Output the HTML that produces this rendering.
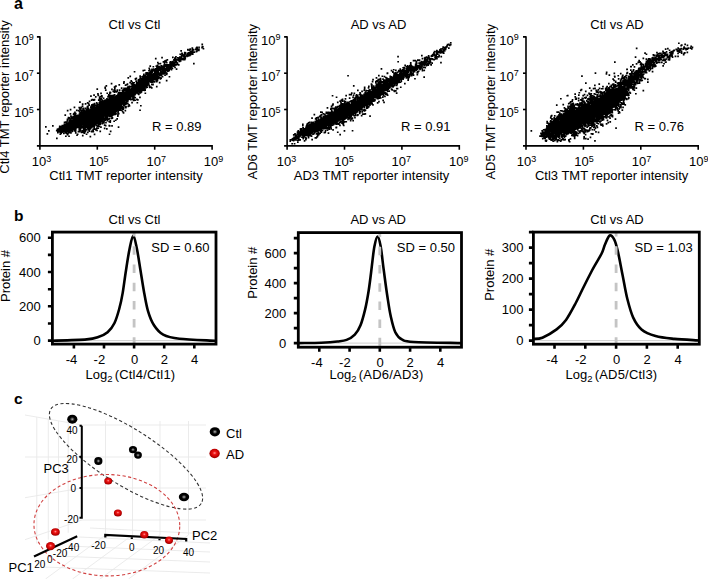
<!DOCTYPE html>
<html><head><meta charset="utf-8"><style>
html,body{margin:0;padding:0;background:#fff;}
svg{display:block;}
text{font-family:"Liberation Sans", sans-serif;fill:#000;}
</style></head><body>
<svg width="708" height="579" viewBox="0 0 708 579">
<defs>
<radialGradient id="gk" cx="0.5" cy="0.5" r="0.5"><stop offset="0" stop-color="#c8c8c8"/><stop offset="0.22" stop-color="#555"/><stop offset="0.5" stop-color="#000"/><stop offset="1" stop-color="#000"/></radialGradient>
<radialGradient id="gr" cx="0.5" cy="0.45" r="0.55"><stop offset="0" stop-color="#ff9a9a"/><stop offset="0.3" stop-color="#f01818"/><stop offset="0.75" stop-color="#c00000"/><stop offset="1" stop-color="#900000"/></radialGradient>
</defs>
<rect width="708" height="579" fill="#fff"/>
<text x="14" y="9" font-size="16" font-weight="bold">a</text>
<text x="14" y="220.5" font-size="15.5" font-weight="bold">b</text>
<text x="14" y="404.3" font-size="15.5" font-weight="bold">c</text>
<path d="M118.0 100.9h1.7v1.7h-1.7zM151.9 73.3h1.7v1.7h-1.7zM133.7 70.9h1.7v1.7h-1.7zM85.3 121.4h1.7v1.7h-1.7zM89.5 116.3h1.7v1.7h-1.7zM145.4 86.9h1.7v1.7h-1.7zM60.0 125.7h1.7v1.7h-1.7zM139.3 87.4h1.7v1.7h-1.7zM134.3 85.3h1.7v1.7h-1.7zM103.1 110.4h1.7v1.7h-1.7zM91.4 111.7h1.7v1.7h-1.7zM87.5 121.2h1.7v1.7h-1.7zM87.1 117.5h1.7v1.7h-1.7zM103.3 114.8h1.7v1.7h-1.7zM108.2 108.0h1.7v1.7h-1.7zM109.8 108.5h1.7v1.7h-1.7zM195.6 50.7h1.7v1.7h-1.7zM134.0 90.2h1.7v1.7h-1.7zM115.0 102.3h1.7v1.7h-1.7zM184.4 57.7h1.7v1.7h-1.7zM85.3 117.7h1.7v1.7h-1.7zM79.5 124.3h1.7v1.7h-1.7zM117.2 100.0h1.7v1.7h-1.7zM68.0 124.0h1.7v1.7h-1.7zM66.6 118.4h1.7v1.7h-1.7zM105.0 112.9h1.7v1.7h-1.7zM104.7 103.7h1.7v1.7h-1.7zM155.2 75.7h1.7v1.7h-1.7zM116.3 118.0h1.7v1.7h-1.7zM104.6 102.9h1.7v1.7h-1.7zM106.4 112.8h1.7v1.7h-1.7zM87.9 116.9h1.7v1.7h-1.7zM61.1 129.5h1.7v1.7h-1.7zM82.6 113.7h1.7v1.7h-1.7zM123.0 97.1h1.7v1.7h-1.7zM84.2 120.3h1.7v1.7h-1.7zM96.2 129.6h1.7v1.7h-1.7zM60.3 132.5h1.7v1.7h-1.7zM139.4 86.8h1.7v1.7h-1.7zM78.8 119.0h1.7v1.7h-1.7zM88.0 128.2h1.7v1.7h-1.7zM145.2 80.0h1.7v1.7h-1.7zM105.6 108.7h1.7v1.7h-1.7zM143.2 82.1h1.7v1.7h-1.7zM117.7 102.9h1.7v1.7h-1.7zM127.3 96.0h1.7v1.7h-1.7zM73.8 120.9h1.7v1.7h-1.7zM106.9 107.7h1.7v1.7h-1.7zM106.0 118.1h1.7v1.7h-1.7zM146.7 84.6h1.7v1.7h-1.7zM96.1 116.2h1.7v1.7h-1.7zM112.9 105.4h1.7v1.7h-1.7zM70.6 123.9h1.7v1.7h-1.7zM99.3 117.6h1.7v1.7h-1.7zM92.2 113.2h1.7v1.7h-1.7zM79.7 120.8h1.7v1.7h-1.7zM136.1 85.5h1.7v1.7h-1.7zM94.8 111.4h1.7v1.7h-1.7zM179.6 58.2h1.7v1.7h-1.7zM113.0 104.2h1.7v1.7h-1.7zM114.4 100.7h1.7v1.7h-1.7zM116.7 101.5h1.7v1.7h-1.7zM120.7 99.0h1.7v1.7h-1.7zM79.9 118.1h1.7v1.7h-1.7zM103.0 107.1h1.7v1.7h-1.7zM86.1 117.4h1.7v1.7h-1.7zM96.8 117.1h1.7v1.7h-1.7zM75.3 126.7h1.7v1.7h-1.7zM173.5 62.6h1.7v1.7h-1.7zM85.0 117.2h1.7v1.7h-1.7zM120.7 98.6h1.7v1.7h-1.7zM93.3 125.1h1.7v1.7h-1.7zM146.7 82.4h1.7v1.7h-1.7zM120.1 95.6h1.7v1.7h-1.7zM75.5 122.0h1.7v1.7h-1.7zM141.3 81.4h1.7v1.7h-1.7zM162.8 66.7h1.7v1.7h-1.7zM152.4 70.0h1.7v1.7h-1.7zM111.6 105.5h1.7v1.7h-1.7zM77.9 115.3h1.7v1.7h-1.7zM84.3 115.9h1.7v1.7h-1.7zM157.2 76.7h1.7v1.7h-1.7zM109.3 111.3h1.7v1.7h-1.7zM81.8 115.6h1.7v1.7h-1.7zM147.2 75.6h1.7v1.7h-1.7zM118.1 97.1h1.7v1.7h-1.7zM111.8 96.5h1.7v1.7h-1.7zM96.3 103.2h1.7v1.7h-1.7zM101.0 110.1h1.7v1.7h-1.7zM86.4 107.2h1.7v1.7h-1.7zM67.1 128.6h1.7v1.7h-1.7zM146.1 79.6h1.7v1.7h-1.7zM101.6 108.5h1.7v1.7h-1.7zM108.8 125.0h1.7v1.7h-1.7zM92.2 119.5h1.7v1.7h-1.7zM128.8 92.7h1.7v1.7h-1.7zM65.5 132.0h1.7v1.7h-1.7zM93.9 121.8h1.7v1.7h-1.7zM64.5 123.9h1.7v1.7h-1.7zM74.8 123.9h1.7v1.7h-1.7zM173.9 59.5h1.7v1.7h-1.7zM118.6 94.8h1.7v1.7h-1.7zM99.9 121.7h1.7v1.7h-1.7zM106.4 116.0h1.7v1.7h-1.7zM147.3 74.7h1.7v1.7h-1.7zM93.8 117.6h1.7v1.7h-1.7zM113.2 96.9h1.7v1.7h-1.7zM119.7 103.7h1.7v1.7h-1.7zM96.2 113.6h1.7v1.7h-1.7zM107.6 104.8h1.7v1.7h-1.7zM131.5 94.3h1.7v1.7h-1.7zM154.9 73.7h1.7v1.7h-1.7zM78.9 118.2h1.7v1.7h-1.7zM159.7 73.4h1.7v1.7h-1.7zM60.0 128.5h1.7v1.7h-1.7zM129.9 94.3h1.7v1.7h-1.7zM136.7 86.7h1.7v1.7h-1.7zM77.9 124.6h1.7v1.7h-1.7zM99.2 115.6h1.7v1.7h-1.7zM138.3 88.0h1.7v1.7h-1.7zM63.3 125.7h1.7v1.7h-1.7zM116.4 109.7h1.7v1.7h-1.7zM136.4 86.3h1.7v1.7h-1.7zM105.2 118.3h1.7v1.7h-1.7zM126.0 90.4h1.7v1.7h-1.7zM87.0 116.4h1.7v1.7h-1.7zM82.6 118.1h1.7v1.7h-1.7zM94.0 120.9h1.7v1.7h-1.7zM82.9 117.2h1.7v1.7h-1.7zM94.9 119.3h1.7v1.7h-1.7zM163.4 64.0h1.7v1.7h-1.7zM112.3 102.5h1.7v1.7h-1.7zM92.9 116.7h1.7v1.7h-1.7zM87.4 117.1h1.7v1.7h-1.7zM165.9 61.8h1.7v1.7h-1.7zM101.1 114.0h1.7v1.7h-1.7zM179.0 56.2h1.7v1.7h-1.7zM106.5 118.1h1.7v1.7h-1.7zM106.3 107.6h1.7v1.7h-1.7zM151.0 83.6h1.7v1.7h-1.7zM128.2 95.1h1.7v1.7h-1.7zM112.9 106.3h1.7v1.7h-1.7zM99.8 109.6h1.7v1.7h-1.7zM146.1 79.0h1.7v1.7h-1.7zM97.9 115.4h1.7v1.7h-1.7zM156.7 66.5h1.7v1.7h-1.7zM72.4 127.4h1.7v1.7h-1.7zM101.4 105.3h1.7v1.7h-1.7zM106.6 105.8h1.7v1.7h-1.7zM166.5 59.0h1.7v1.7h-1.7zM86.0 123.0h1.7v1.7h-1.7zM137.3 88.6h1.7v1.7h-1.7zM120.6 101.2h1.7v1.7h-1.7zM126.1 95.7h1.7v1.7h-1.7zM117.1 100.0h1.7v1.7h-1.7zM174.6 61.8h1.7v1.7h-1.7zM93.7 121.4h1.7v1.7h-1.7zM97.1 111.2h1.7v1.7h-1.7zM83.3 121.4h1.7v1.7h-1.7zM69.7 127.5h1.7v1.7h-1.7zM88.3 116.1h1.7v1.7h-1.7zM155.8 73.7h1.7v1.7h-1.7zM141.3 84.0h1.7v1.7h-1.7zM74.6 120.8h1.7v1.7h-1.7zM115.2 113.1h1.7v1.7h-1.7zM102.5 106.0h1.7v1.7h-1.7zM112.5 112.2h1.7v1.7h-1.7zM119.6 103.7h1.7v1.7h-1.7zM90.2 106.3h1.7v1.7h-1.7zM171.4 64.2h1.7v1.7h-1.7zM104.3 115.2h1.7v1.7h-1.7zM115.8 105.8h1.7v1.7h-1.7zM116.4 98.2h1.7v1.7h-1.7zM80.5 122.7h1.7v1.7h-1.7zM68.7 117.8h1.7v1.7h-1.7zM99.6 106.8h1.7v1.7h-1.7zM131.4 88.9h1.7v1.7h-1.7zM137.9 86.3h1.7v1.7h-1.7zM127.0 99.2h1.7v1.7h-1.7zM75.1 123.9h1.7v1.7h-1.7zM155.0 76.9h1.7v1.7h-1.7zM134.3 84.5h1.7v1.7h-1.7zM147.3 75.1h1.7v1.7h-1.7zM109.0 104.5h1.7v1.7h-1.7zM156.5 78.0h1.7v1.7h-1.7zM67.6 122.3h1.7v1.7h-1.7zM65.3 123.2h1.7v1.7h-1.7zM65.2 127.1h1.7v1.7h-1.7zM89.1 123.0h1.7v1.7h-1.7zM85.5 110.4h1.7v1.7h-1.7zM81.7 118.4h1.7v1.7h-1.7zM111.2 99.1h1.7v1.7h-1.7zM68.2 135.4h1.7v1.7h-1.7zM112.1 107.9h1.7v1.7h-1.7zM81.0 121.1h1.7v1.7h-1.7zM120.8 98.5h1.7v1.7h-1.7zM66.3 126.2h1.7v1.7h-1.7zM92.1 116.6h1.7v1.7h-1.7zM161.2 67.9h1.7v1.7h-1.7zM108.3 102.9h1.7v1.7h-1.7zM138.1 81.9h1.7v1.7h-1.7zM119.8 99.4h1.7v1.7h-1.7zM113.7 96.2h1.7v1.7h-1.7zM82.7 123.4h1.7v1.7h-1.7zM110.3 96.0h1.7v1.7h-1.7zM66.3 128.4h1.7v1.7h-1.7zM134.4 90.0h1.7v1.7h-1.7zM168.0 69.1h1.7v1.7h-1.7zM142.6 81.4h1.7v1.7h-1.7zM67.6 116.7h1.7v1.7h-1.7zM94.3 110.0h1.7v1.7h-1.7zM93.1 128.2h1.7v1.7h-1.7zM75.4 121.1h1.7v1.7h-1.7zM115.1 101.0h1.7v1.7h-1.7zM135.9 85.2h1.7v1.7h-1.7zM89.9 116.4h1.7v1.7h-1.7zM142.8 81.3h1.7v1.7h-1.7zM135.8 82.1h1.7v1.7h-1.7zM77.8 118.5h1.7v1.7h-1.7zM132.1 93.2h1.7v1.7h-1.7zM148.0 83.3h1.7v1.7h-1.7zM81.7 119.0h1.7v1.7h-1.7zM111.0 103.0h1.7v1.7h-1.7zM117.9 112.8h1.7v1.7h-1.7zM113.9 102.0h1.7v1.7h-1.7zM73.3 119.0h1.7v1.7h-1.7zM118.1 99.7h1.7v1.7h-1.7zM115.5 105.5h1.7v1.7h-1.7zM139.6 89.7h1.7v1.7h-1.7zM136.4 85.2h1.7v1.7h-1.7zM91.8 118.9h1.7v1.7h-1.7zM124.8 94.4h1.7v1.7h-1.7zM144.9 84.5h1.7v1.7h-1.7zM150.7 77.3h1.7v1.7h-1.7zM78.8 123.2h1.7v1.7h-1.7zM64.9 124.9h1.7v1.7h-1.7zM116.3 100.6h1.7v1.7h-1.7zM83.1 117.6h1.7v1.7h-1.7zM111.1 88.6h1.7v1.7h-1.7zM164.3 70.4h1.7v1.7h-1.7zM95.6 114.1h1.7v1.7h-1.7zM86.6 116.9h1.7v1.7h-1.7zM103.3 108.4h1.7v1.7h-1.7zM118.7 100.4h1.7v1.7h-1.7zM73.9 125.1h1.7v1.7h-1.7zM97.4 106.4h1.7v1.7h-1.7zM77.8 121.6h1.7v1.7h-1.7zM120.7 99.1h1.7v1.7h-1.7zM140.5 83.8h1.7v1.7h-1.7zM96.0 106.2h1.7v1.7h-1.7zM96.1 112.4h1.7v1.7h-1.7zM108.7 100.7h1.7v1.7h-1.7zM83.0 120.8h1.7v1.7h-1.7zM85.9 124.5h1.7v1.7h-1.7zM94.1 119.4h1.7v1.7h-1.7zM101.0 109.7h1.7v1.7h-1.7zM73.4 121.3h1.7v1.7h-1.7zM129.7 90.0h1.7v1.7h-1.7zM111.9 108.4h1.7v1.7h-1.7zM91.4 112.7h1.7v1.7h-1.7zM72.4 121.8h1.7v1.7h-1.7zM131.9 82.1h1.7v1.7h-1.7zM76.9 117.9h1.7v1.7h-1.7zM77.3 118.0h1.7v1.7h-1.7zM77.1 119.2h1.7v1.7h-1.7zM74.2 127.6h1.7v1.7h-1.7zM154.0 69.9h1.7v1.7h-1.7zM87.7 110.8h1.7v1.7h-1.7zM91.1 123.0h1.7v1.7h-1.7zM139.4 77.5h1.7v1.7h-1.7zM115.6 101.7h1.7v1.7h-1.7zM82.3 120.2h1.7v1.7h-1.7zM103.2 110.4h1.7v1.7h-1.7zM146.6 76.7h1.7v1.7h-1.7zM97.5 118.0h1.7v1.7h-1.7zM125.0 106.7h1.7v1.7h-1.7zM73.3 119.6h1.7v1.7h-1.7zM126.3 93.5h1.7v1.7h-1.7zM131.9 93.1h1.7v1.7h-1.7zM139.1 84.1h1.7v1.7h-1.7zM121.8 94.1h1.7v1.7h-1.7zM94.6 112.4h1.7v1.7h-1.7zM71.7 130.4h1.7v1.7h-1.7zM106.8 103.2h1.7v1.7h-1.7zM131.5 92.2h1.7v1.7h-1.7zM82.8 121.0h1.7v1.7h-1.7zM89.6 113.5h1.7v1.7h-1.7zM109.1 109.4h1.7v1.7h-1.7zM130.0 93.6h1.7v1.7h-1.7zM151.0 79.6h1.7v1.7h-1.7zM76.0 125.8h1.7v1.7h-1.7zM82.6 112.2h1.7v1.7h-1.7zM136.1 89.9h1.7v1.7h-1.7zM120.0 101.5h1.7v1.7h-1.7zM123.7 99.9h1.7v1.7h-1.7zM195.5 47.2h1.7v1.7h-1.7zM162.7 71.5h1.7v1.7h-1.7zM140.4 86.6h1.7v1.7h-1.7zM132.3 86.2h1.7v1.7h-1.7zM100.1 126.2h1.7v1.7h-1.7zM119.0 96.9h1.7v1.7h-1.7zM81.0 109.7h1.7v1.7h-1.7zM131.7 91.5h1.7v1.7h-1.7zM131.2 86.5h1.7v1.7h-1.7zM126.5 95.4h1.7v1.7h-1.7zM102.0 109.7h1.7v1.7h-1.7zM97.0 116.7h1.7v1.7h-1.7zM98.9 116.7h1.7v1.7h-1.7zM65.6 127.0h1.7v1.7h-1.7zM142.5 85.3h1.7v1.7h-1.7zM109.1 110.8h1.7v1.7h-1.7zM99.3 103.0h1.7v1.7h-1.7zM109.1 115.6h1.7v1.7h-1.7zM123.4 98.9h1.7v1.7h-1.7zM96.6 114.3h1.7v1.7h-1.7zM140.0 87.9h1.7v1.7h-1.7zM156.5 77.7h1.7v1.7h-1.7zM97.5 121.8h1.7v1.7h-1.7zM77.1 115.2h1.7v1.7h-1.7zM131.9 91.6h1.7v1.7h-1.7zM189.9 51.0h1.7v1.7h-1.7zM79.6 119.1h1.7v1.7h-1.7zM124.5 97.0h1.7v1.7h-1.7zM137.8 84.7h1.7v1.7h-1.7zM157.8 76.8h1.7v1.7h-1.7zM74.1 124.0h1.7v1.7h-1.7zM72.7 123.9h1.7v1.7h-1.7zM186.1 55.5h1.7v1.7h-1.7zM75.7 125.4h1.7v1.7h-1.7zM82.0 131.4h1.7v1.7h-1.7zM111.6 108.0h1.7v1.7h-1.7zM101.3 111.0h1.7v1.7h-1.7zM131.3 91.0h1.7v1.7h-1.7zM82.2 109.3h1.7v1.7h-1.7zM154.7 69.1h1.7v1.7h-1.7zM83.5 129.7h1.7v1.7h-1.7zM130.7 90.0h1.7v1.7h-1.7zM71.4 130.6h1.7v1.7h-1.7zM104.3 119.2h1.7v1.7h-1.7zM66.0 123.6h1.7v1.7h-1.7zM91.3 117.9h1.7v1.7h-1.7zM92.5 130.7h1.7v1.7h-1.7zM123.9 93.4h1.7v1.7h-1.7zM102.1 113.0h1.7v1.7h-1.7zM69.2 124.7h1.7v1.7h-1.7zM192.7 49.0h1.7v1.7h-1.7zM149.5 76.4h1.7v1.7h-1.7zM154.7 73.7h1.7v1.7h-1.7zM86.1 126.2h1.7v1.7h-1.7zM99.7 108.0h1.7v1.7h-1.7zM86.1 120.5h1.7v1.7h-1.7zM78.0 117.9h1.7v1.7h-1.7zM66.1 128.4h1.7v1.7h-1.7zM107.0 109.7h1.7v1.7h-1.7zM77.4 118.0h1.7v1.7h-1.7zM82.5 120.0h1.7v1.7h-1.7zM146.7 76.8h1.7v1.7h-1.7zM104.3 105.4h1.7v1.7h-1.7zM82.1 124.9h1.7v1.7h-1.7zM120.3 92.0h1.7v1.7h-1.7zM84.9 121.2h1.7v1.7h-1.7zM106.4 112.1h1.7v1.7h-1.7zM89.7 113.8h1.7v1.7h-1.7zM107.6 113.1h1.7v1.7h-1.7zM115.8 106.1h1.7v1.7h-1.7zM109.7 100.2h1.7v1.7h-1.7zM99.3 115.1h1.7v1.7h-1.7zM133.9 90.2h1.7v1.7h-1.7zM148.0 76.0h1.7v1.7h-1.7zM83.3 121.8h1.7v1.7h-1.7zM78.3 128.1h1.7v1.7h-1.7zM74.7 119.8h1.7v1.7h-1.7zM181.1 52.4h1.7v1.7h-1.7zM162.2 70.4h1.7v1.7h-1.7zM85.3 114.8h1.7v1.7h-1.7zM174.2 57.2h1.7v1.7h-1.7zM83.3 115.2h1.7v1.7h-1.7zM107.3 96.1h1.7v1.7h-1.7zM106.3 106.9h1.7v1.7h-1.7zM156.3 77.4h1.7v1.7h-1.7zM67.8 117.6h1.7v1.7h-1.7zM91.3 118.6h1.7v1.7h-1.7zM113.7 99.6h1.7v1.7h-1.7zM71.5 122.8h1.7v1.7h-1.7zM85.7 108.7h1.7v1.7h-1.7zM106.1 112.0h1.7v1.7h-1.7zM147.7 78.6h1.7v1.7h-1.7zM129.9 89.2h1.7v1.7h-1.7zM140.7 79.2h1.7v1.7h-1.7zM131.2 89.3h1.7v1.7h-1.7zM124.3 100.1h1.7v1.7h-1.7zM142.4 78.2h1.7v1.7h-1.7zM122.0 101.2h1.7v1.7h-1.7zM128.3 94.0h1.7v1.7h-1.7zM91.9 105.7h1.7v1.7h-1.7zM80.2 125.2h1.7v1.7h-1.7zM130.4 91.2h1.7v1.7h-1.7zM81.2 130.1h1.7v1.7h-1.7zM156.9 77.7h1.7v1.7h-1.7zM110.5 104.7h1.7v1.7h-1.7zM92.3 115.1h1.7v1.7h-1.7zM160.1 67.4h1.7v1.7h-1.7zM79.3 114.2h1.7v1.7h-1.7zM107.0 112.1h1.7v1.7h-1.7zM74.4 121.8h1.7v1.7h-1.7zM172.4 61.8h1.7v1.7h-1.7zM111.6 104.3h1.7v1.7h-1.7zM136.0 89.3h1.7v1.7h-1.7zM91.4 121.1h1.7v1.7h-1.7zM135.1 87.8h1.7v1.7h-1.7zM124.1 95.4h1.7v1.7h-1.7zM119.4 100.2h1.7v1.7h-1.7zM165.8 79.8h1.7v1.7h-1.7zM98.8 101.7h1.7v1.7h-1.7zM99.8 106.0h1.7v1.7h-1.7zM122.3 99.3h1.7v1.7h-1.7zM140.3 84.4h1.7v1.7h-1.7zM94.6 121.1h1.7v1.7h-1.7zM120.8 109.6h1.7v1.7h-1.7zM83.7 128.4h1.7v1.7h-1.7zM110.7 97.7h1.7v1.7h-1.7zM131.9 92.1h1.7v1.7h-1.7zM70.6 123.9h1.7v1.7h-1.7zM126.8 97.3h1.7v1.7h-1.7zM63.0 129.0h1.7v1.7h-1.7zM168.3 68.0h1.7v1.7h-1.7zM103.0 102.3h1.7v1.7h-1.7zM99.1 114.5h1.7v1.7h-1.7zM124.8 93.8h1.7v1.7h-1.7zM106.3 107.3h1.7v1.7h-1.7zM128.2 91.5h1.7v1.7h-1.7zM72.6 120.0h1.7v1.7h-1.7zM110.7 111.0h1.7v1.7h-1.7zM110.2 107.5h1.7v1.7h-1.7zM159.6 78.0h1.7v1.7h-1.7zM67.1 123.6h1.7v1.7h-1.7zM102.3 100.6h1.7v1.7h-1.7zM115.8 96.5h1.7v1.7h-1.7zM110.6 105.0h1.7v1.7h-1.7zM70.9 127.3h1.7v1.7h-1.7zM114.3 113.5h1.7v1.7h-1.7zM83.1 131.8h1.7v1.7h-1.7zM81.8 126.8h1.7v1.7h-1.7zM148.5 80.5h1.7v1.7h-1.7zM82.9 120.5h1.7v1.7h-1.7zM101.7 107.2h1.7v1.7h-1.7zM129.5 94.1h1.7v1.7h-1.7zM123.2 95.0h1.7v1.7h-1.7zM110.0 102.3h1.7v1.7h-1.7zM134.3 90.4h1.7v1.7h-1.7zM102.8 111.8h1.7v1.7h-1.7zM115.0 106.6h1.7v1.7h-1.7zM138.7 82.8h1.7v1.7h-1.7zM122.1 102.1h1.7v1.7h-1.7zM116.8 103.2h1.7v1.7h-1.7zM100.4 110.9h1.7v1.7h-1.7zM109.7 102.7h1.7v1.7h-1.7zM96.0 108.4h1.7v1.7h-1.7zM126.1 89.9h1.7v1.7h-1.7zM98.5 120.2h1.7v1.7h-1.7zM103.2 103.0h1.7v1.7h-1.7zM129.2 96.7h1.7v1.7h-1.7zM105.3 108.0h1.7v1.7h-1.7zM92.7 112.7h1.7v1.7h-1.7zM140.6 82.1h1.7v1.7h-1.7zM96.9 113.1h1.7v1.7h-1.7zM143.7 84.6h1.7v1.7h-1.7zM133.4 90.9h1.7v1.7h-1.7zM99.5 112.3h1.7v1.7h-1.7zM125.7 90.1h1.7v1.7h-1.7zM65.9 122.2h1.7v1.7h-1.7zM97.4 123.2h1.7v1.7h-1.7zM145.9 76.5h1.7v1.7h-1.7zM111.8 97.7h1.7v1.7h-1.7zM111.4 110.5h1.7v1.7h-1.7zM119.9 93.5h1.7v1.7h-1.7zM120.4 101.9h1.7v1.7h-1.7zM112.9 108.5h1.7v1.7h-1.7zM99.3 113.7h1.7v1.7h-1.7zM83.1 123.8h1.7v1.7h-1.7zM91.4 109.0h1.7v1.7h-1.7zM90.5 110.2h1.7v1.7h-1.7zM101.2 109.4h1.7v1.7h-1.7zM201.2 46.9h1.7v1.7h-1.7zM94.6 114.3h1.7v1.7h-1.7zM102.8 113.1h1.7v1.7h-1.7zM96.0 110.1h1.7v1.7h-1.7zM112.9 94.6h1.7v1.7h-1.7zM163.6 69.6h1.7v1.7h-1.7zM149.6 76.6h1.7v1.7h-1.7zM97.1 117.8h1.7v1.7h-1.7zM87.7 128.0h1.7v1.7h-1.7zM148.2 78.6h1.7v1.7h-1.7zM104.8 116.4h1.7v1.7h-1.7zM122.7 93.9h1.7v1.7h-1.7zM70.8 127.7h1.7v1.7h-1.7zM145.8 81.1h1.7v1.7h-1.7zM93.5 116.6h1.7v1.7h-1.7zM105.7 113.8h1.7v1.7h-1.7zM81.4 114.4h1.7v1.7h-1.7zM100.0 115.0h1.7v1.7h-1.7zM140.5 85.4h1.7v1.7h-1.7zM139.1 96.6h1.7v1.7h-1.7zM104.9 89.3h1.7v1.7h-1.7zM132.0 89.8h1.7v1.7h-1.7zM103.1 122.0h1.7v1.7h-1.7zM96.1 111.8h1.7v1.7h-1.7zM108.8 104.8h1.7v1.7h-1.7zM83.1 127.7h1.7v1.7h-1.7zM92.3 129.1h1.7v1.7h-1.7zM124.7 96.1h1.7v1.7h-1.7zM132.1 87.7h1.7v1.7h-1.7zM69.2 123.5h1.7v1.7h-1.7zM127.2 92.4h1.7v1.7h-1.7zM138.3 82.6h1.7v1.7h-1.7zM100.1 107.7h1.7v1.7h-1.7zM69.4 125.9h1.7v1.7h-1.7zM120.9 98.8h1.7v1.7h-1.7zM86.7 120.3h1.7v1.7h-1.7zM117.5 101.3h1.7v1.7h-1.7zM96.4 107.5h1.7v1.7h-1.7zM116.4 108.8h1.7v1.7h-1.7zM88.5 118.5h1.7v1.7h-1.7zM104.3 106.8h1.7v1.7h-1.7zM106.0 107.4h1.7v1.7h-1.7zM116.7 103.1h1.7v1.7h-1.7zM82.3 120.3h1.7v1.7h-1.7zM172.0 62.8h1.7v1.7h-1.7zM89.7 120.8h1.7v1.7h-1.7zM91.0 121.9h1.7v1.7h-1.7zM87.8 115.9h1.7v1.7h-1.7zM70.6 124.6h1.7v1.7h-1.7zM100.0 106.2h1.7v1.7h-1.7zM133.4 87.9h1.7v1.7h-1.7zM124.8 97.3h1.7v1.7h-1.7zM83.7 123.1h1.7v1.7h-1.7zM79.1 121.3h1.7v1.7h-1.7zM91.6 115.7h1.7v1.7h-1.7zM133.1 87.0h1.7v1.7h-1.7zM105.6 110.2h1.7v1.7h-1.7zM158.1 68.3h1.7v1.7h-1.7zM118.2 101.2h1.7v1.7h-1.7zM116.5 101.9h1.7v1.7h-1.7zM131.7 87.4h1.7v1.7h-1.7zM128.6 93.7h1.7v1.7h-1.7zM96.5 111.4h1.7v1.7h-1.7zM88.3 120.4h1.7v1.7h-1.7zM100.9 106.2h1.7v1.7h-1.7zM105.2 111.9h1.7v1.7h-1.7zM79.3 127.6h1.7v1.7h-1.7zM102.6 112.9h1.7v1.7h-1.7zM118.1 104.0h1.7v1.7h-1.7zM79.0 117.6h1.7v1.7h-1.7zM79.5 118.8h1.7v1.7h-1.7zM79.8 111.6h1.7v1.7h-1.7zM89.2 115.4h1.7v1.7h-1.7zM169.2 61.8h1.7v1.7h-1.7zM65.0 127.6h1.7v1.7h-1.7zM83.3 109.2h1.7v1.7h-1.7zM81.0 115.8h1.7v1.7h-1.7zM102.8 111.0h1.7v1.7h-1.7zM62.4 129.0h1.7v1.7h-1.7zM103.7 101.4h1.7v1.7h-1.7zM79.6 118.4h1.7v1.7h-1.7zM88.6 130.2h1.7v1.7h-1.7zM134.8 90.6h1.7v1.7h-1.7zM80.1 121.8h1.7v1.7h-1.7zM116.2 90.4h1.7v1.7h-1.7zM99.2 107.6h1.7v1.7h-1.7zM100.2 114.6h1.7v1.7h-1.7zM136.9 87.3h1.7v1.7h-1.7zM79.2 122.5h1.7v1.7h-1.7zM156.7 79.0h1.7v1.7h-1.7zM150.6 76.9h1.7v1.7h-1.7zM120.3 106.3h1.7v1.7h-1.7zM68.6 120.1h1.7v1.7h-1.7zM121.5 107.6h1.7v1.7h-1.7zM115.2 101.4h1.7v1.7h-1.7zM131.2 86.3h1.7v1.7h-1.7zM83.7 126.1h1.7v1.7h-1.7zM168.3 69.2h1.7v1.7h-1.7zM148.6 85.1h1.7v1.7h-1.7zM77.2 118.7h1.7v1.7h-1.7zM93.7 116.6h1.7v1.7h-1.7zM65.5 129.1h1.7v1.7h-1.7zM139.6 76.2h1.7v1.7h-1.7zM155.2 72.7h1.7v1.7h-1.7zM186.6 53.0h1.7v1.7h-1.7zM113.9 102.2h1.7v1.7h-1.7zM119.6 96.8h1.7v1.7h-1.7zM122.1 92.9h1.7v1.7h-1.7zM110.9 107.6h1.7v1.7h-1.7zM166.0 67.6h1.7v1.7h-1.7zM114.1 108.5h1.7v1.7h-1.7zM92.3 115.5h1.7v1.7h-1.7zM108.2 104.0h1.7v1.7h-1.7zM61.2 125.9h1.7v1.7h-1.7zM125.5 95.3h1.7v1.7h-1.7zM123.4 95.5h1.7v1.7h-1.7zM98.5 123.2h1.7v1.7h-1.7zM143.6 89.5h1.7v1.7h-1.7zM131.1 95.7h1.7v1.7h-1.7zM92.8 110.8h1.7v1.7h-1.7zM72.2 118.9h1.7v1.7h-1.7zM76.4 120.8h1.7v1.7h-1.7zM82.4 115.1h1.7v1.7h-1.7zM91.4 123.6h1.7v1.7h-1.7zM102.1 111.5h1.7v1.7h-1.7zM159.8 68.0h1.7v1.7h-1.7zM89.8 116.7h1.7v1.7h-1.7zM152.8 79.1h1.7v1.7h-1.7zM122.1 94.1h1.7v1.7h-1.7zM142.1 84.3h1.7v1.7h-1.7zM98.9 97.6h1.7v1.7h-1.7zM58.8 129.1h1.7v1.7h-1.7zM132.4 87.7h1.7v1.7h-1.7zM88.2 118.9h1.7v1.7h-1.7zM78.5 122.3h1.7v1.7h-1.7zM135.8 91.2h1.7v1.7h-1.7zM121.2 101.0h1.7v1.7h-1.7zM84.3 115.7h1.7v1.7h-1.7zM88.8 110.4h1.7v1.7h-1.7zM161.3 67.2h1.7v1.7h-1.7zM88.7 115.0h1.7v1.7h-1.7zM121.6 96.2h1.7v1.7h-1.7zM78.6 117.3h1.7v1.7h-1.7zM136.5 90.3h1.7v1.7h-1.7zM74.0 126.6h1.7v1.7h-1.7zM106.0 107.3h1.7v1.7h-1.7zM65.6 125.8h1.7v1.7h-1.7zM110.2 104.8h1.7v1.7h-1.7zM141.3 83.0h1.7v1.7h-1.7zM73.1 123.4h1.7v1.7h-1.7zM88.1 109.2h1.7v1.7h-1.7zM133.2 87.8h1.7v1.7h-1.7zM115.1 85.3h1.7v1.7h-1.7zM93.9 115.4h1.7v1.7h-1.7zM115.4 108.8h1.7v1.7h-1.7zM103.1 104.8h1.7v1.7h-1.7zM143.8 81.9h1.7v1.7h-1.7zM91.0 113.1h1.7v1.7h-1.7zM130.8 88.7h1.7v1.7h-1.7zM115.5 110.9h1.7v1.7h-1.7zM126.9 100.5h1.7v1.7h-1.7zM95.6 116.7h1.7v1.7h-1.7zM124.7 94.1h1.7v1.7h-1.7zM122.6 98.8h1.7v1.7h-1.7zM96.5 112.7h1.7v1.7h-1.7zM63.6 128.8h1.7v1.7h-1.7zM170.8 61.5h1.7v1.7h-1.7zM125.5 94.7h1.7v1.7h-1.7zM82.3 117.5h1.7v1.7h-1.7zM126.3 83.9h1.7v1.7h-1.7zM89.4 125.5h1.7v1.7h-1.7zM103.3 114.6h1.7v1.7h-1.7zM143.6 78.7h1.7v1.7h-1.7zM102.7 102.9h1.7v1.7h-1.7zM90.9 112.6h1.7v1.7h-1.7zM92.1 106.5h1.7v1.7h-1.7zM71.7 121.9h1.7v1.7h-1.7zM86.8 110.3h1.7v1.7h-1.7zM90.5 112.2h1.7v1.7h-1.7zM80.6 120.2h1.7v1.7h-1.7zM70.1 127.9h1.7v1.7h-1.7zM104.4 87.4h1.7v1.7h-1.7zM83.6 118.9h1.7v1.7h-1.7zM128.2 85.9h1.7v1.7h-1.7zM157.0 69.0h1.7v1.7h-1.7zM88.2 113.8h1.7v1.7h-1.7zM111.3 102.1h1.7v1.7h-1.7zM104.7 113.2h1.7v1.7h-1.7zM71.2 126.8h1.7v1.7h-1.7zM74.8 121.3h1.7v1.7h-1.7zM150.9 74.2h1.7v1.7h-1.7zM105.4 118.5h1.7v1.7h-1.7zM137.4 92.3h1.7v1.7h-1.7zM71.0 125.8h1.7v1.7h-1.7zM114.4 102.5h1.7v1.7h-1.7zM146.5 82.9h1.7v1.7h-1.7zM146.5 84.4h1.7v1.7h-1.7zM60.5 126.8h1.7v1.7h-1.7zM106.5 117.6h1.7v1.7h-1.7zM96.5 112.8h1.7v1.7h-1.7zM129.8 95.1h1.7v1.7h-1.7zM70.3 123.1h1.7v1.7h-1.7zM87.2 118.0h1.7v1.7h-1.7zM137.7 84.3h1.7v1.7h-1.7zM104.6 109.8h1.7v1.7h-1.7zM100.9 116.8h1.7v1.7h-1.7zM175.1 56.0h1.7v1.7h-1.7zM93.9 113.4h1.7v1.7h-1.7zM67.0 128.0h1.7v1.7h-1.7zM97.3 110.8h1.7v1.7h-1.7zM79.3 129.7h1.7v1.7h-1.7zM73.5 117.7h1.7v1.7h-1.7zM110.7 117.6h1.7v1.7h-1.7zM165.6 65.3h1.7v1.7h-1.7zM112.4 109.0h1.7v1.7h-1.7zM116.1 109.0h1.7v1.7h-1.7zM92.9 118.3h1.7v1.7h-1.7zM112.5 90.5h1.7v1.7h-1.7zM129.7 89.4h1.7v1.7h-1.7zM113.7 104.3h1.7v1.7h-1.7zM136.4 88.7h1.7v1.7h-1.7zM110.4 110.5h1.7v1.7h-1.7zM83.2 124.4h1.7v1.7h-1.7zM111.5 112.0h1.7v1.7h-1.7zM104.9 104.4h1.7v1.7h-1.7zM80.3 124.6h1.7v1.7h-1.7zM116.8 94.3h1.7v1.7h-1.7zM139.5 85.0h1.7v1.7h-1.7zM78.2 116.1h1.7v1.7h-1.7zM108.5 98.2h1.7v1.7h-1.7zM126.5 97.4h1.7v1.7h-1.7zM98.4 112.6h1.7v1.7h-1.7zM90.1 121.8h1.7v1.7h-1.7zM96.6 105.2h1.7v1.7h-1.7zM108.9 100.8h1.7v1.7h-1.7zM121.3 97.8h1.7v1.7h-1.7zM111.3 102.1h1.7v1.7h-1.7zM75.4 122.5h1.7v1.7h-1.7zM137.9 83.5h1.7v1.7h-1.7zM157.4 70.9h1.7v1.7h-1.7zM76.2 117.0h1.7v1.7h-1.7zM87.0 131.6h1.7v1.7h-1.7zM82.7 117.6h1.7v1.7h-1.7zM143.8 77.1h1.7v1.7h-1.7zM154.0 78.9h1.7v1.7h-1.7zM68.7 127.2h1.7v1.7h-1.7zM93.2 116.4h1.7v1.7h-1.7zM81.8 120.6h1.7v1.7h-1.7zM103.2 108.2h1.7v1.7h-1.7zM155.8 72.5h1.7v1.7h-1.7zM71.6 116.2h1.7v1.7h-1.7zM80.9 112.5h1.7v1.7h-1.7zM105.4 102.7h1.7v1.7h-1.7zM108.4 108.5h1.7v1.7h-1.7zM125.5 99.3h1.7v1.7h-1.7zM101.5 110.3h1.7v1.7h-1.7zM76.5 120.6h1.7v1.7h-1.7zM95.1 120.4h1.7v1.7h-1.7zM180.4 56.6h1.7v1.7h-1.7zM129.3 94.2h1.7v1.7h-1.7zM77.4 123.2h1.7v1.7h-1.7zM134.9 78.4h1.7v1.7h-1.7zM92.0 117.6h1.7v1.7h-1.7zM133.0 90.0h1.7v1.7h-1.7zM60.1 127.0h1.7v1.7h-1.7zM146.9 75.6h1.7v1.7h-1.7zM80.1 107.3h1.7v1.7h-1.7zM102.0 118.2h1.7v1.7h-1.7zM118.9 108.7h1.7v1.7h-1.7zM109.6 109.8h1.7v1.7h-1.7zM80.0 127.5h1.7v1.7h-1.7zM76.3 116.1h1.7v1.7h-1.7zM88.9 124.3h1.7v1.7h-1.7zM68.5 131.9h1.7v1.7h-1.7zM84.1 126.6h1.7v1.7h-1.7zM77.2 117.2h1.7v1.7h-1.7zM102.1 116.6h1.7v1.7h-1.7zM95.7 113.5h1.7v1.7h-1.7zM112.2 109.6h1.7v1.7h-1.7zM88.2 114.0h1.7v1.7h-1.7zM65.4 127.2h1.7v1.7h-1.7zM92.9 112.4h1.7v1.7h-1.7zM130.6 92.6h1.7v1.7h-1.7zM88.1 116.8h1.7v1.7h-1.7zM98.4 118.7h1.7v1.7h-1.7zM129.8 94.3h1.7v1.7h-1.7zM99.1 117.2h1.7v1.7h-1.7zM151.1 76.1h1.7v1.7h-1.7zM155.2 72.4h1.7v1.7h-1.7zM92.2 115.8h1.7v1.7h-1.7zM128.2 98.3h1.7v1.7h-1.7zM86.5 119.3h1.7v1.7h-1.7zM78.3 123.7h1.7v1.7h-1.7zM101.3 111.1h1.7v1.7h-1.7zM113.6 103.4h1.7v1.7h-1.7zM161.1 67.8h1.7v1.7h-1.7zM79.7 111.5h1.7v1.7h-1.7zM125.9 99.0h1.7v1.7h-1.7zM103.7 113.0h1.7v1.7h-1.7zM77.6 116.8h1.7v1.7h-1.7zM177.9 64.1h1.7v1.7h-1.7zM121.9 93.3h1.7v1.7h-1.7zM77.4 125.7h1.7v1.7h-1.7zM153.8 75.2h1.7v1.7h-1.7zM74.9 123.8h1.7v1.7h-1.7zM74.3 127.3h1.7v1.7h-1.7zM93.5 120.1h1.7v1.7h-1.7zM162.0 69.3h1.7v1.7h-1.7zM67.4 123.1h1.7v1.7h-1.7zM155.6 69.2h1.7v1.7h-1.7zM115.1 103.6h1.7v1.7h-1.7zM70.7 130.1h1.7v1.7h-1.7zM110.8 109.8h1.7v1.7h-1.7zM102.7 110.2h1.7v1.7h-1.7zM109.7 107.9h1.7v1.7h-1.7zM128.4 95.1h1.7v1.7h-1.7zM123.0 103.4h1.7v1.7h-1.7zM198.2 46.6h1.7v1.7h-1.7zM80.9 123.3h1.7v1.7h-1.7zM136.3 88.9h1.7v1.7h-1.7zM100.7 107.5h1.7v1.7h-1.7zM132.6 86.3h1.7v1.7h-1.7zM150.0 86.3h1.7v1.7h-1.7zM191.4 50.9h1.7v1.7h-1.7zM87.3 116.5h1.7v1.7h-1.7zM103.1 111.5h1.7v1.7h-1.7zM163.1 71.6h1.7v1.7h-1.7zM163.6 68.6h1.7v1.7h-1.7zM95.5 122.8h1.7v1.7h-1.7zM162.4 68.3h1.7v1.7h-1.7zM98.3 108.6h1.7v1.7h-1.7zM97.5 111.9h1.7v1.7h-1.7zM131.2 87.6h1.7v1.7h-1.7zM102.2 108.9h1.7v1.7h-1.7zM101.4 117.8h1.7v1.7h-1.7zM97.0 122.5h1.7v1.7h-1.7zM99.6 115.5h1.7v1.7h-1.7zM77.1 122.3h1.7v1.7h-1.7zM70.1 118.3h1.7v1.7h-1.7zM129.4 88.7h1.7v1.7h-1.7zM109.2 108.5h1.7v1.7h-1.7zM120.0 100.7h1.7v1.7h-1.7zM136.3 84.9h1.7v1.7h-1.7zM84.4 116.4h1.7v1.7h-1.7zM85.0 126.2h1.7v1.7h-1.7zM90.9 121.6h1.7v1.7h-1.7zM92.6 115.9h1.7v1.7h-1.7zM128.8 93.2h1.7v1.7h-1.7zM95.1 129.1h1.7v1.7h-1.7zM93.1 117.3h1.7v1.7h-1.7zM115.9 104.4h1.7v1.7h-1.7zM81.8 103.3h1.7v1.7h-1.7zM74.6 115.9h1.7v1.7h-1.7zM123.7 89.3h1.7v1.7h-1.7zM127.4 77.0h1.7v1.7h-1.7zM88.5 117.1h1.7v1.7h-1.7zM115.9 103.7h1.7v1.7h-1.7zM67.3 123.7h1.7v1.7h-1.7zM98.5 115.0h1.7v1.7h-1.7zM110.2 108.1h1.7v1.7h-1.7zM87.9 117.0h1.7v1.7h-1.7zM95.2 106.4h1.7v1.7h-1.7zM114.4 109.6h1.7v1.7h-1.7zM112.6 110.7h1.7v1.7h-1.7zM79.8 117.5h1.7v1.7h-1.7zM125.4 102.0h1.7v1.7h-1.7zM72.4 123.9h1.7v1.7h-1.7zM174.5 57.0h1.7v1.7h-1.7zM83.3 114.7h1.7v1.7h-1.7zM87.1 108.2h1.7v1.7h-1.7zM82.3 117.6h1.7v1.7h-1.7zM189.3 48.3h1.7v1.7h-1.7zM89.7 122.7h1.7v1.7h-1.7zM114.1 104.9h1.7v1.7h-1.7zM189.1 48.9h1.7v1.7h-1.7zM165.8 68.7h1.7v1.7h-1.7zM68.4 120.4h1.7v1.7h-1.7zM105.8 109.7h1.7v1.7h-1.7zM114.5 105.3h1.7v1.7h-1.7zM123.1 97.4h1.7v1.7h-1.7zM92.8 109.5h1.7v1.7h-1.7zM92.2 115.2h1.7v1.7h-1.7zM60.1 128.6h1.7v1.7h-1.7zM67.3 126.5h1.7v1.7h-1.7zM108.9 114.2h1.7v1.7h-1.7zM83.4 126.7h1.7v1.7h-1.7zM93.0 112.0h1.7v1.7h-1.7zM72.8 120.7h1.7v1.7h-1.7zM64.3 127.6h1.7v1.7h-1.7zM156.3 74.1h1.7v1.7h-1.7zM100.7 100.5h1.7v1.7h-1.7zM83.6 115.9h1.7v1.7h-1.7zM124.5 109.8h1.7v1.7h-1.7zM61.8 125.9h1.7v1.7h-1.7zM88.8 113.2h1.7v1.7h-1.7zM169.3 62.8h1.7v1.7h-1.7zM150.7 78.2h1.7v1.7h-1.7zM115.3 102.3h1.7v1.7h-1.7zM73.9 121.7h1.7v1.7h-1.7zM93.2 107.2h1.7v1.7h-1.7zM65.0 128.9h1.7v1.7h-1.7zM85.9 118.1h1.7v1.7h-1.7zM64.9 123.6h1.7v1.7h-1.7zM78.5 120.8h1.7v1.7h-1.7zM117.2 104.7h1.7v1.7h-1.7zM73.4 117.6h1.7v1.7h-1.7zM78.9 113.3h1.7v1.7h-1.7zM150.7 73.0h1.7v1.7h-1.7zM91.9 111.3h1.7v1.7h-1.7zM93.7 98.7h1.7v1.7h-1.7zM73.9 117.9h1.7v1.7h-1.7zM136.9 90.2h1.7v1.7h-1.7zM121.0 95.7h1.7v1.7h-1.7zM109.2 111.7h1.7v1.7h-1.7zM114.3 90.3h1.7v1.7h-1.7zM75.4 121.8h1.7v1.7h-1.7zM88.3 124.4h1.7v1.7h-1.7zM111.8 112.3h1.7v1.7h-1.7zM166.8 65.0h1.7v1.7h-1.7zM138.4 82.4h1.7v1.7h-1.7zM115.7 104.0h1.7v1.7h-1.7zM107.9 94.1h1.7v1.7h-1.7zM62.8 127.2h1.7v1.7h-1.7zM149.4 65.2h1.7v1.7h-1.7zM70.3 125.1h1.7v1.7h-1.7zM79.0 120.5h1.7v1.7h-1.7zM124.3 101.9h1.7v1.7h-1.7zM139.0 86.1h1.7v1.7h-1.7zM132.6 84.9h1.7v1.7h-1.7zM101.6 110.6h1.7v1.7h-1.7zM82.2 113.1h1.7v1.7h-1.7zM65.2 127.3h1.7v1.7h-1.7zM142.2 80.8h1.7v1.7h-1.7zM176.6 62.4h1.7v1.7h-1.7zM88.6 122.0h1.7v1.7h-1.7zM146.4 72.5h1.7v1.7h-1.7zM99.0 116.2h1.7v1.7h-1.7zM92.0 119.8h1.7v1.7h-1.7zM105.7 102.6h1.7v1.7h-1.7zM102.1 107.0h1.7v1.7h-1.7zM82.5 131.2h1.7v1.7h-1.7zM126.1 97.3h1.7v1.7h-1.7zM105.5 114.2h1.7v1.7h-1.7zM144.9 81.5h1.7v1.7h-1.7zM152.3 78.7h1.7v1.7h-1.7zM92.1 110.3h1.7v1.7h-1.7zM90.0 112.4h1.7v1.7h-1.7zM161.2 56.8h1.7v1.7h-1.7zM103.8 112.9h1.7v1.7h-1.7zM74.6 119.8h1.7v1.7h-1.7zM66.7 128.8h1.7v1.7h-1.7zM189.1 54.5h1.7v1.7h-1.7zM110.5 99.2h1.7v1.7h-1.7zM67.3 128.4h1.7v1.7h-1.7zM106.9 111.0h1.7v1.7h-1.7zM106.5 109.4h1.7v1.7h-1.7zM101.1 113.8h1.7v1.7h-1.7zM164.6 67.7h1.7v1.7h-1.7zM165.7 67.1h1.7v1.7h-1.7zM75.4 126.6h1.7v1.7h-1.7zM78.7 110.7h1.7v1.7h-1.7zM98.1 106.4h1.7v1.7h-1.7zM139.9 81.5h1.7v1.7h-1.7zM116.8 106.0h1.7v1.7h-1.7zM126.1 93.4h1.7v1.7h-1.7zM112.4 113.5h1.7v1.7h-1.7zM84.7 103.1h1.7v1.7h-1.7zM136.2 84.5h1.7v1.7h-1.7zM61.2 127.7h1.7v1.7h-1.7zM122.9 98.0h1.7v1.7h-1.7zM82.1 125.8h1.7v1.7h-1.7zM103.9 108.9h1.7v1.7h-1.7zM175.0 58.4h1.7v1.7h-1.7zM109.5 110.5h1.7v1.7h-1.7zM70.2 130.1h1.7v1.7h-1.7zM100.3 98.0h1.7v1.7h-1.7zM118.0 103.1h1.7v1.7h-1.7zM69.5 126.2h1.7v1.7h-1.7zM86.8 113.5h1.7v1.7h-1.7zM64.0 126.5h1.7v1.7h-1.7zM108.8 108.3h1.7v1.7h-1.7zM97.7 113.2h1.7v1.7h-1.7zM105.6 107.7h1.7v1.7h-1.7zM92.1 109.6h1.7v1.7h-1.7zM116.8 102.8h1.7v1.7h-1.7zM80.0 117.0h1.7v1.7h-1.7zM153.6 74.7h1.7v1.7h-1.7zM167.9 64.1h1.7v1.7h-1.7zM106.0 109.8h1.7v1.7h-1.7zM102.0 114.9h1.7v1.7h-1.7zM144.3 81.8h1.7v1.7h-1.7zM89.3 120.3h1.7v1.7h-1.7zM135.5 77.4h1.7v1.7h-1.7zM90.2 121.8h1.7v1.7h-1.7zM125.5 96.0h1.7v1.7h-1.7zM93.1 112.0h1.7v1.7h-1.7zM116.2 100.4h1.7v1.7h-1.7zM157.8 62.9h1.7v1.7h-1.7zM68.2 126.1h1.7v1.7h-1.7zM137.4 84.6h1.7v1.7h-1.7zM109.8 95.1h1.7v1.7h-1.7zM98.0 118.7h1.7v1.7h-1.7zM96.5 110.2h1.7v1.7h-1.7zM70.1 125.8h1.7v1.7h-1.7zM88.9 115.8h1.7v1.7h-1.7zM117.1 103.5h1.7v1.7h-1.7zM74.2 123.6h1.7v1.7h-1.7zM120.6 97.6h1.7v1.7h-1.7zM167.3 67.5h1.7v1.7h-1.7zM179.8 60.0h1.7v1.7h-1.7zM151.3 68.5h1.7v1.7h-1.7zM134.6 88.2h1.7v1.7h-1.7zM80.9 117.0h1.7v1.7h-1.7zM174.5 58.5h1.7v1.7h-1.7zM84.0 125.1h1.7v1.7h-1.7zM147.5 82.1h1.7v1.7h-1.7zM145.6 76.4h1.7v1.7h-1.7zM115.8 97.3h1.7v1.7h-1.7zM108.2 111.3h1.7v1.7h-1.7zM81.9 116.4h1.7v1.7h-1.7zM107.2 106.2h1.7v1.7h-1.7zM92.1 105.2h1.7v1.7h-1.7zM78.2 120.2h1.7v1.7h-1.7zM77.7 126.2h1.7v1.7h-1.7zM133.1 87.7h1.7v1.7h-1.7zM156.8 72.0h1.7v1.7h-1.7zM78.7 128.6h1.7v1.7h-1.7zM61.9 130.1h1.7v1.7h-1.7zM88.1 124.6h1.7v1.7h-1.7zM80.8 126.2h1.7v1.7h-1.7zM82.1 125.2h1.7v1.7h-1.7zM111.4 97.2h1.7v1.7h-1.7zM100.3 102.2h1.7v1.7h-1.7zM100.2 92.6h1.7v1.7h-1.7zM83.3 129.8h1.7v1.7h-1.7zM119.8 100.1h1.7v1.7h-1.7zM91.0 115.6h1.7v1.7h-1.7zM98.5 108.5h1.7v1.7h-1.7zM101.8 105.5h1.7v1.7h-1.7zM152.5 65.9h1.7v1.7h-1.7zM87.4 129.0h1.7v1.7h-1.7zM125.0 95.0h1.7v1.7h-1.7zM92.8 115.8h1.7v1.7h-1.7zM151.3 71.3h1.7v1.7h-1.7zM96.9 113.1h1.7v1.7h-1.7zM106.5 110.3h1.7v1.7h-1.7zM149.2 77.2h1.7v1.7h-1.7zM122.2 99.8h1.7v1.7h-1.7zM73.8 119.8h1.7v1.7h-1.7zM78.8 122.0h1.7v1.7h-1.7zM187.6 54.7h1.7v1.7h-1.7zM64.0 129.0h1.7v1.7h-1.7zM91.6 118.1h1.7v1.7h-1.7zM169.1 64.7h1.7v1.7h-1.7zM63.2 125.6h1.7v1.7h-1.7zM80.0 122.7h1.7v1.7h-1.7zM84.6 116.5h1.7v1.7h-1.7zM72.5 120.2h1.7v1.7h-1.7zM104.2 113.9h1.7v1.7h-1.7zM114.0 87.7h1.7v1.7h-1.7zM92.3 109.2h1.7v1.7h-1.7zM76.1 125.2h1.7v1.7h-1.7zM135.2 90.8h1.7v1.7h-1.7zM135.3 86.3h1.7v1.7h-1.7zM112.1 105.3h1.7v1.7h-1.7zM79.7 125.6h1.7v1.7h-1.7zM109.3 106.2h1.7v1.7h-1.7zM116.4 98.5h1.7v1.7h-1.7zM99.2 114.6h1.7v1.7h-1.7zM145.3 80.8h1.7v1.7h-1.7zM98.4 113.2h1.7v1.7h-1.7zM105.1 115.2h1.7v1.7h-1.7zM76.4 123.0h1.7v1.7h-1.7zM111.2 103.0h1.7v1.7h-1.7zM131.6 90.8h1.7v1.7h-1.7zM125.8 101.6h1.7v1.7h-1.7zM88.2 109.2h1.7v1.7h-1.7zM188.0 52.0h1.7v1.7h-1.7zM127.1 90.9h1.7v1.7h-1.7zM100.3 113.6h1.7v1.7h-1.7zM98.3 105.9h1.7v1.7h-1.7zM134.1 89.9h1.7v1.7h-1.7zM82.4 122.9h1.7v1.7h-1.7zM116.8 98.3h1.7v1.7h-1.7zM127.7 90.3h1.7v1.7h-1.7zM106.0 100.9h1.7v1.7h-1.7zM146.9 79.3h1.7v1.7h-1.7zM104.6 103.6h1.7v1.7h-1.7zM100.9 108.1h1.7v1.7h-1.7zM90.8 114.1h1.7v1.7h-1.7zM156.1 70.6h1.7v1.7h-1.7zM92.2 120.3h1.7v1.7h-1.7zM121.9 110.9h1.7v1.7h-1.7zM99.4 100.8h1.7v1.7h-1.7zM159.4 68.3h1.7v1.7h-1.7zM163.6 69.0h1.7v1.7h-1.7zM65.2 124.4h1.7v1.7h-1.7zM191.3 49.3h1.7v1.7h-1.7zM115.9 103.1h1.7v1.7h-1.7zM70.2 129.5h1.7v1.7h-1.7zM104.8 115.8h1.7v1.7h-1.7zM68.2 124.9h1.7v1.7h-1.7zM109.6 107.0h1.7v1.7h-1.7zM82.8 117.3h1.7v1.7h-1.7zM96.8 112.5h1.7v1.7h-1.7zM91.0 110.0h1.7v1.7h-1.7zM113.7 86.3h1.7v1.7h-1.7zM138.6 83.8h1.7v1.7h-1.7zM161.7 75.8h1.7v1.7h-1.7zM93.8 119.1h1.7v1.7h-1.7zM110.7 96.6h1.7v1.7h-1.7zM57.6 129.5h1.7v1.7h-1.7zM98.4 109.3h1.7v1.7h-1.7zM170.6 65.7h1.7v1.7h-1.7zM76.5 116.9h1.7v1.7h-1.7zM146.3 86.4h1.7v1.7h-1.7zM118.1 98.8h1.7v1.7h-1.7zM89.5 119.8h1.7v1.7h-1.7zM132.3 92.6h1.7v1.7h-1.7zM89.9 106.4h1.7v1.7h-1.7zM150.0 76.2h1.7v1.7h-1.7zM71.1 129.7h1.7v1.7h-1.7zM76.0 122.1h1.7v1.7h-1.7zM129.7 95.1h1.7v1.7h-1.7zM101.5 113.4h1.7v1.7h-1.7zM78.9 118.2h1.7v1.7h-1.7zM104.7 111.0h1.7v1.7h-1.7zM90.5 122.0h1.7v1.7h-1.7zM109.5 120.1h1.7v1.7h-1.7zM127.2 98.7h1.7v1.7h-1.7zM142.1 78.7h1.7v1.7h-1.7zM70.2 127.7h1.7v1.7h-1.7zM112.4 90.6h1.7v1.7h-1.7zM182.9 55.6h1.7v1.7h-1.7zM102.4 109.6h1.7v1.7h-1.7zM132.2 91.9h1.7v1.7h-1.7zM73.8 124.3h1.7v1.7h-1.7zM145.1 84.8h1.7v1.7h-1.7zM112.2 98.4h1.7v1.7h-1.7zM149.0 80.5h1.7v1.7h-1.7zM134.5 91.0h1.7v1.7h-1.7zM145.4 80.2h1.7v1.7h-1.7zM69.1 117.0h1.7v1.7h-1.7zM126.0 96.6h1.7v1.7h-1.7zM84.1 120.2h1.7v1.7h-1.7zM89.1 121.0h1.7v1.7h-1.7zM93.8 114.8h1.7v1.7h-1.7zM113.5 102.6h1.7v1.7h-1.7zM117.1 103.0h1.7v1.7h-1.7zM160.2 71.7h1.7v1.7h-1.7zM62.4 129.6h1.7v1.7h-1.7zM82.7 128.3h1.7v1.7h-1.7zM95.7 110.7h1.7v1.7h-1.7zM140.4 90.8h1.7v1.7h-1.7zM109.7 91.8h1.7v1.7h-1.7zM106.4 113.4h1.7v1.7h-1.7zM130.0 88.8h1.7v1.7h-1.7zM118.9 108.3h1.7v1.7h-1.7zM90.5 111.8h1.7v1.7h-1.7zM71.9 127.8h1.7v1.7h-1.7zM101.0 106.1h1.7v1.7h-1.7zM148.1 69.9h1.7v1.7h-1.7zM112.1 108.5h1.7v1.7h-1.7zM69.3 128.1h1.7v1.7h-1.7zM101.5 107.4h1.7v1.7h-1.7zM98.4 125.5h1.7v1.7h-1.7zM114.0 102.0h1.7v1.7h-1.7zM113.1 111.2h1.7v1.7h-1.7zM165.2 60.9h1.7v1.7h-1.7zM92.6 104.5h1.7v1.7h-1.7zM98.2 113.3h1.7v1.7h-1.7zM115.1 98.2h1.7v1.7h-1.7zM146.9 80.7h1.7v1.7h-1.7zM124.2 88.1h1.7v1.7h-1.7zM103.6 111.0h1.7v1.7h-1.7zM138.2 83.5h1.7v1.7h-1.7zM104.3 104.6h1.7v1.7h-1.7zM171.0 64.3h1.7v1.7h-1.7zM88.9 115.8h1.7v1.7h-1.7zM76.6 119.7h1.7v1.7h-1.7zM138.0 88.4h1.7v1.7h-1.7zM90.9 117.9h1.7v1.7h-1.7zM143.9 82.6h1.7v1.7h-1.7zM114.8 108.8h1.7v1.7h-1.7zM106.8 107.3h1.7v1.7h-1.7zM72.1 127.0h1.7v1.7h-1.7zM135.1 86.3h1.7v1.7h-1.7zM69.8 127.0h1.7v1.7h-1.7zM172.5 64.2h1.7v1.7h-1.7zM147.3 77.0h1.7v1.7h-1.7zM90.2 108.6h1.7v1.7h-1.7zM78.1 115.1h1.7v1.7h-1.7zM148.8 74.6h1.7v1.7h-1.7zM104.4 112.6h1.7v1.7h-1.7zM77.3 120.7h1.7v1.7h-1.7zM105.6 105.6h1.7v1.7h-1.7zM86.5 123.0h1.7v1.7h-1.7zM99.4 120.6h1.7v1.7h-1.7zM117.1 114.0h1.7v1.7h-1.7zM155.2 69.2h1.7v1.7h-1.7zM135.0 89.7h1.7v1.7h-1.7zM78.5 127.6h1.7v1.7h-1.7zM103.4 105.1h1.7v1.7h-1.7zM104.7 110.2h1.7v1.7h-1.7zM187.1 48.8h1.7v1.7h-1.7zM74.2 121.9h1.7v1.7h-1.7zM104.9 111.7h1.7v1.7h-1.7zM155.0 68.0h1.7v1.7h-1.7zM96.1 109.2h1.7v1.7h-1.7zM87.0 113.6h1.7v1.7h-1.7zM109.6 106.8h1.7v1.7h-1.7zM90.2 112.7h1.7v1.7h-1.7zM156.3 73.8h1.7v1.7h-1.7zM72.9 120.2h1.7v1.7h-1.7zM83.8 116.2h1.7v1.7h-1.7zM72.6 128.5h1.7v1.7h-1.7zM124.0 97.3h1.7v1.7h-1.7zM92.6 116.4h1.7v1.7h-1.7zM151.6 75.6h1.7v1.7h-1.7zM149.5 80.7h1.7v1.7h-1.7zM162.5 73.1h1.7v1.7h-1.7zM88.3 113.1h1.7v1.7h-1.7zM55.9 129.7h1.7v1.7h-1.7zM98.6 107.0h1.7v1.7h-1.7zM170.6 68.7h1.7v1.7h-1.7zM131.5 84.2h1.7v1.7h-1.7zM70.1 115.3h1.7v1.7h-1.7zM122.7 98.1h1.7v1.7h-1.7zM156.5 79.7h1.7v1.7h-1.7zM173.1 59.0h1.7v1.7h-1.7zM124.2 95.5h1.7v1.7h-1.7zM144.0 76.1h1.7v1.7h-1.7zM142.4 79.9h1.7v1.7h-1.7zM94.9 123.1h1.7v1.7h-1.7zM74.4 123.4h1.7v1.7h-1.7zM127.2 92.8h1.7v1.7h-1.7zM78.0 121.2h1.7v1.7h-1.7zM95.7 115.6h1.7v1.7h-1.7zM194.8 48.6h1.7v1.7h-1.7zM111.4 99.5h1.7v1.7h-1.7zM108.3 101.3h1.7v1.7h-1.7zM166.1 72.6h1.7v1.7h-1.7zM90.1 112.6h1.7v1.7h-1.7zM202.6 47.9h1.7v1.7h-1.7zM155.9 70.6h1.7v1.7h-1.7zM95.4 121.1h1.7v1.7h-1.7zM94.7 118.2h1.7v1.7h-1.7zM78.7 119.6h1.7v1.7h-1.7zM156.0 79.2h1.7v1.7h-1.7zM83.9 114.2h1.7v1.7h-1.7zM61.7 127.9h1.7v1.7h-1.7zM148.8 74.9h1.7v1.7h-1.7zM114.8 95.5h1.7v1.7h-1.7zM120.9 97.1h1.7v1.7h-1.7zM127.6 90.1h1.7v1.7h-1.7zM67.7 125.1h1.7v1.7h-1.7zM74.9 128.9h1.7v1.7h-1.7zM106.3 99.5h1.7v1.7h-1.7zM67.9 122.2h1.7v1.7h-1.7zM106.6 103.4h1.7v1.7h-1.7zM128.2 91.3h1.7v1.7h-1.7zM118.4 104.6h1.7v1.7h-1.7zM114.9 106.0h1.7v1.7h-1.7zM67.7 127.5h1.7v1.7h-1.7zM85.5 119.2h1.7v1.7h-1.7zM151.5 83.9h1.7v1.7h-1.7zM77.7 116.1h1.7v1.7h-1.7zM110.2 100.4h1.7v1.7h-1.7zM69.8 125.0h1.7v1.7h-1.7zM162.7 69.5h1.7v1.7h-1.7zM82.0 118.3h1.7v1.7h-1.7zM100.4 107.2h1.7v1.7h-1.7zM109.0 92.8h1.7v1.7h-1.7zM126.2 93.5h1.7v1.7h-1.7zM161.4 67.5h1.7v1.7h-1.7zM127.4 91.9h1.7v1.7h-1.7zM94.0 109.1h1.7v1.7h-1.7zM71.2 129.1h1.7v1.7h-1.7zM124.0 99.7h1.7v1.7h-1.7zM174.2 66.5h1.7v1.7h-1.7zM63.6 125.1h1.7v1.7h-1.7zM132.2 90.3h1.7v1.7h-1.7zM81.3 118.5h1.7v1.7h-1.7zM103.1 110.4h1.7v1.7h-1.7zM108.2 106.0h1.7v1.7h-1.7zM114.5 102.4h1.7v1.7h-1.7zM187.1 48.8h1.7v1.7h-1.7zM120.5 97.7h1.7v1.7h-1.7zM95.6 122.0h1.7v1.7h-1.7zM123.2 81.1h1.7v1.7h-1.7zM104.8 107.6h1.7v1.7h-1.7zM97.5 116.2h1.7v1.7h-1.7zM96.3 120.5h1.7v1.7h-1.7zM106.7 107.8h1.7v1.7h-1.7zM89.1 119.3h1.7v1.7h-1.7zM88.2 126.2h1.7v1.7h-1.7zM80.8 126.0h1.7v1.7h-1.7zM102.3 108.4h1.7v1.7h-1.7zM92.8 108.5h1.7v1.7h-1.7zM141.4 86.7h1.7v1.7h-1.7zM141.7 83.7h1.7v1.7h-1.7zM94.7 111.6h1.7v1.7h-1.7zM115.1 101.7h1.7v1.7h-1.7zM150.9 77.4h1.7v1.7h-1.7zM94.1 112.6h1.7v1.7h-1.7zM112.3 103.3h1.7v1.7h-1.7zM101.0 110.1h1.7v1.7h-1.7zM118.4 94.3h1.7v1.7h-1.7zM168.6 75.9h1.7v1.7h-1.7zM78.2 126.3h1.7v1.7h-1.7zM171.6 67.5h1.7v1.7h-1.7zM119.6 99.0h1.7v1.7h-1.7zM133.8 89.1h1.7v1.7h-1.7zM115.6 104.9h1.7v1.7h-1.7zM145.3 83.1h1.7v1.7h-1.7zM93.2 94.3h1.7v1.7h-1.7zM126.4 95.5h1.7v1.7h-1.7zM89.3 111.7h1.7v1.7h-1.7zM108.3 106.9h1.7v1.7h-1.7zM122.0 95.1h1.7v1.7h-1.7zM68.7 129.3h1.7v1.7h-1.7zM134.3 88.2h1.7v1.7h-1.7zM134.6 92.7h1.7v1.7h-1.7zM119.7 99.2h1.7v1.7h-1.7zM94.2 110.9h1.7v1.7h-1.7zM119.6 98.8h1.7v1.7h-1.7zM73.8 120.0h1.7v1.7h-1.7zM119.3 100.0h1.7v1.7h-1.7zM110.4 109.8h1.7v1.7h-1.7zM114.9 102.3h1.7v1.7h-1.7zM101.5 110.8h1.7v1.7h-1.7zM86.4 123.0h1.7v1.7h-1.7zM128.3 93.8h1.7v1.7h-1.7zM102.4 115.8h1.7v1.7h-1.7zM128.2 93.3h1.7v1.7h-1.7zM95.6 107.2h1.7v1.7h-1.7zM72.8 119.4h1.7v1.7h-1.7zM107.8 99.1h1.7v1.7h-1.7zM116.0 107.0h1.7v1.7h-1.7zM157.1 73.5h1.7v1.7h-1.7zM149.6 75.6h1.7v1.7h-1.7zM68.3 122.7h1.7v1.7h-1.7zM131.8 91.4h1.7v1.7h-1.7zM86.3 117.2h1.7v1.7h-1.7zM124.1 97.2h1.7v1.7h-1.7zM95.8 109.5h1.7v1.7h-1.7zM92.4 109.8h1.7v1.7h-1.7zM104.5 118.0h1.7v1.7h-1.7zM107.5 102.9h1.7v1.7h-1.7zM121.9 97.7h1.7v1.7h-1.7zM115.5 108.2h1.7v1.7h-1.7zM123.0 82.2h1.7v1.7h-1.7zM97.5 116.9h1.7v1.7h-1.7zM121.4 98.7h1.7v1.7h-1.7zM96.5 112.9h1.7v1.7h-1.7zM114.4 104.3h1.7v1.7h-1.7zM103.3 103.9h1.7v1.7h-1.7zM110.7 82.7h1.7v1.7h-1.7zM106.2 107.1h1.7v1.7h-1.7zM85.1 122.7h1.7v1.7h-1.7zM97.1 119.2h1.7v1.7h-1.7zM71.9 125.1h1.7v1.7h-1.7zM120.3 102.9h1.7v1.7h-1.7zM148.3 80.6h1.7v1.7h-1.7zM94.9 122.8h1.7v1.7h-1.7zM74.5 124.6h1.7v1.7h-1.7zM115.4 108.0h1.7v1.7h-1.7zM75.1 121.2h1.7v1.7h-1.7zM150.7 75.1h1.7v1.7h-1.7zM75.8 122.4h1.7v1.7h-1.7zM95.3 116.4h1.7v1.7h-1.7zM104.9 112.3h1.7v1.7h-1.7zM74.5 130.4h1.7v1.7h-1.7zM91.9 120.4h1.7v1.7h-1.7zM87.3 117.9h1.7v1.7h-1.7zM124.0 103.4h1.7v1.7h-1.7zM184.1 56.7h1.7v1.7h-1.7zM95.6 116.0h1.7v1.7h-1.7zM134.4 89.9h1.7v1.7h-1.7zM78.1 119.4h1.7v1.7h-1.7zM114.3 98.4h1.7v1.7h-1.7zM101.2 112.0h1.7v1.7h-1.7zM88.9 115.4h1.7v1.7h-1.7zM137.9 82.7h1.7v1.7h-1.7zM128.1 93.4h1.7v1.7h-1.7zM77.5 120.3h1.7v1.7h-1.7zM89.8 113.6h1.7v1.7h-1.7zM137.4 80.1h1.7v1.7h-1.7zM191.7 49.7h1.7v1.7h-1.7zM114.9 119.4h1.7v1.7h-1.7zM146.0 82.9h1.7v1.7h-1.7zM182.6 58.7h1.7v1.7h-1.7zM127.8 93.1h1.7v1.7h-1.7zM119.4 108.9h1.7v1.7h-1.7zM85.4 114.9h1.7v1.7h-1.7zM97.3 110.8h1.7v1.7h-1.7zM112.9 106.6h1.7v1.7h-1.7zM158.3 67.0h1.7v1.7h-1.7zM92.2 116.1h1.7v1.7h-1.7zM100.0 113.5h1.7v1.7h-1.7zM64.3 131.7h1.7v1.7h-1.7zM121.5 95.4h1.7v1.7h-1.7zM102.2 115.6h1.7v1.7h-1.7zM134.6 85.9h1.7v1.7h-1.7zM84.1 116.0h1.7v1.7h-1.7zM118.8 89.3h1.7v1.7h-1.7zM121.8 90.1h1.7v1.7h-1.7zM104.4 115.8h1.7v1.7h-1.7zM83.0 121.6h1.7v1.7h-1.7zM97.6 115.0h1.7v1.7h-1.7zM131.1 98.6h1.7v1.7h-1.7zM81.2 122.3h1.7v1.7h-1.7zM73.3 113.2h1.7v1.7h-1.7zM101.6 108.8h1.7v1.7h-1.7zM87.3 117.0h1.7v1.7h-1.7zM136.1 98.6h1.7v1.7h-1.7zM138.8 81.9h1.7v1.7h-1.7zM163.8 69.5h1.7v1.7h-1.7zM141.1 86.7h1.7v1.7h-1.7zM118.4 97.2h1.7v1.7h-1.7zM80.3 120.4h1.7v1.7h-1.7zM139.7 77.4h1.7v1.7h-1.7zM127.5 94.2h1.7v1.7h-1.7zM128.4 85.5h1.7v1.7h-1.7zM123.2 95.3h1.7v1.7h-1.7zM140.1 90.0h1.7v1.7h-1.7zM92.4 117.9h1.7v1.7h-1.7zM121.1 98.6h1.7v1.7h-1.7zM107.2 108.7h1.7v1.7h-1.7zM93.3 126.7h1.7v1.7h-1.7zM91.5 122.5h1.7v1.7h-1.7zM79.0 125.3h1.7v1.7h-1.7zM105.2 106.9h1.7v1.7h-1.7zM95.8 111.7h1.7v1.7h-1.7zM100.1 106.4h1.7v1.7h-1.7zM143.8 80.7h1.7v1.7h-1.7zM122.0 95.0h1.7v1.7h-1.7zM121.7 101.7h1.7v1.7h-1.7zM183.4 57.1h1.7v1.7h-1.7zM84.9 117.9h1.7v1.7h-1.7zM106.4 105.7h1.7v1.7h-1.7zM74.1 111.6h1.7v1.7h-1.7zM96.1 107.1h1.7v1.7h-1.7zM166.7 67.3h1.7v1.7h-1.7zM71.7 126.5h1.7v1.7h-1.7zM131.0 80.9h1.7v1.7h-1.7zM145.3 72.0h1.7v1.7h-1.7zM107.6 108.5h1.7v1.7h-1.7zM135.3 80.3h1.7v1.7h-1.7zM100.5 110.5h1.7v1.7h-1.7zM96.0 111.4h1.7v1.7h-1.7zM106.4 111.5h1.7v1.7h-1.7zM82.9 110.2h1.7v1.7h-1.7zM91.7 113.1h1.7v1.7h-1.7zM92.4 120.7h1.7v1.7h-1.7zM187.0 53.6h1.7v1.7h-1.7zM93.8 105.6h1.7v1.7h-1.7zM84.0 123.5h1.7v1.7h-1.7zM161.5 70.4h1.7v1.7h-1.7zM78.2 116.9h1.7v1.7h-1.7zM173.8 63.7h1.7v1.7h-1.7zM143.7 83.8h1.7v1.7h-1.7zM118.1 100.2h1.7v1.7h-1.7zM101.7 116.1h1.7v1.7h-1.7zM82.9 113.5h1.7v1.7h-1.7zM75.1 125.5h1.7v1.7h-1.7zM75.0 120.8h1.7v1.7h-1.7zM93.2 110.4h1.7v1.7h-1.7zM99.9 108.8h1.7v1.7h-1.7zM157.7 75.5h1.7v1.7h-1.7zM108.3 104.4h1.7v1.7h-1.7zM187.1 52.4h1.7v1.7h-1.7zM126.0 92.3h1.7v1.7h-1.7zM80.2 116.4h1.7v1.7h-1.7zM109.4 111.2h1.7v1.7h-1.7zM78.8 130.7h1.7v1.7h-1.7zM67.5 130.2h1.7v1.7h-1.7zM161.6 71.1h1.7v1.7h-1.7zM91.6 124.7h1.7v1.7h-1.7zM82.0 117.8h1.7v1.7h-1.7zM74.0 121.1h1.7v1.7h-1.7zM118.4 95.7h1.7v1.7h-1.7zM102.4 118.4h1.7v1.7h-1.7zM62.1 127.6h1.7v1.7h-1.7zM125.0 92.9h1.7v1.7h-1.7zM87.1 114.4h1.7v1.7h-1.7zM132.6 91.0h1.7v1.7h-1.7zM105.6 106.1h1.7v1.7h-1.7zM109.5 106.5h1.7v1.7h-1.7zM103.5 112.1h1.7v1.7h-1.7zM121.7 108.9h1.7v1.7h-1.7zM184.4 52.1h1.7v1.7h-1.7zM134.3 89.3h1.7v1.7h-1.7zM70.7 122.2h1.7v1.7h-1.7zM105.6 106.7h1.7v1.7h-1.7zM84.4 126.5h1.7v1.7h-1.7zM76.1 124.5h1.7v1.7h-1.7zM83.2 117.2h1.7v1.7h-1.7zM86.5 120.4h1.7v1.7h-1.7zM169.4 64.7h1.7v1.7h-1.7zM128.2 96.6h1.7v1.7h-1.7zM142.5 80.6h1.7v1.7h-1.7zM123.9 98.0h1.7v1.7h-1.7zM91.7 115.0h1.7v1.7h-1.7zM96.4 113.8h1.7v1.7h-1.7zM100.8 110.7h1.7v1.7h-1.7zM90.4 109.6h1.7v1.7h-1.7zM98.9 113.0h1.7v1.7h-1.7zM133.1 92.4h1.7v1.7h-1.7zM70.7 120.2h1.7v1.7h-1.7zM91.0 114.3h1.7v1.7h-1.7zM105.2 111.2h1.7v1.7h-1.7zM120.1 96.2h1.7v1.7h-1.7zM118.2 104.2h1.7v1.7h-1.7zM127.5 95.9h1.7v1.7h-1.7zM74.8 113.4h1.7v1.7h-1.7zM80.5 116.9h1.7v1.7h-1.7zM91.8 110.3h1.7v1.7h-1.7zM91.6 120.5h1.7v1.7h-1.7zM128.4 95.9h1.7v1.7h-1.7zM191.7 47.8h1.7v1.7h-1.7zM121.8 95.3h1.7v1.7h-1.7zM66.1 126.7h1.7v1.7h-1.7zM90.5 114.6h1.7v1.7h-1.7zM135.7 89.7h1.7v1.7h-1.7zM158.5 74.4h1.7v1.7h-1.7zM114.1 106.1h1.7v1.7h-1.7zM93.6 120.9h1.7v1.7h-1.7zM96.7 118.6h1.7v1.7h-1.7zM115.6 102.1h1.7v1.7h-1.7zM145.7 76.8h1.7v1.7h-1.7zM94.2 110.9h1.7v1.7h-1.7zM83.7 122.8h1.7v1.7h-1.7zM58.5 130.8h1.7v1.7h-1.7zM79.1 125.1h1.7v1.7h-1.7zM143.0 80.8h1.7v1.7h-1.7zM117.1 99.8h1.7v1.7h-1.7zM188.6 52.7h1.7v1.7h-1.7zM73.3 128.1h1.7v1.7h-1.7zM95.2 116.2h1.7v1.7h-1.7zM136.2 87.7h1.7v1.7h-1.7zM120.1 96.0h1.7v1.7h-1.7zM70.9 127.9h1.7v1.7h-1.7zM98.0 115.8h1.7v1.7h-1.7zM117.8 92.6h1.7v1.7h-1.7zM120.8 105.5h1.7v1.7h-1.7zM100.9 106.7h1.7v1.7h-1.7zM83.0 123.6h1.7v1.7h-1.7zM170.6 63.5h1.7v1.7h-1.7zM104.8 111.5h1.7v1.7h-1.7zM125.2 92.5h1.7v1.7h-1.7zM108.8 104.2h1.7v1.7h-1.7zM72.5 126.3h1.7v1.7h-1.7zM86.6 116.9h1.7v1.7h-1.7zM70.0 123.8h1.7v1.7h-1.7zM82.2 123.6h1.7v1.7h-1.7zM83.2 122.5h1.7v1.7h-1.7zM100.6 113.6h1.7v1.7h-1.7zM93.8 116.3h1.7v1.7h-1.7zM96.9 122.6h1.7v1.7h-1.7zM138.3 84.9h1.7v1.7h-1.7zM63.9 129.7h1.7v1.7h-1.7zM73.1 125.0h1.7v1.7h-1.7zM137.3 81.5h1.7v1.7h-1.7zM109.3 97.2h1.7v1.7h-1.7zM100.9 112.2h1.7v1.7h-1.7zM89.4 126.6h1.7v1.7h-1.7zM110.4 106.8h1.7v1.7h-1.7zM85.1 115.8h1.7v1.7h-1.7zM145.2 78.1h1.7v1.7h-1.7zM139.2 87.5h1.7v1.7h-1.7zM90.9 114.8h1.7v1.7h-1.7zM64.3 123.6h1.7v1.7h-1.7zM148.9 80.1h1.7v1.7h-1.7zM91.5 117.4h1.7v1.7h-1.7zM118.3 102.1h1.7v1.7h-1.7zM143.7 85.1h1.7v1.7h-1.7zM134.4 92.6h1.7v1.7h-1.7zM144.8 82.6h1.7v1.7h-1.7zM105.1 107.5h1.7v1.7h-1.7zM142.6 74.9h1.7v1.7h-1.7zM103.8 111.7h1.7v1.7h-1.7zM88.5 116.5h1.7v1.7h-1.7zM104.7 116.6h1.7v1.7h-1.7zM93.8 121.8h1.7v1.7h-1.7zM131.4 92.0h1.7v1.7h-1.7zM141.6 87.7h1.7v1.7h-1.7zM75.9 121.8h1.7v1.7h-1.7zM80.2 119.9h1.7v1.7h-1.7zM97.5 103.7h1.7v1.7h-1.7zM104.2 108.2h1.7v1.7h-1.7zM166.7 67.1h1.7v1.7h-1.7zM162.9 71.9h1.7v1.7h-1.7zM173.5 60.1h1.7v1.7h-1.7zM126.4 97.1h1.7v1.7h-1.7zM119.3 109.2h1.7v1.7h-1.7zM88.4 110.4h1.7v1.7h-1.7zM95.2 113.0h1.7v1.7h-1.7zM58.7 129.5h1.7v1.7h-1.7zM139.4 92.1h1.7v1.7h-1.7zM91.0 126.7h1.7v1.7h-1.7zM72.4 128.3h1.7v1.7h-1.7zM91.4 116.0h1.7v1.7h-1.7zM92.3 111.4h1.7v1.7h-1.7zM125.1 95.1h1.7v1.7h-1.7zM60.1 128.9h1.7v1.7h-1.7zM87.2 120.4h1.7v1.7h-1.7zM150.8 73.5h1.7v1.7h-1.7zM144.5 92.4h1.7v1.7h-1.7zM115.6 99.3h1.7v1.7h-1.7zM110.8 108.9h1.7v1.7h-1.7zM87.4 120.0h1.7v1.7h-1.7zM145.6 76.4h1.7v1.7h-1.7zM131.8 90.5h1.7v1.7h-1.7zM108.0 107.6h1.7v1.7h-1.7zM78.2 120.1h1.7v1.7h-1.7zM83.1 123.0h1.7v1.7h-1.7zM95.9 108.7h1.7v1.7h-1.7zM94.3 128.2h1.7v1.7h-1.7zM69.7 128.9h1.7v1.7h-1.7zM98.7 107.8h1.7v1.7h-1.7zM102.7 97.4h1.7v1.7h-1.7zM90.2 123.1h1.7v1.7h-1.7zM97.5 114.5h1.7v1.7h-1.7zM93.1 115.8h1.7v1.7h-1.7zM97.8 107.9h1.7v1.7h-1.7zM114.8 96.6h1.7v1.7h-1.7zM107.3 98.5h1.7v1.7h-1.7zM82.7 131.5h1.7v1.7h-1.7zM134.2 93.7h1.7v1.7h-1.7zM107.5 101.8h1.7v1.7h-1.7zM103.2 120.3h1.7v1.7h-1.7zM123.0 90.0h1.7v1.7h-1.7zM129.7 94.0h1.7v1.7h-1.7zM141.3 85.6h1.7v1.7h-1.7zM136.3 84.0h1.7v1.7h-1.7zM121.2 96.6h1.7v1.7h-1.7zM125.0 87.4h1.7v1.7h-1.7zM80.1 120.3h1.7v1.7h-1.7zM123.1 101.7h1.7v1.7h-1.7zM89.5 122.0h1.7v1.7h-1.7zM87.7 119.6h1.7v1.7h-1.7zM75.3 126.9h1.7v1.7h-1.7zM97.1 93.1h1.7v1.7h-1.7zM62.9 132.5h1.7v1.7h-1.7zM119.3 99.6h1.7v1.7h-1.7zM129.0 88.0h1.7v1.7h-1.7zM133.4 87.8h1.7v1.7h-1.7zM77.4 115.2h1.7v1.7h-1.7zM117.8 101.8h1.7v1.7h-1.7zM141.3 84.2h1.7v1.7h-1.7zM66.5 120.1h1.7v1.7h-1.7zM83.0 125.2h1.7v1.7h-1.7zM89.4 125.8h1.7v1.7h-1.7zM103.8 104.5h1.7v1.7h-1.7zM80.4 126.9h1.7v1.7h-1.7zM107.1 114.5h1.7v1.7h-1.7zM93.5 120.6h1.7v1.7h-1.7zM119.3 106.4h1.7v1.7h-1.7zM105.7 101.6h1.7v1.7h-1.7zM121.6 100.8h1.7v1.7h-1.7zM87.4 112.4h1.7v1.7h-1.7zM123.7 105.1h1.7v1.7h-1.7zM126.3 91.0h1.7v1.7h-1.7zM127.7 89.2h1.7v1.7h-1.7zM72.4 127.9h1.7v1.7h-1.7zM163.7 70.1h1.7v1.7h-1.7zM113.2 104.1h1.7v1.7h-1.7zM90.2 117.3h1.7v1.7h-1.7zM99.8 115.3h1.7v1.7h-1.7zM109.8 114.6h1.7v1.7h-1.7zM106.2 104.9h1.7v1.7h-1.7zM86.8 114.9h1.7v1.7h-1.7zM87.3 114.7h1.7v1.7h-1.7zM95.8 113.6h1.7v1.7h-1.7zM131.7 90.3h1.7v1.7h-1.7zM101.2 104.5h1.7v1.7h-1.7zM68.1 126.8h1.7v1.7h-1.7zM102.5 103.9h1.7v1.7h-1.7zM83.1 117.5h1.7v1.7h-1.7zM63.5 127.2h1.7v1.7h-1.7zM177.2 59.0h1.7v1.7h-1.7zM91.5 124.0h1.7v1.7h-1.7zM108.4 124.8h1.7v1.7h-1.7zM95.5 119.9h1.7v1.7h-1.7zM69.1 130.5h1.7v1.7h-1.7zM152.1 74.6h1.7v1.7h-1.7zM160.6 74.4h1.7v1.7h-1.7zM81.4 119.4h1.7v1.7h-1.7zM99.2 113.5h1.7v1.7h-1.7zM96.9 114.9h1.7v1.7h-1.7zM80.4 106.4h1.7v1.7h-1.7zM118.4 97.9h1.7v1.7h-1.7zM132.5 89.1h1.7v1.7h-1.7zM129.7 92.9h1.7v1.7h-1.7zM120.9 98.0h1.7v1.7h-1.7zM63.5 123.5h1.7v1.7h-1.7zM85.7 112.3h1.7v1.7h-1.7zM106.3 108.6h1.7v1.7h-1.7zM123.8 91.9h1.7v1.7h-1.7zM96.0 107.6h1.7v1.7h-1.7zM99.2 111.8h1.7v1.7h-1.7zM141.3 84.5h1.7v1.7h-1.7zM62.9 126.2h1.7v1.7h-1.7zM87.7 108.3h1.7v1.7h-1.7zM89.0 118.5h1.7v1.7h-1.7zM191.1 52.1h1.7v1.7h-1.7zM84.2 116.6h1.7v1.7h-1.7zM68.5 124.5h1.7v1.7h-1.7zM99.1 99.9h1.7v1.7h-1.7zM117.2 105.2h1.7v1.7h-1.7zM77.8 116.1h1.7v1.7h-1.7zM141.6 85.4h1.7v1.7h-1.7zM83.3 116.1h1.7v1.7h-1.7zM124.7 94.5h1.7v1.7h-1.7zM81.9 118.6h1.7v1.7h-1.7zM148.4 72.0h1.7v1.7h-1.7zM83.6 132.3h1.7v1.7h-1.7zM126.8 88.5h1.7v1.7h-1.7zM141.1 83.7h1.7v1.7h-1.7zM87.2 113.5h1.7v1.7h-1.7zM72.8 122.7h1.7v1.7h-1.7zM114.7 109.1h1.7v1.7h-1.7zM103.8 100.0h1.7v1.7h-1.7zM104.5 108.9h1.7v1.7h-1.7zM133.5 92.4h1.7v1.7h-1.7zM103.2 111.0h1.7v1.7h-1.7zM104.6 111.7h1.7v1.7h-1.7zM104.6 105.6h1.7v1.7h-1.7zM101.9 102.1h1.7v1.7h-1.7zM97.7 106.0h1.7v1.7h-1.7zM79.9 118.2h1.7v1.7h-1.7zM90.2 125.0h1.7v1.7h-1.7zM87.8 117.8h1.7v1.7h-1.7zM87.7 125.7h1.7v1.7h-1.7zM132.2 90.2h1.7v1.7h-1.7zM76.2 122.7h1.7v1.7h-1.7zM83.0 120.0h1.7v1.7h-1.7zM108.2 98.5h1.7v1.7h-1.7zM92.0 122.6h1.7v1.7h-1.7zM86.6 105.7h1.7v1.7h-1.7zM95.4 109.8h1.7v1.7h-1.7zM105.1 121.8h1.7v1.7h-1.7zM120.0 94.3h1.7v1.7h-1.7zM175.4 61.1h1.7v1.7h-1.7zM143.9 82.3h1.7v1.7h-1.7zM101.7 112.6h1.7v1.7h-1.7zM101.7 111.1h1.7v1.7h-1.7zM99.6 109.1h1.7v1.7h-1.7zM163.7 62.3h1.7v1.7h-1.7zM70.1 121.4h1.7v1.7h-1.7zM82.9 126.3h1.7v1.7h-1.7zM118.0 103.0h1.7v1.7h-1.7zM111.2 101.7h1.7v1.7h-1.7zM89.9 106.5h1.7v1.7h-1.7zM160.1 68.7h1.7v1.7h-1.7zM97.4 127.4h1.7v1.7h-1.7zM115.8 106.9h1.7v1.7h-1.7zM73.6 119.1h1.7v1.7h-1.7zM149.5 78.1h1.7v1.7h-1.7zM75.4 116.7h1.7v1.7h-1.7zM97.1 121.4h1.7v1.7h-1.7zM150.4 77.7h1.7v1.7h-1.7zM162.0 73.1h1.7v1.7h-1.7zM151.2 76.7h1.7v1.7h-1.7zM139.2 91.8h1.7v1.7h-1.7zM85.1 120.4h1.7v1.7h-1.7zM67.3 127.1h1.7v1.7h-1.7zM100.6 106.2h1.7v1.7h-1.7zM69.5 123.8h1.7v1.7h-1.7zM169.8 65.6h1.7v1.7h-1.7zM61.1 127.7h1.7v1.7h-1.7zM93.8 128.3h1.7v1.7h-1.7zM83.8 118.7h1.7v1.7h-1.7zM64.5 125.6h1.7v1.7h-1.7zM105.2 114.5h1.7v1.7h-1.7zM72.0 122.0h1.7v1.7h-1.7zM152.5 76.6h1.7v1.7h-1.7zM121.8 97.4h1.7v1.7h-1.7zM95.8 110.1h1.7v1.7h-1.7zM140.9 88.3h1.7v1.7h-1.7zM134.4 88.9h1.7v1.7h-1.7zM91.8 121.8h1.7v1.7h-1.7zM141.7 81.7h1.7v1.7h-1.7zM157.2 67.6h1.7v1.7h-1.7zM116.0 96.8h1.7v1.7h-1.7zM93.2 112.5h1.7v1.7h-1.7zM153.8 73.7h1.7v1.7h-1.7zM164.5 68.0h1.7v1.7h-1.7zM95.5 120.1h1.7v1.7h-1.7zM72.7 118.9h1.7v1.7h-1.7zM145.0 81.3h1.7v1.7h-1.7zM121.0 93.6h1.7v1.7h-1.7zM85.9 114.6h1.7v1.7h-1.7zM111.5 117.2h1.7v1.7h-1.7zM90.8 130.9h1.7v1.7h-1.7zM157.1 69.7h1.7v1.7h-1.7zM93.2 124.9h1.7v1.7h-1.7zM83.0 126.0h1.7v1.7h-1.7zM65.8 129.5h1.7v1.7h-1.7zM93.4 123.1h1.7v1.7h-1.7zM187.5 52.3h1.7v1.7h-1.7zM84.2 118.0h1.7v1.7h-1.7zM102.2 106.2h1.7v1.7h-1.7zM175.9 62.0h1.7v1.7h-1.7zM59.9 126.9h1.7v1.7h-1.7zM91.8 110.2h1.7v1.7h-1.7zM136.0 88.6h1.7v1.7h-1.7zM74.5 120.7h1.7v1.7h-1.7zM158.9 72.2h1.7v1.7h-1.7zM138.8 91.3h1.7v1.7h-1.7zM77.1 117.1h1.7v1.7h-1.7zM114.0 109.8h1.7v1.7h-1.7zM109.0 103.3h1.7v1.7h-1.7zM122.1 94.0h1.7v1.7h-1.7zM92.0 117.1h1.7v1.7h-1.7zM96.8 125.4h1.7v1.7h-1.7zM86.9 114.1h1.7v1.7h-1.7zM89.4 113.0h1.7v1.7h-1.7zM81.5 117.5h1.7v1.7h-1.7zM153.7 72.1h1.7v1.7h-1.7zM149.4 78.0h1.7v1.7h-1.7zM93.2 111.5h1.7v1.7h-1.7zM123.4 95.7h1.7v1.7h-1.7zM105.0 111.2h1.7v1.7h-1.7zM88.6 115.0h1.7v1.7h-1.7zM96.0 127.2h1.7v1.7h-1.7zM169.9 62.6h1.7v1.7h-1.7zM95.8 109.8h1.7v1.7h-1.7zM111.3 114.9h1.7v1.7h-1.7zM165.1 71.9h1.7v1.7h-1.7zM90.7 116.8h1.7v1.7h-1.7zM135.4 90.3h1.7v1.7h-1.7zM75.8 123.5h1.7v1.7h-1.7zM127.4 91.7h1.7v1.7h-1.7zM136.9 88.7h1.7v1.7h-1.7zM141.8 83.9h1.7v1.7h-1.7zM175.9 63.9h1.7v1.7h-1.7zM125.1 88.7h1.7v1.7h-1.7zM178.8 60.6h1.7v1.7h-1.7zM89.0 117.8h1.7v1.7h-1.7zM106.4 104.9h1.7v1.7h-1.7zM83.3 116.9h1.7v1.7h-1.7zM73.3 121.7h1.7v1.7h-1.7zM102.0 103.8h1.7v1.7h-1.7zM124.7 93.5h1.7v1.7h-1.7zM131.3 93.1h1.7v1.7h-1.7zM64.3 123.8h1.7v1.7h-1.7zM161.0 68.7h1.7v1.7h-1.7zM87.1 105.6h1.7v1.7h-1.7zM89.5 113.8h1.7v1.7h-1.7zM138.3 88.3h1.7v1.7h-1.7zM150.6 76.4h1.7v1.7h-1.7zM127.3 93.7h1.7v1.7h-1.7zM94.8 108.5h1.7v1.7h-1.7zM105.2 115.8h1.7v1.7h-1.7zM140.1 80.9h1.7v1.7h-1.7zM96.2 118.7h1.7v1.7h-1.7zM137.2 86.9h1.7v1.7h-1.7zM132.6 88.3h1.7v1.7h-1.7zM102.5 118.6h1.7v1.7h-1.7zM152.5 73.9h1.7v1.7h-1.7zM96.8 125.3h1.7v1.7h-1.7zM129.0 92.6h1.7v1.7h-1.7zM117.1 101.4h1.7v1.7h-1.7zM93.1 120.7h1.7v1.7h-1.7zM107.5 109.9h1.7v1.7h-1.7zM115.1 102.7h1.7v1.7h-1.7zM109.8 105.6h1.7v1.7h-1.7zM75.1 123.3h1.7v1.7h-1.7zM187.6 53.0h1.7v1.7h-1.7zM172.4 61.9h1.7v1.7h-1.7zM65.2 124.5h1.7v1.7h-1.7zM162.6 61.1h1.7v1.7h-1.7zM109.3 106.0h1.7v1.7h-1.7zM79.2 119.3h1.7v1.7h-1.7zM138.7 89.3h1.7v1.7h-1.7zM99.7 114.5h1.7v1.7h-1.7zM125.6 98.9h1.7v1.7h-1.7zM137.0 99.0h1.7v1.7h-1.7zM107.9 106.9h1.7v1.7h-1.7zM70.0 122.1h1.7v1.7h-1.7zM139.3 90.7h1.7v1.7h-1.7zM121.4 93.1h1.7v1.7h-1.7zM152.2 74.6h1.7v1.7h-1.7zM89.5 124.3h1.7v1.7h-1.7zM133.4 90.8h1.7v1.7h-1.7zM145.9 83.7h1.7v1.7h-1.7zM95.4 107.0h1.7v1.7h-1.7zM98.5 112.9h1.7v1.7h-1.7zM91.5 122.1h1.7v1.7h-1.7zM60.3 126.6h1.7v1.7h-1.7zM85.0 119.4h1.7v1.7h-1.7zM92.2 118.0h1.7v1.7h-1.7zM73.9 114.0h1.7v1.7h-1.7zM131.2 101.8h1.7v1.7h-1.7zM99.5 108.3h1.7v1.7h-1.7zM111.7 104.3h1.7v1.7h-1.7zM89.5 135.7h1.7v1.7h-1.7zM96.4 104.1h1.7v1.7h-1.7zM129.1 93.7h1.7v1.7h-1.7zM102.8 105.4h1.7v1.7h-1.7zM111.5 105.3h1.7v1.7h-1.7zM98.9 108.1h1.7v1.7h-1.7zM110.9 112.1h1.7v1.7h-1.7zM154.1 70.5h1.7v1.7h-1.7zM87.2 119.5h1.7v1.7h-1.7zM106.1 111.5h1.7v1.7h-1.7zM122.4 97.0h1.7v1.7h-1.7zM73.4 121.0h1.7v1.7h-1.7zM169.5 64.0h1.7v1.7h-1.7zM105.7 114.3h1.7v1.7h-1.7zM85.1 120.6h1.7v1.7h-1.7zM130.1 91.2h1.7v1.7h-1.7zM138.5 81.5h1.7v1.7h-1.7zM118.2 101.3h1.7v1.7h-1.7zM155.1 75.1h1.7v1.7h-1.7zM72.9 123.3h1.7v1.7h-1.7zM108.3 114.5h1.7v1.7h-1.7zM129.3 85.8h1.7v1.7h-1.7zM155.9 80.9h1.7v1.7h-1.7zM116.8 99.9h1.7v1.7h-1.7zM114.3 98.1h1.7v1.7h-1.7zM98.4 103.4h1.7v1.7h-1.7zM110.7 109.8h1.7v1.7h-1.7zM108.7 109.8h1.7v1.7h-1.7zM153.2 74.0h1.7v1.7h-1.7zM139.6 84.3h1.7v1.7h-1.7zM128.5 93.2h1.7v1.7h-1.7zM157.3 70.7h1.7v1.7h-1.7zM69.9 128.9h1.7v1.7h-1.7zM131.1 92.8h1.7v1.7h-1.7zM102.0 110.3h1.7v1.7h-1.7zM128.4 87.3h1.7v1.7h-1.7zM90.1 123.8h1.7v1.7h-1.7zM102.8 108.0h1.7v1.7h-1.7zM140.0 80.5h1.7v1.7h-1.7zM65.2 130.7h1.7v1.7h-1.7zM90.2 119.2h1.7v1.7h-1.7zM104.3 86.6h1.7v1.7h-1.7zM144.4 75.0h1.7v1.7h-1.7zM88.9 115.0h1.7v1.7h-1.7zM138.3 81.1h1.7v1.7h-1.7zM87.5 116.7h1.7v1.7h-1.7zM91.2 130.2h1.7v1.7h-1.7zM109.4 121.2h1.7v1.7h-1.7zM120.3 98.9h1.7v1.7h-1.7zM148.4 80.8h1.7v1.7h-1.7zM149.3 80.5h1.7v1.7h-1.7zM88.3 116.6h1.7v1.7h-1.7zM129.3 81.7h1.7v1.7h-1.7zM117.1 106.0h1.7v1.7h-1.7zM96.2 112.9h1.7v1.7h-1.7zM133.0 90.8h1.7v1.7h-1.7zM151.2 81.3h1.7v1.7h-1.7zM104.8 105.2h1.7v1.7h-1.7zM155.3 78.8h1.7v1.7h-1.7zM76.3 122.1h1.7v1.7h-1.7zM79.4 121.4h1.7v1.7h-1.7zM131.5 89.0h1.7v1.7h-1.7zM92.6 119.4h1.7v1.7h-1.7zM112.3 109.4h1.7v1.7h-1.7zM105.9 105.9h1.7v1.7h-1.7zM80.0 122.9h1.7v1.7h-1.7zM128.8 91.0h1.7v1.7h-1.7zM127.7 89.1h1.7v1.7h-1.7zM77.5 118.1h1.7v1.7h-1.7zM89.0 123.9h1.7v1.7h-1.7zM135.8 89.1h1.7v1.7h-1.7zM153.9 77.8h1.7v1.7h-1.7zM144.3 78.6h1.7v1.7h-1.7zM105.7 107.4h1.7v1.7h-1.7zM96.9 113.9h1.7v1.7h-1.7zM101.4 114.6h1.7v1.7h-1.7zM80.8 119.3h1.7v1.7h-1.7zM106.1 98.0h1.7v1.7h-1.7zM84.4 111.0h1.7v1.7h-1.7zM80.1 125.7h1.7v1.7h-1.7zM97.5 119.0h1.7v1.7h-1.7zM69.6 123.0h1.7v1.7h-1.7zM102.7 118.6h1.7v1.7h-1.7zM123.3 96.5h1.7v1.7h-1.7zM118.4 102.4h1.7v1.7h-1.7zM176.7 63.3h1.7v1.7h-1.7zM149.0 76.1h1.7v1.7h-1.7zM117.1 98.2h1.7v1.7h-1.7zM150.2 71.0h1.7v1.7h-1.7zM100.9 113.1h1.7v1.7h-1.7zM135.8 88.8h1.7v1.7h-1.7zM90.9 126.4h1.7v1.7h-1.7zM109.1 109.7h1.7v1.7h-1.7zM178.9 58.8h1.7v1.7h-1.7zM114.8 108.1h1.7v1.7h-1.7zM107.0 102.8h1.7v1.7h-1.7zM133.8 90.1h1.7v1.7h-1.7zM92.3 118.6h1.7v1.7h-1.7zM140.6 83.3h1.7v1.7h-1.7zM65.2 131.9h1.7v1.7h-1.7zM85.2 120.6h1.7v1.7h-1.7zM81.9 126.0h1.7v1.7h-1.7zM87.6 122.2h1.7v1.7h-1.7zM163.5 67.3h1.7v1.7h-1.7zM65.7 132.4h1.7v1.7h-1.7zM91.6 122.1h1.7v1.7h-1.7zM110.6 106.0h1.7v1.7h-1.7zM123.5 96.1h1.7v1.7h-1.7zM132.3 86.5h1.7v1.7h-1.7zM95.7 112.5h1.7v1.7h-1.7zM85.6 117.0h1.7v1.7h-1.7zM143.0 82.7h1.7v1.7h-1.7zM76.7 119.8h1.7v1.7h-1.7zM70.8 126.6h1.7v1.7h-1.7zM87.5 117.2h1.7v1.7h-1.7zM105.2 100.9h1.7v1.7h-1.7zM162.2 67.7h1.7v1.7h-1.7zM128.3 89.8h1.7v1.7h-1.7zM110.3 99.8h1.7v1.7h-1.7zM106.8 106.9h1.7v1.7h-1.7zM121.4 101.8h1.7v1.7h-1.7zM117.3 96.6h1.7v1.7h-1.7zM93.9 104.3h1.7v1.7h-1.7zM74.1 122.3h1.7v1.7h-1.7zM133.1 87.3h1.7v1.7h-1.7zM116.1 103.3h1.7v1.7h-1.7zM134.3 87.0h1.7v1.7h-1.7zM68.2 131.8h1.7v1.7h-1.7zM152.0 80.5h1.7v1.7h-1.7zM98.6 111.8h1.7v1.7h-1.7zM157.1 76.0h1.7v1.7h-1.7zM112.9 99.2h1.7v1.7h-1.7zM108.4 108.3h1.7v1.7h-1.7zM139.3 75.2h1.7v1.7h-1.7zM114.9 103.8h1.7v1.7h-1.7zM121.6 95.7h1.7v1.7h-1.7zM81.1 121.0h1.7v1.7h-1.7zM114.1 98.4h1.7v1.7h-1.7zM95.8 116.9h1.7v1.7h-1.7zM69.6 125.6h1.7v1.7h-1.7zM77.2 118.9h1.7v1.7h-1.7zM102.6 106.4h1.7v1.7h-1.7zM88.3 104.2h1.7v1.7h-1.7zM131.0 88.1h1.7v1.7h-1.7zM75.8 123.8h1.7v1.7h-1.7zM63.2 127.6h1.7v1.7h-1.7zM196.4 48.6h1.7v1.7h-1.7zM91.4 123.1h1.7v1.7h-1.7zM106.0 107.1h1.7v1.7h-1.7zM82.5 120.8h1.7v1.7h-1.7zM83.7 123.0h1.7v1.7h-1.7zM100.6 114.5h1.7v1.7h-1.7zM133.4 90.3h1.7v1.7h-1.7zM67.4 126.9h1.7v1.7h-1.7zM140.2 90.8h1.7v1.7h-1.7zM188.6 52.0h1.7v1.7h-1.7zM110.8 103.8h1.7v1.7h-1.7zM95.1 117.6h1.7v1.7h-1.7zM81.3 126.6h1.7v1.7h-1.7zM93.9 115.3h1.7v1.7h-1.7zM142.7 85.2h1.7v1.7h-1.7zM58.9 130.1h1.7v1.7h-1.7zM133.2 89.9h1.7v1.7h-1.7zM118.3 103.4h1.7v1.7h-1.7zM64.0 129.2h1.7v1.7h-1.7zM71.3 124.9h1.7v1.7h-1.7zM126.8 100.1h1.7v1.7h-1.7zM120.3 97.6h1.7v1.7h-1.7zM92.2 123.4h1.7v1.7h-1.7zM143.9 88.8h1.7v1.7h-1.7zM84.3 129.2h1.7v1.7h-1.7zM100.1 113.4h1.7v1.7h-1.7zM73.5 121.9h1.7v1.7h-1.7zM117.9 94.3h1.7v1.7h-1.7zM72.4 123.6h1.7v1.7h-1.7zM80.7 131.6h1.7v1.7h-1.7zM131.5 85.3h1.7v1.7h-1.7zM105.3 101.1h1.7v1.7h-1.7zM120.1 102.6h1.7v1.7h-1.7zM128.3 95.0h1.7v1.7h-1.7zM114.5 85.7h1.7v1.7h-1.7zM81.5 119.5h1.7v1.7h-1.7zM122.6 98.6h1.7v1.7h-1.7zM76.9 115.0h1.7v1.7h-1.7zM88.4 122.3h1.7v1.7h-1.7zM101.1 104.4h1.7v1.7h-1.7zM75.7 127.0h1.7v1.7h-1.7zM75.5 123.2h1.7v1.7h-1.7zM118.9 97.3h1.7v1.7h-1.7zM128.8 87.2h1.7v1.7h-1.7zM95.4 112.5h1.7v1.7h-1.7zM97.3 112.9h1.7v1.7h-1.7zM83.5 118.4h1.7v1.7h-1.7zM107.4 101.5h1.7v1.7h-1.7zM110.1 105.1h1.7v1.7h-1.7zM159.7 73.4h1.7v1.7h-1.7zM65.9 121.7h1.7v1.7h-1.7zM154.9 72.9h1.7v1.7h-1.7zM189.7 52.4h1.7v1.7h-1.7zM96.0 113.9h1.7v1.7h-1.7zM127.1 96.8h1.7v1.7h-1.7zM138.5 90.7h1.7v1.7h-1.7zM119.5 98.3h1.7v1.7h-1.7zM89.9 117.9h1.7v1.7h-1.7zM116.5 89.3h1.7v1.7h-1.7zM146.3 78.4h1.7v1.7h-1.7zM74.5 125.5h1.7v1.7h-1.7zM104.7 103.6h1.7v1.7h-1.7zM66.0 130.7h1.7v1.7h-1.7zM141.9 76.1h1.7v1.7h-1.7zM134.9 92.5h1.7v1.7h-1.7zM70.7 122.9h1.7v1.7h-1.7zM127.3 86.2h1.7v1.7h-1.7zM122.5 93.4h1.7v1.7h-1.7zM76.0 120.9h1.7v1.7h-1.7zM107.5 102.6h1.7v1.7h-1.7zM121.8 92.6h1.7v1.7h-1.7zM93.5 112.4h1.7v1.7h-1.7zM107.0 113.1h1.7v1.7h-1.7zM178.3 60.0h1.7v1.7h-1.7zM117.3 107.0h1.7v1.7h-1.7zM105.9 105.7h1.7v1.7h-1.7zM70.7 123.4h1.7v1.7h-1.7zM76.6 118.7h1.7v1.7h-1.7zM143.4 82.2h1.7v1.7h-1.7zM128.2 94.5h1.7v1.7h-1.7zM140.9 89.7h1.7v1.7h-1.7zM110.7 109.1h1.7v1.7h-1.7zM112.6 105.2h1.7v1.7h-1.7zM109.8 112.9h1.7v1.7h-1.7zM127.5 90.8h1.7v1.7h-1.7zM91.8 109.0h1.7v1.7h-1.7zM106.8 115.8h1.7v1.7h-1.7zM103.2 111.3h1.7v1.7h-1.7zM116.6 102.3h1.7v1.7h-1.7zM84.3 123.3h1.7v1.7h-1.7zM65.4 126.3h1.7v1.7h-1.7zM73.6 122.8h1.7v1.7h-1.7zM82.7 121.1h1.7v1.7h-1.7zM144.5 85.9h1.7v1.7h-1.7zM125.4 98.6h1.7v1.7h-1.7zM127.2 94.1h1.7v1.7h-1.7zM100.5 113.1h1.7v1.7h-1.7zM74.9 112.7h1.7v1.7h-1.7zM103.8 124.3h1.7v1.7h-1.7zM143.8 69.4h1.7v1.7h-1.7zM105.8 108.7h1.7v1.7h-1.7zM117.2 112.2h1.7v1.7h-1.7zM94.5 112.9h1.7v1.7h-1.7zM77.1 114.5h1.7v1.7h-1.7zM116.0 109.2h1.7v1.7h-1.7zM104.9 106.5h1.7v1.7h-1.7zM93.9 113.2h1.7v1.7h-1.7zM85.5 116.5h1.7v1.7h-1.7zM123.1 99.7h1.7v1.7h-1.7zM91.0 125.3h1.7v1.7h-1.7zM112.4 104.0h1.7v1.7h-1.7zM87.8 123.2h1.7v1.7h-1.7zM129.8 88.8h1.7v1.7h-1.7zM97.1 117.0h1.7v1.7h-1.7zM103.6 103.0h1.7v1.7h-1.7zM159.1 73.2h1.7v1.7h-1.7zM126.7 91.8h1.7v1.7h-1.7zM127.9 90.0h1.7v1.7h-1.7zM95.2 122.3h1.7v1.7h-1.7zM140.6 79.8h1.7v1.7h-1.7zM98.2 106.5h1.7v1.7h-1.7zM186.3 54.9h1.7v1.7h-1.7zM149.8 75.2h1.7v1.7h-1.7zM119.2 98.1h1.7v1.7h-1.7zM139.4 84.1h1.7v1.7h-1.7zM108.6 117.7h1.7v1.7h-1.7zM127.2 90.1h1.7v1.7h-1.7zM77.9 119.8h1.7v1.7h-1.7zM186.0 54.2h1.7v1.7h-1.7zM135.7 84.2h1.7v1.7h-1.7zM76.9 121.4h1.7v1.7h-1.7zM86.7 120.3h1.7v1.7h-1.7zM112.8 95.2h1.7v1.7h-1.7zM131.5 94.1h1.7v1.7h-1.7zM79.4 108.9h1.7v1.7h-1.7zM169.1 64.1h1.7v1.7h-1.7zM93.4 117.0h1.7v1.7h-1.7zM193.0 62.7h1.7v1.7h-1.7zM128.1 87.1h1.7v1.7h-1.7zM103.4 111.7h1.7v1.7h-1.7zM96.5 127.2h1.7v1.7h-1.7zM73.1 121.1h1.7v1.7h-1.7zM74.9 132.1h1.7v1.7h-1.7zM115.1 104.8h1.7v1.7h-1.7zM132.5 85.0h1.7v1.7h-1.7zM152.2 78.3h1.7v1.7h-1.7zM95.9 109.2h1.7v1.7h-1.7zM160.1 70.7h1.7v1.7h-1.7zM90.8 99.3h1.7v1.7h-1.7zM161.7 71.7h1.7v1.7h-1.7zM155.5 65.3h1.7v1.7h-1.7zM80.0 119.3h1.7v1.7h-1.7zM145.9 84.4h1.7v1.7h-1.7zM123.3 98.6h1.7v1.7h-1.7zM124.6 94.4h1.7v1.7h-1.7zM141.3 82.3h1.7v1.7h-1.7zM108.5 104.9h1.7v1.7h-1.7zM108.4 120.8h1.7v1.7h-1.7zM93.8 114.4h1.7v1.7h-1.7zM144.5 80.8h1.7v1.7h-1.7zM150.1 74.4h1.7v1.7h-1.7zM79.6 118.0h1.7v1.7h-1.7zM131.6 92.3h1.7v1.7h-1.7zM92.9 108.4h1.7v1.7h-1.7zM82.2 115.5h1.7v1.7h-1.7zM84.7 115.7h1.7v1.7h-1.7zM112.8 102.6h1.7v1.7h-1.7zM89.0 117.9h1.7v1.7h-1.7zM87.0 115.2h1.7v1.7h-1.7zM75.9 121.2h1.7v1.7h-1.7zM93.0 111.4h1.7v1.7h-1.7zM132.3 93.8h1.7v1.7h-1.7zM64.6 127.7h1.7v1.7h-1.7zM103.0 108.7h1.7v1.7h-1.7zM113.3 106.8h1.7v1.7h-1.7zM68.8 125.4h1.7v1.7h-1.7zM91.0 107.9h1.7v1.7h-1.7zM152.2 74.9h1.7v1.7h-1.7zM191.9 53.2h1.7v1.7h-1.7zM142.6 84.0h1.7v1.7h-1.7zM80.5 125.5h1.7v1.7h-1.7zM131.6 88.2h1.7v1.7h-1.7zM102.2 102.8h1.7v1.7h-1.7zM80.9 116.5h1.7v1.7h-1.7zM102.9 117.7h1.7v1.7h-1.7zM156.0 69.6h1.7v1.7h-1.7zM147.6 72.8h1.7v1.7h-1.7zM96.1 119.8h1.7v1.7h-1.7zM70.5 123.8h1.7v1.7h-1.7zM151.1 75.5h1.7v1.7h-1.7zM183.6 56.3h1.7v1.7h-1.7zM107.3 108.3h1.7v1.7h-1.7zM84.5 117.0h1.7v1.7h-1.7zM108.3 108.5h1.7v1.7h-1.7zM122.4 94.6h1.7v1.7h-1.7zM104.5 109.4h1.7v1.7h-1.7zM97.6 116.6h1.7v1.7h-1.7zM84.9 113.1h1.7v1.7h-1.7zM90.7 115.3h1.7v1.7h-1.7zM68.3 118.1h1.7v1.7h-1.7zM88.5 121.0h1.7v1.7h-1.7zM166.1 68.6h1.7v1.7h-1.7zM58.1 130.9h1.7v1.7h-1.7zM127.8 96.7h1.7v1.7h-1.7zM132.9 96.6h1.7v1.7h-1.7zM98.6 116.4h1.7v1.7h-1.7zM112.1 101.1h1.7v1.7h-1.7zM83.8 123.4h1.7v1.7h-1.7zM119.7 95.8h1.7v1.7h-1.7zM125.1 103.6h1.7v1.7h-1.7zM128.1 93.9h1.7v1.7h-1.7zM104.5 112.8h1.7v1.7h-1.7zM174.8 57.9h1.7v1.7h-1.7zM145.0 84.3h1.7v1.7h-1.7zM111.6 117.0h1.7v1.7h-1.7zM121.8 91.8h1.7v1.7h-1.7zM89.7 113.8h1.7v1.7h-1.7zM162.4 67.6h1.7v1.7h-1.7zM117.8 98.2h1.7v1.7h-1.7zM150.8 81.0h1.7v1.7h-1.7zM180.7 54.7h1.7v1.7h-1.7zM76.6 126.2h1.7v1.7h-1.7zM107.6 106.3h1.7v1.7h-1.7zM76.2 134.4h1.7v1.7h-1.7zM82.5 107.4h1.7v1.7h-1.7zM132.1 88.6h1.7v1.7h-1.7zM68.4 129.6h1.7v1.7h-1.7zM99.1 108.3h1.7v1.7h-1.7zM82.3 125.1h1.7v1.7h-1.7zM141.5 81.2h1.7v1.7h-1.7zM72.6 127.9h1.7v1.7h-1.7zM95.9 117.1h1.7v1.7h-1.7zM144.2 79.6h1.7v1.7h-1.7zM120.9 95.6h1.7v1.7h-1.7zM123.3 96.0h1.7v1.7h-1.7zM190.1 53.6h1.7v1.7h-1.7zM63.0 127.9h1.7v1.7h-1.7zM119.7 96.8h1.7v1.7h-1.7zM128.2 104.0h1.7v1.7h-1.7zM131.0 85.6h1.7v1.7h-1.7zM124.7 94.8h1.7v1.7h-1.7zM72.6 125.7h1.7v1.7h-1.7zM72.0 120.1h1.7v1.7h-1.7zM131.1 90.6h1.7v1.7h-1.7zM115.9 100.4h1.7v1.7h-1.7zM88.7 100.5h1.7v1.7h-1.7zM59.2 130.8h1.7v1.7h-1.7zM108.9 101.1h1.7v1.7h-1.7zM74.0 116.5h1.7v1.7h-1.7zM128.3 96.9h1.7v1.7h-1.7zM94.2 108.8h1.7v1.7h-1.7zM136.8 88.5h1.7v1.7h-1.7zM73.4 127.8h1.7v1.7h-1.7zM104.7 114.9h1.7v1.7h-1.7zM73.7 124.9h1.7v1.7h-1.7zM132.6 88.8h1.7v1.7h-1.7zM109.1 91.6h1.7v1.7h-1.7zM85.9 118.8h1.7v1.7h-1.7zM169.1 66.2h1.7v1.7h-1.7zM121.6 96.0h1.7v1.7h-1.7zM93.5 109.8h1.7v1.7h-1.7zM142.5 85.3h1.7v1.7h-1.7zM97.7 107.4h1.7v1.7h-1.7zM164.6 70.5h1.7v1.7h-1.7zM92.0 113.3h1.7v1.7h-1.7zM181.5 52.7h1.7v1.7h-1.7zM71.4 130.0h1.7v1.7h-1.7zM127.5 95.5h1.7v1.7h-1.7zM90.2 122.6h1.7v1.7h-1.7zM99.5 95.7h1.7v1.7h-1.7zM117.1 100.8h1.7v1.7h-1.7zM69.3 126.2h1.7v1.7h-1.7zM85.6 114.4h1.7v1.7h-1.7zM74.4 129.3h1.7v1.7h-1.7zM127.2 86.7h1.7v1.7h-1.7zM84.5 122.0h1.7v1.7h-1.7zM106.2 98.6h1.7v1.7h-1.7zM94.9 96.1h1.7v1.7h-1.7zM85.0 111.9h1.7v1.7h-1.7zM160.4 71.9h1.7v1.7h-1.7zM105.9 104.9h1.7v1.7h-1.7zM117.7 98.1h1.7v1.7h-1.7zM124.3 92.5h1.7v1.7h-1.7zM138.9 79.7h1.7v1.7h-1.7zM86.7 113.0h1.7v1.7h-1.7zM71.0 116.7h1.7v1.7h-1.7zM104.5 107.8h1.7v1.7h-1.7zM81.0 117.8h1.7v1.7h-1.7zM64.4 114.3h1.7v1.7h-1.7zM155.7 70.8h1.7v1.7h-1.7zM115.8 107.3h1.7v1.7h-1.7zM99.8 109.2h1.7v1.7h-1.7zM77.3 120.7h1.7v1.7h-1.7zM129.4 89.4h1.7v1.7h-1.7zM108.3 103.5h1.7v1.7h-1.7zM82.0 118.0h1.7v1.7h-1.7zM180.3 50.0h1.7v1.7h-1.7zM166.6 65.8h1.7v1.7h-1.7zM158.8 65.7h1.7v1.7h-1.7zM138.3 86.3h1.7v1.7h-1.7zM108.2 99.0h1.7v1.7h-1.7zM90.9 119.4h1.7v1.7h-1.7zM119.2 103.7h1.7v1.7h-1.7zM79.8 112.2h1.7v1.7h-1.7zM114.0 106.1h1.7v1.7h-1.7zM69.3 123.7h1.7v1.7h-1.7zM63.2 130.4h1.7v1.7h-1.7zM125.2 93.0h1.7v1.7h-1.7zM94.5 110.4h1.7v1.7h-1.7zM123.5 95.1h1.7v1.7h-1.7zM134.4 96.7h1.7v1.7h-1.7zM139.3 77.6h1.7v1.7h-1.7zM116.3 104.8h1.7v1.7h-1.7zM141.4 83.1h1.7v1.7h-1.7zM120.0 94.2h1.7v1.7h-1.7zM159.5 69.7h1.7v1.7h-1.7zM149.6 80.1h1.7v1.7h-1.7zM68.0 128.2h1.7v1.7h-1.7zM88.2 125.5h1.7v1.7h-1.7zM97.2 109.3h1.7v1.7h-1.7zM87.3 107.4h1.7v1.7h-1.7zM80.2 113.4h1.7v1.7h-1.7zM145.6 79.0h1.7v1.7h-1.7zM65.4 125.7h1.7v1.7h-1.7zM82.5 130.9h1.7v1.7h-1.7zM129.8 98.7h1.7v1.7h-1.7zM83.6 120.2h1.7v1.7h-1.7zM90.1 95.2h1.7v1.7h-1.7zM173.9 64.4h1.7v1.7h-1.7zM131.0 88.3h1.7v1.7h-1.7zM100.9 111.1h1.7v1.7h-1.7zM77.2 124.6h1.7v1.7h-1.7zM88.8 118.4h1.7v1.7h-1.7zM179.7 57.6h1.7v1.7h-1.7zM135.9 87.8h1.7v1.7h-1.7zM71.2 126.7h1.7v1.7h-1.7zM124.6 97.6h1.7v1.7h-1.7zM95.5 124.7h1.7v1.7h-1.7zM124.7 84.3h1.7v1.7h-1.7zM89.8 112.0h1.7v1.7h-1.7zM77.5 118.1h1.7v1.7h-1.7zM63.4 129.5h1.7v1.7h-1.7zM90.3 117.8h1.7v1.7h-1.7zM144.6 83.4h1.7v1.7h-1.7zM150.1 71.7h1.7v1.7h-1.7zM123.2 95.6h1.7v1.7h-1.7zM128.7 94.3h1.7v1.7h-1.7zM81.7 117.9h1.7v1.7h-1.7zM94.9 111.7h1.7v1.7h-1.7zM152.9 76.1h1.7v1.7h-1.7zM183.8 58.9h1.7v1.7h-1.7zM101.6 99.3h1.7v1.7h-1.7zM132.0 94.9h1.7v1.7h-1.7zM160.3 70.8h1.7v1.7h-1.7zM196.3 46.7h1.7v1.7h-1.7zM89.8 119.6h1.7v1.7h-1.7zM118.6 99.7h1.7v1.7h-1.7zM98.5 118.5h1.7v1.7h-1.7zM104.2 104.9h1.7v1.7h-1.7zM103.8 114.6h1.7v1.7h-1.7zM90.2 111.2h1.7v1.7h-1.7zM63.2 128.4h1.7v1.7h-1.7zM130.8 92.8h1.7v1.7h-1.7zM123.9 95.5h1.7v1.7h-1.7zM140.1 85.9h1.7v1.7h-1.7zM79.2 117.1h1.7v1.7h-1.7zM84.3 123.3h1.7v1.7h-1.7zM113.1 101.2h1.7v1.7h-1.7zM160.1 67.9h1.7v1.7h-1.7zM102.4 109.5h1.7v1.7h-1.7zM83.8 118.0h1.7v1.7h-1.7zM112.6 100.0h1.7v1.7h-1.7zM167.9 70.0h1.7v1.7h-1.7zM145.4 79.4h1.7v1.7h-1.7zM150.7 78.2h1.7v1.7h-1.7zM100.5 103.1h1.7v1.7h-1.7zM87.6 110.2h1.7v1.7h-1.7zM146.3 78.3h1.7v1.7h-1.7zM132.6 86.0h1.7v1.7h-1.7zM142.4 81.5h1.7v1.7h-1.7zM97.4 115.7h1.7v1.7h-1.7zM89.6 128.1h1.7v1.7h-1.7zM85.8 124.9h1.7v1.7h-1.7zM146.2 82.0h1.7v1.7h-1.7zM157.6 66.3h1.7v1.7h-1.7zM95.8 116.4h1.7v1.7h-1.7zM146.6 74.6h1.7v1.7h-1.7zM96.6 115.9h1.7v1.7h-1.7zM104.4 103.5h1.7v1.7h-1.7zM112.5 110.2h1.7v1.7h-1.7zM85.4 119.8h1.7v1.7h-1.7zM89.2 112.5h1.7v1.7h-1.7zM87.7 109.9h1.7v1.7h-1.7zM87.8 118.3h1.7v1.7h-1.7zM107.1 104.7h1.7v1.7h-1.7zM74.5 123.3h1.7v1.7h-1.7zM132.1 87.3h1.7v1.7h-1.7zM80.3 116.9h1.7v1.7h-1.7zM102.1 113.6h1.7v1.7h-1.7zM117.9 106.5h1.7v1.7h-1.7zM75.9 109.6h1.7v1.7h-1.7zM99.1 110.8h1.7v1.7h-1.7zM111.9 106.1h1.7v1.7h-1.7zM109.0 105.4h1.7v1.7h-1.7zM150.4 74.9h1.7v1.7h-1.7zM132.1 96.7h1.7v1.7h-1.7zM77.2 117.2h1.7v1.7h-1.7zM139.1 85.7h1.7v1.7h-1.7zM108.4 104.2h1.7v1.7h-1.7zM120.9 97.8h1.7v1.7h-1.7zM82.2 107.8h1.7v1.7h-1.7zM103.0 114.6h1.7v1.7h-1.7zM122.2 94.9h1.7v1.7h-1.7zM135.6 83.8h1.7v1.7h-1.7zM136.5 92.0h1.7v1.7h-1.7zM86.2 116.1h1.7v1.7h-1.7zM138.8 82.5h1.7v1.7h-1.7zM109.6 101.7h1.7v1.7h-1.7zM119.9 107.6h1.7v1.7h-1.7zM143.3 81.4h1.7v1.7h-1.7zM99.1 110.2h1.7v1.7h-1.7zM157.2 67.6h1.7v1.7h-1.7zM146.5 71.9h1.7v1.7h-1.7zM135.7 88.1h1.7v1.7h-1.7zM96.7 112.9h1.7v1.7h-1.7zM108.7 96.4h1.7v1.7h-1.7zM81.4 115.0h1.7v1.7h-1.7zM129.8 92.0h1.7v1.7h-1.7zM148.8 86.6h1.7v1.7h-1.7zM80.8 111.1h1.7v1.7h-1.7zM129.4 75.6h1.7v1.7h-1.7zM125.5 100.1h1.7v1.7h-1.7zM66.4 125.1h1.7v1.7h-1.7zM157.1 67.7h1.7v1.7h-1.7zM103.0 112.9h1.7v1.7h-1.7zM88.1 115.6h1.7v1.7h-1.7zM65.0 121.3h1.7v1.7h-1.7zM132.6 84.9h1.7v1.7h-1.7zM92.9 112.9h1.7v1.7h-1.7zM106.2 108.5h1.7v1.7h-1.7zM82.7 110.1h1.7v1.7h-1.7zM114.0 107.4h1.7v1.7h-1.7zM98.8 105.2h1.7v1.7h-1.7zM136.3 91.2h1.7v1.7h-1.7zM120.0 100.2h1.7v1.7h-1.7zM127.3 92.6h1.7v1.7h-1.7zM87.5 118.7h1.7v1.7h-1.7zM70.5 122.3h1.7v1.7h-1.7zM147.7 78.0h1.7v1.7h-1.7zM160.6 74.8h1.7v1.7h-1.7zM118.3 97.7h1.7v1.7h-1.7zM155.9 75.2h1.7v1.7h-1.7zM125.2 87.5h1.7v1.7h-1.7zM115.9 101.1h1.7v1.7h-1.7zM100.9 116.1h1.7v1.7h-1.7zM94.6 107.6h1.7v1.7h-1.7zM103.4 111.5h1.7v1.7h-1.7zM84.5 107.4h1.7v1.7h-1.7zM100.5 105.0h1.7v1.7h-1.7zM107.1 105.3h1.7v1.7h-1.7zM65.6 131.7h1.7v1.7h-1.7zM97.6 116.4h1.7v1.7h-1.7zM91.3 110.8h1.7v1.7h-1.7zM116.2 101.0h1.7v1.7h-1.7zM138.1 86.1h1.7v1.7h-1.7zM116.0 94.9h1.7v1.7h-1.7zM118.5 101.7h1.7v1.7h-1.7zM115.3 108.1h1.7v1.7h-1.7zM87.1 123.5h1.7v1.7h-1.7zM95.6 110.4h1.7v1.7h-1.7zM140.0 82.4h1.7v1.7h-1.7zM162.3 65.9h1.7v1.7h-1.7zM82.0 116.5h1.7v1.7h-1.7zM61.0 127.2h1.7v1.7h-1.7zM170.2 65.9h1.7v1.7h-1.7zM143.2 81.6h1.7v1.7h-1.7zM114.2 98.7h1.7v1.7h-1.7zM137.5 88.4h1.7v1.7h-1.7zM111.8 108.6h1.7v1.7h-1.7zM151.1 71.1h1.7v1.7h-1.7zM87.0 115.9h1.7v1.7h-1.7zM101.7 109.9h1.7v1.7h-1.7zM119.5 92.6h1.7v1.7h-1.7zM84.3 118.8h1.7v1.7h-1.7zM125.7 96.9h1.7v1.7h-1.7zM89.9 126.4h1.7v1.7h-1.7zM123.7 96.7h1.7v1.7h-1.7zM136.7 85.3h1.7v1.7h-1.7zM102.2 109.5h1.7v1.7h-1.7zM187.7 55.1h1.7v1.7h-1.7zM118.1 103.6h1.7v1.7h-1.7zM127.4 90.3h1.7v1.7h-1.7zM65.3 127.5h1.7v1.7h-1.7zM75.6 124.4h1.7v1.7h-1.7zM122.8 89.1h1.7v1.7h-1.7zM163.6 72.1h1.7v1.7h-1.7zM117.4 99.9h1.7v1.7h-1.7zM155.7 75.5h1.7v1.7h-1.7zM70.9 124.0h1.7v1.7h-1.7zM149.9 75.9h1.7v1.7h-1.7zM146.5 78.8h1.7v1.7h-1.7zM116.0 103.9h1.7v1.7h-1.7zM100.5 115.8h1.7v1.7h-1.7zM124.4 94.5h1.7v1.7h-1.7zM86.2 111.8h1.7v1.7h-1.7zM120.2 95.9h1.7v1.7h-1.7zM123.7 92.4h1.7v1.7h-1.7zM109.1 109.9h1.7v1.7h-1.7zM90.2 111.0h1.7v1.7h-1.7zM59.6 131.5h1.7v1.7h-1.7zM81.7 119.9h1.7v1.7h-1.7zM139.7 83.7h1.7v1.7h-1.7zM82.9 125.0h1.7v1.7h-1.7zM70.4 123.2h1.7v1.7h-1.7zM87.4 115.6h1.7v1.7h-1.7zM106.2 112.2h1.7v1.7h-1.7zM111.6 108.1h1.7v1.7h-1.7zM147.0 75.3h1.7v1.7h-1.7zM144.2 89.4h1.7v1.7h-1.7zM173.1 65.2h1.7v1.7h-1.7zM148.2 73.6h1.7v1.7h-1.7zM102.9 109.0h1.7v1.7h-1.7zM78.8 128.9h1.7v1.7h-1.7zM168.0 66.1h1.7v1.7h-1.7zM86.4 121.8h1.7v1.7h-1.7zM114.8 113.0h1.7v1.7h-1.7zM88.5 121.5h1.7v1.7h-1.7zM137.2 92.7h1.7v1.7h-1.7zM84.2 121.6h1.7v1.7h-1.7zM100.7 102.9h1.7v1.7h-1.7zM83.7 125.8h1.7v1.7h-1.7zM145.7 77.3h1.7v1.7h-1.7zM114.4 107.1h1.7v1.7h-1.7zM117.7 103.4h1.7v1.7h-1.7zM92.2 110.8h1.7v1.7h-1.7zM80.4 116.3h1.7v1.7h-1.7zM142.8 81.2h1.7v1.7h-1.7zM130.6 92.1h1.7v1.7h-1.7zM127.2 98.0h1.7v1.7h-1.7zM195.6 48.6h1.7v1.7h-1.7zM110.9 114.2h1.7v1.7h-1.7zM80.0 123.9h1.7v1.7h-1.7zM114.7 99.9h1.7v1.7h-1.7zM90.0 109.0h1.7v1.7h-1.7zM104.9 109.6h1.7v1.7h-1.7zM103.0 103.7h1.7v1.7h-1.7zM109.5 105.7h1.7v1.7h-1.7zM154.1 76.4h1.7v1.7h-1.7zM136.3 87.6h1.7v1.7h-1.7zM99.2 123.0h1.7v1.7h-1.7zM138.8 82.5h1.7v1.7h-1.7zM143.9 78.0h1.7v1.7h-1.7zM133.5 84.1h1.7v1.7h-1.7zM111.1 96.6h1.7v1.7h-1.7zM152.6 73.5h1.7v1.7h-1.7zM106.4 108.6h1.7v1.7h-1.7zM75.3 121.3h1.7v1.7h-1.7zM88.3 116.8h1.7v1.7h-1.7zM119.8 107.5h1.7v1.7h-1.7zM97.7 107.0h1.7v1.7h-1.7zM100.3 110.1h1.7v1.7h-1.7zM98.3 110.0h1.7v1.7h-1.7zM81.0 115.3h1.7v1.7h-1.7zM74.4 128.0h1.7v1.7h-1.7zM68.8 125.4h1.7v1.7h-1.7zM119.3 104.7h1.7v1.7h-1.7zM92.8 109.3h1.7v1.7h-1.7zM103.2 120.2h1.7v1.7h-1.7zM160.3 77.2h1.7v1.7h-1.7zM117.0 97.6h1.7v1.7h-1.7zM137.7 85.7h1.7v1.7h-1.7zM129.2 91.6h1.7v1.7h-1.7zM166.4 68.2h1.7v1.7h-1.7zM71.2 119.7h1.7v1.7h-1.7zM98.1 115.2h1.7v1.7h-1.7zM166.5 68.6h1.7v1.7h-1.7zM101.2 107.9h1.7v1.7h-1.7zM164.4 61.1h1.7v1.7h-1.7zM82.6 115.8h1.7v1.7h-1.7zM71.1 122.9h1.7v1.7h-1.7zM152.4 77.8h1.7v1.7h-1.7zM98.2 109.3h1.7v1.7h-1.7zM106.0 102.6h1.7v1.7h-1.7zM159.7 74.6h1.7v1.7h-1.7zM85.5 119.9h1.7v1.7h-1.7zM171.8 65.1h1.7v1.7h-1.7zM99.2 112.4h1.7v1.7h-1.7zM87.9 122.7h1.7v1.7h-1.7zM86.3 120.4h1.7v1.7h-1.7zM105.0 99.7h1.7v1.7h-1.7zM102.6 111.5h1.7v1.7h-1.7zM149.6 79.8h1.7v1.7h-1.7zM67.2 126.4h1.7v1.7h-1.7zM67.5 130.6h1.7v1.7h-1.7zM79.1 115.6h1.7v1.7h-1.7zM115.2 105.6h1.7v1.7h-1.7zM133.3 84.9h1.7v1.7h-1.7zM104.5 109.5h1.7v1.7h-1.7zM114.6 100.5h1.7v1.7h-1.7zM117.7 91.8h1.7v1.7h-1.7zM63.5 124.7h1.7v1.7h-1.7zM87.6 118.5h1.7v1.7h-1.7zM197.3 48.7h1.7v1.7h-1.7zM94.2 111.3h1.7v1.7h-1.7zM162.4 65.2h1.7v1.7h-1.7zM106.3 98.4h1.7v1.7h-1.7zM84.8 122.1h1.7v1.7h-1.7zM58.9 125.4h1.7v1.7h-1.7zM84.7 124.1h1.7v1.7h-1.7zM93.4 106.2h1.7v1.7h-1.7zM102.7 111.9h1.7v1.7h-1.7zM101.3 118.8h1.7v1.7h-1.7zM109.6 112.3h1.7v1.7h-1.7zM103.6 107.7h1.7v1.7h-1.7zM66.3 124.6h1.7v1.7h-1.7zM86.8 102.0h1.7v1.7h-1.7zM170.0 66.9h1.7v1.7h-1.7zM64.9 126.5h1.7v1.7h-1.7zM126.4 92.6h1.7v1.7h-1.7zM103.8 107.7h1.7v1.7h-1.7zM122.7 98.1h1.7v1.7h-1.7zM94.7 114.6h1.7v1.7h-1.7zM96.6 119.9h1.7v1.7h-1.7zM108.9 96.0h1.7v1.7h-1.7zM152.9 77.7h1.7v1.7h-1.7zM91.9 109.7h1.7v1.7h-1.7zM73.2 123.0h1.7v1.7h-1.7zM65.2 126.4h1.7v1.7h-1.7zM148.2 77.9h1.7v1.7h-1.7zM91.3 120.1h1.7v1.7h-1.7zM76.0 122.9h1.7v1.7h-1.7zM113.8 89.4h1.7v1.7h-1.7zM141.9 82.4h1.7v1.7h-1.7zM115.6 101.9h1.7v1.7h-1.7zM79.8 121.9h1.7v1.7h-1.7zM97.5 113.3h1.7v1.7h-1.7zM89.4 116.4h1.7v1.7h-1.7zM61.7 130.5h1.7v1.7h-1.7zM172.0 56.6h1.7v1.7h-1.7zM101.5 122.8h1.7v1.7h-1.7zM76.9 116.2h1.7v1.7h-1.7zM149.9 73.5h1.7v1.7h-1.7zM182.9 57.7h1.7v1.7h-1.7zM137.0 89.9h1.7v1.7h-1.7zM86.9 124.0h1.7v1.7h-1.7zM82.1 126.4h1.7v1.7h-1.7zM109.1 109.0h1.7v1.7h-1.7zM111.2 105.5h1.7v1.7h-1.7zM146.2 80.9h1.7v1.7h-1.7zM173.2 62.2h1.7v1.7h-1.7zM152.4 73.5h1.7v1.7h-1.7zM93.7 133.5h1.7v1.7h-1.7zM113.7 111.9h1.7v1.7h-1.7zM76.7 121.6h1.7v1.7h-1.7zM106.7 107.0h1.7v1.7h-1.7zM70.5 123.0h1.7v1.7h-1.7zM74.6 115.9h1.7v1.7h-1.7zM75.9 119.1h1.7v1.7h-1.7zM91.2 113.5h1.7v1.7h-1.7zM92.9 115.3h1.7v1.7h-1.7zM124.9 91.8h1.7v1.7h-1.7zM71.2 117.6h1.7v1.7h-1.7zM74.8 125.2h1.7v1.7h-1.7zM119.7 106.4h1.7v1.7h-1.7zM118.8 91.4h1.7v1.7h-1.7zM124.1 95.5h1.7v1.7h-1.7zM125.3 98.2h1.7v1.7h-1.7zM118.5 95.6h1.7v1.7h-1.7zM108.8 99.7h1.7v1.7h-1.7zM128.4 92.9h1.7v1.7h-1.7zM70.7 123.8h1.7v1.7h-1.7zM83.2 115.9h1.7v1.7h-1.7zM127.4 105.6h1.7v1.7h-1.7zM82.6 126.5h1.7v1.7h-1.7zM106.7 111.7h1.7v1.7h-1.7zM89.0 116.7h1.7v1.7h-1.7zM100.3 110.0h1.7v1.7h-1.7zM140.0 87.2h1.7v1.7h-1.7zM119.0 98.0h1.7v1.7h-1.7zM101.0 119.4h1.7v1.7h-1.7zM87.9 123.8h1.7v1.7h-1.7zM137.3 84.1h1.7v1.7h-1.7zM119.3 102.9h1.7v1.7h-1.7zM101.1 119.8h1.7v1.7h-1.7zM146.8 81.6h1.7v1.7h-1.7zM121.9 94.2h1.7v1.7h-1.7zM180.8 56.7h1.7v1.7h-1.7zM119.8 98.1h1.7v1.7h-1.7zM150.7 77.0h1.7v1.7h-1.7zM110.4 106.1h1.7v1.7h-1.7zM123.0 95.7h1.7v1.7h-1.7zM142.1 89.3h1.7v1.7h-1.7zM72.5 128.9h1.7v1.7h-1.7zM104.2 103.7h1.7v1.7h-1.7zM115.6 96.1h1.7v1.7h-1.7zM70.1 126.3h1.7v1.7h-1.7zM133.4 89.1h1.7v1.7h-1.7zM125.1 97.0h1.7v1.7h-1.7zM160.3 68.3h1.7v1.7h-1.7zM95.1 116.2h1.7v1.7h-1.7zM102.3 100.8h1.7v1.7h-1.7zM154.3 77.7h1.7v1.7h-1.7zM99.7 121.3h1.7v1.7h-1.7zM138.5 78.7h1.7v1.7h-1.7zM99.8 98.4h1.7v1.7h-1.7zM94.2 112.5h1.7v1.7h-1.7zM89.3 114.4h1.7v1.7h-1.7zM83.2 120.2h1.7v1.7h-1.7zM101.6 111.5h1.7v1.7h-1.7zM78.7 123.1h1.7v1.7h-1.7zM140.0 104.9h1.7v1.7h-1.7zM178.0 57.8h1.7v1.7h-1.7zM72.1 122.8h1.7v1.7h-1.7zM69.4 126.9h1.7v1.7h-1.7zM58.8 126.7h1.7v1.7h-1.7zM159.7 73.3h1.7v1.7h-1.7zM70.7 122.7h1.7v1.7h-1.7zM121.0 93.1h1.7v1.7h-1.7zM89.8 112.6h1.7v1.7h-1.7zM83.1 121.8h1.7v1.7h-1.7zM87.3 122.2h1.7v1.7h-1.7zM121.6 103.1h1.7v1.7h-1.7zM62.3 130.6h1.7v1.7h-1.7zM144.6 78.5h1.7v1.7h-1.7zM111.0 108.4h1.7v1.7h-1.7zM86.0 118.0h1.7v1.7h-1.7zM83.7 130.7h1.7v1.7h-1.7zM118.9 92.0h1.7v1.7h-1.7zM115.1 110.2h1.7v1.7h-1.7zM89.5 121.2h1.7v1.7h-1.7zM94.0 117.5h1.7v1.7h-1.7zM104.4 109.7h1.7v1.7h-1.7zM152.5 73.7h1.7v1.7h-1.7zM108.0 103.0h1.7v1.7h-1.7zM141.4 77.9h1.7v1.7h-1.7zM118.4 109.2h1.7v1.7h-1.7zM111.2 110.2h1.7v1.7h-1.7zM106.1 112.6h1.7v1.7h-1.7zM121.3 100.0h1.7v1.7h-1.7zM105.4 99.4h1.7v1.7h-1.7zM126.6 92.7h1.7v1.7h-1.7zM81.2 120.7h1.7v1.7h-1.7zM93.7 121.8h1.7v1.7h-1.7zM147.1 75.9h1.7v1.7h-1.7zM98.9 114.4h1.7v1.7h-1.7zM141.2 82.8h1.7v1.7h-1.7zM162.2 69.5h1.7v1.7h-1.7zM110.9 102.2h1.7v1.7h-1.7zM74.9 126.6h1.7v1.7h-1.7zM127.3 94.2h1.7v1.7h-1.7zM118.9 92.9h1.7v1.7h-1.7zM90.9 123.3h1.7v1.7h-1.7zM144.3 89.2h1.7v1.7h-1.7zM104.5 105.5h1.7v1.7h-1.7zM67.8 129.9h1.7v1.7h-1.7zM72.3 120.6h1.7v1.7h-1.7zM86.0 115.9h1.7v1.7h-1.7zM114.6 111.4h1.7v1.7h-1.7zM137.9 86.7h1.7v1.7h-1.7zM74.5 129.2h1.7v1.7h-1.7zM65.5 128.2h1.7v1.7h-1.7zM116.0 107.0h1.7v1.7h-1.7zM97.5 112.9h1.7v1.7h-1.7zM101.1 119.7h1.7v1.7h-1.7zM139.5 91.1h1.7v1.7h-1.7zM156.5 75.1h1.7v1.7h-1.7zM172.2 61.7h1.7v1.7h-1.7zM133.3 88.3h1.7v1.7h-1.7zM58.3 128.4h1.7v1.7h-1.7zM79.6 123.7h1.7v1.7h-1.7zM111.1 108.4h1.7v1.7h-1.7zM166.4 65.0h1.7v1.7h-1.7zM73.0 127.4h1.7v1.7h-1.7zM106.6 106.0h1.7v1.7h-1.7zM98.3 123.1h1.7v1.7h-1.7zM100.7 116.7h1.7v1.7h-1.7zM88.2 126.1h1.7v1.7h-1.7zM88.9 110.5h1.7v1.7h-1.7zM85.6 113.8h1.7v1.7h-1.7zM74.0 116.2h1.7v1.7h-1.7zM109.8 110.0h1.7v1.7h-1.7zM100.2 106.5h1.7v1.7h-1.7zM122.7 102.7h1.7v1.7h-1.7zM118.7 101.4h1.7v1.7h-1.7zM166.1 69.4h1.7v1.7h-1.7zM94.9 108.3h1.7v1.7h-1.7zM148.2 76.6h1.7v1.7h-1.7zM97.3 115.0h1.7v1.7h-1.7zM120.0 102.7h1.7v1.7h-1.7zM136.8 82.6h1.7v1.7h-1.7zM96.8 119.0h1.7v1.7h-1.7zM102.9 106.8h1.7v1.7h-1.7zM115.6 106.5h1.7v1.7h-1.7zM75.6 121.8h1.7v1.7h-1.7zM110.6 104.9h1.7v1.7h-1.7zM73.9 125.3h1.7v1.7h-1.7zM86.7 124.3h1.7v1.7h-1.7zM115.5 101.5h1.7v1.7h-1.7zM175.7 68.3h1.7v1.7h-1.7zM201.5 45.7h1.7v1.7h-1.7zM88.3 119.4h1.7v1.7h-1.7zM77.8 116.7h1.7v1.7h-1.7zM106.2 112.6h1.7v1.7h-1.7zM101.6 106.9h1.7v1.7h-1.7zM95.2 115.2h1.7v1.7h-1.7zM130.5 93.6h1.7v1.7h-1.7zM125.0 88.9h1.7v1.7h-1.7zM109.9 98.3h1.7v1.7h-1.7zM114.8 102.8h1.7v1.7h-1.7zM111.1 108.5h1.7v1.7h-1.7zM121.1 99.8h1.7v1.7h-1.7zM157.9 69.3h1.7v1.7h-1.7zM164.2 74.2h1.7v1.7h-1.7zM179.3 57.9h1.7v1.7h-1.7zM146.0 82.9h1.7v1.7h-1.7zM74.4 119.8h1.7v1.7h-1.7zM100.2 114.9h1.7v1.7h-1.7zM133.1 98.5h1.7v1.7h-1.7zM90.4 113.7h1.7v1.7h-1.7zM114.5 102.4h1.7v1.7h-1.7zM67.6 128.4h1.7v1.7h-1.7zM84.5 121.8h1.7v1.7h-1.7zM98.2 118.4h1.7v1.7h-1.7zM71.0 124.5h1.7v1.7h-1.7zM98.5 105.0h1.7v1.7h-1.7zM86.0 119.4h1.7v1.7h-1.7zM144.4 76.8h1.7v1.7h-1.7zM93.6 116.2h1.7v1.7h-1.7zM96.4 88.3h1.7v1.7h-1.7zM134.5 99.4h1.7v1.7h-1.7zM110.5 115.5h1.7v1.7h-1.7zM67.6 127.9h1.7v1.7h-1.7zM84.9 114.8h1.7v1.7h-1.7zM113.7 102.9h1.7v1.7h-1.7zM82.9 124.0h1.7v1.7h-1.7zM86.7 121.7h1.7v1.7h-1.7zM115.8 99.8h1.7v1.7h-1.7zM104.8 124.7h1.7v1.7h-1.7zM87.7 121.7h1.7v1.7h-1.7zM110.2 112.8h1.7v1.7h-1.7zM116.2 101.0h1.7v1.7h-1.7zM67.1 126.8h1.7v1.7h-1.7zM88.6 114.1h1.7v1.7h-1.7zM89.3 118.5h1.7v1.7h-1.7zM147.4 77.0h1.7v1.7h-1.7zM70.0 129.3h1.7v1.7h-1.7zM94.6 115.4h1.7v1.7h-1.7zM83.2 120.6h1.7v1.7h-1.7zM123.3 100.3h1.7v1.7h-1.7zM136.5 88.2h1.7v1.7h-1.7zM68.2 121.9h1.7v1.7h-1.7zM145.5 85.0h1.7v1.7h-1.7zM124.0 97.0h1.7v1.7h-1.7zM85.0 116.3h1.7v1.7h-1.7zM155.6 70.4h1.7v1.7h-1.7zM90.7 110.0h1.7v1.7h-1.7zM133.9 87.0h1.7v1.7h-1.7zM71.9 124.5h1.7v1.7h-1.7zM102.4 106.8h1.7v1.7h-1.7zM106.4 111.0h1.7v1.7h-1.7zM150.0 77.9h1.7v1.7h-1.7zM140.0 82.2h1.7v1.7h-1.7zM109.8 130.5h1.7v1.7h-1.7zM68.3 125.8h1.7v1.7h-1.7zM98.1 118.0h1.7v1.7h-1.7zM96.6 114.8h1.7v1.7h-1.7zM191.5 50.2h1.7v1.7h-1.7zM123.2 103.0h1.7v1.7h-1.7zM99.3 120.2h1.7v1.7h-1.7zM96.3 114.2h1.7v1.7h-1.7zM130.6 88.7h1.7v1.7h-1.7zM72.8 126.0h1.7v1.7h-1.7zM137.6 79.0h1.7v1.7h-1.7zM120.4 100.0h1.7v1.7h-1.7zM100.1 111.4h1.7v1.7h-1.7zM124.6 97.2h1.7v1.7h-1.7zM98.8 96.5h1.7v1.7h-1.7zM78.9 119.0h1.7v1.7h-1.7zM98.5 102.1h1.7v1.7h-1.7zM66.6 124.0h1.7v1.7h-1.7zM73.0 126.1h1.7v1.7h-1.7zM100.5 111.1h1.7v1.7h-1.7zM139.3 80.9h1.7v1.7h-1.7zM85.0 124.7h1.7v1.7h-1.7zM107.3 108.4h1.7v1.7h-1.7zM179.4 53.4h1.7v1.7h-1.7zM140.3 80.6h1.7v1.7h-1.7zM153.6 76.1h1.7v1.7h-1.7zM120.8 100.6h1.7v1.7h-1.7zM113.1 107.0h1.7v1.7h-1.7zM113.0 105.6h1.7v1.7h-1.7zM113.8 99.9h1.7v1.7h-1.7zM102.6 110.5h1.7v1.7h-1.7zM94.6 108.7h1.7v1.7h-1.7zM86.2 114.1h1.7v1.7h-1.7zM69.9 122.2h1.7v1.7h-1.7zM96.8 109.4h1.7v1.7h-1.7zM131.2 89.7h1.7v1.7h-1.7zM111.2 104.5h1.7v1.7h-1.7zM81.3 112.1h1.7v1.7h-1.7zM136.2 90.7h1.7v1.7h-1.7zM68.3 124.5h1.7v1.7h-1.7zM158.8 81.7h1.7v1.7h-1.7zM119.8 103.5h1.7v1.7h-1.7zM110.6 100.1h1.7v1.7h-1.7zM99.2 117.2h1.7v1.7h-1.7zM139.6 79.8h1.7v1.7h-1.7zM59.4 131.5h1.7v1.7h-1.7zM63.1 128.8h1.7v1.7h-1.7zM107.6 102.8h1.7v1.7h-1.7zM90.5 105.2h1.7v1.7h-1.7zM98.8 110.6h1.7v1.7h-1.7zM107.6 101.0h1.7v1.7h-1.7zM68.2 129.3h1.7v1.7h-1.7zM180.7 54.3h1.7v1.7h-1.7zM121.7 97.1h1.7v1.7h-1.7zM74.7 124.6h1.7v1.7h-1.7zM128.4 92.8h1.7v1.7h-1.7zM107.7 109.0h1.7v1.7h-1.7zM124.9 94.6h1.7v1.7h-1.7zM127.4 96.0h1.7v1.7h-1.7zM189.0 49.9h1.7v1.7h-1.7zM75.4 124.6h1.7v1.7h-1.7zM196.1 46.4h1.7v1.7h-1.7zM103.5 111.1h1.7v1.7h-1.7zM84.2 113.1h1.7v1.7h-1.7zM95.4 111.9h1.7v1.7h-1.7zM96.0 117.0h1.7v1.7h-1.7zM150.3 80.9h1.7v1.7h-1.7zM108.4 98.2h1.7v1.7h-1.7zM70.4 122.2h1.7v1.7h-1.7zM124.2 88.4h1.7v1.7h-1.7zM106.0 115.0h1.7v1.7h-1.7zM136.3 83.9h1.7v1.7h-1.7zM67.1 128.4h1.7v1.7h-1.7zM145.8 76.1h1.7v1.7h-1.7zM148.4 67.6h1.7v1.7h-1.7zM61.3 128.8h1.7v1.7h-1.7zM103.6 104.0h1.7v1.7h-1.7zM75.6 125.1h1.7v1.7h-1.7zM108.2 111.3h1.7v1.7h-1.7zM73.8 128.2h1.7v1.7h-1.7zM148.5 74.6h1.7v1.7h-1.7zM81.6 126.9h1.7v1.7h-1.7zM120.9 102.2h1.7v1.7h-1.7zM119.4 92.5h1.7v1.7h-1.7zM83.6 127.0h1.7v1.7h-1.7zM154.2 70.7h1.7v1.7h-1.7zM66.5 128.6h1.7v1.7h-1.7zM88.1 110.4h1.7v1.7h-1.7zM93.4 114.4h1.7v1.7h-1.7zM112.7 105.1h1.7v1.7h-1.7zM97.4 116.4h1.7v1.7h-1.7zM75.2 115.0h1.7v1.7h-1.7zM110.9 105.3h1.7v1.7h-1.7zM125.7 87.7h1.7v1.7h-1.7zM125.8 97.6h1.7v1.7h-1.7zM103.0 117.8h1.7v1.7h-1.7zM91.7 116.4h1.7v1.7h-1.7zM61.7 130.7h1.7v1.7h-1.7zM108.3 110.9h1.7v1.7h-1.7zM118.6 101.8h1.7v1.7h-1.7zM102.5 116.7h1.7v1.7h-1.7zM169.7 61.1h1.7v1.7h-1.7zM82.5 119.0h1.7v1.7h-1.7zM137.9 79.6h1.7v1.7h-1.7zM125.1 95.1h1.7v1.7h-1.7zM151.6 74.3h1.7v1.7h-1.7zM157.6 77.3h1.7v1.7h-1.7zM85.6 115.9h1.7v1.7h-1.7zM157.3 70.0h1.7v1.7h-1.7zM100.1 111.3h1.7v1.7h-1.7zM122.3 96.9h1.7v1.7h-1.7zM166.6 68.0h1.7v1.7h-1.7zM111.6 100.9h1.7v1.7h-1.7zM113.4 89.1h1.7v1.7h-1.7zM72.2 118.0h1.7v1.7h-1.7zM113.4 109.0h1.7v1.7h-1.7zM86.0 111.7h1.7v1.7h-1.7zM98.1 110.3h1.7v1.7h-1.7zM95.9 108.0h1.7v1.7h-1.7zM176.6 62.3h1.7v1.7h-1.7zM116.2 99.5h1.7v1.7h-1.7zM125.3 99.4h1.7v1.7h-1.7zM81.0 116.4h1.7v1.7h-1.7zM89.9 118.1h1.7v1.7h-1.7zM147.3 81.4h1.7v1.7h-1.7zM76.9 125.6h1.7v1.7h-1.7zM165.2 59.8h1.7v1.7h-1.7zM101.2 107.0h1.7v1.7h-1.7zM97.1 112.9h1.7v1.7h-1.7zM107.4 98.5h1.7v1.7h-1.7zM101.7 114.7h1.7v1.7h-1.7zM103.1 112.4h1.7v1.7h-1.7zM99.6 117.8h1.7v1.7h-1.7zM122.1 92.3h1.7v1.7h-1.7zM88.5 118.0h1.7v1.7h-1.7zM79.7 122.2h1.7v1.7h-1.7zM102.4 116.1h1.7v1.7h-1.7zM74.1 120.8h1.7v1.7h-1.7zM100.6 115.2h1.7v1.7h-1.7zM106.1 118.8h1.7v1.7h-1.7zM133.6 85.7h1.7v1.7h-1.7zM74.9 120.8h1.7v1.7h-1.7zM98.6 108.8h1.7v1.7h-1.7zM133.7 83.9h1.7v1.7h-1.7zM93.3 111.1h1.7v1.7h-1.7zM140.4 89.4h1.7v1.7h-1.7zM125.6 91.6h1.7v1.7h-1.7zM66.5 126.1h1.7v1.7h-1.7zM97.4 119.5h1.7v1.7h-1.7zM131.1 92.5h1.7v1.7h-1.7zM107.1 109.1h1.7v1.7h-1.7zM119.9 98.0h1.7v1.7h-1.7zM187.9 52.3h1.7v1.7h-1.7zM121.7 97.9h1.7v1.7h-1.7zM109.6 109.6h1.7v1.7h-1.7zM141.3 83.4h1.7v1.7h-1.7zM101.3 116.2h1.7v1.7h-1.7zM61.5 124.8h1.7v1.7h-1.7zM89.4 121.0h1.7v1.7h-1.7zM114.5 100.8h1.7v1.7h-1.7zM163.8 68.2h1.7v1.7h-1.7zM114.3 101.3h1.7v1.7h-1.7zM89.2 120.2h1.7v1.7h-1.7zM190.1 50.9h1.7v1.7h-1.7zM100.2 115.1h1.7v1.7h-1.7zM86.3 109.3h1.7v1.7h-1.7zM108.2 109.3h1.7v1.7h-1.7zM94.6 121.1h1.7v1.7h-1.7zM75.0 126.9h1.7v1.7h-1.7zM125.9 93.4h1.7v1.7h-1.7zM122.7 97.7h1.7v1.7h-1.7zM175.1 60.1h1.7v1.7h-1.7zM78.0 119.8h1.7v1.7h-1.7zM154.4 74.0h1.7v1.7h-1.7zM135.2 91.7h1.7v1.7h-1.7zM87.2 120.5h1.7v1.7h-1.7zM104.1 117.6h1.7v1.7h-1.7zM117.0 115.3h1.7v1.7h-1.7zM91.0 109.6h1.7v1.7h-1.7zM75.2 125.1h1.7v1.7h-1.7zM140.6 82.1h1.7v1.7h-1.7zM79.8 112.7h1.7v1.7h-1.7zM105.8 103.3h1.7v1.7h-1.7zM99.9 109.3h1.7v1.7h-1.7zM152.0 81.1h1.7v1.7h-1.7zM109.6 106.8h1.7v1.7h-1.7zM100.7 110.6h1.7v1.7h-1.7zM177.4 59.4h1.7v1.7h-1.7zM94.9 110.5h1.7v1.7h-1.7zM126.7 94.6h1.7v1.7h-1.7zM84.4 118.1h1.7v1.7h-1.7zM130.4 80.0h1.7v1.7h-1.7zM128.6 90.9h1.7v1.7h-1.7zM139.2 109.4h1.7v1.7h-1.7zM104.5 113.0h1.7v1.7h-1.7zM85.7 117.7h1.7v1.7h-1.7zM117.4 107.2h1.7v1.7h-1.7zM155.6 70.0h1.7v1.7h-1.7zM91.9 116.5h1.7v1.7h-1.7zM63.4 129.9h1.7v1.7h-1.7zM81.5 112.1h1.7v1.7h-1.7zM160.4 68.0h1.7v1.7h-1.7zM61.2 127.8h1.7v1.7h-1.7zM69.4 124.4h1.7v1.7h-1.7zM73.7 121.2h1.7v1.7h-1.7zM150.3 77.7h1.7v1.7h-1.7zM97.4 124.8h1.7v1.7h-1.7zM122.6 98.5h1.7v1.7h-1.7zM123.4 100.4h1.7v1.7h-1.7zM98.5 118.2h1.7v1.7h-1.7zM126.6 89.8h1.7v1.7h-1.7zM103.9 111.4h1.7v1.7h-1.7zM109.2 104.8h1.7v1.7h-1.7zM89.4 120.2h1.7v1.7h-1.7zM57.4 129.4h1.7v1.7h-1.7zM111.5 104.2h1.7v1.7h-1.7zM90.2 125.4h1.7v1.7h-1.7zM89.3 116.0h1.7v1.7h-1.7zM146.4 74.2h1.7v1.7h-1.7zM96.3 114.4h1.7v1.7h-1.7zM73.9 124.2h1.7v1.7h-1.7zM117.1 99.3h1.7v1.7h-1.7zM108.7 107.3h1.7v1.7h-1.7zM68.5 128.9h1.7v1.7h-1.7zM95.2 111.6h1.7v1.7h-1.7zM113.6 102.9h1.7v1.7h-1.7zM90.7 112.8h1.7v1.7h-1.7zM184.3 55.7h1.7v1.7h-1.7zM134.4 87.4h1.7v1.7h-1.7zM104.4 104.9h1.7v1.7h-1.7zM156.7 72.0h1.7v1.7h-1.7zM67.7 131.6h1.7v1.7h-1.7zM84.0 110.6h1.7v1.7h-1.7zM156.5 68.2h1.7v1.7h-1.7zM106.6 110.1h1.7v1.7h-1.7zM80.5 113.6h1.7v1.7h-1.7zM111.2 125.0h1.7v1.7h-1.7zM126.6 83.3h1.7v1.7h-1.7zM115.5 96.9h1.7v1.7h-1.7zM68.1 124.4h1.7v1.7h-1.7zM64.9 130.1h1.7v1.7h-1.7zM100.8 115.7h1.7v1.7h-1.7zM63.8 129.1h1.7v1.7h-1.7zM71.7 125.2h1.7v1.7h-1.7zM117.4 106.6h1.7v1.7h-1.7zM100.4 102.3h1.7v1.7h-1.7zM72.9 124.6h1.7v1.7h-1.7zM147.5 83.6h1.7v1.7h-1.7zM96.3 108.3h1.7v1.7h-1.7zM147.8 79.7h1.7v1.7h-1.7zM113.9 109.0h1.7v1.7h-1.7zM116.5 107.1h1.7v1.7h-1.7zM100.0 111.2h1.7v1.7h-1.7zM122.7 112.1h1.7v1.7h-1.7zM85.9 120.6h1.7v1.7h-1.7zM88.5 129.0h1.7v1.7h-1.7zM146.9 75.6h1.7v1.7h-1.7zM82.8 115.6h1.7v1.7h-1.7zM98.6 108.7h1.7v1.7h-1.7zM128.6 105.0h1.7v1.7h-1.7zM92.4 103.6h1.7v1.7h-1.7zM95.5 104.6h1.7v1.7h-1.7zM154.6 76.3h1.7v1.7h-1.7zM82.6 120.9h1.7v1.7h-1.7zM87.8 102.7h1.7v1.7h-1.7zM149.7 74.5h1.7v1.7h-1.7zM88.8 115.6h1.7v1.7h-1.7zM94.5 121.0h1.7v1.7h-1.7zM149.8 70.9h1.7v1.7h-1.7zM93.1 112.7h1.7v1.7h-1.7zM196.2 50.1h1.7v1.7h-1.7zM140.2 86.6h1.7v1.7h-1.7zM143.6 78.3h1.7v1.7h-1.7zM84.4 117.3h1.7v1.7h-1.7zM84.4 111.6h1.7v1.7h-1.7zM129.2 96.5h1.7v1.7h-1.7zM138.8 83.6h1.7v1.7h-1.7zM83.8 125.0h1.7v1.7h-1.7zM84.5 127.0h1.7v1.7h-1.7zM86.7 113.5h1.7v1.7h-1.7zM78.1 120.4h1.7v1.7h-1.7zM101.2 114.8h1.7v1.7h-1.7zM105.4 111.4h1.7v1.7h-1.7zM116.3 108.4h1.7v1.7h-1.7zM69.5 128.8h1.7v1.7h-1.7zM82.2 121.0h1.7v1.7h-1.7zM76.0 124.9h1.7v1.7h-1.7zM89.4 109.3h1.7v1.7h-1.7zM82.0 116.7h1.7v1.7h-1.7zM162.0 71.1h1.7v1.7h-1.7zM95.7 115.9h1.7v1.7h-1.7zM78.3 116.0h1.7v1.7h-1.7zM118.7 100.0h1.7v1.7h-1.7zM175.5 58.8h1.7v1.7h-1.7zM134.1 86.8h1.7v1.7h-1.7zM119.5 104.7h1.7v1.7h-1.7zM97.4 108.4h1.7v1.7h-1.7zM99.1 105.3h1.7v1.7h-1.7zM92.9 118.5h1.7v1.7h-1.7zM137.7 86.1h1.7v1.7h-1.7zM136.6 87.2h1.7v1.7h-1.7zM104.3 102.4h1.7v1.7h-1.7zM143.3 81.7h1.7v1.7h-1.7zM118.6 98.9h1.7v1.7h-1.7zM121.6 95.0h1.7v1.7h-1.7zM88.0 114.7h1.7v1.7h-1.7zM86.2 116.6h1.7v1.7h-1.7zM83.9 122.9h1.7v1.7h-1.7zM155.9 85.7h1.7v1.7h-1.7zM134.5 88.7h1.7v1.7h-1.7zM150.9 87.0h1.7v1.7h-1.7zM139.2 85.2h1.7v1.7h-1.7zM134.6 78.0h1.7v1.7h-1.7zM101.9 111.4h1.7v1.7h-1.7zM131.9 94.2h1.7v1.7h-1.7zM80.2 126.6h1.7v1.7h-1.7zM118.0 97.4h1.7v1.7h-1.7zM67.1 132.9h1.7v1.7h-1.7zM170.2 62.3h1.7v1.7h-1.7zM149.0 75.4h1.7v1.7h-1.7zM80.4 117.8h1.7v1.7h-1.7zM130.8 95.6h1.7v1.7h-1.7zM137.9 87.1h1.7v1.7h-1.7zM68.0 128.8h1.7v1.7h-1.7zM112.4 94.6h1.7v1.7h-1.7zM98.6 112.5h1.7v1.7h-1.7zM115.0 102.5h1.7v1.7h-1.7zM147.3 81.3h1.7v1.7h-1.7zM126.6 92.7h1.7v1.7h-1.7zM84.2 124.5h1.7v1.7h-1.7zM112.2 101.7h1.7v1.7h-1.7zM110.5 99.4h1.7v1.7h-1.7zM61.2 125.6h1.7v1.7h-1.7zM76.8 133.4h1.7v1.7h-1.7zM96.2 118.0h1.7v1.7h-1.7zM79.9 116.8h1.7v1.7h-1.7zM86.9 123.4h1.7v1.7h-1.7zM121.2 97.8h1.7v1.7h-1.7zM169.4 64.5h1.7v1.7h-1.7zM101.8 103.6h1.7v1.7h-1.7zM119.1 98.0h1.7v1.7h-1.7zM132.3 90.3h1.7v1.7h-1.7zM120.3 100.0h1.7v1.7h-1.7zM119.6 97.5h1.7v1.7h-1.7zM58.4 130.9h1.7v1.7h-1.7zM145.4 85.3h1.7v1.7h-1.7zM79.8 116.7h1.7v1.7h-1.7zM80.4 122.0h1.7v1.7h-1.7zM106.4 92.4h1.7v1.7h-1.7zM112.6 108.8h1.7v1.7h-1.7zM129.4 85.7h1.7v1.7h-1.7zM89.7 116.2h1.7v1.7h-1.7zM162.1 69.9h1.7v1.7h-1.7zM115.1 101.9h1.7v1.7h-1.7zM140.9 87.2h1.7v1.7h-1.7zM104.7 105.8h1.7v1.7h-1.7zM70.8 123.2h1.7v1.7h-1.7zM61.0 129.3h1.7v1.7h-1.7zM118.1 100.7h1.7v1.7h-1.7zM100.8 113.1h1.7v1.7h-1.7zM100.6 110.8h1.7v1.7h-1.7zM92.3 111.8h1.7v1.7h-1.7zM82.0 122.7h1.7v1.7h-1.7zM104.2 110.5h1.7v1.7h-1.7zM86.7 127.8h1.7v1.7h-1.7zM150.4 81.2h1.7v1.7h-1.7zM81.4 118.2h1.7v1.7h-1.7zM174.0 57.9h1.7v1.7h-1.7zM143.5 80.1h1.7v1.7h-1.7zM98.0 106.3h1.7v1.7h-1.7zM132.4 83.6h1.7v1.7h-1.7zM111.2 113.1h1.7v1.7h-1.7zM104.2 112.2h1.7v1.7h-1.7zM138.0 93.5h1.7v1.7h-1.7zM138.6 83.5h1.7v1.7h-1.7zM85.2 121.4h1.7v1.7h-1.7zM151.9 76.7h1.7v1.7h-1.7zM65.1 127.2h1.7v1.7h-1.7zM59.2 130.8h1.7v1.7h-1.7zM105.3 109.5h1.7v1.7h-1.7zM91.6 116.0h1.7v1.7h-1.7zM99.9 114.4h1.7v1.7h-1.7zM105.5 85.1h1.7v1.7h-1.7zM103.8 106.6h1.7v1.7h-1.7zM154.7 71.6h1.7v1.7h-1.7zM158.5 76.5h1.7v1.7h-1.7zM94.6 117.9h1.7v1.7h-1.7zM87.6 121.6h1.7v1.7h-1.7zM118.4 103.2h1.7v1.7h-1.7zM82.0 118.1h1.7v1.7h-1.7zM98.5 121.5h1.7v1.7h-1.7zM125.5 94.4h1.7v1.7h-1.7zM58.4 127.7h1.7v1.7h-1.7zM130.7 93.1h1.7v1.7h-1.7zM127.0 102.7h1.7v1.7h-1.7zM97.2 114.1h1.7v1.7h-1.7zM84.5 120.6h1.7v1.7h-1.7zM109.8 111.0h1.7v1.7h-1.7zM90.7 124.5h1.7v1.7h-1.7zM138.4 89.9h1.7v1.7h-1.7zM113.3 120.4h1.7v1.7h-1.7zM90.5 118.2h1.7v1.7h-1.7zM136.5 101.9h1.7v1.7h-1.7zM115.5 96.9h1.7v1.7h-1.7zM78.5 125.1h1.7v1.7h-1.7zM99.8 115.9h1.7v1.7h-1.7zM104.7 110.5h1.7v1.7h-1.7zM162.7 65.3h1.7v1.7h-1.7zM93.8 120.9h1.7v1.7h-1.7zM102.5 110.0h1.7v1.7h-1.7zM177.5 57.2h1.7v1.7h-1.7zM98.2 109.9h1.7v1.7h-1.7zM138.4 84.7h1.7v1.7h-1.7zM72.2 124.4h1.7v1.7h-1.7zM99.1 108.0h1.7v1.7h-1.7zM82.1 115.4h1.7v1.7h-1.7zM147.8 80.1h1.7v1.7h-1.7zM109.6 106.3h1.7v1.7h-1.7zM87.2 127.6h1.7v1.7h-1.7zM74.8 121.2h1.7v1.7h-1.7zM98.6 116.8h1.7v1.7h-1.7zM73.9 129.8h1.7v1.7h-1.7zM103.5 108.7h1.7v1.7h-1.7zM125.0 99.0h1.7v1.7h-1.7zM91.9 117.8h1.7v1.7h-1.7zM82.9 119.7h1.7v1.7h-1.7zM97.0 122.0h1.7v1.7h-1.7zM80.5 115.7h1.7v1.7h-1.7zM141.4 79.1h1.7v1.7h-1.7zM74.2 116.3h1.7v1.7h-1.7zM129.1 92.0h1.7v1.7h-1.7zM92.0 121.3h1.7v1.7h-1.7zM124.8 94.9h1.7v1.7h-1.7zM133.6 91.7h1.7v1.7h-1.7zM78.0 117.9h1.7v1.7h-1.7zM131.5 94.2h1.7v1.7h-1.7zM164.0 67.9h1.7v1.7h-1.7zM112.5 102.6h1.7v1.7h-1.7zM117.3 108.1h1.7v1.7h-1.7zM93.1 115.6h1.7v1.7h-1.7zM82.6 125.6h1.7v1.7h-1.7zM129.5 92.5h1.7v1.7h-1.7zM137.9 88.2h1.7v1.7h-1.7zM84.6 119.4h1.7v1.7h-1.7zM75.1 117.9h1.7v1.7h-1.7zM93.4 119.0h1.7v1.7h-1.7zM116.7 106.4h1.7v1.7h-1.7zM97.2 115.6h1.7v1.7h-1.7zM172.0 62.6h1.7v1.7h-1.7zM133.1 95.1h1.7v1.7h-1.7zM156.2 70.7h1.7v1.7h-1.7zM114.5 103.9h1.7v1.7h-1.7zM129.4 92.8h1.7v1.7h-1.7zM163.2 65.6h1.7v1.7h-1.7zM67.5 122.9h1.7v1.7h-1.7zM112.6 107.6h1.7v1.7h-1.7zM82.6 126.6h1.7v1.7h-1.7zM133.1 89.8h1.7v1.7h-1.7zM84.3 111.3h1.7v1.7h-1.7zM129.1 90.6h1.7v1.7h-1.7zM94.2 116.4h1.7v1.7h-1.7zM119.1 102.6h1.7v1.7h-1.7zM121.0 103.1h1.7v1.7h-1.7zM154.0 75.8h1.7v1.7h-1.7zM145.9 83.3h1.7v1.7h-1.7zM100.8 120.3h1.7v1.7h-1.7zM121.5 89.6h1.7v1.7h-1.7zM82.0 129.9h1.7v1.7h-1.7zM73.8 121.6h1.7v1.7h-1.7zM125.9 96.5h1.7v1.7h-1.7zM153.9 75.1h1.7v1.7h-1.7zM127.9 90.0h1.7v1.7h-1.7zM108.9 102.8h1.7v1.7h-1.7zM115.4 107.0h1.7v1.7h-1.7zM127.2 93.2h1.7v1.7h-1.7zM112.3 108.1h1.7v1.7h-1.7zM96.9 111.8h1.7v1.7h-1.7zM140.6 91.0h1.7v1.7h-1.7zM97.1 112.4h1.7v1.7h-1.7zM153.7 81.1h1.7v1.7h-1.7zM136.9 84.1h1.7v1.7h-1.7zM132.4 91.7h1.7v1.7h-1.7zM139.6 88.4h1.7v1.7h-1.7zM184.7 51.9h1.7v1.7h-1.7zM187.0 49.0h1.7v1.7h-1.7zM107.2 110.2h1.7v1.7h-1.7zM96.0 127.2h1.7v1.7h-1.7zM128.4 97.3h1.7v1.7h-1.7zM173.6 63.6h1.7v1.7h-1.7zM115.1 107.4h1.7v1.7h-1.7zM63.9 125.1h1.7v1.7h-1.7zM66.5 125.7h1.7v1.7h-1.7zM103.2 118.0h1.7v1.7h-1.7zM134.9 86.3h1.7v1.7h-1.7zM149.0 76.4h1.7v1.7h-1.7zM97.4 94.6h1.7v1.7h-1.7zM105.5 108.4h1.7v1.7h-1.7zM103.7 102.2h1.7v1.7h-1.7zM73.5 124.7h1.7v1.7h-1.7zM57.0 131.7h1.7v1.7h-1.7zM107.2 109.7h1.7v1.7h-1.7zM105.1 110.5h1.7v1.7h-1.7zM145.3 79.1h1.7v1.7h-1.7zM83.6 125.0h1.7v1.7h-1.7zM143.0 74.1h1.7v1.7h-1.7zM88.1 113.0h1.7v1.7h-1.7zM107.9 118.2h1.7v1.7h-1.7zM126.2 90.2h1.7v1.7h-1.7zM78.6 115.8h1.7v1.7h-1.7zM164.6 63.9h1.7v1.7h-1.7zM169.6 68.1h1.7v1.7h-1.7zM175.2 60.5h1.7v1.7h-1.7zM56.7 128.8h1.7v1.7h-1.7zM118.8 95.5h1.7v1.7h-1.7zM121.3 102.5h1.7v1.7h-1.7zM148.2 80.6h1.7v1.7h-1.7zM84.3 122.6h1.7v1.7h-1.7zM76.2 121.8h1.7v1.7h-1.7zM136.7 89.6h1.7v1.7h-1.7zM87.5 124.2h1.7v1.7h-1.7zM71.4 126.7h1.7v1.7h-1.7zM72.9 117.8h1.7v1.7h-1.7zM118.4 84.1h1.7v1.7h-1.7zM107.4 100.8h1.7v1.7h-1.7zM128.8 93.4h1.7v1.7h-1.7zM136.1 82.3h1.7v1.7h-1.7zM57.9 128.4h1.7v1.7h-1.7zM159.9 70.7h1.7v1.7h-1.7zM147.5 75.9h1.7v1.7h-1.7zM159.6 62.7h1.7v1.7h-1.7zM129.4 95.1h1.7v1.7h-1.7zM98.3 115.5h1.7v1.7h-1.7zM86.4 121.9h1.7v1.7h-1.7zM154.2 77.0h1.7v1.7h-1.7zM99.0 119.9h1.7v1.7h-1.7zM105.9 108.7h1.7v1.7h-1.7zM122.4 96.8h1.7v1.7h-1.7zM122.8 90.8h1.7v1.7h-1.7zM124.0 95.4h1.7v1.7h-1.7zM117.6 98.7h1.7v1.7h-1.7zM107.6 112.9h1.7v1.7h-1.7zM131.9 92.3h1.7v1.7h-1.7zM96.9 121.1h1.7v1.7h-1.7zM89.4 122.4h1.7v1.7h-1.7zM154.9 77.3h1.7v1.7h-1.7zM142.9 83.8h1.7v1.7h-1.7zM126.2 94.9h1.7v1.7h-1.7zM80.7 118.2h1.7v1.7h-1.7zM67.5 126.2h1.7v1.7h-1.7zM158.0 68.8h1.7v1.7h-1.7zM164.1 69.1h1.7v1.7h-1.7zM87.9 116.6h1.7v1.7h-1.7zM117.4 93.0h1.7v1.7h-1.7zM63.7 121.6h1.7v1.7h-1.7zM98.8 108.8h1.7v1.7h-1.7zM124.2 94.4h1.7v1.7h-1.7zM96.6 112.1h1.7v1.7h-1.7zM137.5 90.2h1.7v1.7h-1.7zM155.4 71.3h1.7v1.7h-1.7zM76.6 116.4h1.7v1.7h-1.7zM123.1 98.2h1.7v1.7h-1.7zM96.6 118.7h1.7v1.7h-1.7zM80.0 127.5h1.7v1.7h-1.7zM95.3 109.0h1.7v1.7h-1.7zM103.1 109.1h1.7v1.7h-1.7zM151.7 74.4h1.7v1.7h-1.7zM132.7 94.2h1.7v1.7h-1.7zM58.9 130.4h1.7v1.7h-1.7zM70.3 124.8h1.7v1.7h-1.7zM192.1 51.2h1.7v1.7h-1.7zM110.9 103.9h1.7v1.7h-1.7zM113.4 102.9h1.7v1.7h-1.7zM95.5 114.0h1.7v1.7h-1.7zM140.1 82.4h1.7v1.7h-1.7zM111.0 104.2h1.7v1.7h-1.7zM113.2 107.2h1.7v1.7h-1.7zM88.2 118.4h1.7v1.7h-1.7zM132.8 99.5h1.7v1.7h-1.7zM85.0 122.4h1.7v1.7h-1.7zM79.3 120.0h1.7v1.7h-1.7zM113.8 94.0h1.7v1.7h-1.7zM141.1 78.3h1.7v1.7h-1.7zM90.7 113.8h1.7v1.7h-1.7zM91.7 114.0h1.7v1.7h-1.7zM78.5 114.9h1.7v1.7h-1.7zM114.9 101.2h1.7v1.7h-1.7zM132.9 89.6h1.7v1.7h-1.7zM76.8 118.8h1.7v1.7h-1.7zM109.3 105.8h1.7v1.7h-1.7zM109.3 106.0h1.7v1.7h-1.7zM74.0 120.2h1.7v1.7h-1.7zM108.5 98.0h1.7v1.7h-1.7zM90.2 115.8h1.7v1.7h-1.7zM82.7 120.3h1.7v1.7h-1.7zM182.1 54.0h1.7v1.7h-1.7zM73.6 106.6h1.7v1.7h-1.7zM93.6 110.1h1.7v1.7h-1.7zM117.4 103.1h1.7v1.7h-1.7zM98.7 104.2h1.7v1.7h-1.7zM63.3 129.9h1.7v1.7h-1.7zM144.8 76.2h1.7v1.7h-1.7zM86.6 118.3h1.7v1.7h-1.7zM98.7 108.4h1.7v1.7h-1.7zM152.7 76.8h1.7v1.7h-1.7zM173.8 61.9h1.7v1.7h-1.7zM154.2 75.1h1.7v1.7h-1.7zM100.5 101.6h1.7v1.7h-1.7zM127.3 95.8h1.7v1.7h-1.7zM142.4 69.8h1.7v1.7h-1.7zM82.3 117.6h1.7v1.7h-1.7zM172.5 64.0h1.7v1.7h-1.7zM76.2 120.9h1.7v1.7h-1.7zM117.1 103.2h1.7v1.7h-1.7zM87.8 118.1h1.7v1.7h-1.7zM83.1 119.3h1.7v1.7h-1.7zM78.1 117.3h1.7v1.7h-1.7zM164.8 70.3h1.7v1.7h-1.7zM75.1 126.7h1.7v1.7h-1.7zM153.1 73.0h1.7v1.7h-1.7zM81.7 115.3h1.7v1.7h-1.7zM93.3 116.1h1.7v1.7h-1.7zM83.6 115.2h1.7v1.7h-1.7zM185.8 54.2h1.7v1.7h-1.7zM72.8 126.4h1.7v1.7h-1.7zM144.7 82.8h1.7v1.7h-1.7zM92.5 123.0h1.7v1.7h-1.7zM165.8 68.2h1.7v1.7h-1.7zM129.3 88.7h1.7v1.7h-1.7zM89.4 112.4h1.7v1.7h-1.7zM108.5 109.4h1.7v1.7h-1.7zM79.4 128.6h1.7v1.7h-1.7zM99.2 110.3h1.7v1.7h-1.7zM64.5 125.2h1.7v1.7h-1.7zM121.0 103.5h1.7v1.7h-1.7zM112.9 103.5h1.7v1.7h-1.7zM88.3 120.5h1.7v1.7h-1.7zM60.5 130.6h1.7v1.7h-1.7zM159.7 67.6h1.7v1.7h-1.7zM76.1 120.3h1.7v1.7h-1.7zM93.2 112.3h1.7v1.7h-1.7zM66.1 128.2h1.7v1.7h-1.7zM96.6 116.7h1.7v1.7h-1.7zM98.4 110.0h1.7v1.7h-1.7zM109.0 112.0h1.7v1.7h-1.7zM93.5 105.9h1.7v1.7h-1.7zM87.1 119.2h1.7v1.7h-1.7zM133.6 89.8h1.7v1.7h-1.7zM91.3 116.0h1.7v1.7h-1.7zM93.0 99.1h1.7v1.7h-1.7zM104.6 108.9h1.7v1.7h-1.7zM87.4 112.2h1.7v1.7h-1.7zM126.9 98.5h1.7v1.7h-1.7zM72.5 122.6h1.7v1.7h-1.7zM94.6 113.4h1.7v1.7h-1.7zM99.6 111.3h1.7v1.7h-1.7zM88.6 119.6h1.7v1.7h-1.7zM142.1 82.8h1.7v1.7h-1.7zM96.6 119.0h1.7v1.7h-1.7zM98.6 107.7h1.7v1.7h-1.7zM105.0 114.7h1.7v1.7h-1.7zM139.8 82.5h1.7v1.7h-1.7zM84.6 121.9h1.7v1.7h-1.7zM139.3 85.3h1.7v1.7h-1.7zM164.4 70.7h1.7v1.7h-1.7zM88.1 116.7h1.7v1.7h-1.7zM78.4 106.7h1.7v1.7h-1.7zM134.6 84.4h1.7v1.7h-1.7zM92.0 114.5h1.7v1.7h-1.7zM84.5 124.8h1.7v1.7h-1.7zM72.0 122.4h1.7v1.7h-1.7zM117.3 101.3h1.7v1.7h-1.7zM161.4 73.1h1.7v1.7h-1.7zM147.7 76.7h1.7v1.7h-1.7zM114.6 105.5h1.7v1.7h-1.7zM100.5 114.3h1.7v1.7h-1.7zM177.5 57.9h1.7v1.7h-1.7zM118.9 100.8h1.7v1.7h-1.7zM167.5 68.7h1.7v1.7h-1.7zM123.0 104.6h1.7v1.7h-1.7zM123.7 95.0h1.7v1.7h-1.7zM122.9 107.1h1.7v1.7h-1.7zM76.8 122.8h1.7v1.7h-1.7zM87.5 116.0h1.7v1.7h-1.7zM70.2 122.4h1.7v1.7h-1.7zM159.6 67.7h1.7v1.7h-1.7zM191.8 51.5h1.7v1.7h-1.7zM113.6 91.2h1.7v1.7h-1.7zM79.6 119.4h1.7v1.7h-1.7zM75.8 116.5h1.7v1.7h-1.7zM102.2 108.5h1.7v1.7h-1.7zM97.5 112.3h1.7v1.7h-1.7zM82.0 113.3h1.7v1.7h-1.7zM72.7 115.8h1.7v1.7h-1.7zM117.7 105.8h1.7v1.7h-1.7zM134.4 86.4h1.7v1.7h-1.7zM70.4 124.6h1.7v1.7h-1.7zM91.5 114.3h1.7v1.7h-1.7zM90.2 120.5h1.7v1.7h-1.7zM110.4 111.1h1.7v1.7h-1.7zM115.2 106.3h1.7v1.7h-1.7zM99.3 114.8h1.7v1.7h-1.7zM146.3 83.3h1.7v1.7h-1.7zM98.0 106.7h1.7v1.7h-1.7zM91.0 122.6h1.7v1.7h-1.7zM131.3 88.7h1.7v1.7h-1.7zM144.1 78.0h1.7v1.7h-1.7zM148.3 76.8h1.7v1.7h-1.7zM81.7 115.8h1.7v1.7h-1.7zM82.6 120.9h1.7v1.7h-1.7zM103.6 113.5h1.7v1.7h-1.7zM175.1 64.1h1.7v1.7h-1.7zM116.1 101.5h1.7v1.7h-1.7zM117.0 98.9h1.7v1.7h-1.7zM94.2 113.2h1.7v1.7h-1.7zM188.7 49.6h1.7v1.7h-1.7zM83.3 115.4h1.7v1.7h-1.7zM110.7 114.5h1.7v1.7h-1.7zM121.4 95.2h1.7v1.7h-1.7zM136.3 83.4h1.7v1.7h-1.7zM139.9 86.1h1.7v1.7h-1.7zM97.7 114.1h1.7v1.7h-1.7zM88.9 120.5h1.7v1.7h-1.7zM181.1 55.0h1.7v1.7h-1.7zM109.4 101.3h1.7v1.7h-1.7zM89.6 123.0h1.7v1.7h-1.7zM77.3 118.3h1.7v1.7h-1.7zM136.0 86.6h1.7v1.7h-1.7zM142.1 83.1h1.7v1.7h-1.7zM111.8 96.5h1.7v1.7h-1.7zM97.1 112.2h1.7v1.7h-1.7zM118.8 97.5h1.7v1.7h-1.7zM179.7 59.1h1.7v1.7h-1.7zM111.9 101.5h1.7v1.7h-1.7zM133.3 81.9h1.7v1.7h-1.7zM149.1 80.0h1.7v1.7h-1.7zM130.6 83.1h1.7v1.7h-1.7zM104.9 104.5h1.7v1.7h-1.7zM80.3 113.0h1.7v1.7h-1.7zM123.6 94.1h1.7v1.7h-1.7zM138.7 84.9h1.7v1.7h-1.7zM170.8 66.2h1.7v1.7h-1.7zM79.3 111.7h1.7v1.7h-1.7zM75.2 119.8h1.7v1.7h-1.7zM116.3 104.7h1.7v1.7h-1.7zM138.6 88.4h1.7v1.7h-1.7zM73.9 125.5h1.7v1.7h-1.7zM114.9 105.5h1.7v1.7h-1.7zM88.3 115.9h1.7v1.7h-1.7zM202.0 46.0h1.7v1.7h-1.7zM95.9 111.3h1.7v1.7h-1.7zM73.5 126.3h1.7v1.7h-1.7zM132.1 94.4h1.7v1.7h-1.7zM90.0 126.2h1.7v1.7h-1.7zM103.0 105.0h1.7v1.7h-1.7zM77.3 120.1h1.7v1.7h-1.7zM93.0 115.2h1.7v1.7h-1.7zM77.8 120.2h1.7v1.7h-1.7zM88.7 111.4h1.7v1.7h-1.7zM110.9 115.1h1.7v1.7h-1.7zM91.2 123.6h1.7v1.7h-1.7zM120.1 98.4h1.7v1.7h-1.7zM152.6 73.6h1.7v1.7h-1.7zM112.0 104.5h1.7v1.7h-1.7zM64.9 124.3h1.7v1.7h-1.7zM168.4 64.4h1.7v1.7h-1.7zM80.7 126.9h1.7v1.7h-1.7zM95.4 122.4h1.7v1.7h-1.7zM106.4 112.6h1.7v1.7h-1.7zM115.2 107.9h1.7v1.7h-1.7zM95.7 108.5h1.7v1.7h-1.7zM101.0 94.9h1.7v1.7h-1.7zM116.9 106.9h1.7v1.7h-1.7zM102.4 111.4h1.7v1.7h-1.7zM90.4 115.9h1.7v1.7h-1.7zM99.2 120.5h1.7v1.7h-1.7zM96.8 108.5h1.7v1.7h-1.7zM91.7 111.0h1.7v1.7h-1.7zM113.7 100.3h1.7v1.7h-1.7zM105.4 117.0h1.7v1.7h-1.7zM98.9 117.0h1.7v1.7h-1.7zM125.0 89.1h1.7v1.7h-1.7zM136.2 92.1h1.7v1.7h-1.7zM119.1 99.8h1.7v1.7h-1.7zM94.8 116.5h1.7v1.7h-1.7zM162.9 66.4h1.7v1.7h-1.7zM74.2 129.8h1.7v1.7h-1.7zM136.9 87.7h1.7v1.7h-1.7zM98.4 119.2h1.7v1.7h-1.7zM97.7 107.8h1.7v1.7h-1.7zM141.8 85.0h1.7v1.7h-1.7zM119.4 99.9h1.7v1.7h-1.7zM176.2 58.9h1.7v1.7h-1.7zM147.3 76.1h1.7v1.7h-1.7zM75.5 116.0h1.7v1.7h-1.7zM105.6 102.9h1.7v1.7h-1.7zM131.6 88.1h1.7v1.7h-1.7zM73.1 123.2h1.7v1.7h-1.7zM109.7 108.8h1.7v1.7h-1.7zM191.4 47.2h1.7v1.7h-1.7zM87.5 112.3h1.7v1.7h-1.7zM74.4 120.3h1.7v1.7h-1.7zM89.7 108.4h1.7v1.7h-1.7zM94.1 113.2h1.7v1.7h-1.7zM89.3 115.4h1.7v1.7h-1.7zM101.8 109.8h1.7v1.7h-1.7zM141.0 84.6h1.7v1.7h-1.7zM107.0 112.5h1.7v1.7h-1.7zM113.1 107.4h1.7v1.7h-1.7zM76.6 122.7h1.7v1.7h-1.7zM70.2 126.6h1.7v1.7h-1.7zM165.4 64.9h1.7v1.7h-1.7zM95.3 109.2h1.7v1.7h-1.7zM164.8 69.3h1.7v1.7h-1.7zM95.0 117.1h1.7v1.7h-1.7zM117.8 109.4h1.7v1.7h-1.7zM120.3 98.0h1.7v1.7h-1.7zM72.9 119.8h1.7v1.7h-1.7zM70.3 125.6h1.7v1.7h-1.7zM101.5 108.7h1.7v1.7h-1.7zM74.5 115.0h1.7v1.7h-1.7zM91.1 123.0h1.7v1.7h-1.7zM83.8 127.6h1.7v1.7h-1.7zM92.0 117.6h1.7v1.7h-1.7zM102.3 107.2h1.7v1.7h-1.7zM92.9 116.6h1.7v1.7h-1.7zM93.6 114.6h1.7v1.7h-1.7zM105.7 101.8h1.7v1.7h-1.7zM123.8 99.1h1.7v1.7h-1.7zM68.2 126.8h1.7v1.7h-1.7zM198.0 49.6h1.7v1.7h-1.7zM101.1 108.3h1.7v1.7h-1.7zM157.3 71.9h1.7v1.7h-1.7zM60.5 128.2h1.7v1.7h-1.7zM69.6 113.1h1.7v1.7h-1.7zM153.0 68.2h1.7v1.7h-1.7zM99.0 106.4h1.7v1.7h-1.7zM142.8 80.7h1.7v1.7h-1.7zM122.1 91.7h1.7v1.7h-1.7zM73.0 124.8h1.7v1.7h-1.7zM94.9 111.9h1.7v1.7h-1.7zM93.7 115.2h1.7v1.7h-1.7zM103.1 111.4h1.7v1.7h-1.7zM131.0 90.9h1.7v1.7h-1.7zM73.2 123.6h1.7v1.7h-1.7zM157.3 70.9h1.7v1.7h-1.7zM104.3 111.8h1.7v1.7h-1.7zM96.4 117.7h1.7v1.7h-1.7zM124.6 94.7h1.7v1.7h-1.7zM87.2 115.3h1.7v1.7h-1.7zM125.2 93.7h1.7v1.7h-1.7zM97.8 114.4h1.7v1.7h-1.7zM104.8 107.5h1.7v1.7h-1.7zM82.8 117.3h1.7v1.7h-1.7zM84.0 111.5h1.7v1.7h-1.7zM145.4 86.6h1.7v1.7h-1.7zM112.2 99.0h1.7v1.7h-1.7zM99.4 130.5h1.7v1.7h-1.7zM132.6 92.0h1.7v1.7h-1.7zM155.5 79.8h1.7v1.7h-1.7zM79.7 121.3h1.7v1.7h-1.7zM198.1 48.5h1.7v1.7h-1.7zM61.3 129.1h1.7v1.7h-1.7zM116.2 107.1h1.7v1.7h-1.7zM87.8 126.1h1.7v1.7h-1.7zM86.6 125.1h1.7v1.7h-1.7zM105.0 104.3h1.7v1.7h-1.7zM113.4 105.9h1.7v1.7h-1.7zM100.9 119.7h1.7v1.7h-1.7zM126.2 99.1h1.7v1.7h-1.7zM166.2 63.9h1.7v1.7h-1.7zM82.0 122.4h1.7v1.7h-1.7zM87.6 118.8h1.7v1.7h-1.7zM113.9 104.6h1.7v1.7h-1.7zM99.6 100.5h1.7v1.7h-1.7zM93.6 119.5h1.7v1.7h-1.7zM108.3 99.4h1.7v1.7h-1.7zM121.8 105.9h1.7v1.7h-1.7zM152.2 77.5h1.7v1.7h-1.7zM162.6 68.6h1.7v1.7h-1.7zM137.9 87.7h1.7v1.7h-1.7zM93.5 116.8h1.7v1.7h-1.7zM148.9 76.0h1.7v1.7h-1.7zM123.8 96.0h1.7v1.7h-1.7zM79.0 122.1h1.7v1.7h-1.7zM166.5 64.3h1.7v1.7h-1.7zM87.1 121.2h1.7v1.7h-1.7zM122.2 101.6h1.7v1.7h-1.7zM123.8 100.1h1.7v1.7h-1.7zM153.6 78.2h1.7v1.7h-1.7zM119.8 104.4h1.7v1.7h-1.7zM181.4 58.6h1.7v1.7h-1.7zM68.3 129.8h1.7v1.7h-1.7zM66.4 127.0h1.7v1.7h-1.7zM83.8 120.8h1.7v1.7h-1.7zM112.4 111.0h1.7v1.7h-1.7zM102.1 121.0h1.7v1.7h-1.7zM72.4 121.1h1.7v1.7h-1.7zM81.7 105.2h1.7v1.7h-1.7zM112.9 113.8h1.7v1.7h-1.7zM99.6 118.2h1.7v1.7h-1.7zM129.7 97.5h1.7v1.7h-1.7zM101.8 115.8h1.7v1.7h-1.7zM147.5 79.6h1.7v1.7h-1.7zM130.9 88.9h1.7v1.7h-1.7zM104.3 99.2h1.7v1.7h-1.7zM95.0 122.1h1.7v1.7h-1.7zM83.6 123.6h1.7v1.7h-1.7zM89.3 118.6h1.7v1.7h-1.7zM93.8 102.8h1.7v1.7h-1.7zM95.6 111.5h1.7v1.7h-1.7zM81.1 113.7h1.7v1.7h-1.7zM103.1 108.9h1.7v1.7h-1.7zM73.1 112.8h1.7v1.7h-1.7zM147.4 79.6h1.7v1.7h-1.7zM108.8 114.5h1.7v1.7h-1.7zM73.8 121.1h1.7v1.7h-1.7zM92.0 116.2h1.7v1.7h-1.7zM87.9 120.5h1.7v1.7h-1.7zM78.1 116.6h1.7v1.7h-1.7zM104.4 112.0h1.7v1.7h-1.7zM81.7 115.8h1.7v1.7h-1.7zM80.1 118.2h1.7v1.7h-1.7zM122.7 98.2h1.7v1.7h-1.7zM99.9 111.7h1.7v1.7h-1.7zM120.4 99.4h1.7v1.7h-1.7zM105.5 104.4h1.7v1.7h-1.7zM104.7 113.5h1.7v1.7h-1.7zM92.1 110.3h1.7v1.7h-1.7zM99.7 116.6h1.7v1.7h-1.7zM104.6 107.2h1.7v1.7h-1.7zM94.7 108.5h1.7v1.7h-1.7zM139.3 84.4h1.7v1.7h-1.7zM87.1 112.5h1.7v1.7h-1.7zM85.1 115.9h1.7v1.7h-1.7zM93.7 114.4h1.7v1.7h-1.7zM133.4 91.6h1.7v1.7h-1.7zM140.8 86.3h1.7v1.7h-1.7zM110.5 108.1h1.7v1.7h-1.7zM94.7 111.6h1.7v1.7h-1.7zM118.1 94.6h1.7v1.7h-1.7zM139.9 83.5h1.7v1.7h-1.7zM87.0 114.5h1.7v1.7h-1.7zM120.6 98.3h1.7v1.7h-1.7zM125.6 93.1h1.7v1.7h-1.7zM95.4 111.6h1.7v1.7h-1.7zM79.0 124.2h1.7v1.7h-1.7zM114.5 97.4h1.7v1.7h-1.7zM83.9 118.9h1.7v1.7h-1.7zM94.8 121.2h1.7v1.7h-1.7zM109.7 98.5h1.7v1.7h-1.7zM171.7 60.7h1.7v1.7h-1.7zM79.7 119.3h1.7v1.7h-1.7zM71.5 123.1h1.7v1.7h-1.7zM109.4 109.4h1.7v1.7h-1.7zM163.8 72.2h1.7v1.7h-1.7zM69.8 124.3h1.7v1.7h-1.7zM118.9 102.4h1.7v1.7h-1.7zM65.3 125.7h1.7v1.7h-1.7zM109.8 104.0h1.7v1.7h-1.7zM76.5 123.0h1.7v1.7h-1.7zM119.5 97.0h1.7v1.7h-1.7zM95.0 120.8h1.7v1.7h-1.7zM119.6 98.0h1.7v1.7h-1.7zM87.1 116.9h1.7v1.7h-1.7zM70.9 121.0h1.7v1.7h-1.7zM82.1 117.4h1.7v1.7h-1.7zM88.5 112.2h1.7v1.7h-1.7zM80.1 117.9h1.7v1.7h-1.7zM81.1 111.6h1.7v1.7h-1.7zM109.9 106.2h1.7v1.7h-1.7zM101.1 120.6h1.7v1.7h-1.7zM138.9 78.7h1.7v1.7h-1.7zM106.0 128.1h1.7v1.7h-1.7zM109.0 106.2h1.7v1.7h-1.7zM123.9 99.5h1.7v1.7h-1.7zM145.2 77.0h1.7v1.7h-1.7zM112.1 114.1h1.7v1.7h-1.7zM67.6 123.0h1.7v1.7h-1.7zM104.5 109.3h1.7v1.7h-1.7zM65.4 131.3h1.7v1.7h-1.7zM114.4 97.7h1.7v1.7h-1.7zM69.7 108.8h1.7v1.7h-1.7zM109.8 105.9h1.7v1.7h-1.7zM78.7 113.3h1.7v1.7h-1.7zM142.5 78.9h1.7v1.7h-1.7zM75.1 118.8h1.7v1.7h-1.7zM120.2 93.4h1.7v1.7h-1.7zM123.0 102.1h1.7v1.7h-1.7zM90.2 122.9h1.7v1.7h-1.7zM113.4 97.8h1.7v1.7h-1.7zM95.8 113.5h1.7v1.7h-1.7zM89.5 114.5h1.7v1.7h-1.7zM87.4 123.2h1.7v1.7h-1.7zM62.6 126.3h1.7v1.7h-1.7zM119.8 105.8h1.7v1.7h-1.7zM71.4 124.3h1.7v1.7h-1.7zM83.0 115.4h1.7v1.7h-1.7zM73.7 122.8h1.7v1.7h-1.7zM136.2 85.0h1.7v1.7h-1.7zM106.6 119.9h1.7v1.7h-1.7zM102.6 111.5h1.7v1.7h-1.7zM113.8 99.1h1.7v1.7h-1.7zM137.7 86.6h1.7v1.7h-1.7zM115.8 108.6h1.7v1.7h-1.7zM106.6 103.4h1.7v1.7h-1.7zM91.8 107.2h1.7v1.7h-1.7zM107.1 114.8h1.7v1.7h-1.7zM183.6 56.9h1.7v1.7h-1.7zM112.1 102.6h1.7v1.7h-1.7zM103.4 109.8h1.7v1.7h-1.7zM149.5 81.1h1.7v1.7h-1.7zM66.8 109.7h1.7v1.7h-1.7zM70.5 129.1h1.7v1.7h-1.7zM135.4 87.0h1.7v1.7h-1.7zM160.5 72.3h1.7v1.7h-1.7zM70.1 124.7h1.7v1.7h-1.7zM65.0 135.4h1.7v1.7h-1.7zM60.4 127.8h1.7v1.7h-1.7zM110.4 111.2h1.7v1.7h-1.7zM79.1 108.4h1.7v1.7h-1.7zM110.8 105.8h1.7v1.7h-1.7zM120.3 102.1h1.7v1.7h-1.7zM62.5 124.8h1.7v1.7h-1.7zM145.2 73.2h1.7v1.7h-1.7zM88.2 117.8h1.7v1.7h-1.7zM109.1 111.7h1.7v1.7h-1.7zM95.8 120.4h1.7v1.7h-1.7zM92.6 112.0h1.7v1.7h-1.7zM97.7 114.9h1.7v1.7h-1.7zM57.2 128.2h1.7v1.7h-1.7zM101.7 120.4h1.7v1.7h-1.7zM86.6 114.9h1.7v1.7h-1.7zM94.1 121.7h1.7v1.7h-1.7zM80.8 118.6h1.7v1.7h-1.7zM93.8 113.3h1.7v1.7h-1.7zM125.5 100.7h1.7v1.7h-1.7zM184.2 53.0h1.7v1.7h-1.7zM83.6 125.2h1.7v1.7h-1.7zM146.1 77.1h1.7v1.7h-1.7zM113.4 99.8h1.7v1.7h-1.7zM73.7 119.9h1.7v1.7h-1.7zM62.2 130.6h1.7v1.7h-1.7zM148.3 77.9h1.7v1.7h-1.7zM84.6 116.8h1.7v1.7h-1.7zM74.1 116.9h1.7v1.7h-1.7zM118.2 105.5h1.7v1.7h-1.7zM125.2 99.0h1.7v1.7h-1.7zM151.1 77.3h1.7v1.7h-1.7zM105.5 117.9h1.7v1.7h-1.7zM91.6 98.7h1.7v1.7h-1.7zM92.6 109.5h1.7v1.7h-1.7zM82.9 119.9h1.7v1.7h-1.7zM116.8 102.1h1.7v1.7h-1.7zM161.0 66.1h1.7v1.7h-1.7zM73.4 125.2h1.7v1.7h-1.7zM98.3 108.9h1.7v1.7h-1.7zM95.1 110.8h1.7v1.7h-1.7zM72.7 113.5h1.7v1.7h-1.7zM113.7 104.2h1.7v1.7h-1.7zM183.9 53.6h1.7v1.7h-1.7zM89.4 114.2h1.7v1.7h-1.7zM125.2 105.9h1.7v1.7h-1.7zM150.8 76.3h1.7v1.7h-1.7zM89.4 116.6h1.7v1.7h-1.7zM157.0 61.7h1.7v1.7h-1.7zM129.7 90.1h1.7v1.7h-1.7zM118.8 104.2h1.7v1.7h-1.7zM82.9 121.8h1.7v1.7h-1.7zM87.8 117.7h1.7v1.7h-1.7zM73.9 122.3h1.7v1.7h-1.7zM149.1 77.9h1.7v1.7h-1.7zM136.4 88.1h1.7v1.7h-1.7zM71.7 122.9h1.7v1.7h-1.7zM108.2 94.7h1.7v1.7h-1.7zM84.1 128.4h1.7v1.7h-1.7zM129.2 95.8h1.7v1.7h-1.7zM112.2 103.9h1.7v1.7h-1.7zM164.4 72.0h1.7v1.7h-1.7zM125.1 90.6h1.7v1.7h-1.7zM74.6 127.8h1.7v1.7h-1.7zM97.0 114.4h1.7v1.7h-1.7zM111.5 109.3h1.7v1.7h-1.7zM155.1 72.3h1.7v1.7h-1.7zM96.4 114.5h1.7v1.7h-1.7zM83.2 121.8h1.7v1.7h-1.7zM89.9 122.2h1.7v1.7h-1.7zM86.9 123.4h1.7v1.7h-1.7zM79.9 122.2h1.7v1.7h-1.7zM95.0 111.2h1.7v1.7h-1.7zM106.1 109.7h1.7v1.7h-1.7zM149.7 76.4h1.7v1.7h-1.7zM166.6 65.6h1.7v1.7h-1.7zM79.3 114.8h1.7v1.7h-1.7zM111.4 101.6h1.7v1.7h-1.7zM120.9 92.5h1.7v1.7h-1.7zM79.2 121.4h1.7v1.7h-1.7zM108.2 106.9h1.7v1.7h-1.7zM83.4 120.0h1.7v1.7h-1.7zM97.2 106.6h1.7v1.7h-1.7zM93.9 110.1h1.7v1.7h-1.7zM137.0 84.1h1.7v1.7h-1.7zM86.3 122.9h1.7v1.7h-1.7zM108.5 99.6h1.7v1.7h-1.7zM112.5 97.4h1.7v1.7h-1.7zM92.9 122.3h1.7v1.7h-1.7zM158.2 72.7h1.7v1.7h-1.7zM92.0 107.5h1.7v1.7h-1.7zM90.5 123.6h1.7v1.7h-1.7zM122.9 102.6h1.7v1.7h-1.7zM106.0 114.7h1.7v1.7h-1.7zM125.3 87.7h1.7v1.7h-1.7zM79.8 120.8h1.7v1.7h-1.7zM78.5 116.7h1.7v1.7h-1.7zM127.7 91.3h1.7v1.7h-1.7zM96.7 105.1h1.7v1.7h-1.7zM143.6 87.6h1.7v1.7h-1.7zM85.7 114.6h1.7v1.7h-1.7zM84.1 120.0h1.7v1.7h-1.7zM145.0 83.3h1.7v1.7h-1.7zM95.4 117.5h1.7v1.7h-1.7zM73.0 125.0h1.7v1.7h-1.7zM85.4 116.3h1.7v1.7h-1.7zM131.5 91.1h1.7v1.7h-1.7zM88.5 116.0h1.7v1.7h-1.7zM110.4 94.8h1.7v1.7h-1.7zM140.0 91.6h1.7v1.7h-1.7zM113.7 100.8h1.7v1.7h-1.7zM129.0 90.5h1.7v1.7h-1.7zM177.5 58.4h1.7v1.7h-1.7zM93.0 99.3h1.7v1.7h-1.7zM148.8 68.9h1.7v1.7h-1.7zM109.2 97.6h1.7v1.7h-1.7zM82.9 121.4h1.7v1.7h-1.7zM77.8 126.3h1.7v1.7h-1.7zM93.6 116.0h1.7v1.7h-1.7zM77.3 116.2h1.7v1.7h-1.7zM130.8 95.1h1.7v1.7h-1.7zM112.1 103.2h1.7v1.7h-1.7zM68.8 120.5h1.7v1.7h-1.7zM145.9 73.2h1.7v1.7h-1.7zM111.8 105.8h1.7v1.7h-1.7zM100.7 119.3h1.7v1.7h-1.7zM78.5 118.9h1.7v1.7h-1.7zM104.0 106.5h1.7v1.7h-1.7zM155.3 72.4h1.7v1.7h-1.7zM110.9 101.4h1.7v1.7h-1.7zM102.9 107.5h1.7v1.7h-1.7zM115.1 105.1h1.7v1.7h-1.7zM109.7 102.7h1.7v1.7h-1.7zM115.4 106.5h1.7v1.7h-1.7zM83.6 114.0h1.7v1.7h-1.7zM78.8 123.8h1.7v1.7h-1.7zM60.8 129.3h1.7v1.7h-1.7zM140.0 82.7h1.7v1.7h-1.7zM57.0 129.2h1.7v1.7h-1.7zM88.5 115.4h1.7v1.7h-1.7zM113.0 111.8h1.7v1.7h-1.7zM104.7 105.2h1.7v1.7h-1.7zM152.2 83.9h1.7v1.7h-1.7zM85.4 129.0h1.7v1.7h-1.7zM73.7 120.2h1.7v1.7h-1.7zM79.8 127.8h1.7v1.7h-1.7zM107.2 95.7h1.7v1.7h-1.7zM88.8 118.3h1.7v1.7h-1.7zM102.3 111.4h1.7v1.7h-1.7zM120.8 98.7h1.7v1.7h-1.7zM92.5 120.1h1.7v1.7h-1.7zM117.5 99.4h1.7v1.7h-1.7zM62.1 127.9h1.7v1.7h-1.7zM108.8 112.6h1.7v1.7h-1.7zM153.4 74.2h1.7v1.7h-1.7zM160.5 67.0h1.7v1.7h-1.7zM111.8 107.5h1.7v1.7h-1.7zM183.1 55.6h1.7v1.7h-1.7zM86.7 114.9h1.7v1.7h-1.7zM91.5 119.0h1.7v1.7h-1.7zM100.9 107.3h1.7v1.7h-1.7zM106.2 103.4h1.7v1.7h-1.7zM141.3 81.1h1.7v1.7h-1.7zM104.0 108.8h1.7v1.7h-1.7zM69.1 125.6h1.7v1.7h-1.7zM124.2 91.6h1.7v1.7h-1.7zM147.8 80.8h1.7v1.7h-1.7zM86.1 118.7h1.7v1.7h-1.7zM90.2 117.7h1.7v1.7h-1.7zM77.8 109.8h1.7v1.7h-1.7zM93.3 120.2h1.7v1.7h-1.7zM111.9 100.0h1.7v1.7h-1.7zM88.8 119.6h1.7v1.7h-1.7zM66.6 123.2h1.7v1.7h-1.7zM112.0 109.4h1.7v1.7h-1.7zM127.2 91.8h1.7v1.7h-1.7zM74.9 121.6h1.7v1.7h-1.7zM100.3 119.9h1.7v1.7h-1.7zM70.1 132.1h1.7v1.7h-1.7zM63.0 124.9h1.7v1.7h-1.7zM95.3 110.5h1.7v1.7h-1.7zM89.5 117.8h1.7v1.7h-1.7zM145.5 78.3h1.7v1.7h-1.7zM62.9 129.8h1.7v1.7h-1.7zM116.8 98.7h1.7v1.7h-1.7zM127.9 86.8h1.7v1.7h-1.7zM99.2 107.4h1.7v1.7h-1.7zM105.5 108.0h1.7v1.7h-1.7zM88.1 120.1h1.7v1.7h-1.7zM87.4 121.3h1.7v1.7h-1.7zM67.1 130.1h1.7v1.7h-1.7zM153.4 75.4h1.7v1.7h-1.7zM62.5 127.7h1.7v1.7h-1.7zM78.2 124.2h1.7v1.7h-1.7zM125.7 94.4h1.7v1.7h-1.7zM101.2 108.7h1.7v1.7h-1.7zM106.7 105.8h1.7v1.7h-1.7zM90.2 121.4h1.7v1.7h-1.7zM81.9 134.8h1.7v1.7h-1.7zM134.9 92.2h1.7v1.7h-1.7zM78.6 113.3h1.7v1.7h-1.7zM92.0 121.7h1.7v1.7h-1.7zM128.7 88.7h1.7v1.7h-1.7zM90.0 114.8h1.7v1.7h-1.7zM167.1 67.9h1.7v1.7h-1.7zM81.0 113.4h1.7v1.7h-1.7zM108.0 101.1h1.7v1.7h-1.7zM108.4 98.9h1.7v1.7h-1.7zM104.6 118.6h1.7v1.7h-1.7zM131.8 93.7h1.7v1.7h-1.7zM67.0 123.8h1.7v1.7h-1.7zM107.8 108.2h1.7v1.7h-1.7zM133.8 89.1h1.7v1.7h-1.7zM70.4 127.0h1.7v1.7h-1.7zM110.9 102.0h1.7v1.7h-1.7zM101.3 118.9h1.7v1.7h-1.7zM98.8 110.4h1.7v1.7h-1.7zM109.1 110.7h1.7v1.7h-1.7zM117.4 94.1h1.7v1.7h-1.7zM124.1 97.4h1.7v1.7h-1.7zM150.8 76.9h1.7v1.7h-1.7zM118.6 105.8h1.7v1.7h-1.7zM201.4 43.5h1.7v1.7h-1.7zM122.4 99.4h1.7v1.7h-1.7zM88.0 126.3h1.7v1.7h-1.7zM76.7 119.0h1.7v1.7h-1.7zM72.0 128.7h1.7v1.7h-1.7zM88.5 128.0h1.7v1.7h-1.7zM76.4 125.5h1.7v1.7h-1.7zM122.9 100.0h1.7v1.7h-1.7zM122.4 108.4h1.7v1.7h-1.7zM113.6 105.7h1.7v1.7h-1.7zM95.1 128.5h1.7v1.7h-1.7zM103.0 113.6h1.7v1.7h-1.7zM86.7 110.2h1.7v1.7h-1.7zM156.2 65.4h1.7v1.7h-1.7zM61.5 130.8h1.7v1.7h-1.7zM92.1 119.0h1.7v1.7h-1.7zM110.0 102.8h1.7v1.7h-1.7zM81.2 119.8h1.7v1.7h-1.7zM142.9 87.2h1.7v1.7h-1.7zM104.9 100.3h1.7v1.7h-1.7zM97.5 108.3h1.7v1.7h-1.7zM70.0 127.3h1.7v1.7h-1.7zM88.7 121.3h1.7v1.7h-1.7zM114.9 97.6h1.7v1.7h-1.7zM89.9 111.4h1.7v1.7h-1.7zM68.5 126.2h1.7v1.7h-1.7zM112.7 110.8h1.7v1.7h-1.7zM92.7 115.6h1.7v1.7h-1.7zM143.1 73.5h1.7v1.7h-1.7zM123.3 100.5h1.7v1.7h-1.7zM126.6 94.1h1.7v1.7h-1.7zM148.8 76.2h1.7v1.7h-1.7zM136.2 82.9h1.7v1.7h-1.7zM93.0 121.8h1.7v1.7h-1.7zM111.3 106.5h1.7v1.7h-1.7zM87.8 119.4h1.7v1.7h-1.7zM83.6 120.6h1.7v1.7h-1.7zM83.7 121.0h1.7v1.7h-1.7zM75.1 125.8h1.7v1.7h-1.7zM84.7 127.0h1.7v1.7h-1.7zM86.0 112.7h1.7v1.7h-1.7zM121.2 97.6h1.7v1.7h-1.7zM86.4 115.6h1.7v1.7h-1.7zM68.6 131.0h1.7v1.7h-1.7zM100.3 108.4h1.7v1.7h-1.7zM83.3 111.1h1.7v1.7h-1.7zM120.5 98.7h1.7v1.7h-1.7zM83.7 115.2h1.7v1.7h-1.7zM109.6 98.5h1.7v1.7h-1.7zM82.8 114.4h1.7v1.7h-1.7zM103.5 103.1h1.7v1.7h-1.7zM145.1 73.6h1.7v1.7h-1.7zM90.1 126.8h1.7v1.7h-1.7zM107.3 107.2h1.7v1.7h-1.7zM101.5 100.3h1.7v1.7h-1.7zM69.0 127.4h1.7v1.7h-1.7zM61.1 131.2h1.7v1.7h-1.7zM142.2 76.3h1.7v1.7h-1.7zM94.0 112.5h1.7v1.7h-1.7zM121.4 99.2h1.7v1.7h-1.7zM100.2 107.2h1.7v1.7h-1.7zM141.9 86.1h1.7v1.7h-1.7zM80.7 114.0h1.7v1.7h-1.7zM104.4 106.1h1.7v1.7h-1.7zM110.6 105.1h1.7v1.7h-1.7zM134.0 91.6h1.7v1.7h-1.7zM65.2 127.3h1.7v1.7h-1.7zM96.5 110.0h1.7v1.7h-1.7zM103.6 108.1h1.7v1.7h-1.7zM111.7 94.9h1.7v1.7h-1.7zM77.6 130.7h1.7v1.7h-1.7zM107.8 105.4h1.7v1.7h-1.7zM123.3 95.5h1.7v1.7h-1.7zM125.4 96.0h1.7v1.7h-1.7zM86.1 120.8h1.7v1.7h-1.7zM99.7 113.9h1.7v1.7h-1.7zM90.8 112.7h1.7v1.7h-1.7zM96.0 105.0h1.7v1.7h-1.7zM95.3 113.3h1.7v1.7h-1.7zM164.6 65.4h1.7v1.7h-1.7zM63.3 126.6h1.7v1.7h-1.7zM165.8 67.0h1.7v1.7h-1.7zM66.0 127.6h1.7v1.7h-1.7zM72.1 128.6h1.7v1.7h-1.7zM83.9 118.0h1.7v1.7h-1.7zM90.6 107.2h1.7v1.7h-1.7zM143.5 86.0h1.7v1.7h-1.7zM142.4 85.6h1.7v1.7h-1.7zM160.5 65.1h1.7v1.7h-1.7zM98.7 115.8h1.7v1.7h-1.7zM63.3 128.3h1.7v1.7h-1.7zM116.8 99.2h1.7v1.7h-1.7zM150.8 77.0h1.7v1.7h-1.7zM74.7 124.1h1.7v1.7h-1.7zM138.1 87.5h1.7v1.7h-1.7zM57.0 131.3h1.7v1.7h-1.7zM126.8 93.9h1.7v1.7h-1.7zM106.1 108.5h1.7v1.7h-1.7zM152.2 83.4h1.7v1.7h-1.7zM150.1 73.3h1.7v1.7h-1.7zM67.9 125.1h1.7v1.7h-1.7zM106.9 106.3h1.7v1.7h-1.7zM87.6 121.4h1.7v1.7h-1.7zM98.7 118.4h1.7v1.7h-1.7zM70.4 120.2h1.7v1.7h-1.7zM96.9 120.0h1.7v1.7h-1.7zM96.5 107.2h1.7v1.7h-1.7zM59.4 133.4h1.7v1.7h-1.7zM102.9 106.8h1.7v1.7h-1.7zM150.1 80.6h1.7v1.7h-1.7zM70.2 123.9h1.7v1.7h-1.7zM161.6 71.7h1.7v1.7h-1.7zM105.1 105.2h1.7v1.7h-1.7zM83.4 119.5h1.7v1.7h-1.7zM172.9 62.5h1.7v1.7h-1.7zM104.5 110.1h1.7v1.7h-1.7zM104.6 113.8h1.7v1.7h-1.7zM96.9 111.0h1.7v1.7h-1.7zM148.5 76.9h1.7v1.7h-1.7zM77.2 115.5h1.7v1.7h-1.7zM83.3 118.3h1.7v1.7h-1.7zM89.9 114.0h1.7v1.7h-1.7zM71.7 127.3h1.7v1.7h-1.7zM142.0 85.0h1.7v1.7h-1.7zM105.8 105.0h1.7v1.7h-1.7zM113.7 105.6h1.7v1.7h-1.7zM151.3 80.5h1.7v1.7h-1.7zM103.7 108.9h1.7v1.7h-1.7zM89.7 110.5h1.7v1.7h-1.7zM108.7 133.4h1.7v1.7h-1.7zM106.0 114.9h1.7v1.7h-1.7zM89.7 124.6h1.7v1.7h-1.7zM84.6 130.9h1.7v1.7h-1.7zM95.0 110.1h1.7v1.7h-1.7zM127.4 95.7h1.7v1.7h-1.7zM79.1 101.3h1.7v1.7h-1.7zM193.5 51.2h1.7v1.7h-1.7zM86.5 119.8h1.7v1.7h-1.7zM89.9 112.5h1.7v1.7h-1.7zM76.0 118.3h1.7v1.7h-1.7zM97.0 112.4h1.7v1.7h-1.7zM95.5 112.9h1.7v1.7h-1.7zM124.0 101.9h1.7v1.7h-1.7zM151.3 74.3h1.7v1.7h-1.7zM86.9 116.9h1.7v1.7h-1.7zM137.8 85.1h1.7v1.7h-1.7zM93.8 106.4h1.7v1.7h-1.7zM100.0 106.2h1.7v1.7h-1.7zM75.7 116.4h1.7v1.7h-1.7zM150.1 77.3h1.7v1.7h-1.7zM95.9 102.1h1.7v1.7h-1.7zM123.2 87.6h1.7v1.7h-1.7zM63.8 128.3h1.7v1.7h-1.7zM122.7 89.1h1.7v1.7h-1.7zM84.2 110.9h1.7v1.7h-1.7zM102.5 116.0h1.7v1.7h-1.7zM120.8 87.2h1.7v1.7h-1.7zM79.3 120.3h1.7v1.7h-1.7zM106.1 110.2h1.7v1.7h-1.7zM140.0 76.1h1.7v1.7h-1.7zM80.8 111.8h1.7v1.7h-1.7zM103.8 127.5h1.7v1.7h-1.7zM81.8 116.8h1.7v1.7h-1.7zM75.1 124.5h1.7v1.7h-1.7zM104.5 105.5h1.7v1.7h-1.7zM101.8 112.9h1.7v1.7h-1.7zM117.5 95.6h1.7v1.7h-1.7zM142.7 77.2h1.7v1.7h-1.7zM123.7 92.4h1.7v1.7h-1.7zM92.9 112.0h1.7v1.7h-1.7zM107.4 104.5h1.7v1.7h-1.7zM121.4 96.8h1.7v1.7h-1.7zM140.8 85.0h1.7v1.7h-1.7zM121.6 95.9h1.7v1.7h-1.7zM105.8 113.7h1.7v1.7h-1.7zM77.8 118.1h1.7v1.7h-1.7zM145.3 82.6h1.7v1.7h-1.7zM89.5 123.6h1.7v1.7h-1.7zM99.7 121.3h1.7v1.7h-1.7zM149.4 70.6h1.7v1.7h-1.7zM84.1 127.2h1.7v1.7h-1.7zM156.1 67.1h1.7v1.7h-1.7zM85.7 133.4h1.7v1.7h-1.7zM72.0 123.9h1.7v1.7h-1.7zM105.0 111.2h1.7v1.7h-1.7zM134.1 85.3h1.7v1.7h-1.7zM98.4 117.7h1.7v1.7h-1.7zM142.0 87.8h1.7v1.7h-1.7zM99.1 109.3h1.7v1.7h-1.7zM137.0 84.2h1.7v1.7h-1.7zM74.8 130.0h1.7v1.7h-1.7zM90.5 121.9h1.7v1.7h-1.7zM77.7 124.5h1.7v1.7h-1.7zM127.4 92.2h1.7v1.7h-1.7zM103.8 110.0h1.7v1.7h-1.7zM120.3 102.7h1.7v1.7h-1.7zM86.5 122.0h1.7v1.7h-1.7zM127.2 97.5h1.7v1.7h-1.7zM188.3 52.6h1.7v1.7h-1.7zM73.4 120.5h1.7v1.7h-1.7zM93.0 116.9h1.7v1.7h-1.7zM146.0 81.4h1.7v1.7h-1.7zM142.5 80.4h1.7v1.7h-1.7zM145.1 83.8h1.7v1.7h-1.7zM85.2 109.2h1.7v1.7h-1.7zM110.6 106.9h1.7v1.7h-1.7zM74.0 120.5h1.7v1.7h-1.7zM99.4 123.5h1.7v1.7h-1.7zM113.2 109.4h1.7v1.7h-1.7zM87.8 118.7h1.7v1.7h-1.7zM101.1 96.1h1.7v1.7h-1.7zM94.8 107.9h1.7v1.7h-1.7zM73.1 126.0h1.7v1.7h-1.7zM72.1 123.3h1.7v1.7h-1.7zM133.1 91.4h1.7v1.7h-1.7zM56.6 128.4h1.7v1.7h-1.7zM183.9 51.7h1.7v1.7h-1.7zM151.6 76.2h1.7v1.7h-1.7zM183.8 54.8h1.7v1.7h-1.7zM132.1 85.5h1.7v1.7h-1.7zM58.0 128.6h1.7v1.7h-1.7zM75.0 125.6h1.7v1.7h-1.7zM93.0 110.3h1.7v1.7h-1.7zM80.5 122.6h1.7v1.7h-1.7zM154.7 74.8h1.7v1.7h-1.7zM155.4 74.1h1.7v1.7h-1.7zM130.3 89.3h1.7v1.7h-1.7zM87.4 123.7h1.7v1.7h-1.7zM143.3 76.5h1.7v1.7h-1.7zM137.2 82.4h1.7v1.7h-1.7zM93.8 114.9h1.7v1.7h-1.7zM77.2 114.8h1.7v1.7h-1.7zM78.2 130.4h1.7v1.7h-1.7zM97.3 109.9h1.7v1.7h-1.7zM138.2 87.2h1.7v1.7h-1.7zM69.0 124.4h1.7v1.7h-1.7zM100.3 110.3h1.7v1.7h-1.7zM94.7 114.6h1.7v1.7h-1.7zM150.8 69.8h1.7v1.7h-1.7zM80.7 114.7h1.7v1.7h-1.7zM118.7 96.0h1.7v1.7h-1.7zM118.5 103.7h1.7v1.7h-1.7zM140.1 86.5h1.7v1.7h-1.7zM138.1 82.0h1.7v1.7h-1.7zM142.6 85.3h1.7v1.7h-1.7zM90.1 123.1h1.7v1.7h-1.7zM88.8 120.9h1.7v1.7h-1.7zM86.7 110.9h1.7v1.7h-1.7zM75.2 117.9h1.7v1.7h-1.7zM134.0 87.6h1.7v1.7h-1.7zM68.1 122.8h1.7v1.7h-1.7zM82.2 119.6h1.7v1.7h-1.7zM134.0 92.2h1.7v1.7h-1.7zM131.9 90.0h1.7v1.7h-1.7zM175.6 61.0h1.7v1.7h-1.7zM97.9 115.1h1.7v1.7h-1.7zM68.3 128.2h1.7v1.7h-1.7zM138.1 83.2h1.7v1.7h-1.7zM91.2 112.6h1.7v1.7h-1.7zM132.8 93.3h1.7v1.7h-1.7zM63.4 127.0h1.7v1.7h-1.7zM66.5 124.3h1.7v1.7h-1.7zM113.1 105.3h1.7v1.7h-1.7zM124.6 94.3h1.7v1.7h-1.7zM110.4 106.4h1.7v1.7h-1.7zM108.8 106.5h1.7v1.7h-1.7zM114.9 105.6h1.7v1.7h-1.7zM76.0 125.8h1.7v1.7h-1.7zM69.5 119.3h1.7v1.7h-1.7zM94.2 108.2h1.7v1.7h-1.7zM108.4 115.1h1.7v1.7h-1.7zM85.8 114.6h1.7v1.7h-1.7zM80.9 112.4h1.7v1.7h-1.7zM103.0 100.2h1.7v1.7h-1.7zM99.8 111.5h1.7v1.7h-1.7zM88.6 113.7h1.7v1.7h-1.7zM158.1 65.8h1.7v1.7h-1.7zM161.2 66.8h1.7v1.7h-1.7zM68.8 122.1h1.7v1.7h-1.7zM104.7 114.8h1.7v1.7h-1.7zM85.1 119.4h1.7v1.7h-1.7zM93.8 114.9h1.7v1.7h-1.7zM65.1 123.9h1.7v1.7h-1.7zM71.7 123.4h1.7v1.7h-1.7zM65.2 129.0h1.7v1.7h-1.7zM76.2 122.5h1.7v1.7h-1.7zM117.4 110.6h1.7v1.7h-1.7zM72.5 123.9h1.7v1.7h-1.7zM149.2 79.8h1.7v1.7h-1.7zM136.2 90.2h1.7v1.7h-1.7zM88.4 114.2h1.7v1.7h-1.7zM122.1 102.6h1.7v1.7h-1.7zM168.0 66.7h1.7v1.7h-1.7zM74.1 126.1h1.7v1.7h-1.7zM111.6 99.9h1.7v1.7h-1.7zM103.5 104.2h1.7v1.7h-1.7zM91.8 115.0h1.7v1.7h-1.7zM89.5 112.5h1.7v1.7h-1.7zM72.7 125.9h1.7v1.7h-1.7zM116.9 105.1h1.7v1.7h-1.7zM81.6 125.4h1.7v1.7h-1.7zM99.9 115.0h1.7v1.7h-1.7zM156.7 64.5h1.7v1.7h-1.7zM95.3 119.2h1.7v1.7h-1.7zM93.2 107.6h1.7v1.7h-1.7zM156.2 70.3h1.7v1.7h-1.7zM110.8 105.7h1.7v1.7h-1.7zM111.6 104.9h1.7v1.7h-1.7zM85.2 123.4h1.7v1.7h-1.7zM117.7 126.3h1.7v1.7h-1.7zM97.2 115.5h1.7v1.7h-1.7zM109.9 113.2h1.7v1.7h-1.7zM99.0 111.2h1.7v1.7h-1.7zM74.1 124.2h1.7v1.7h-1.7zM147.3 77.0h1.7v1.7h-1.7zM123.4 94.9h1.7v1.7h-1.7zM166.9 70.2h1.7v1.7h-1.7zM91.3 118.5h1.7v1.7h-1.7zM88.3 119.4h1.7v1.7h-1.7zM79.2 116.6h1.7v1.7h-1.7zM93.7 124.1h1.7v1.7h-1.7zM93.3 114.2h1.7v1.7h-1.7zM80.6 116.8h1.7v1.7h-1.7zM88.2 117.1h1.7v1.7h-1.7zM90.5 119.9h1.7v1.7h-1.7zM144.2 83.7h1.7v1.7h-1.7zM102.8 118.3h1.7v1.7h-1.7zM139.2 81.0h1.7v1.7h-1.7zM65.9 124.4h1.7v1.7h-1.7zM83.6 126.4h1.7v1.7h-1.7zM165.8 73.6h1.7v1.7h-1.7zM68.0 124.0h1.7v1.7h-1.7zM72.4 123.3h1.7v1.7h-1.7zM106.8 100.1h1.7v1.7h-1.7zM88.8 112.7h1.7v1.7h-1.7zM81.4 115.4h1.7v1.7h-1.7zM114.6 102.5h1.7v1.7h-1.7zM115.5 91.1h1.7v1.7h-1.7zM83.7 123.3h1.7v1.7h-1.7zM108.6 106.7h1.7v1.7h-1.7zM101.9 109.5h1.7v1.7h-1.7zM143.8 84.6h1.7v1.7h-1.7zM70.4 122.7h1.7v1.7h-1.7zM87.3 111.2h1.7v1.7h-1.7zM111.1 105.4h1.7v1.7h-1.7zM66.4 132.9h1.7v1.7h-1.7zM141.8 83.1h1.7v1.7h-1.7zM173.5 63.5h1.7v1.7h-1.7zM92.6 114.5h1.7v1.7h-1.7zM131.5 89.6h1.7v1.7h-1.7zM86.9 120.2h1.7v1.7h-1.7zM163.9 60.2h1.7v1.7h-1.7zM84.4 112.4h1.7v1.7h-1.7zM59.7 128.1h1.7v1.7h-1.7zM70.6 123.7h1.7v1.7h-1.7zM102.5 118.4h1.7v1.7h-1.7zM66.7 133.7h1.7v1.7h-1.7zM181.8 58.1h1.7v1.7h-1.7zM116.6 105.3h1.7v1.7h-1.7zM110.6 108.9h1.7v1.7h-1.7zM115.9 108.7h1.7v1.7h-1.7zM100.3 100.3h1.7v1.7h-1.7zM148.6 76.2h1.7v1.7h-1.7zM124.7 96.1h1.7v1.7h-1.7zM100.3 113.3h1.7v1.7h-1.7zM89.9 106.6h1.7v1.7h-1.7zM78.9 124.7h1.7v1.7h-1.7zM92.5 107.1h1.7v1.7h-1.7zM93.2 119.3h1.7v1.7h-1.7zM71.2 127.3h1.7v1.7h-1.7zM154.9 57.7h1.7v1.7h-1.7zM88.6 119.7h1.7v1.7h-1.7zM109.9 107.0h1.7v1.7h-1.7zM71.9 121.7h1.7v1.7h-1.7zM109.9 110.7h1.7v1.7h-1.7zM119.2 107.9h1.7v1.7h-1.7zM72.2 125.6h1.7v1.7h-1.7zM177.0 56.9h1.7v1.7h-1.7zM78.6 114.0h1.7v1.7h-1.7zM87.4 111.5h1.7v1.7h-1.7zM126.9 86.2h1.7v1.7h-1.7zM94.6 120.5h1.7v1.7h-1.7zM148.8 78.8h1.7v1.7h-1.7zM85.8 117.9h1.7v1.7h-1.7zM92.3 125.6h1.7v1.7h-1.7zM122.9 97.0h1.7v1.7h-1.7zM143.5 81.6h1.7v1.7h-1.7zM146.7 76.3h1.7v1.7h-1.7zM89.3 113.6h1.7v1.7h-1.7zM106.7 108.4h1.7v1.7h-1.7zM98.8 106.2h1.7v1.7h-1.7zM120.8 105.0h1.7v1.7h-1.7zM85.2 118.8h1.7v1.7h-1.7zM140.9 81.5h1.7v1.7h-1.7zM125.4 102.4h1.7v1.7h-1.7zM80.2 109.2h1.7v1.7h-1.7zM92.9 121.0h1.7v1.7h-1.7zM91.9 116.7h1.7v1.7h-1.7zM159.0 76.9h1.7v1.7h-1.7zM102.9 107.4h1.7v1.7h-1.7zM114.5 101.3h1.7v1.7h-1.7zM157.5 69.2h1.7v1.7h-1.7zM98.7 98.0h1.7v1.7h-1.7zM163.2 69.2h1.7v1.7h-1.7zM91.1 104.0h1.7v1.7h-1.7zM62.8 128.7h1.7v1.7h-1.7zM74.6 120.0h1.7v1.7h-1.7zM122.6 101.1h1.7v1.7h-1.7zM97.9 99.2h1.7v1.7h-1.7zM140.6 85.1h1.7v1.7h-1.7zM107.3 108.0h1.7v1.7h-1.7zM122.1 97.5h1.7v1.7h-1.7zM95.4 110.7h1.7v1.7h-1.7zM112.9 112.1h1.7v1.7h-1.7zM123.4 93.1h1.7v1.7h-1.7zM96.5 118.4h1.7v1.7h-1.7zM104.9 107.9h1.7v1.7h-1.7zM140.8 82.2h1.7v1.7h-1.7zM157.3 72.3h1.7v1.7h-1.7zM95.8 117.5h1.7v1.7h-1.7zM70.1 121.1h1.7v1.7h-1.7zM141.7 81.1h1.7v1.7h-1.7zM100.3 104.1h1.7v1.7h-1.7zM173.9 62.9h1.7v1.7h-1.7zM129.9 88.8h1.7v1.7h-1.7zM98.9 108.4h1.7v1.7h-1.7zM141.7 85.1h1.7v1.7h-1.7zM108.5 106.9h1.7v1.7h-1.7zM125.8 96.1h1.7v1.7h-1.7zM149.8 76.6h1.7v1.7h-1.7zM110.0 108.0h1.7v1.7h-1.7zM164.6 67.9h1.7v1.7h-1.7zM99.1 106.3h1.7v1.7h-1.7zM95.5 115.2h1.7v1.7h-1.7zM118.1 99.1h1.7v1.7h-1.7zM98.2 111.4h1.7v1.7h-1.7zM123.3 97.7h1.7v1.7h-1.7zM107.8 104.6h1.7v1.7h-1.7zM127.7 89.6h1.7v1.7h-1.7zM137.7 89.8h1.7v1.7h-1.7zM113.3 112.2h1.7v1.7h-1.7zM154.4 72.7h1.7v1.7h-1.7zM132.3 97.8h1.7v1.7h-1.7zM144.7 83.5h1.7v1.7h-1.7zM63.6 126.2h1.7v1.7h-1.7zM64.0 125.5h1.7v1.7h-1.7zM116.7 100.4h1.7v1.7h-1.7zM93.7 112.6h1.7v1.7h-1.7zM146.6 78.2h1.7v1.7h-1.7zM97.9 112.2h1.7v1.7h-1.7zM128.2 89.1h1.7v1.7h-1.7zM86.7 122.0h1.7v1.7h-1.7zM118.1 95.9h1.7v1.7h-1.7zM151.1 68.4h1.7v1.7h-1.7zM144.1 88.0h1.7v1.7h-1.7zM95.5 118.1h1.7v1.7h-1.7zM104.9 117.0h1.7v1.7h-1.7zM108.9 107.4h1.7v1.7h-1.7zM45.0 126.0h1.7v1.7h-1.7zM48.0 130.0h1.7v1.7h-1.7zM46.5 133.0h1.7v1.7h-1.7zM52.0 125.0h1.7v1.7h-1.7zM56.0 137.5h1.7v1.7h-1.7z" fill="#000"/>
<path d="M39.9 36.9H36.9M39.9 36.199999999999996V149.70000000000002M36.9 145.9H212.1V149.70000000000002" stroke="#000" stroke-width="1.6" fill="none"/>
<path d="M36.9 73.2H39.9" stroke="#000" stroke-width="1.6"/>
<path d="M36.9 109.5H39.9" stroke="#000" stroke-width="1.6"/>
<path d="M97.3 145.9V149.70000000000002" stroke="#000" stroke-width="1.6"/>
<path d="M154.7 145.9V149.70000000000002" stroke="#000" stroke-width="1.6"/>
<text x="33.7" y="44.5" font-size="13" text-anchor="end">10<tspan font-size="9" dy="-4.6">9</tspan></text>
<text x="33.7" y="80.8" font-size="13" text-anchor="end">10<tspan font-size="9" dy="-4.6">7</tspan></text>
<text x="33.7" y="117.1" font-size="13" text-anchor="end">10<tspan font-size="9" dy="-4.6">5</tspan></text>
<text x="41.4" y="166.3" font-size="13" text-anchor="middle">10<tspan font-size="9" dy="-4.6">3</tspan></text>
<text x="98.8" y="166.3" font-size="13" text-anchor="middle">10<tspan font-size="9" dy="-4.6">5</tspan></text>
<text x="156.2" y="166.3" font-size="13" text-anchor="middle">10<tspan font-size="9" dy="-4.6">7</tspan></text>
<text x="213.6" y="166.3" font-size="13" text-anchor="middle">10<tspan font-size="9" dy="-4.6">9</tspan></text>
<text x="134.5" y="28.5" font-size="13" text-anchor="middle" font-weight="normal" >Ctl vs Ctl</text>
<text x="126" y="179.8" font-size="13" text-anchor="middle" font-weight="normal" >Ctl1 TMT reporter intensity</text>
<text transform="translate(9.4 97) rotate(-90)" font-size="13" text-anchor="middle">Ctl4 TMT reporter intensity</text>
<text x="201.6" y="131" font-size="13" text-anchor="end" font-weight="normal" >R = 0.89</text>
<path d="M309.1 131.0h1.7v1.7h-1.7zM338.5 111.3h1.7v1.7h-1.7zM308.8 129.0h1.7v1.7h-1.7zM360.0 101.4h1.7v1.7h-1.7zM342.9 120.3h1.7v1.7h-1.7zM348.0 101.8h1.7v1.7h-1.7zM332.6 115.8h1.7v1.7h-1.7zM312.9 127.5h1.7v1.7h-1.7zM380.7 90.6h1.7v1.7h-1.7zM338.1 116.6h1.7v1.7h-1.7zM310.1 127.4h1.7v1.7h-1.7zM323.1 123.3h1.7v1.7h-1.7zM304.8 127.8h1.7v1.7h-1.7zM396.0 81.5h1.7v1.7h-1.7zM323.6 122.2h1.7v1.7h-1.7zM411.4 68.5h1.7v1.7h-1.7zM425.0 63.7h1.7v1.7h-1.7zM315.0 123.9h1.7v1.7h-1.7zM382.0 81.0h1.7v1.7h-1.7zM326.5 120.9h1.7v1.7h-1.7zM374.2 92.5h1.7v1.7h-1.7zM421.5 62.0h1.7v1.7h-1.7zM351.9 104.4h1.7v1.7h-1.7zM325.4 123.0h1.7v1.7h-1.7zM370.0 98.8h1.7v1.7h-1.7zM362.7 97.2h1.7v1.7h-1.7zM329.9 112.6h1.7v1.7h-1.7zM358.5 105.8h1.7v1.7h-1.7zM356.4 96.2h1.7v1.7h-1.7zM345.0 115.4h1.7v1.7h-1.7zM340.0 118.4h1.7v1.7h-1.7zM407.8 67.4h1.7v1.7h-1.7zM368.0 105.9h1.7v1.7h-1.7zM344.1 110.0h1.7v1.7h-1.7zM358.9 102.6h1.7v1.7h-1.7zM364.6 99.2h1.7v1.7h-1.7zM395.4 79.7h1.7v1.7h-1.7zM349.1 111.7h1.7v1.7h-1.7zM385.8 86.8h1.7v1.7h-1.7zM321.1 120.1h1.7v1.7h-1.7zM375.0 89.2h1.7v1.7h-1.7zM373.3 87.2h1.7v1.7h-1.7zM298.7 131.5h1.7v1.7h-1.7zM368.8 97.1h1.7v1.7h-1.7zM310.5 128.4h1.7v1.7h-1.7zM403.4 69.9h1.7v1.7h-1.7zM357.8 104.5h1.7v1.7h-1.7zM319.1 121.2h1.7v1.7h-1.7zM375.6 90.9h1.7v1.7h-1.7zM332.3 116.8h1.7v1.7h-1.7zM308.4 134.8h1.7v1.7h-1.7zM359.0 106.8h1.7v1.7h-1.7zM383.0 82.8h1.7v1.7h-1.7zM373.3 91.5h1.7v1.7h-1.7zM383.0 80.1h1.7v1.7h-1.7zM373.8 99.8h1.7v1.7h-1.7zM341.9 104.0h1.7v1.7h-1.7zM327.0 118.7h1.7v1.7h-1.7zM337.4 108.4h1.7v1.7h-1.7zM388.1 83.1h1.7v1.7h-1.7zM299.9 133.6h1.7v1.7h-1.7zM311.9 129.4h1.7v1.7h-1.7zM406.8 69.5h1.7v1.7h-1.7zM298.1 136.0h1.7v1.7h-1.7zM357.9 100.8h1.7v1.7h-1.7zM399.1 72.9h1.7v1.7h-1.7zM354.3 102.6h1.7v1.7h-1.7zM376.6 87.5h1.7v1.7h-1.7zM303.7 140.1h1.7v1.7h-1.7zM376.9 93.3h1.7v1.7h-1.7zM365.2 103.9h1.7v1.7h-1.7zM364.9 91.6h1.7v1.7h-1.7zM333.4 115.7h1.7v1.7h-1.7zM364.5 102.0h1.7v1.7h-1.7zM378.2 82.9h1.7v1.7h-1.7zM387.6 86.5h1.7v1.7h-1.7zM310.0 125.4h1.7v1.7h-1.7zM398.0 76.5h1.7v1.7h-1.7zM375.1 92.3h1.7v1.7h-1.7zM358.0 103.0h1.7v1.7h-1.7zM376.0 90.7h1.7v1.7h-1.7zM378.6 90.6h1.7v1.7h-1.7zM359.8 106.8h1.7v1.7h-1.7zM393.2 84.6h1.7v1.7h-1.7zM396.2 82.1h1.7v1.7h-1.7zM385.5 85.1h1.7v1.7h-1.7zM326.3 112.2h1.7v1.7h-1.7zM343.3 107.1h1.7v1.7h-1.7zM406.2 70.2h1.7v1.7h-1.7zM358.9 105.4h1.7v1.7h-1.7zM322.0 125.7h1.7v1.7h-1.7zM385.1 83.6h1.7v1.7h-1.7zM324.0 118.3h1.7v1.7h-1.7zM421.8 63.0h1.7v1.7h-1.7zM369.7 96.5h1.7v1.7h-1.7zM414.8 68.9h1.7v1.7h-1.7zM334.5 121.2h1.7v1.7h-1.7zM396.8 76.7h1.7v1.7h-1.7zM335.7 96.4h1.7v1.7h-1.7zM310.1 127.3h1.7v1.7h-1.7zM379.7 77.8h1.7v1.7h-1.7zM411.0 68.5h1.7v1.7h-1.7zM407.3 79.3h1.7v1.7h-1.7zM319.2 127.5h1.7v1.7h-1.7zM359.4 104.0h1.7v1.7h-1.7zM370.9 103.1h1.7v1.7h-1.7zM335.9 111.0h1.7v1.7h-1.7zM376.2 92.0h1.7v1.7h-1.7zM341.8 116.2h1.7v1.7h-1.7zM394.0 74.7h1.7v1.7h-1.7zM360.5 99.8h1.7v1.7h-1.7zM348.8 111.3h1.7v1.7h-1.7zM353.8 107.0h1.7v1.7h-1.7zM345.8 105.8h1.7v1.7h-1.7zM351.3 106.9h1.7v1.7h-1.7zM372.1 96.3h1.7v1.7h-1.7zM338.0 112.4h1.7v1.7h-1.7zM299.9 131.3h1.7v1.7h-1.7zM370.1 96.8h1.7v1.7h-1.7zM347.8 108.6h1.7v1.7h-1.7zM393.8 79.8h1.7v1.7h-1.7zM301.7 129.3h1.7v1.7h-1.7zM379.5 88.3h1.7v1.7h-1.7zM334.6 114.2h1.7v1.7h-1.7zM384.3 80.4h1.7v1.7h-1.7zM335.4 126.7h1.7v1.7h-1.7zM316.4 125.7h1.7v1.7h-1.7zM368.8 97.4h1.7v1.7h-1.7zM325.7 122.7h1.7v1.7h-1.7zM382.9 91.1h1.7v1.7h-1.7zM358.2 107.3h1.7v1.7h-1.7zM390.2 79.4h1.7v1.7h-1.7zM371.0 96.4h1.7v1.7h-1.7zM349.8 105.8h1.7v1.7h-1.7zM361.8 100.4h1.7v1.7h-1.7zM306.4 131.2h1.7v1.7h-1.7zM315.0 129.7h1.7v1.7h-1.7zM329.0 114.2h1.7v1.7h-1.7zM354.9 108.3h1.7v1.7h-1.7zM399.7 76.8h1.7v1.7h-1.7zM296.4 133.2h1.7v1.7h-1.7zM330.3 128.0h1.7v1.7h-1.7zM312.0 127.4h1.7v1.7h-1.7zM384.9 93.3h1.7v1.7h-1.7zM399.7 75.4h1.7v1.7h-1.7zM361.1 104.6h1.7v1.7h-1.7zM327.0 122.2h1.7v1.7h-1.7zM387.6 83.5h1.7v1.7h-1.7zM338.3 114.0h1.7v1.7h-1.7zM364.7 104.4h1.7v1.7h-1.7zM382.4 90.5h1.7v1.7h-1.7zM338.1 123.4h1.7v1.7h-1.7zM327.0 120.1h1.7v1.7h-1.7zM308.6 124.2h1.7v1.7h-1.7zM405.3 67.9h1.7v1.7h-1.7zM304.7 132.4h1.7v1.7h-1.7zM384.6 81.8h1.7v1.7h-1.7zM412.7 59.8h1.7v1.7h-1.7zM345.5 114.8h1.7v1.7h-1.7zM317.9 119.1h1.7v1.7h-1.7zM372.6 87.5h1.7v1.7h-1.7zM324.4 121.1h1.7v1.7h-1.7zM347.8 113.8h1.7v1.7h-1.7zM337.1 117.5h1.7v1.7h-1.7zM375.7 86.9h1.7v1.7h-1.7zM377.9 92.3h1.7v1.7h-1.7zM363.9 96.2h1.7v1.7h-1.7zM355.0 106.5h1.7v1.7h-1.7zM377.4 78.8h1.7v1.7h-1.7zM323.2 116.8h1.7v1.7h-1.7zM324.3 121.7h1.7v1.7h-1.7zM322.8 120.4h1.7v1.7h-1.7zM325.2 122.8h1.7v1.7h-1.7zM348.7 93.7h1.7v1.7h-1.7zM316.9 133.7h1.7v1.7h-1.7zM407.6 73.6h1.7v1.7h-1.7zM309.9 134.7h1.7v1.7h-1.7zM411.3 67.3h1.7v1.7h-1.7zM383.5 89.2h1.7v1.7h-1.7zM359.3 105.1h1.7v1.7h-1.7zM355.4 104.3h1.7v1.7h-1.7zM383.6 87.7h1.7v1.7h-1.7zM337.4 114.7h1.7v1.7h-1.7zM384.1 88.0h1.7v1.7h-1.7zM345.5 109.7h1.7v1.7h-1.7zM384.6 85.6h1.7v1.7h-1.7zM353.6 103.3h1.7v1.7h-1.7zM428.5 57.7h1.7v1.7h-1.7zM366.6 99.1h1.7v1.7h-1.7zM367.1 99.1h1.7v1.7h-1.7zM327.4 120.2h1.7v1.7h-1.7zM444.8 48.5h1.7v1.7h-1.7zM308.3 127.3h1.7v1.7h-1.7zM302.1 130.2h1.7v1.7h-1.7zM341.0 106.2h1.7v1.7h-1.7zM429.5 61.2h1.7v1.7h-1.7zM330.6 124.5h1.7v1.7h-1.7zM309.0 130.1h1.7v1.7h-1.7zM337.8 119.1h1.7v1.7h-1.7zM379.9 85.5h1.7v1.7h-1.7zM381.2 87.9h1.7v1.7h-1.7zM310.6 132.5h1.7v1.7h-1.7zM345.9 111.4h1.7v1.7h-1.7zM345.2 105.1h1.7v1.7h-1.7zM321.4 124.4h1.7v1.7h-1.7zM319.4 123.5h1.7v1.7h-1.7zM335.4 118.6h1.7v1.7h-1.7zM342.9 124.6h1.7v1.7h-1.7zM363.5 100.5h1.7v1.7h-1.7zM367.5 99.5h1.7v1.7h-1.7zM365.2 103.2h1.7v1.7h-1.7zM345.4 107.1h1.7v1.7h-1.7zM322.5 121.0h1.7v1.7h-1.7zM314.9 121.1h1.7v1.7h-1.7zM319.1 124.6h1.7v1.7h-1.7zM375.1 94.3h1.7v1.7h-1.7zM324.4 121.8h1.7v1.7h-1.7zM351.7 109.1h1.7v1.7h-1.7zM330.5 114.8h1.7v1.7h-1.7zM332.8 113.4h1.7v1.7h-1.7zM375.4 96.1h1.7v1.7h-1.7zM381.7 89.6h1.7v1.7h-1.7zM356.0 103.5h1.7v1.7h-1.7zM366.2 101.0h1.7v1.7h-1.7zM367.6 92.0h1.7v1.7h-1.7zM382.7 83.2h1.7v1.7h-1.7zM291.6 139.4h1.7v1.7h-1.7zM332.9 116.1h1.7v1.7h-1.7zM382.7 87.7h1.7v1.7h-1.7zM448.0 47.2h1.7v1.7h-1.7zM370.9 98.3h1.7v1.7h-1.7zM386.0 85.1h1.7v1.7h-1.7zM324.1 127.9h1.7v1.7h-1.7zM302.9 127.9h1.7v1.7h-1.7zM412.0 68.2h1.7v1.7h-1.7zM329.3 116.3h1.7v1.7h-1.7zM332.4 116.4h1.7v1.7h-1.7zM367.0 106.8h1.7v1.7h-1.7zM354.4 98.4h1.7v1.7h-1.7zM391.3 85.3h1.7v1.7h-1.7zM328.5 113.6h1.7v1.7h-1.7zM323.2 115.8h1.7v1.7h-1.7zM310.5 128.0h1.7v1.7h-1.7zM382.4 86.5h1.7v1.7h-1.7zM367.7 96.3h1.7v1.7h-1.7zM371.9 90.0h1.7v1.7h-1.7zM330.5 120.0h1.7v1.7h-1.7zM324.0 116.4h1.7v1.7h-1.7zM376.7 95.2h1.7v1.7h-1.7zM384.1 95.5h1.7v1.7h-1.7zM333.5 111.3h1.7v1.7h-1.7zM335.9 116.1h1.7v1.7h-1.7zM381.1 88.1h1.7v1.7h-1.7zM383.4 80.8h1.7v1.7h-1.7zM322.1 122.0h1.7v1.7h-1.7zM332.1 120.5h1.7v1.7h-1.7zM379.2 95.9h1.7v1.7h-1.7zM374.5 94.7h1.7v1.7h-1.7zM342.8 107.7h1.7v1.7h-1.7zM382.5 86.4h1.7v1.7h-1.7zM371.2 91.4h1.7v1.7h-1.7zM349.1 118.1h1.7v1.7h-1.7zM353.4 103.6h1.7v1.7h-1.7zM327.1 115.2h1.7v1.7h-1.7zM343.2 109.4h1.7v1.7h-1.7zM314.8 137.1h1.7v1.7h-1.7zM354.3 99.7h1.7v1.7h-1.7zM310.5 131.1h1.7v1.7h-1.7zM295.6 137.8h1.7v1.7h-1.7zM419.4 62.9h1.7v1.7h-1.7zM317.9 125.2h1.7v1.7h-1.7zM334.4 110.3h1.7v1.7h-1.7zM397.0 78.8h1.7v1.7h-1.7zM312.0 129.3h1.7v1.7h-1.7zM359.6 99.9h1.7v1.7h-1.7zM353.5 108.2h1.7v1.7h-1.7zM360.9 102.2h1.7v1.7h-1.7zM367.8 99.8h1.7v1.7h-1.7zM353.5 109.2h1.7v1.7h-1.7zM402.3 77.6h1.7v1.7h-1.7zM367.3 97.5h1.7v1.7h-1.7zM319.4 127.8h1.7v1.7h-1.7zM362.5 104.6h1.7v1.7h-1.7zM307.3 134.7h1.7v1.7h-1.7zM330.4 118.1h1.7v1.7h-1.7zM403.4 72.1h1.7v1.7h-1.7zM307.3 128.2h1.7v1.7h-1.7zM340.7 112.6h1.7v1.7h-1.7zM310.4 123.6h1.7v1.7h-1.7zM399.8 72.3h1.7v1.7h-1.7zM307.3 134.1h1.7v1.7h-1.7zM358.7 111.3h1.7v1.7h-1.7zM349.2 114.1h1.7v1.7h-1.7zM397.0 75.6h1.7v1.7h-1.7zM307.6 133.3h1.7v1.7h-1.7zM298.9 134.9h1.7v1.7h-1.7zM386.7 82.4h1.7v1.7h-1.7zM323.5 125.9h1.7v1.7h-1.7zM347.5 113.2h1.7v1.7h-1.7zM402.8 76.8h1.7v1.7h-1.7zM335.0 117.9h1.7v1.7h-1.7zM327.5 122.6h1.7v1.7h-1.7zM386.7 83.2h1.7v1.7h-1.7zM385.1 84.2h1.7v1.7h-1.7zM441.5 48.0h1.7v1.7h-1.7zM382.6 93.6h1.7v1.7h-1.7zM363.7 102.4h1.7v1.7h-1.7zM325.3 123.7h1.7v1.7h-1.7zM377.6 88.9h1.7v1.7h-1.7zM358.8 102.4h1.7v1.7h-1.7zM346.3 110.3h1.7v1.7h-1.7zM363.1 101.0h1.7v1.7h-1.7zM319.8 122.7h1.7v1.7h-1.7zM411.2 73.6h1.7v1.7h-1.7zM341.7 113.3h1.7v1.7h-1.7zM409.9 62.1h1.7v1.7h-1.7zM382.5 84.8h1.7v1.7h-1.7zM366.0 100.1h1.7v1.7h-1.7zM334.2 116.7h1.7v1.7h-1.7zM371.9 94.7h1.7v1.7h-1.7zM341.3 111.6h1.7v1.7h-1.7zM405.6 77.1h1.7v1.7h-1.7zM340.1 110.4h1.7v1.7h-1.7zM391.4 83.8h1.7v1.7h-1.7zM303.5 134.3h1.7v1.7h-1.7zM386.3 87.9h1.7v1.7h-1.7zM354.5 114.6h1.7v1.7h-1.7zM362.8 97.7h1.7v1.7h-1.7zM363.1 96.5h1.7v1.7h-1.7zM431.4 58.0h1.7v1.7h-1.7zM366.5 100.9h1.7v1.7h-1.7zM415.3 68.7h1.7v1.7h-1.7zM371.5 92.3h1.7v1.7h-1.7zM348.3 107.9h1.7v1.7h-1.7zM406.9 76.6h1.7v1.7h-1.7zM378.0 95.3h1.7v1.7h-1.7zM373.5 95.8h1.7v1.7h-1.7zM405.0 75.5h1.7v1.7h-1.7zM323.1 127.9h1.7v1.7h-1.7zM320.3 122.9h1.7v1.7h-1.7zM364.5 101.4h1.7v1.7h-1.7zM340.1 107.4h1.7v1.7h-1.7zM319.7 122.6h1.7v1.7h-1.7zM330.1 119.2h1.7v1.7h-1.7zM305.7 132.6h1.7v1.7h-1.7zM386.6 82.0h1.7v1.7h-1.7zM315.0 122.2h1.7v1.7h-1.7zM300.2 131.2h1.7v1.7h-1.7zM357.3 96.3h1.7v1.7h-1.7zM330.3 114.0h1.7v1.7h-1.7zM318.4 123.9h1.7v1.7h-1.7zM356.5 106.7h1.7v1.7h-1.7zM346.4 116.0h1.7v1.7h-1.7zM343.0 112.7h1.7v1.7h-1.7zM368.1 94.6h1.7v1.7h-1.7zM321.1 123.5h1.7v1.7h-1.7zM351.3 106.4h1.7v1.7h-1.7zM406.7 75.0h1.7v1.7h-1.7zM339.6 117.9h1.7v1.7h-1.7zM375.4 85.6h1.7v1.7h-1.7zM342.2 111.3h1.7v1.7h-1.7zM328.1 126.4h1.7v1.7h-1.7zM342.0 117.2h1.7v1.7h-1.7zM311.0 127.8h1.7v1.7h-1.7zM331.7 94.9h1.7v1.7h-1.7zM334.3 121.7h1.7v1.7h-1.7zM386.2 85.9h1.7v1.7h-1.7zM390.6 81.2h1.7v1.7h-1.7zM378.9 92.2h1.7v1.7h-1.7zM350.0 109.5h1.7v1.7h-1.7zM309.6 130.7h1.7v1.7h-1.7zM372.8 92.7h1.7v1.7h-1.7zM355.0 105.0h1.7v1.7h-1.7zM385.1 86.5h1.7v1.7h-1.7zM351.7 106.2h1.7v1.7h-1.7zM306.1 124.3h1.7v1.7h-1.7zM354.8 100.9h1.7v1.7h-1.7zM314.8 127.3h1.7v1.7h-1.7zM399.6 73.2h1.7v1.7h-1.7zM307.8 125.1h1.7v1.7h-1.7zM347.8 106.8h1.7v1.7h-1.7zM318.0 126.7h1.7v1.7h-1.7zM360.1 94.3h1.7v1.7h-1.7zM307.1 123.1h1.7v1.7h-1.7zM429.8 58.5h1.7v1.7h-1.7zM367.4 97.0h1.7v1.7h-1.7zM386.8 94.4h1.7v1.7h-1.7zM342.8 110.7h1.7v1.7h-1.7zM339.8 107.7h1.7v1.7h-1.7zM344.3 112.1h1.7v1.7h-1.7zM301.6 133.3h1.7v1.7h-1.7zM372.7 94.8h1.7v1.7h-1.7zM354.5 107.1h1.7v1.7h-1.7zM367.0 106.4h1.7v1.7h-1.7zM336.3 113.5h1.7v1.7h-1.7zM307.3 131.0h1.7v1.7h-1.7zM367.9 97.1h1.7v1.7h-1.7zM386.7 72.3h1.7v1.7h-1.7zM347.7 104.6h1.7v1.7h-1.7zM344.5 107.4h1.7v1.7h-1.7zM331.5 114.7h1.7v1.7h-1.7zM326.8 114.7h1.7v1.7h-1.7zM376.5 95.6h1.7v1.7h-1.7zM357.9 103.2h1.7v1.7h-1.7zM431.9 54.1h1.7v1.7h-1.7zM363.9 94.4h1.7v1.7h-1.7zM322.1 121.9h1.7v1.7h-1.7zM331.5 112.3h1.7v1.7h-1.7zM370.9 90.7h1.7v1.7h-1.7zM339.9 108.4h1.7v1.7h-1.7zM374.3 92.0h1.7v1.7h-1.7zM367.7 103.9h1.7v1.7h-1.7zM380.6 68.0h1.7v1.7h-1.7zM363.2 98.9h1.7v1.7h-1.7zM353.0 106.5h1.7v1.7h-1.7zM354.8 102.1h1.7v1.7h-1.7zM328.3 126.3h1.7v1.7h-1.7zM322.8 121.9h1.7v1.7h-1.7zM386.1 78.3h1.7v1.7h-1.7zM371.9 94.9h1.7v1.7h-1.7zM361.4 96.8h1.7v1.7h-1.7zM381.2 90.1h1.7v1.7h-1.7zM313.1 127.1h1.7v1.7h-1.7zM361.1 106.1h1.7v1.7h-1.7zM389.1 79.1h1.7v1.7h-1.7zM361.8 102.6h1.7v1.7h-1.7zM396.7 87.8h1.7v1.7h-1.7zM318.8 122.8h1.7v1.7h-1.7zM415.5 63.4h1.7v1.7h-1.7zM335.1 113.8h1.7v1.7h-1.7zM372.7 94.8h1.7v1.7h-1.7zM420.9 62.1h1.7v1.7h-1.7zM359.3 104.3h1.7v1.7h-1.7zM334.1 119.9h1.7v1.7h-1.7zM431.1 54.8h1.7v1.7h-1.7zM330.7 105.6h1.7v1.7h-1.7zM374.5 88.5h1.7v1.7h-1.7zM361.9 94.8h1.7v1.7h-1.7zM355.3 101.9h1.7v1.7h-1.7zM379.8 87.2h1.7v1.7h-1.7zM408.8 65.0h1.7v1.7h-1.7zM417.6 65.2h1.7v1.7h-1.7zM381.1 87.0h1.7v1.7h-1.7zM386.5 72.6h1.7v1.7h-1.7zM301.9 130.9h1.7v1.7h-1.7zM340.6 99.3h1.7v1.7h-1.7zM358.3 105.2h1.7v1.7h-1.7zM350.4 106.2h1.7v1.7h-1.7zM411.8 69.6h1.7v1.7h-1.7zM405.9 75.8h1.7v1.7h-1.7zM350.4 109.8h1.7v1.7h-1.7zM405.5 71.7h1.7v1.7h-1.7zM341.3 113.0h1.7v1.7h-1.7zM384.1 83.4h1.7v1.7h-1.7zM318.4 123.4h1.7v1.7h-1.7zM438.2 55.7h1.7v1.7h-1.7zM348.4 106.0h1.7v1.7h-1.7zM426.4 59.3h1.7v1.7h-1.7zM329.8 117.9h1.7v1.7h-1.7zM335.0 116.1h1.7v1.7h-1.7zM333.3 118.2h1.7v1.7h-1.7zM334.5 110.7h1.7v1.7h-1.7zM312.7 125.4h1.7v1.7h-1.7zM381.1 85.7h1.7v1.7h-1.7zM354.5 106.0h1.7v1.7h-1.7zM352.7 108.4h1.7v1.7h-1.7zM330.9 118.1h1.7v1.7h-1.7zM350.8 106.8h1.7v1.7h-1.7zM350.7 103.5h1.7v1.7h-1.7zM300.3 129.6h1.7v1.7h-1.7zM335.0 110.3h1.7v1.7h-1.7zM320.7 126.9h1.7v1.7h-1.7zM333.5 121.1h1.7v1.7h-1.7zM347.7 105.3h1.7v1.7h-1.7zM433.1 52.1h1.7v1.7h-1.7zM341.6 110.2h1.7v1.7h-1.7zM398.4 76.5h1.7v1.7h-1.7zM376.7 87.6h1.7v1.7h-1.7zM433.7 54.3h1.7v1.7h-1.7zM386.4 87.3h1.7v1.7h-1.7zM412.0 69.0h1.7v1.7h-1.7zM319.1 121.5h1.7v1.7h-1.7zM379.8 83.1h1.7v1.7h-1.7zM339.8 111.9h1.7v1.7h-1.7zM343.5 114.6h1.7v1.7h-1.7zM314.6 120.6h1.7v1.7h-1.7zM319.6 127.6h1.7v1.7h-1.7zM369.2 96.1h1.7v1.7h-1.7zM328.4 127.7h1.7v1.7h-1.7zM367.8 94.1h1.7v1.7h-1.7zM340.7 105.3h1.7v1.7h-1.7zM366.5 92.5h1.7v1.7h-1.7zM364.8 99.6h1.7v1.7h-1.7zM325.9 119.3h1.7v1.7h-1.7zM404.4 71.5h1.7v1.7h-1.7zM373.8 92.2h1.7v1.7h-1.7zM360.1 103.2h1.7v1.7h-1.7zM364.5 95.9h1.7v1.7h-1.7zM368.4 102.3h1.7v1.7h-1.7zM340.6 99.4h1.7v1.7h-1.7zM362.7 95.7h1.7v1.7h-1.7zM322.1 122.3h1.7v1.7h-1.7zM435.6 53.0h1.7v1.7h-1.7zM373.4 92.7h1.7v1.7h-1.7zM379.7 82.2h1.7v1.7h-1.7zM377.0 88.3h1.7v1.7h-1.7zM392.1 79.6h1.7v1.7h-1.7zM352.7 94.5h1.7v1.7h-1.7zM330.3 118.8h1.7v1.7h-1.7zM302.0 124.8h1.7v1.7h-1.7zM355.1 101.4h1.7v1.7h-1.7zM320.1 118.1h1.7v1.7h-1.7zM351.3 107.3h1.7v1.7h-1.7zM307.4 127.0h1.7v1.7h-1.7zM379.9 89.6h1.7v1.7h-1.7zM339.9 115.5h1.7v1.7h-1.7zM336.4 112.6h1.7v1.7h-1.7zM384.6 86.4h1.7v1.7h-1.7zM344.3 116.8h1.7v1.7h-1.7zM351.9 100.0h1.7v1.7h-1.7zM369.1 89.1h1.7v1.7h-1.7zM303.7 135.5h1.7v1.7h-1.7zM333.5 112.0h1.7v1.7h-1.7zM440.1 61.8h1.7v1.7h-1.7zM370.0 98.0h1.7v1.7h-1.7zM317.7 116.6h1.7v1.7h-1.7zM415.7 68.3h1.7v1.7h-1.7zM408.3 69.6h1.7v1.7h-1.7zM368.2 96.6h1.7v1.7h-1.7zM299.0 135.3h1.7v1.7h-1.7zM346.2 107.0h1.7v1.7h-1.7zM342.3 108.1h1.7v1.7h-1.7zM321.8 121.8h1.7v1.7h-1.7zM364.6 92.4h1.7v1.7h-1.7zM333.3 114.4h1.7v1.7h-1.7zM370.7 95.2h1.7v1.7h-1.7zM328.6 117.7h1.7v1.7h-1.7zM404.0 72.9h1.7v1.7h-1.7zM332.0 116.1h1.7v1.7h-1.7zM297.4 130.0h1.7v1.7h-1.7zM391.4 77.4h1.7v1.7h-1.7zM325.8 112.2h1.7v1.7h-1.7zM305.8 130.9h1.7v1.7h-1.7zM412.9 70.3h1.7v1.7h-1.7zM337.7 114.1h1.7v1.7h-1.7zM372.8 85.3h1.7v1.7h-1.7zM315.9 122.2h1.7v1.7h-1.7zM386.5 86.1h1.7v1.7h-1.7zM388.9 83.5h1.7v1.7h-1.7zM332.6 118.6h1.7v1.7h-1.7zM327.7 121.0h1.7v1.7h-1.7zM317.4 120.8h1.7v1.7h-1.7zM361.8 101.6h1.7v1.7h-1.7zM345.4 111.0h1.7v1.7h-1.7zM400.2 71.7h1.7v1.7h-1.7zM341.8 109.4h1.7v1.7h-1.7zM355.3 104.1h1.7v1.7h-1.7zM342.3 118.7h1.7v1.7h-1.7zM331.7 120.1h1.7v1.7h-1.7zM307.1 129.6h1.7v1.7h-1.7zM362.3 100.7h1.7v1.7h-1.7zM331.2 110.9h1.7v1.7h-1.7zM403.6 73.0h1.7v1.7h-1.7zM368.1 103.6h1.7v1.7h-1.7zM365.6 97.0h1.7v1.7h-1.7zM393.7 80.7h1.7v1.7h-1.7zM321.9 126.1h1.7v1.7h-1.7zM398.6 73.6h1.7v1.7h-1.7zM384.8 79.5h1.7v1.7h-1.7zM323.4 119.5h1.7v1.7h-1.7zM327.2 117.9h1.7v1.7h-1.7zM305.4 137.5h1.7v1.7h-1.7zM348.4 108.1h1.7v1.7h-1.7zM316.0 124.7h1.7v1.7h-1.7zM384.2 88.5h1.7v1.7h-1.7zM333.5 112.9h1.7v1.7h-1.7zM329.5 116.2h1.7v1.7h-1.7zM405.4 71.4h1.7v1.7h-1.7zM335.3 114.1h1.7v1.7h-1.7zM338.3 115.8h1.7v1.7h-1.7zM360.1 102.4h1.7v1.7h-1.7zM358.5 93.9h1.7v1.7h-1.7zM333.4 119.7h1.7v1.7h-1.7zM365.0 97.2h1.7v1.7h-1.7zM325.6 121.7h1.7v1.7h-1.7zM369.2 96.0h1.7v1.7h-1.7zM336.2 116.6h1.7v1.7h-1.7zM328.0 122.8h1.7v1.7h-1.7zM338.6 112.6h1.7v1.7h-1.7zM330.2 113.5h1.7v1.7h-1.7zM382.7 87.4h1.7v1.7h-1.7zM377.3 88.4h1.7v1.7h-1.7zM316.8 130.2h1.7v1.7h-1.7zM399.3 73.8h1.7v1.7h-1.7zM386.7 81.6h1.7v1.7h-1.7zM313.2 132.7h1.7v1.7h-1.7zM353.1 103.5h1.7v1.7h-1.7zM354.9 108.0h1.7v1.7h-1.7zM353.7 103.4h1.7v1.7h-1.7zM299.8 134.6h1.7v1.7h-1.7zM405.5 76.7h1.7v1.7h-1.7zM346.8 114.6h1.7v1.7h-1.7zM375.5 89.4h1.7v1.7h-1.7zM357.8 105.4h1.7v1.7h-1.7zM408.5 73.8h1.7v1.7h-1.7zM335.2 115.4h1.7v1.7h-1.7zM372.3 100.3h1.7v1.7h-1.7zM337.2 120.0h1.7v1.7h-1.7zM408.7 75.3h1.7v1.7h-1.7zM334.7 115.4h1.7v1.7h-1.7zM305.7 132.4h1.7v1.7h-1.7zM353.4 101.5h1.7v1.7h-1.7zM372.6 86.6h1.7v1.7h-1.7zM343.1 113.5h1.7v1.7h-1.7zM378.0 86.7h1.7v1.7h-1.7zM377.8 89.6h1.7v1.7h-1.7zM326.2 115.4h1.7v1.7h-1.7zM344.4 108.0h1.7v1.7h-1.7zM436.2 50.8h1.7v1.7h-1.7zM352.8 107.6h1.7v1.7h-1.7zM397.2 74.7h1.7v1.7h-1.7zM344.7 111.0h1.7v1.7h-1.7zM328.0 120.5h1.7v1.7h-1.7zM398.5 75.0h1.7v1.7h-1.7zM348.3 108.8h1.7v1.7h-1.7zM299.3 139.0h1.7v1.7h-1.7zM374.9 93.5h1.7v1.7h-1.7zM354.7 111.4h1.7v1.7h-1.7zM386.4 94.0h1.7v1.7h-1.7zM421.0 65.5h1.7v1.7h-1.7zM370.8 96.8h1.7v1.7h-1.7zM315.4 120.7h1.7v1.7h-1.7zM313.6 128.2h1.7v1.7h-1.7zM392.2 77.0h1.7v1.7h-1.7zM375.5 86.2h1.7v1.7h-1.7zM385.9 84.0h1.7v1.7h-1.7zM358.7 107.3h1.7v1.7h-1.7zM363.1 102.6h1.7v1.7h-1.7zM310.5 130.3h1.7v1.7h-1.7zM345.3 113.3h1.7v1.7h-1.7zM359.2 105.6h1.7v1.7h-1.7zM331.0 113.2h1.7v1.7h-1.7zM310.0 125.3h1.7v1.7h-1.7zM397.8 77.0h1.7v1.7h-1.7zM320.1 129.6h1.7v1.7h-1.7zM354.8 105.2h1.7v1.7h-1.7zM369.7 92.9h1.7v1.7h-1.7zM350.8 105.5h1.7v1.7h-1.7zM397.9 75.1h1.7v1.7h-1.7zM327.1 116.5h1.7v1.7h-1.7zM399.7 72.1h1.7v1.7h-1.7zM392.8 85.1h1.7v1.7h-1.7zM359.9 102.9h1.7v1.7h-1.7zM346.8 103.2h1.7v1.7h-1.7zM391.9 81.1h1.7v1.7h-1.7zM351.8 109.0h1.7v1.7h-1.7zM419.7 66.2h1.7v1.7h-1.7zM318.7 120.4h1.7v1.7h-1.7zM312.9 121.6h1.7v1.7h-1.7zM319.7 130.6h1.7v1.7h-1.7zM390.4 77.1h1.7v1.7h-1.7zM348.0 103.5h1.7v1.7h-1.7zM351.2 108.0h1.7v1.7h-1.7zM369.5 99.9h1.7v1.7h-1.7zM325.6 126.4h1.7v1.7h-1.7zM347.6 106.0h1.7v1.7h-1.7zM361.5 101.4h1.7v1.7h-1.7zM302.0 130.2h1.7v1.7h-1.7zM347.5 109.0h1.7v1.7h-1.7zM360.4 99.3h1.7v1.7h-1.7zM343.6 130.1h1.7v1.7h-1.7zM325.6 127.8h1.7v1.7h-1.7zM307.8 128.9h1.7v1.7h-1.7zM414.8 66.4h1.7v1.7h-1.7zM382.0 96.3h1.7v1.7h-1.7zM360.2 99.4h1.7v1.7h-1.7zM373.6 91.5h1.7v1.7h-1.7zM301.8 130.9h1.7v1.7h-1.7zM446.1 46.0h1.7v1.7h-1.7zM339.2 119.8h1.7v1.7h-1.7zM347.9 106.5h1.7v1.7h-1.7zM306.8 126.5h1.7v1.7h-1.7zM336.8 105.7h1.7v1.7h-1.7zM315.6 123.6h1.7v1.7h-1.7zM336.6 109.2h1.7v1.7h-1.7zM346.2 105.0h1.7v1.7h-1.7zM363.2 93.6h1.7v1.7h-1.7zM317.6 125.9h1.7v1.7h-1.7zM393.2 80.4h1.7v1.7h-1.7zM413.1 66.7h1.7v1.7h-1.7zM316.4 127.3h1.7v1.7h-1.7zM319.4 123.4h1.7v1.7h-1.7zM380.8 87.1h1.7v1.7h-1.7zM336.9 111.0h1.7v1.7h-1.7zM333.3 118.9h1.7v1.7h-1.7zM330.8 117.0h1.7v1.7h-1.7zM324.4 119.5h1.7v1.7h-1.7zM403.5 72.0h1.7v1.7h-1.7zM368.5 97.0h1.7v1.7h-1.7zM324.5 119.9h1.7v1.7h-1.7zM446.7 43.8h1.7v1.7h-1.7zM338.3 109.0h1.7v1.7h-1.7zM379.8 83.9h1.7v1.7h-1.7zM376.1 79.9h1.7v1.7h-1.7zM348.0 103.9h1.7v1.7h-1.7zM369.2 115.2h1.7v1.7h-1.7zM332.2 103.2h1.7v1.7h-1.7zM378.6 88.5h1.7v1.7h-1.7zM326.2 121.8h1.7v1.7h-1.7zM315.6 125.0h1.7v1.7h-1.7zM342.4 110.6h1.7v1.7h-1.7zM373.4 88.9h1.7v1.7h-1.7zM372.0 91.1h1.7v1.7h-1.7zM332.4 113.7h1.7v1.7h-1.7zM303.8 128.1h1.7v1.7h-1.7zM360.0 101.5h1.7v1.7h-1.7zM379.0 93.0h1.7v1.7h-1.7zM304.1 133.5h1.7v1.7h-1.7zM318.0 129.6h1.7v1.7h-1.7zM349.0 110.6h1.7v1.7h-1.7zM324.4 131.6h1.7v1.7h-1.7zM343.5 111.8h1.7v1.7h-1.7zM321.5 118.4h1.7v1.7h-1.7zM372.5 88.0h1.7v1.7h-1.7zM379.9 89.0h1.7v1.7h-1.7zM416.6 68.2h1.7v1.7h-1.7zM302.2 136.8h1.7v1.7h-1.7zM319.7 123.3h1.7v1.7h-1.7zM398.0 80.9h1.7v1.7h-1.7zM373.2 93.2h1.7v1.7h-1.7zM369.6 94.3h1.7v1.7h-1.7zM299.7 132.5h1.7v1.7h-1.7zM445.1 46.9h1.7v1.7h-1.7zM336.7 119.2h1.7v1.7h-1.7zM306.7 126.7h1.7v1.7h-1.7zM315.3 122.5h1.7v1.7h-1.7zM318.5 127.7h1.7v1.7h-1.7zM367.0 96.4h1.7v1.7h-1.7zM345.7 114.7h1.7v1.7h-1.7zM335.5 117.6h1.7v1.7h-1.7zM321.1 123.4h1.7v1.7h-1.7zM332.4 121.0h1.7v1.7h-1.7zM383.3 85.5h1.7v1.7h-1.7zM341.1 115.1h1.7v1.7h-1.7zM296.4 137.3h1.7v1.7h-1.7zM443.6 49.8h1.7v1.7h-1.7zM418.4 59.5h1.7v1.7h-1.7zM340.1 112.9h1.7v1.7h-1.7zM368.6 102.4h1.7v1.7h-1.7zM311.5 130.0h1.7v1.7h-1.7zM360.9 107.1h1.7v1.7h-1.7zM306.7 134.4h1.7v1.7h-1.7zM329.1 115.9h1.7v1.7h-1.7zM413.7 67.6h1.7v1.7h-1.7zM317.0 134.2h1.7v1.7h-1.7zM353.0 108.6h1.7v1.7h-1.7zM360.5 98.7h1.7v1.7h-1.7zM326.1 122.8h1.7v1.7h-1.7zM419.1 65.6h1.7v1.7h-1.7zM354.3 103.8h1.7v1.7h-1.7zM312.9 126.2h1.7v1.7h-1.7zM380.0 91.5h1.7v1.7h-1.7zM351.1 110.3h1.7v1.7h-1.7zM323.4 117.3h1.7v1.7h-1.7zM339.8 106.2h1.7v1.7h-1.7zM359.9 100.2h1.7v1.7h-1.7zM353.6 106.3h1.7v1.7h-1.7zM345.9 109.9h1.7v1.7h-1.7zM294.9 134.7h1.7v1.7h-1.7zM315.4 126.9h1.7v1.7h-1.7zM345.3 94.8h1.7v1.7h-1.7zM427.8 54.9h1.7v1.7h-1.7zM322.3 121.8h1.7v1.7h-1.7zM328.4 118.3h1.7v1.7h-1.7zM349.0 108.1h1.7v1.7h-1.7zM336.6 116.0h1.7v1.7h-1.7zM396.3 78.9h1.7v1.7h-1.7zM377.5 88.6h1.7v1.7h-1.7zM372.5 99.5h1.7v1.7h-1.7zM319.2 123.2h1.7v1.7h-1.7zM342.8 121.7h1.7v1.7h-1.7zM381.5 75.4h1.7v1.7h-1.7zM357.9 107.0h1.7v1.7h-1.7zM319.8 114.8h1.7v1.7h-1.7zM389.5 76.4h1.7v1.7h-1.7zM405.6 69.0h1.7v1.7h-1.7zM378.6 78.5h1.7v1.7h-1.7zM364.2 97.8h1.7v1.7h-1.7zM321.0 121.8h1.7v1.7h-1.7zM338.5 105.9h1.7v1.7h-1.7zM348.2 107.1h1.7v1.7h-1.7zM361.6 103.1h1.7v1.7h-1.7zM355.4 102.5h1.7v1.7h-1.7zM317.4 127.6h1.7v1.7h-1.7zM363.8 97.2h1.7v1.7h-1.7zM384.5 91.7h1.7v1.7h-1.7zM325.0 120.0h1.7v1.7h-1.7zM310.0 124.6h1.7v1.7h-1.7zM343.4 116.8h1.7v1.7h-1.7zM342.1 112.9h1.7v1.7h-1.7zM407.6 66.4h1.7v1.7h-1.7zM332.9 123.5h1.7v1.7h-1.7zM380.4 86.3h1.7v1.7h-1.7zM387.6 85.2h1.7v1.7h-1.7zM317.3 133.3h1.7v1.7h-1.7zM402.9 71.4h1.7v1.7h-1.7zM360.9 99.0h1.7v1.7h-1.7zM392.5 81.7h1.7v1.7h-1.7zM382.2 78.3h1.7v1.7h-1.7zM352.0 111.2h1.7v1.7h-1.7zM390.1 78.8h1.7v1.7h-1.7zM337.0 119.9h1.7v1.7h-1.7zM335.8 119.7h1.7v1.7h-1.7zM364.1 95.5h1.7v1.7h-1.7zM340.4 102.7h1.7v1.7h-1.7zM326.0 123.9h1.7v1.7h-1.7zM382.8 82.0h1.7v1.7h-1.7zM385.8 84.6h1.7v1.7h-1.7zM311.3 130.8h1.7v1.7h-1.7zM373.3 96.2h1.7v1.7h-1.7zM406.6 71.9h1.7v1.7h-1.7zM385.2 82.1h1.7v1.7h-1.7zM319.2 126.3h1.7v1.7h-1.7zM312.5 128.9h1.7v1.7h-1.7zM348.7 113.0h1.7v1.7h-1.7zM399.7 72.2h1.7v1.7h-1.7zM404.0 82.8h1.7v1.7h-1.7zM301.4 133.8h1.7v1.7h-1.7zM400.6 74.0h1.7v1.7h-1.7zM366.6 100.6h1.7v1.7h-1.7zM369.7 95.4h1.7v1.7h-1.7zM327.1 112.3h1.7v1.7h-1.7zM367.2 92.8h1.7v1.7h-1.7zM411.8 69.7h1.7v1.7h-1.7zM361.9 102.3h1.7v1.7h-1.7zM404.6 73.4h1.7v1.7h-1.7zM371.1 91.7h1.7v1.7h-1.7zM329.2 114.1h1.7v1.7h-1.7zM341.3 110.7h1.7v1.7h-1.7zM330.6 118.0h1.7v1.7h-1.7zM334.5 115.1h1.7v1.7h-1.7zM368.9 97.7h1.7v1.7h-1.7zM354.6 102.8h1.7v1.7h-1.7zM403.2 71.6h1.7v1.7h-1.7zM325.6 117.5h1.7v1.7h-1.7zM317.3 123.7h1.7v1.7h-1.7zM310.4 126.6h1.7v1.7h-1.7zM330.2 117.3h1.7v1.7h-1.7zM372.1 92.1h1.7v1.7h-1.7zM320.5 127.2h1.7v1.7h-1.7zM367.6 94.6h1.7v1.7h-1.7zM403.7 70.1h1.7v1.7h-1.7zM364.7 101.1h1.7v1.7h-1.7zM323.3 126.8h1.7v1.7h-1.7zM379.5 87.9h1.7v1.7h-1.7zM389.4 78.0h1.7v1.7h-1.7zM355.6 110.8h1.7v1.7h-1.7zM342.9 107.5h1.7v1.7h-1.7zM361.9 100.9h1.7v1.7h-1.7zM312.5 126.6h1.7v1.7h-1.7zM368.8 91.9h1.7v1.7h-1.7zM328.4 121.2h1.7v1.7h-1.7zM366.4 99.6h1.7v1.7h-1.7zM334.5 114.9h1.7v1.7h-1.7zM341.0 113.6h1.7v1.7h-1.7zM409.9 66.1h1.7v1.7h-1.7zM338.0 112.7h1.7v1.7h-1.7zM381.9 88.0h1.7v1.7h-1.7zM314.5 128.5h1.7v1.7h-1.7zM371.1 87.6h1.7v1.7h-1.7zM310.8 129.5h1.7v1.7h-1.7zM352.4 102.6h1.7v1.7h-1.7zM397.9 69.8h1.7v1.7h-1.7zM331.7 119.7h1.7v1.7h-1.7zM333.5 120.1h1.7v1.7h-1.7zM406.7 65.0h1.7v1.7h-1.7zM346.5 112.9h1.7v1.7h-1.7zM366.6 98.4h1.7v1.7h-1.7zM373.7 95.5h1.7v1.7h-1.7zM374.1 99.3h1.7v1.7h-1.7zM420.3 67.0h1.7v1.7h-1.7zM416.9 66.1h1.7v1.7h-1.7zM310.7 121.4h1.7v1.7h-1.7zM306.2 128.2h1.7v1.7h-1.7zM379.5 87.2h1.7v1.7h-1.7zM324.9 117.9h1.7v1.7h-1.7zM373.2 94.3h1.7v1.7h-1.7zM315.1 127.8h1.7v1.7h-1.7zM352.5 113.9h1.7v1.7h-1.7zM345.2 115.0h1.7v1.7h-1.7zM347.2 104.4h1.7v1.7h-1.7zM358.9 112.6h1.7v1.7h-1.7zM318.2 124.1h1.7v1.7h-1.7zM348.5 107.1h1.7v1.7h-1.7zM435.9 49.8h1.7v1.7h-1.7zM309.9 129.0h1.7v1.7h-1.7zM382.7 94.6h1.7v1.7h-1.7zM359.7 102.5h1.7v1.7h-1.7zM323.0 123.2h1.7v1.7h-1.7zM369.3 99.4h1.7v1.7h-1.7zM338.7 117.8h1.7v1.7h-1.7zM350.1 105.2h1.7v1.7h-1.7zM326.4 116.3h1.7v1.7h-1.7zM442.2 50.5h1.7v1.7h-1.7zM410.5 72.3h1.7v1.7h-1.7zM354.3 103.2h1.7v1.7h-1.7zM350.6 109.4h1.7v1.7h-1.7zM344.8 114.6h1.7v1.7h-1.7zM361.6 102.9h1.7v1.7h-1.7zM364.9 97.8h1.7v1.7h-1.7zM377.2 97.8h1.7v1.7h-1.7zM318.2 129.0h1.7v1.7h-1.7zM404.6 74.7h1.7v1.7h-1.7zM311.7 127.0h1.7v1.7h-1.7zM409.5 66.1h1.7v1.7h-1.7zM325.7 118.1h1.7v1.7h-1.7zM352.8 106.8h1.7v1.7h-1.7zM388.9 79.2h1.7v1.7h-1.7zM339.7 121.5h1.7v1.7h-1.7zM314.0 122.8h1.7v1.7h-1.7zM370.2 101.7h1.7v1.7h-1.7zM376.9 88.7h1.7v1.7h-1.7zM345.8 107.2h1.7v1.7h-1.7zM368.1 95.9h1.7v1.7h-1.7zM390.6 84.9h1.7v1.7h-1.7zM294.4 139.0h1.7v1.7h-1.7zM368.0 92.9h1.7v1.7h-1.7zM365.4 101.7h1.7v1.7h-1.7zM348.7 107.0h1.7v1.7h-1.7zM324.8 115.4h1.7v1.7h-1.7zM338.7 104.7h1.7v1.7h-1.7zM346.2 114.7h1.7v1.7h-1.7zM384.4 80.5h1.7v1.7h-1.7zM374.8 89.3h1.7v1.7h-1.7zM353.9 106.2h1.7v1.7h-1.7zM335.3 126.8h1.7v1.7h-1.7zM393.2 72.6h1.7v1.7h-1.7zM304.4 131.5h1.7v1.7h-1.7zM339.7 113.9h1.7v1.7h-1.7zM336.9 101.5h1.7v1.7h-1.7zM352.2 103.3h1.7v1.7h-1.7zM306.8 129.0h1.7v1.7h-1.7zM345.2 114.8h1.7v1.7h-1.7zM318.9 122.6h1.7v1.7h-1.7zM308.1 127.8h1.7v1.7h-1.7zM439.3 52.0h1.7v1.7h-1.7zM388.1 86.6h1.7v1.7h-1.7zM337.5 109.0h1.7v1.7h-1.7zM368.6 96.7h1.7v1.7h-1.7zM329.0 117.1h1.7v1.7h-1.7zM397.3 76.8h1.7v1.7h-1.7zM364.5 103.2h1.7v1.7h-1.7zM347.0 107.1h1.7v1.7h-1.7zM333.7 110.1h1.7v1.7h-1.7zM348.7 107.7h1.7v1.7h-1.7zM376.7 80.5h1.7v1.7h-1.7zM380.2 93.9h1.7v1.7h-1.7zM305.6 134.3h1.7v1.7h-1.7zM424.2 58.4h1.7v1.7h-1.7zM355.7 104.8h1.7v1.7h-1.7zM401.6 69.0h1.7v1.7h-1.7zM307.6 129.1h1.7v1.7h-1.7zM391.9 78.9h1.7v1.7h-1.7zM361.1 109.1h1.7v1.7h-1.7zM313.3 128.5h1.7v1.7h-1.7zM289.4 140.4h1.7v1.7h-1.7zM328.6 126.4h1.7v1.7h-1.7zM406.2 70.4h1.7v1.7h-1.7zM367.7 99.9h1.7v1.7h-1.7zM336.8 109.1h1.7v1.7h-1.7zM334.2 113.4h1.7v1.7h-1.7zM373.0 100.4h1.7v1.7h-1.7zM343.4 100.2h1.7v1.7h-1.7zM310.9 129.9h1.7v1.7h-1.7zM366.4 95.4h1.7v1.7h-1.7zM353.8 109.7h1.7v1.7h-1.7zM394.5 76.3h1.7v1.7h-1.7zM313.4 127.5h1.7v1.7h-1.7zM369.7 90.5h1.7v1.7h-1.7zM380.6 91.7h1.7v1.7h-1.7zM353.6 103.1h1.7v1.7h-1.7zM383.1 81.0h1.7v1.7h-1.7zM397.2 55.7h1.7v1.7h-1.7zM375.6 77.1h1.7v1.7h-1.7zM325.0 122.5h1.7v1.7h-1.7zM317.1 120.5h1.7v1.7h-1.7zM359.2 97.4h1.7v1.7h-1.7zM428.8 58.4h1.7v1.7h-1.7zM419.5 63.5h1.7v1.7h-1.7zM349.9 108.4h1.7v1.7h-1.7zM366.5 97.0h1.7v1.7h-1.7zM335.8 122.0h1.7v1.7h-1.7zM367.6 92.7h1.7v1.7h-1.7zM299.5 131.6h1.7v1.7h-1.7zM399.5 74.7h1.7v1.7h-1.7zM403.5 74.9h1.7v1.7h-1.7zM370.3 100.9h1.7v1.7h-1.7zM318.4 124.0h1.7v1.7h-1.7zM333.3 119.1h1.7v1.7h-1.7zM394.6 80.1h1.7v1.7h-1.7zM335.6 126.5h1.7v1.7h-1.7zM383.0 83.7h1.7v1.7h-1.7zM391.1 85.7h1.7v1.7h-1.7zM374.6 91.6h1.7v1.7h-1.7zM333.8 116.7h1.7v1.7h-1.7zM365.0 102.0h1.7v1.7h-1.7zM391.9 84.8h1.7v1.7h-1.7zM373.0 90.5h1.7v1.7h-1.7zM386.7 83.3h1.7v1.7h-1.7zM394.7 75.5h1.7v1.7h-1.7zM355.9 93.9h1.7v1.7h-1.7zM371.3 102.6h1.7v1.7h-1.7zM357.5 104.9h1.7v1.7h-1.7zM428.7 58.1h1.7v1.7h-1.7zM313.8 124.1h1.7v1.7h-1.7zM301.4 131.7h1.7v1.7h-1.7zM383.4 88.4h1.7v1.7h-1.7zM379.9 97.0h1.7v1.7h-1.7zM363.7 101.2h1.7v1.7h-1.7zM297.8 134.8h1.7v1.7h-1.7zM334.4 107.0h1.7v1.7h-1.7zM389.1 80.1h1.7v1.7h-1.7zM319.6 123.2h1.7v1.7h-1.7zM300.3 127.9h1.7v1.7h-1.7zM427.2 56.7h1.7v1.7h-1.7zM356.0 104.7h1.7v1.7h-1.7zM316.5 130.2h1.7v1.7h-1.7zM343.1 104.5h1.7v1.7h-1.7zM392.1 71.0h1.7v1.7h-1.7zM389.6 84.6h1.7v1.7h-1.7zM330.0 108.3h1.7v1.7h-1.7zM378.5 97.2h1.7v1.7h-1.7zM338.4 114.5h1.7v1.7h-1.7zM324.2 126.8h1.7v1.7h-1.7zM360.4 104.3h1.7v1.7h-1.7zM341.7 98.6h1.7v1.7h-1.7zM376.9 92.2h1.7v1.7h-1.7zM399.4 72.5h1.7v1.7h-1.7zM424.8 59.6h1.7v1.7h-1.7zM377.5 89.7h1.7v1.7h-1.7zM340.4 113.6h1.7v1.7h-1.7zM339.2 116.5h1.7v1.7h-1.7zM324.2 120.6h1.7v1.7h-1.7zM351.9 111.4h1.7v1.7h-1.7zM374.4 94.1h1.7v1.7h-1.7zM304.6 129.4h1.7v1.7h-1.7zM316.8 126.3h1.7v1.7h-1.7zM372.1 92.0h1.7v1.7h-1.7zM329.6 120.7h1.7v1.7h-1.7zM357.9 100.3h1.7v1.7h-1.7zM356.0 103.2h1.7v1.7h-1.7zM322.3 125.0h1.7v1.7h-1.7zM396.6 71.4h1.7v1.7h-1.7zM350.1 109.7h1.7v1.7h-1.7zM302.5 130.5h1.7v1.7h-1.7zM397.8 79.0h1.7v1.7h-1.7zM375.8 93.1h1.7v1.7h-1.7zM320.5 119.4h1.7v1.7h-1.7zM381.6 88.7h1.7v1.7h-1.7zM315.8 130.7h1.7v1.7h-1.7zM352.9 104.9h1.7v1.7h-1.7zM371.6 97.0h1.7v1.7h-1.7zM440.4 55.8h1.7v1.7h-1.7zM415.7 60.6h1.7v1.7h-1.7zM397.6 76.1h1.7v1.7h-1.7zM408.2 76.3h1.7v1.7h-1.7zM316.0 124.2h1.7v1.7h-1.7zM305.7 130.0h1.7v1.7h-1.7zM315.6 122.3h1.7v1.7h-1.7zM371.0 84.1h1.7v1.7h-1.7zM305.9 134.5h1.7v1.7h-1.7zM323.9 122.9h1.7v1.7h-1.7zM307.7 133.2h1.7v1.7h-1.7zM365.3 101.3h1.7v1.7h-1.7zM368.8 92.4h1.7v1.7h-1.7zM327.8 111.4h1.7v1.7h-1.7zM329.9 119.3h1.7v1.7h-1.7zM426.8 63.5h1.7v1.7h-1.7zM348.1 112.0h1.7v1.7h-1.7zM332.9 118.2h1.7v1.7h-1.7zM372.2 100.4h1.7v1.7h-1.7zM374.2 90.1h1.7v1.7h-1.7zM356.8 103.4h1.7v1.7h-1.7zM309.6 131.5h1.7v1.7h-1.7zM332.6 114.7h1.7v1.7h-1.7zM383.2 83.3h1.7v1.7h-1.7zM333.8 114.1h1.7v1.7h-1.7zM320.2 125.0h1.7v1.7h-1.7zM333.2 113.1h1.7v1.7h-1.7zM377.9 88.1h1.7v1.7h-1.7zM403.1 75.1h1.7v1.7h-1.7zM395.2 75.4h1.7v1.7h-1.7zM396.0 76.0h1.7v1.7h-1.7zM400.7 75.4h1.7v1.7h-1.7zM423.1 62.5h1.7v1.7h-1.7zM390.5 75.9h1.7v1.7h-1.7zM366.6 93.5h1.7v1.7h-1.7zM335.0 118.7h1.7v1.7h-1.7zM445.0 46.2h1.7v1.7h-1.7zM324.8 119.7h1.7v1.7h-1.7zM336.7 113.9h1.7v1.7h-1.7zM378.7 86.4h1.7v1.7h-1.7zM348.8 111.2h1.7v1.7h-1.7zM304.7 130.1h1.7v1.7h-1.7zM356.9 97.1h1.7v1.7h-1.7zM396.3 83.0h1.7v1.7h-1.7zM357.6 102.6h1.7v1.7h-1.7zM378.3 89.6h1.7v1.7h-1.7zM325.9 120.5h1.7v1.7h-1.7zM380.8 85.9h1.7v1.7h-1.7zM335.5 110.7h1.7v1.7h-1.7zM340.7 108.8h1.7v1.7h-1.7zM378.7 86.6h1.7v1.7h-1.7zM359.7 107.5h1.7v1.7h-1.7zM346.1 107.0h1.7v1.7h-1.7zM339.7 114.8h1.7v1.7h-1.7zM334.9 106.2h1.7v1.7h-1.7zM399.4 72.3h1.7v1.7h-1.7zM361.5 101.8h1.7v1.7h-1.7zM377.2 85.6h1.7v1.7h-1.7zM418.3 66.8h1.7v1.7h-1.7zM349.6 106.0h1.7v1.7h-1.7zM372.9 91.8h1.7v1.7h-1.7zM309.5 125.6h1.7v1.7h-1.7zM353.2 105.4h1.7v1.7h-1.7zM372.2 87.9h1.7v1.7h-1.7zM377.7 92.7h1.7v1.7h-1.7zM363.9 100.9h1.7v1.7h-1.7zM352.1 105.5h1.7v1.7h-1.7zM408.9 66.7h1.7v1.7h-1.7zM321.3 123.5h1.7v1.7h-1.7zM371.2 87.6h1.7v1.7h-1.7zM344.2 114.7h1.7v1.7h-1.7zM298.2 135.7h1.7v1.7h-1.7zM442.3 46.3h1.7v1.7h-1.7zM381.2 85.4h1.7v1.7h-1.7zM392.2 86.1h1.7v1.7h-1.7zM313.4 130.5h1.7v1.7h-1.7zM385.2 88.1h1.7v1.7h-1.7zM347.5 107.0h1.7v1.7h-1.7zM332.7 119.0h1.7v1.7h-1.7zM359.0 97.6h1.7v1.7h-1.7zM390.9 83.2h1.7v1.7h-1.7zM413.2 70.5h1.7v1.7h-1.7zM354.6 104.4h1.7v1.7h-1.7zM376.4 91.8h1.7v1.7h-1.7zM385.9 81.3h1.7v1.7h-1.7zM367.4 96.2h1.7v1.7h-1.7zM435.4 54.6h1.7v1.7h-1.7zM349.9 109.5h1.7v1.7h-1.7zM313.5 127.5h1.7v1.7h-1.7zM349.0 110.1h1.7v1.7h-1.7zM355.6 100.7h1.7v1.7h-1.7zM377.0 84.4h1.7v1.7h-1.7zM387.3 84.8h1.7v1.7h-1.7zM306.4 123.3h1.7v1.7h-1.7zM328.9 111.8h1.7v1.7h-1.7zM320.7 117.8h1.7v1.7h-1.7zM402.9 75.7h1.7v1.7h-1.7zM314.4 128.2h1.7v1.7h-1.7zM395.9 87.8h1.7v1.7h-1.7zM323.6 119.6h1.7v1.7h-1.7zM393.8 78.0h1.7v1.7h-1.7zM355.5 103.5h1.7v1.7h-1.7zM383.6 75.7h1.7v1.7h-1.7zM415.4 69.3h1.7v1.7h-1.7zM433.7 50.7h1.7v1.7h-1.7zM312.7 124.7h1.7v1.7h-1.7zM397.8 77.1h1.7v1.7h-1.7zM378.8 86.8h1.7v1.7h-1.7zM340.5 114.5h1.7v1.7h-1.7zM325.8 121.9h1.7v1.7h-1.7zM368.7 99.2h1.7v1.7h-1.7zM371.6 93.6h1.7v1.7h-1.7zM319.0 120.6h1.7v1.7h-1.7zM375.2 90.7h1.7v1.7h-1.7zM358.2 98.8h1.7v1.7h-1.7zM371.1 88.6h1.7v1.7h-1.7zM387.2 77.9h1.7v1.7h-1.7zM348.9 112.2h1.7v1.7h-1.7zM406.9 66.8h1.7v1.7h-1.7zM360.9 106.0h1.7v1.7h-1.7zM332.1 116.1h1.7v1.7h-1.7zM341.4 110.7h1.7v1.7h-1.7zM335.0 115.2h1.7v1.7h-1.7zM412.1 73.0h1.7v1.7h-1.7zM367.8 91.4h1.7v1.7h-1.7zM359.0 104.4h1.7v1.7h-1.7zM404.3 71.1h1.7v1.7h-1.7zM364.7 95.1h1.7v1.7h-1.7zM354.1 97.3h1.7v1.7h-1.7zM349.1 104.4h1.7v1.7h-1.7zM394.6 71.9h1.7v1.7h-1.7zM354.9 105.1h1.7v1.7h-1.7zM341.4 118.5h1.7v1.7h-1.7zM325.9 120.7h1.7v1.7h-1.7zM333.4 114.8h1.7v1.7h-1.7zM379.5 94.4h1.7v1.7h-1.7zM326.4 116.7h1.7v1.7h-1.7zM391.0 81.1h1.7v1.7h-1.7zM384.2 84.0h1.7v1.7h-1.7zM328.7 120.3h1.7v1.7h-1.7zM315.0 128.6h1.7v1.7h-1.7zM388.4 82.5h1.7v1.7h-1.7zM361.3 103.7h1.7v1.7h-1.7zM389.8 82.7h1.7v1.7h-1.7zM411.5 66.6h1.7v1.7h-1.7zM322.3 124.8h1.7v1.7h-1.7zM368.1 92.8h1.7v1.7h-1.7zM331.9 114.2h1.7v1.7h-1.7zM352.7 109.3h1.7v1.7h-1.7zM317.5 122.8h1.7v1.7h-1.7zM382.6 86.4h1.7v1.7h-1.7zM343.7 121.1h1.7v1.7h-1.7zM318.7 129.3h1.7v1.7h-1.7zM316.8 123.2h1.7v1.7h-1.7zM345.9 107.9h1.7v1.7h-1.7zM334.9 119.0h1.7v1.7h-1.7zM371.3 95.7h1.7v1.7h-1.7zM323.0 118.0h1.7v1.7h-1.7zM333.9 118.2h1.7v1.7h-1.7zM407.6 65.9h1.7v1.7h-1.7zM341.0 117.5h1.7v1.7h-1.7zM317.1 128.7h1.7v1.7h-1.7zM323.8 126.4h1.7v1.7h-1.7zM402.1 69.9h1.7v1.7h-1.7zM320.9 124.5h1.7v1.7h-1.7zM325.4 126.8h1.7v1.7h-1.7zM361.4 103.1h1.7v1.7h-1.7zM340.8 111.9h1.7v1.7h-1.7zM305.5 134.2h1.7v1.7h-1.7zM346.1 104.4h1.7v1.7h-1.7zM326.9 118.6h1.7v1.7h-1.7zM345.4 112.0h1.7v1.7h-1.7zM361.4 99.7h1.7v1.7h-1.7zM354.8 105.6h1.7v1.7h-1.7zM318.2 127.0h1.7v1.7h-1.7zM369.9 98.7h1.7v1.7h-1.7zM324.6 120.0h1.7v1.7h-1.7zM385.5 80.5h1.7v1.7h-1.7zM353.7 100.1h1.7v1.7h-1.7zM305.5 125.5h1.7v1.7h-1.7zM439.0 50.6h1.7v1.7h-1.7zM330.2 114.6h1.7v1.7h-1.7zM293.7 142.9h1.7v1.7h-1.7zM390.8 79.8h1.7v1.7h-1.7zM345.4 109.7h1.7v1.7h-1.7zM343.5 113.7h1.7v1.7h-1.7zM378.2 84.5h1.7v1.7h-1.7zM446.2 45.1h1.7v1.7h-1.7zM319.6 125.2h1.7v1.7h-1.7zM383.6 83.3h1.7v1.7h-1.7zM432.2 58.6h1.7v1.7h-1.7zM409.7 67.8h1.7v1.7h-1.7zM335.7 115.8h1.7v1.7h-1.7zM308.0 133.5h1.7v1.7h-1.7zM354.1 110.0h1.7v1.7h-1.7zM365.2 99.7h1.7v1.7h-1.7zM328.3 118.8h1.7v1.7h-1.7zM362.3 103.7h1.7v1.7h-1.7zM304.5 129.9h1.7v1.7h-1.7zM391.9 76.9h1.7v1.7h-1.7zM340.0 116.9h1.7v1.7h-1.7zM307.2 132.9h1.7v1.7h-1.7zM331.8 117.8h1.7v1.7h-1.7zM400.2 74.5h1.7v1.7h-1.7zM322.0 118.0h1.7v1.7h-1.7zM331.6 114.5h1.7v1.7h-1.7zM337.3 113.0h1.7v1.7h-1.7zM347.3 111.4h1.7v1.7h-1.7zM323.1 124.0h1.7v1.7h-1.7zM328.0 118.7h1.7v1.7h-1.7zM382.3 88.0h1.7v1.7h-1.7zM362.6 95.8h1.7v1.7h-1.7zM326.9 119.4h1.7v1.7h-1.7zM431.3 62.3h1.7v1.7h-1.7zM338.1 111.3h1.7v1.7h-1.7zM357.4 96.6h1.7v1.7h-1.7zM366.0 101.2h1.7v1.7h-1.7zM428.0 62.6h1.7v1.7h-1.7zM370.8 97.6h1.7v1.7h-1.7zM391.6 79.1h1.7v1.7h-1.7zM345.2 112.7h1.7v1.7h-1.7zM334.6 107.7h1.7v1.7h-1.7zM377.7 90.1h1.7v1.7h-1.7zM363.7 97.2h1.7v1.7h-1.7zM347.4 113.6h1.7v1.7h-1.7zM316.7 121.8h1.7v1.7h-1.7zM350.4 115.6h1.7v1.7h-1.7zM310.7 135.2h1.7v1.7h-1.7zM373.5 99.9h1.7v1.7h-1.7zM327.0 122.4h1.7v1.7h-1.7zM355.3 102.2h1.7v1.7h-1.7zM350.3 105.6h1.7v1.7h-1.7zM292.7 139.8h1.7v1.7h-1.7zM421.0 64.3h1.7v1.7h-1.7zM324.3 118.2h1.7v1.7h-1.7zM375.4 89.5h1.7v1.7h-1.7zM406.3 69.2h1.7v1.7h-1.7zM351.6 108.7h1.7v1.7h-1.7zM336.4 114.4h1.7v1.7h-1.7zM309.4 132.5h1.7v1.7h-1.7zM333.7 118.6h1.7v1.7h-1.7zM350.1 106.6h1.7v1.7h-1.7zM345.2 115.7h1.7v1.7h-1.7zM325.5 111.6h1.7v1.7h-1.7zM364.4 94.2h1.7v1.7h-1.7zM381.0 85.4h1.7v1.7h-1.7zM344.5 114.8h1.7v1.7h-1.7zM327.6 132.2h1.7v1.7h-1.7zM334.8 118.4h1.7v1.7h-1.7zM324.1 121.6h1.7v1.7h-1.7zM418.0 65.0h1.7v1.7h-1.7zM394.4 73.1h1.7v1.7h-1.7zM310.9 126.4h1.7v1.7h-1.7zM317.0 128.2h1.7v1.7h-1.7zM386.0 85.4h1.7v1.7h-1.7zM351.4 105.0h1.7v1.7h-1.7zM335.9 114.7h1.7v1.7h-1.7zM408.6 68.4h1.7v1.7h-1.7zM343.5 103.9h1.7v1.7h-1.7zM348.3 107.1h1.7v1.7h-1.7zM396.7 75.4h1.7v1.7h-1.7zM374.0 87.7h1.7v1.7h-1.7zM358.1 102.6h1.7v1.7h-1.7zM300.6 131.9h1.7v1.7h-1.7zM355.1 105.7h1.7v1.7h-1.7zM387.4 83.5h1.7v1.7h-1.7zM356.1 105.3h1.7v1.7h-1.7zM322.2 120.9h1.7v1.7h-1.7zM364.8 96.5h1.7v1.7h-1.7zM381.6 86.7h1.7v1.7h-1.7zM355.5 104.8h1.7v1.7h-1.7zM351.7 110.8h1.7v1.7h-1.7zM381.9 87.1h1.7v1.7h-1.7zM338.1 111.2h1.7v1.7h-1.7zM333.1 119.1h1.7v1.7h-1.7zM343.4 110.9h1.7v1.7h-1.7zM341.2 118.6h1.7v1.7h-1.7zM369.1 104.2h1.7v1.7h-1.7zM378.3 92.0h1.7v1.7h-1.7zM353.2 101.3h1.7v1.7h-1.7zM408.7 67.5h1.7v1.7h-1.7zM393.5 82.7h1.7v1.7h-1.7zM392.9 68.9h1.7v1.7h-1.7zM377.3 88.0h1.7v1.7h-1.7zM414.5 67.7h1.7v1.7h-1.7zM332.9 114.3h1.7v1.7h-1.7zM372.9 89.9h1.7v1.7h-1.7zM345.3 110.0h1.7v1.7h-1.7zM347.5 107.6h1.7v1.7h-1.7zM425.7 59.0h1.7v1.7h-1.7zM356.1 106.5h1.7v1.7h-1.7zM361.5 98.7h1.7v1.7h-1.7zM315.4 124.9h1.7v1.7h-1.7zM379.4 97.1h1.7v1.7h-1.7zM333.5 119.1h1.7v1.7h-1.7zM348.6 108.7h1.7v1.7h-1.7zM328.6 117.4h1.7v1.7h-1.7zM367.7 98.2h1.7v1.7h-1.7zM327.9 119.2h1.7v1.7h-1.7zM361.0 96.6h1.7v1.7h-1.7zM346.7 103.5h1.7v1.7h-1.7zM360.6 106.0h1.7v1.7h-1.7zM397.0 74.1h1.7v1.7h-1.7zM352.1 113.2h1.7v1.7h-1.7zM362.5 103.3h1.7v1.7h-1.7zM361.6 101.2h1.7v1.7h-1.7zM324.0 118.9h1.7v1.7h-1.7zM389.4 82.5h1.7v1.7h-1.7zM353.9 108.9h1.7v1.7h-1.7zM388.8 84.0h1.7v1.7h-1.7zM307.0 133.5h1.7v1.7h-1.7zM354.5 107.3h1.7v1.7h-1.7zM338.3 111.3h1.7v1.7h-1.7zM311.2 129.6h1.7v1.7h-1.7zM418.8 66.6h1.7v1.7h-1.7zM370.4 94.8h1.7v1.7h-1.7zM398.9 73.2h1.7v1.7h-1.7zM364.1 96.9h1.7v1.7h-1.7zM339.3 117.7h1.7v1.7h-1.7zM351.3 104.0h1.7v1.7h-1.7zM314.5 137.1h1.7v1.7h-1.7zM366.2 101.4h1.7v1.7h-1.7zM371.7 80.8h1.7v1.7h-1.7zM359.4 98.5h1.7v1.7h-1.7zM380.4 88.2h1.7v1.7h-1.7zM335.6 110.3h1.7v1.7h-1.7zM400.4 74.2h1.7v1.7h-1.7zM370.0 98.9h1.7v1.7h-1.7zM328.7 120.5h1.7v1.7h-1.7zM371.0 86.6h1.7v1.7h-1.7zM372.9 98.7h1.7v1.7h-1.7zM403.1 76.6h1.7v1.7h-1.7zM353.0 103.7h1.7v1.7h-1.7zM327.8 120.8h1.7v1.7h-1.7zM318.4 120.0h1.7v1.7h-1.7zM338.6 108.6h1.7v1.7h-1.7zM347.2 118.5h1.7v1.7h-1.7zM377.6 93.8h1.7v1.7h-1.7zM308.0 126.8h1.7v1.7h-1.7zM314.8 118.0h1.7v1.7h-1.7zM377.7 96.9h1.7v1.7h-1.7zM324.3 118.3h1.7v1.7h-1.7zM300.2 133.9h1.7v1.7h-1.7zM309.8 124.8h1.7v1.7h-1.7zM367.7 99.1h1.7v1.7h-1.7zM361.1 105.8h1.7v1.7h-1.7zM409.9 70.1h1.7v1.7h-1.7zM317.7 126.9h1.7v1.7h-1.7zM368.6 97.8h1.7v1.7h-1.7zM309.3 134.3h1.7v1.7h-1.7zM386.2 82.3h1.7v1.7h-1.7zM353.5 103.9h1.7v1.7h-1.7zM306.0 125.0h1.7v1.7h-1.7zM293.2 136.6h1.7v1.7h-1.7zM416.5 65.0h1.7v1.7h-1.7zM350.5 103.3h1.7v1.7h-1.7zM406.4 74.7h1.7v1.7h-1.7zM317.6 123.6h1.7v1.7h-1.7zM351.7 129.9h1.7v1.7h-1.7zM370.1 97.6h1.7v1.7h-1.7zM308.4 126.9h1.7v1.7h-1.7zM359.1 102.7h1.7v1.7h-1.7zM421.1 65.1h1.7v1.7h-1.7zM329.4 121.7h1.7v1.7h-1.7zM330.3 122.8h1.7v1.7h-1.7zM327.9 115.2h1.7v1.7h-1.7zM355.9 108.5h1.7v1.7h-1.7zM339.3 113.2h1.7v1.7h-1.7zM362.3 104.5h1.7v1.7h-1.7zM423.2 61.5h1.7v1.7h-1.7zM312.4 127.3h1.7v1.7h-1.7zM414.0 68.3h1.7v1.7h-1.7zM380.0 83.5h1.7v1.7h-1.7zM364.3 99.7h1.7v1.7h-1.7zM340.1 114.4h1.7v1.7h-1.7zM378.3 82.6h1.7v1.7h-1.7zM318.5 122.2h1.7v1.7h-1.7zM301.1 130.1h1.7v1.7h-1.7zM359.8 106.3h1.7v1.7h-1.7zM325.0 120.5h1.7v1.7h-1.7zM333.0 116.1h1.7v1.7h-1.7zM336.3 111.9h1.7v1.7h-1.7zM337.4 115.8h1.7v1.7h-1.7zM360.8 100.6h1.7v1.7h-1.7zM394.1 82.3h1.7v1.7h-1.7zM401.6 73.4h1.7v1.7h-1.7zM355.4 104.8h1.7v1.7h-1.7zM318.8 125.7h1.7v1.7h-1.7zM337.8 115.8h1.7v1.7h-1.7zM421.0 54.8h1.7v1.7h-1.7zM315.7 126.2h1.7v1.7h-1.7zM383.8 85.5h1.7v1.7h-1.7zM360.9 94.6h1.7v1.7h-1.7zM380.6 83.4h1.7v1.7h-1.7zM382.3 89.9h1.7v1.7h-1.7zM359.4 103.9h1.7v1.7h-1.7zM384.6 81.9h1.7v1.7h-1.7zM383.3 92.5h1.7v1.7h-1.7zM389.9 76.0h1.7v1.7h-1.7zM396.5 82.0h1.7v1.7h-1.7zM321.1 120.4h1.7v1.7h-1.7zM352.6 112.4h1.7v1.7h-1.7zM436.0 52.8h1.7v1.7h-1.7zM332.6 114.5h1.7v1.7h-1.7zM335.5 116.2h1.7v1.7h-1.7zM392.0 79.6h1.7v1.7h-1.7zM380.8 91.2h1.7v1.7h-1.7zM386.8 86.5h1.7v1.7h-1.7zM392.9 78.8h1.7v1.7h-1.7zM443.8 47.6h1.7v1.7h-1.7zM319.2 123.5h1.7v1.7h-1.7zM354.8 112.0h1.7v1.7h-1.7zM344.7 110.5h1.7v1.7h-1.7zM344.2 114.9h1.7v1.7h-1.7zM389.2 82.2h1.7v1.7h-1.7zM437.8 50.7h1.7v1.7h-1.7zM373.2 86.9h1.7v1.7h-1.7zM300.1 134.1h1.7v1.7h-1.7zM345.4 112.2h1.7v1.7h-1.7zM413.9 68.1h1.7v1.7h-1.7zM356.7 109.2h1.7v1.7h-1.7zM326.2 121.9h1.7v1.7h-1.7zM315.4 137.1h1.7v1.7h-1.7zM322.4 123.7h1.7v1.7h-1.7zM311.2 125.3h1.7v1.7h-1.7zM384.1 89.4h1.7v1.7h-1.7zM370.9 90.8h1.7v1.7h-1.7zM366.5 97.7h1.7v1.7h-1.7zM378.9 84.2h1.7v1.7h-1.7zM349.1 112.0h1.7v1.7h-1.7zM381.3 92.3h1.7v1.7h-1.7zM383.7 81.0h1.7v1.7h-1.7zM369.4 92.5h1.7v1.7h-1.7zM324.6 115.2h1.7v1.7h-1.7zM421.6 57.7h1.7v1.7h-1.7zM355.1 104.6h1.7v1.7h-1.7zM372.4 92.5h1.7v1.7h-1.7zM330.0 112.4h1.7v1.7h-1.7zM315.8 118.3h1.7v1.7h-1.7zM307.6 125.3h1.7v1.7h-1.7zM308.0 130.0h1.7v1.7h-1.7zM425.8 56.2h1.7v1.7h-1.7zM312.5 127.2h1.7v1.7h-1.7zM318.0 124.7h1.7v1.7h-1.7zM404.3 74.7h1.7v1.7h-1.7zM297.2 134.6h1.7v1.7h-1.7zM388.3 83.4h1.7v1.7h-1.7zM378.6 94.0h1.7v1.7h-1.7zM404.7 70.5h1.7v1.7h-1.7zM368.8 96.2h1.7v1.7h-1.7zM332.1 121.0h1.7v1.7h-1.7zM439.1 49.1h1.7v1.7h-1.7zM381.3 89.2h1.7v1.7h-1.7zM330.5 107.6h1.7v1.7h-1.7zM333.7 109.6h1.7v1.7h-1.7zM381.0 81.6h1.7v1.7h-1.7zM358.8 102.0h1.7v1.7h-1.7zM400.1 75.0h1.7v1.7h-1.7zM340.1 103.8h1.7v1.7h-1.7zM324.5 126.5h1.7v1.7h-1.7zM376.5 97.8h1.7v1.7h-1.7zM309.2 132.4h1.7v1.7h-1.7zM335.1 114.3h1.7v1.7h-1.7zM344.3 112.5h1.7v1.7h-1.7zM358.6 100.2h1.7v1.7h-1.7zM355.6 102.6h1.7v1.7h-1.7zM399.0 73.4h1.7v1.7h-1.7zM388.8 83.4h1.7v1.7h-1.7zM322.0 119.9h1.7v1.7h-1.7zM320.0 121.4h1.7v1.7h-1.7zM368.5 103.3h1.7v1.7h-1.7zM342.9 110.1h1.7v1.7h-1.7zM429.2 59.6h1.7v1.7h-1.7zM334.0 118.5h1.7v1.7h-1.7zM325.6 118.0h1.7v1.7h-1.7zM339.2 111.7h1.7v1.7h-1.7zM372.1 98.0h1.7v1.7h-1.7zM360.9 99.6h1.7v1.7h-1.7zM331.2 119.4h1.7v1.7h-1.7zM404.4 71.4h1.7v1.7h-1.7zM412.0 66.1h1.7v1.7h-1.7zM385.5 89.6h1.7v1.7h-1.7zM335.5 108.5h1.7v1.7h-1.7zM307.2 127.8h1.7v1.7h-1.7zM365.3 96.7h1.7v1.7h-1.7zM368.4 98.2h1.7v1.7h-1.7zM397.2 74.8h1.7v1.7h-1.7zM300.8 132.9h1.7v1.7h-1.7zM327.2 121.1h1.7v1.7h-1.7zM410.8 74.9h1.7v1.7h-1.7zM441.4 51.7h1.7v1.7h-1.7zM338.8 108.1h1.7v1.7h-1.7zM393.7 90.5h1.7v1.7h-1.7zM385.9 84.2h1.7v1.7h-1.7zM316.6 121.9h1.7v1.7h-1.7zM378.3 89.9h1.7v1.7h-1.7zM342.9 107.7h1.7v1.7h-1.7zM338.5 112.1h1.7v1.7h-1.7zM374.4 88.5h1.7v1.7h-1.7zM347.0 107.5h1.7v1.7h-1.7zM397.3 60.9h1.7v1.7h-1.7zM333.2 120.7h1.7v1.7h-1.7zM328.7 118.2h1.7v1.7h-1.7zM311.8 130.0h1.7v1.7h-1.7zM390.8 82.4h1.7v1.7h-1.7zM341.7 111.6h1.7v1.7h-1.7zM309.1 132.7h1.7v1.7h-1.7zM426.8 62.9h1.7v1.7h-1.7zM320.5 120.0h1.7v1.7h-1.7zM325.6 122.3h1.7v1.7h-1.7zM369.6 94.3h1.7v1.7h-1.7zM424.6 58.3h1.7v1.7h-1.7zM421.2 64.2h1.7v1.7h-1.7zM436.9 53.2h1.7v1.7h-1.7zM338.7 113.0h1.7v1.7h-1.7zM339.9 105.1h1.7v1.7h-1.7zM306.4 127.7h1.7v1.7h-1.7zM380.2 88.2h1.7v1.7h-1.7zM392.9 82.0h1.7v1.7h-1.7zM298.8 135.3h1.7v1.7h-1.7zM337.7 111.8h1.7v1.7h-1.7zM399.6 76.9h1.7v1.7h-1.7zM344.6 100.7h1.7v1.7h-1.7zM381.2 88.7h1.7v1.7h-1.7zM344.4 117.8h1.7v1.7h-1.7zM420.9 62.5h1.7v1.7h-1.7zM312.3 124.3h1.7v1.7h-1.7zM375.5 94.8h1.7v1.7h-1.7zM414.4 66.1h1.7v1.7h-1.7zM382.4 86.4h1.7v1.7h-1.7zM391.1 82.6h1.7v1.7h-1.7zM334.7 114.0h1.7v1.7h-1.7zM358.5 108.3h1.7v1.7h-1.7zM354.8 102.4h1.7v1.7h-1.7zM302.5 129.8h1.7v1.7h-1.7zM384.3 86.2h1.7v1.7h-1.7zM308.5 130.3h1.7v1.7h-1.7zM327.5 119.3h1.7v1.7h-1.7zM333.1 118.4h1.7v1.7h-1.7zM410.4 69.1h1.7v1.7h-1.7zM401.4 70.0h1.7v1.7h-1.7zM339.8 114.7h1.7v1.7h-1.7zM339.1 107.2h1.7v1.7h-1.7zM323.9 120.5h1.7v1.7h-1.7zM331.5 120.2h1.7v1.7h-1.7zM311.0 129.6h1.7v1.7h-1.7zM407.6 77.6h1.7v1.7h-1.7zM337.9 112.9h1.7v1.7h-1.7zM324.8 119.1h1.7v1.7h-1.7zM311.4 126.4h1.7v1.7h-1.7zM318.8 122.0h1.7v1.7h-1.7zM304.1 131.6h1.7v1.7h-1.7zM346.5 113.4h1.7v1.7h-1.7zM384.0 85.3h1.7v1.7h-1.7zM406.4 76.3h1.7v1.7h-1.7zM329.7 119.2h1.7v1.7h-1.7zM315.9 119.0h1.7v1.7h-1.7zM341.2 114.8h1.7v1.7h-1.7zM300.4 130.3h1.7v1.7h-1.7zM386.8 84.0h1.7v1.7h-1.7zM335.7 112.1h1.7v1.7h-1.7zM337.3 112.1h1.7v1.7h-1.7zM395.9 84.5h1.7v1.7h-1.7zM410.2 72.5h1.7v1.7h-1.7zM402.7 72.5h1.7v1.7h-1.7zM353.3 100.3h1.7v1.7h-1.7zM338.7 112.1h1.7v1.7h-1.7zM310.2 126.6h1.7v1.7h-1.7zM418.1 66.6h1.7v1.7h-1.7zM302.5 137.7h1.7v1.7h-1.7zM385.7 79.1h1.7v1.7h-1.7zM392.1 81.8h1.7v1.7h-1.7zM385.4 84.4h1.7v1.7h-1.7zM389.8 81.0h1.7v1.7h-1.7zM345.1 116.4h1.7v1.7h-1.7zM394.3 76.5h1.7v1.7h-1.7zM339.5 106.7h1.7v1.7h-1.7zM413.6 67.3h1.7v1.7h-1.7zM308.0 127.4h1.7v1.7h-1.7zM394.5 77.1h1.7v1.7h-1.7zM340.5 115.9h1.7v1.7h-1.7zM361.9 96.2h1.7v1.7h-1.7zM305.0 134.1h1.7v1.7h-1.7zM297.0 141.2h1.7v1.7h-1.7zM313.4 126.0h1.7v1.7h-1.7zM328.9 120.5h1.7v1.7h-1.7zM335.2 107.4h1.7v1.7h-1.7zM367.2 96.7h1.7v1.7h-1.7zM347.5 107.6h1.7v1.7h-1.7zM365.1 96.2h1.7v1.7h-1.7zM334.9 119.0h1.7v1.7h-1.7zM315.5 126.9h1.7v1.7h-1.7zM378.9 92.4h1.7v1.7h-1.7zM362.1 95.2h1.7v1.7h-1.7zM395.2 78.2h1.7v1.7h-1.7zM406.9 70.1h1.7v1.7h-1.7zM348.8 97.2h1.7v1.7h-1.7zM325.3 123.8h1.7v1.7h-1.7zM321.3 123.1h1.7v1.7h-1.7zM346.9 111.2h1.7v1.7h-1.7zM335.0 121.1h1.7v1.7h-1.7zM374.0 90.5h1.7v1.7h-1.7zM350.7 113.9h1.7v1.7h-1.7zM360.7 95.1h1.7v1.7h-1.7zM339.1 124.6h1.7v1.7h-1.7zM379.8 91.3h1.7v1.7h-1.7zM356.4 100.2h1.7v1.7h-1.7zM392.6 76.1h1.7v1.7h-1.7zM350.9 117.6h1.7v1.7h-1.7zM390.8 79.5h1.7v1.7h-1.7zM386.0 88.6h1.7v1.7h-1.7zM334.1 117.5h1.7v1.7h-1.7zM334.4 116.3h1.7v1.7h-1.7zM435.1 54.2h1.7v1.7h-1.7zM344.5 106.3h1.7v1.7h-1.7zM365.8 94.6h1.7v1.7h-1.7zM403.5 71.0h1.7v1.7h-1.7zM356.8 108.0h1.7v1.7h-1.7zM310.6 122.9h1.7v1.7h-1.7zM345.5 106.4h1.7v1.7h-1.7zM357.3 107.7h1.7v1.7h-1.7zM413.5 67.4h1.7v1.7h-1.7zM413.2 66.5h1.7v1.7h-1.7zM332.2 113.1h1.7v1.7h-1.7zM314.9 120.8h1.7v1.7h-1.7zM352.5 103.9h1.7v1.7h-1.7zM345.3 106.0h1.7v1.7h-1.7zM377.7 87.8h1.7v1.7h-1.7zM352.1 99.8h1.7v1.7h-1.7zM320.4 117.8h1.7v1.7h-1.7zM346.1 115.2h1.7v1.7h-1.7zM324.1 113.4h1.7v1.7h-1.7zM382.1 89.6h1.7v1.7h-1.7zM356.2 102.9h1.7v1.7h-1.7zM376.8 85.9h1.7v1.7h-1.7zM316.1 121.5h1.7v1.7h-1.7zM449.9 41.9h1.7v1.7h-1.7zM346.6 107.9h1.7v1.7h-1.7zM367.0 89.9h1.7v1.7h-1.7zM383.4 89.4h1.7v1.7h-1.7zM371.3 95.0h1.7v1.7h-1.7zM413.2 67.5h1.7v1.7h-1.7zM320.7 122.4h1.7v1.7h-1.7zM378.7 92.8h1.7v1.7h-1.7zM418.8 64.4h1.7v1.7h-1.7zM383.0 88.8h1.7v1.7h-1.7zM384.2 83.1h1.7v1.7h-1.7zM316.2 136.0h1.7v1.7h-1.7zM330.4 114.9h1.7v1.7h-1.7zM432.4 53.6h1.7v1.7h-1.7zM336.5 112.0h1.7v1.7h-1.7zM367.2 101.0h1.7v1.7h-1.7zM361.8 113.2h1.7v1.7h-1.7zM435.0 55.2h1.7v1.7h-1.7zM338.5 121.8h1.7v1.7h-1.7zM330.9 109.4h1.7v1.7h-1.7zM351.1 101.5h1.7v1.7h-1.7zM384.1 83.7h1.7v1.7h-1.7zM329.3 122.5h1.7v1.7h-1.7zM312.6 124.5h1.7v1.7h-1.7zM324.6 120.2h1.7v1.7h-1.7zM373.2 88.4h1.7v1.7h-1.7zM314.0 127.1h1.7v1.7h-1.7zM364.0 96.4h1.7v1.7h-1.7zM423.4 69.6h1.7v1.7h-1.7zM400.8 77.2h1.7v1.7h-1.7zM332.0 114.6h1.7v1.7h-1.7zM298.6 135.9h1.7v1.7h-1.7zM303.8 131.1h1.7v1.7h-1.7zM381.8 84.7h1.7v1.7h-1.7zM385.6 86.2h1.7v1.7h-1.7zM315.1 121.3h1.7v1.7h-1.7zM366.1 104.2h1.7v1.7h-1.7zM325.4 124.1h1.7v1.7h-1.7zM337.3 109.9h1.7v1.7h-1.7zM356.5 103.7h1.7v1.7h-1.7zM418.7 59.2h1.7v1.7h-1.7zM308.2 130.8h1.7v1.7h-1.7zM374.3 93.0h1.7v1.7h-1.7zM398.0 77.2h1.7v1.7h-1.7zM350.2 103.5h1.7v1.7h-1.7zM403.0 73.2h1.7v1.7h-1.7zM343.7 108.4h1.7v1.7h-1.7zM304.2 129.7h1.7v1.7h-1.7zM346.0 107.3h1.7v1.7h-1.7zM355.0 102.6h1.7v1.7h-1.7zM363.8 97.2h1.7v1.7h-1.7zM308.8 121.6h1.7v1.7h-1.7zM305.6 125.9h1.7v1.7h-1.7zM314.2 129.0h1.7v1.7h-1.7zM317.7 128.9h1.7v1.7h-1.7zM323.2 119.0h1.7v1.7h-1.7zM365.4 99.1h1.7v1.7h-1.7zM341.4 117.2h1.7v1.7h-1.7zM393.3 74.1h1.7v1.7h-1.7zM396.8 78.5h1.7v1.7h-1.7zM399.5 70.1h1.7v1.7h-1.7zM392.0 81.6h1.7v1.7h-1.7zM444.5 46.9h1.7v1.7h-1.7zM357.3 103.3h1.7v1.7h-1.7zM344.3 109.8h1.7v1.7h-1.7zM347.1 116.8h1.7v1.7h-1.7zM315.6 117.1h1.7v1.7h-1.7zM322.6 116.4h1.7v1.7h-1.7zM420.7 63.9h1.7v1.7h-1.7zM374.9 92.3h1.7v1.7h-1.7zM397.0 74.7h1.7v1.7h-1.7zM398.6 77.2h1.7v1.7h-1.7zM388.1 82.8h1.7v1.7h-1.7zM340.6 113.1h1.7v1.7h-1.7zM306.6 133.1h1.7v1.7h-1.7zM347.1 105.9h1.7v1.7h-1.7zM430.4 57.8h1.7v1.7h-1.7zM315.2 128.7h1.7v1.7h-1.7zM356.2 99.9h1.7v1.7h-1.7zM322.0 125.9h1.7v1.7h-1.7zM385.9 81.2h1.7v1.7h-1.7zM390.7 69.8h1.7v1.7h-1.7zM316.0 121.8h1.7v1.7h-1.7zM367.1 97.9h1.7v1.7h-1.7zM438.3 54.4h1.7v1.7h-1.7zM337.4 112.5h1.7v1.7h-1.7zM352.7 106.2h1.7v1.7h-1.7zM348.2 108.2h1.7v1.7h-1.7zM341.9 114.3h1.7v1.7h-1.7zM352.5 102.7h1.7v1.7h-1.7zM324.4 119.1h1.7v1.7h-1.7zM354.8 101.6h1.7v1.7h-1.7zM348.4 110.3h1.7v1.7h-1.7zM415.2 69.0h1.7v1.7h-1.7zM343.8 102.1h1.7v1.7h-1.7zM404.3 73.3h1.7v1.7h-1.7zM373.4 91.8h1.7v1.7h-1.7zM405.2 74.4h1.7v1.7h-1.7zM415.4 61.9h1.7v1.7h-1.7zM395.3 78.1h1.7v1.7h-1.7zM352.8 101.5h1.7v1.7h-1.7zM369.6 98.6h1.7v1.7h-1.7zM321.7 129.6h1.7v1.7h-1.7zM415.8 66.9h1.7v1.7h-1.7zM391.4 85.9h1.7v1.7h-1.7zM349.8 119.8h1.7v1.7h-1.7zM384.6 84.1h1.7v1.7h-1.7zM366.1 98.8h1.7v1.7h-1.7zM308.8 129.4h1.7v1.7h-1.7zM338.2 117.8h1.7v1.7h-1.7zM307.7 127.5h1.7v1.7h-1.7zM367.5 100.2h1.7v1.7h-1.7zM391.8 77.6h1.7v1.7h-1.7zM320.4 124.8h1.7v1.7h-1.7zM317.9 124.0h1.7v1.7h-1.7zM310.7 123.0h1.7v1.7h-1.7zM355.3 103.4h1.7v1.7h-1.7zM424.7 62.1h1.7v1.7h-1.7zM415.2 65.4h1.7v1.7h-1.7zM367.2 98.5h1.7v1.7h-1.7zM336.9 131.4h1.7v1.7h-1.7zM395.8 73.7h1.7v1.7h-1.7zM299.2 131.6h1.7v1.7h-1.7zM352.7 103.4h1.7v1.7h-1.7zM361.0 101.5h1.7v1.7h-1.7zM436.4 52.3h1.7v1.7h-1.7zM339.4 112.3h1.7v1.7h-1.7zM430.5 55.2h1.7v1.7h-1.7zM344.3 107.7h1.7v1.7h-1.7zM417.8 70.4h1.7v1.7h-1.7zM361.4 111.1h1.7v1.7h-1.7zM337.5 113.4h1.7v1.7h-1.7zM357.3 104.1h1.7v1.7h-1.7zM363.8 86.6h1.7v1.7h-1.7zM345.1 108.7h1.7v1.7h-1.7zM316.1 127.6h1.7v1.7h-1.7zM301.9 133.2h1.7v1.7h-1.7zM358.2 102.3h1.7v1.7h-1.7zM414.1 77.9h1.7v1.7h-1.7zM317.9 133.8h1.7v1.7h-1.7zM330.2 115.8h1.7v1.7h-1.7zM356.5 100.2h1.7v1.7h-1.7zM322.4 123.6h1.7v1.7h-1.7zM347.5 112.5h1.7v1.7h-1.7zM394.5 72.9h1.7v1.7h-1.7zM345.6 109.8h1.7v1.7h-1.7zM385.8 88.1h1.7v1.7h-1.7zM410.7 71.4h1.7v1.7h-1.7zM401.0 71.8h1.7v1.7h-1.7zM342.7 115.1h1.7v1.7h-1.7zM375.3 84.9h1.7v1.7h-1.7zM343.0 117.4h1.7v1.7h-1.7zM380.3 87.8h1.7v1.7h-1.7zM368.1 89.6h1.7v1.7h-1.7zM371.0 91.2h1.7v1.7h-1.7zM331.3 119.8h1.7v1.7h-1.7zM336.2 121.6h1.7v1.7h-1.7zM406.5 73.6h1.7v1.7h-1.7zM383.9 84.5h1.7v1.7h-1.7zM337.1 123.1h1.7v1.7h-1.7zM373.3 87.8h1.7v1.7h-1.7zM312.1 130.6h1.7v1.7h-1.7zM335.5 109.1h1.7v1.7h-1.7zM346.0 103.0h1.7v1.7h-1.7zM361.0 97.3h1.7v1.7h-1.7zM372.0 96.9h1.7v1.7h-1.7zM309.3 129.5h1.7v1.7h-1.7zM349.1 107.5h1.7v1.7h-1.7zM324.9 121.5h1.7v1.7h-1.7zM425.0 56.9h1.7v1.7h-1.7zM307.5 133.9h1.7v1.7h-1.7zM336.2 115.3h1.7v1.7h-1.7zM328.9 121.8h1.7v1.7h-1.7zM317.7 120.1h1.7v1.7h-1.7zM332.5 116.0h1.7v1.7h-1.7zM324.9 115.6h1.7v1.7h-1.7zM361.9 103.7h1.7v1.7h-1.7zM359.8 95.9h1.7v1.7h-1.7zM369.0 99.0h1.7v1.7h-1.7zM442.9 52.3h1.7v1.7h-1.7zM341.2 114.6h1.7v1.7h-1.7zM389.2 86.5h1.7v1.7h-1.7zM369.4 101.8h1.7v1.7h-1.7zM379.9 87.0h1.7v1.7h-1.7zM372.1 91.9h1.7v1.7h-1.7zM306.9 127.1h1.7v1.7h-1.7zM410.7 69.0h1.7v1.7h-1.7zM365.2 98.2h1.7v1.7h-1.7zM424.4 60.5h1.7v1.7h-1.7zM410.7 74.3h1.7v1.7h-1.7zM306.8 130.1h1.7v1.7h-1.7zM331.5 115.1h1.7v1.7h-1.7zM351.0 113.2h1.7v1.7h-1.7zM391.1 77.1h1.7v1.7h-1.7zM320.6 122.3h1.7v1.7h-1.7zM363.5 102.2h1.7v1.7h-1.7zM327.6 120.9h1.7v1.7h-1.7zM342.9 106.5h1.7v1.7h-1.7zM333.5 110.7h1.7v1.7h-1.7zM316.9 116.8h1.7v1.7h-1.7zM398.1 70.9h1.7v1.7h-1.7zM369.7 100.0h1.7v1.7h-1.7zM406.3 71.2h1.7v1.7h-1.7zM322.6 122.5h1.7v1.7h-1.7zM366.4 94.9h1.7v1.7h-1.7zM359.2 98.3h1.7v1.7h-1.7zM398.7 78.1h1.7v1.7h-1.7zM323.4 122.0h1.7v1.7h-1.7zM328.1 117.2h1.7v1.7h-1.7zM343.9 114.7h1.7v1.7h-1.7zM437.9 51.1h1.7v1.7h-1.7zM326.5 117.0h1.7v1.7h-1.7zM355.6 101.1h1.7v1.7h-1.7zM333.2 113.7h1.7v1.7h-1.7zM306.0 132.4h1.7v1.7h-1.7zM389.4 77.0h1.7v1.7h-1.7zM349.4 109.8h1.7v1.7h-1.7zM343.1 104.1h1.7v1.7h-1.7zM397.8 70.9h1.7v1.7h-1.7zM368.0 96.8h1.7v1.7h-1.7zM416.2 66.7h1.7v1.7h-1.7zM322.8 120.7h1.7v1.7h-1.7zM377.5 82.1h1.7v1.7h-1.7zM317.4 131.8h1.7v1.7h-1.7zM377.5 93.5h1.7v1.7h-1.7zM350.2 104.4h1.7v1.7h-1.7zM400.3 79.1h1.7v1.7h-1.7zM341.2 109.9h1.7v1.7h-1.7zM384.9 84.9h1.7v1.7h-1.7zM339.6 110.0h1.7v1.7h-1.7zM311.6 124.6h1.7v1.7h-1.7zM363.8 87.7h1.7v1.7h-1.7zM325.8 118.3h1.7v1.7h-1.7zM379.5 90.7h1.7v1.7h-1.7zM380.8 86.1h1.7v1.7h-1.7zM341.4 114.5h1.7v1.7h-1.7zM321.7 127.4h1.7v1.7h-1.7zM386.2 89.1h1.7v1.7h-1.7zM405.8 75.0h1.7v1.7h-1.7zM410.5 69.3h1.7v1.7h-1.7zM380.5 88.6h1.7v1.7h-1.7zM326.5 118.5h1.7v1.7h-1.7zM392.9 77.0h1.7v1.7h-1.7zM342.9 106.8h1.7v1.7h-1.7zM352.3 119.7h1.7v1.7h-1.7zM330.8 113.8h1.7v1.7h-1.7zM378.8 92.6h1.7v1.7h-1.7zM426.2 63.8h1.7v1.7h-1.7zM341.1 113.2h1.7v1.7h-1.7zM323.7 118.7h1.7v1.7h-1.7zM350.8 109.0h1.7v1.7h-1.7zM324.9 125.5h1.7v1.7h-1.7zM318.3 120.9h1.7v1.7h-1.7zM350.2 104.3h1.7v1.7h-1.7zM348.5 106.7h1.7v1.7h-1.7zM297.5 136.4h1.7v1.7h-1.7zM419.2 66.5h1.7v1.7h-1.7zM437.7 51.3h1.7v1.7h-1.7zM388.3 83.0h1.7v1.7h-1.7zM337.1 117.7h1.7v1.7h-1.7zM365.3 89.7h1.7v1.7h-1.7zM407.8 70.4h1.7v1.7h-1.7zM382.3 88.1h1.7v1.7h-1.7zM425.5 63.9h1.7v1.7h-1.7zM374.9 94.0h1.7v1.7h-1.7zM336.7 109.1h1.7v1.7h-1.7zM333.0 115.5h1.7v1.7h-1.7zM328.5 116.0h1.7v1.7h-1.7zM424.0 62.0h1.7v1.7h-1.7zM341.7 113.7h1.7v1.7h-1.7zM360.5 101.5h1.7v1.7h-1.7zM379.9 88.9h1.7v1.7h-1.7zM304.8 136.7h1.7v1.7h-1.7zM332.4 123.2h1.7v1.7h-1.7zM402.6 76.6h1.7v1.7h-1.7zM347.5 109.4h1.7v1.7h-1.7zM334.8 123.0h1.7v1.7h-1.7zM366.7 95.6h1.7v1.7h-1.7zM326.4 112.8h1.7v1.7h-1.7zM376.3 89.7h1.7v1.7h-1.7zM368.1 93.3h1.7v1.7h-1.7zM399.4 68.2h1.7v1.7h-1.7zM324.8 116.2h1.7v1.7h-1.7zM317.1 123.4h1.7v1.7h-1.7zM371.7 92.3h1.7v1.7h-1.7zM359.9 103.6h1.7v1.7h-1.7zM406.7 73.3h1.7v1.7h-1.7zM412.1 70.1h1.7v1.7h-1.7zM406.0 68.2h1.7v1.7h-1.7zM304.1 133.0h1.7v1.7h-1.7zM375.4 96.9h1.7v1.7h-1.7zM382.9 85.3h1.7v1.7h-1.7zM368.5 95.6h1.7v1.7h-1.7zM329.8 119.2h1.7v1.7h-1.7zM345.3 112.6h1.7v1.7h-1.7zM351.2 107.3h1.7v1.7h-1.7zM319.7 124.4h1.7v1.7h-1.7zM366.3 94.6h1.7v1.7h-1.7zM326.9 112.4h1.7v1.7h-1.7zM327.7 116.3h1.7v1.7h-1.7zM368.6 94.9h1.7v1.7h-1.7zM341.9 111.1h1.7v1.7h-1.7zM386.9 81.7h1.7v1.7h-1.7zM294.7 134.5h1.7v1.7h-1.7zM415.5 67.3h1.7v1.7h-1.7zM373.2 94.6h1.7v1.7h-1.7zM336.6 112.1h1.7v1.7h-1.7zM345.7 108.5h1.7v1.7h-1.7zM395.7 78.2h1.7v1.7h-1.7zM414.7 65.2h1.7v1.7h-1.7zM332.5 118.0h1.7v1.7h-1.7zM367.6 95.1h1.7v1.7h-1.7zM350.6 100.0h1.7v1.7h-1.7zM374.0 98.8h1.7v1.7h-1.7zM379.8 89.5h1.7v1.7h-1.7zM345.4 113.6h1.7v1.7h-1.7zM318.5 123.2h1.7v1.7h-1.7zM316.3 124.7h1.7v1.7h-1.7zM387.6 83.4h1.7v1.7h-1.7zM350.1 108.6h1.7v1.7h-1.7zM387.3 82.9h1.7v1.7h-1.7zM386.5 81.0h1.7v1.7h-1.7zM374.8 93.8h1.7v1.7h-1.7zM322.4 121.7h1.7v1.7h-1.7zM436.1 57.9h1.7v1.7h-1.7zM346.8 106.4h1.7v1.7h-1.7zM422.4 61.3h1.7v1.7h-1.7zM297.4 134.6h1.7v1.7h-1.7zM378.2 82.2h1.7v1.7h-1.7zM399.1 70.2h1.7v1.7h-1.7zM389.4 75.4h1.7v1.7h-1.7zM368.1 94.3h1.7v1.7h-1.7zM443.0 48.8h1.7v1.7h-1.7zM328.0 118.8h1.7v1.7h-1.7zM348.1 116.7h1.7v1.7h-1.7zM329.7 118.4h1.7v1.7h-1.7zM385.4 88.0h1.7v1.7h-1.7zM359.2 104.7h1.7v1.7h-1.7zM380.0 80.2h1.7v1.7h-1.7zM308.7 129.5h1.7v1.7h-1.7zM305.4 126.4h1.7v1.7h-1.7zM312.0 129.4h1.7v1.7h-1.7zM393.2 83.7h1.7v1.7h-1.7zM357.0 109.2h1.7v1.7h-1.7zM307.9 130.4h1.7v1.7h-1.7zM308.2 129.3h1.7v1.7h-1.7zM375.7 85.9h1.7v1.7h-1.7zM323.5 123.4h1.7v1.7h-1.7zM369.9 96.3h1.7v1.7h-1.7zM325.0 119.0h1.7v1.7h-1.7zM402.1 69.8h1.7v1.7h-1.7zM337.7 108.8h1.7v1.7h-1.7zM380.0 86.3h1.7v1.7h-1.7zM334.4 118.5h1.7v1.7h-1.7zM296.3 135.4h1.7v1.7h-1.7zM320.1 117.0h1.7v1.7h-1.7zM382.9 88.9h1.7v1.7h-1.7zM339.5 117.3h1.7v1.7h-1.7zM372.1 94.6h1.7v1.7h-1.7zM322.3 119.8h1.7v1.7h-1.7zM347.1 110.4h1.7v1.7h-1.7zM357.2 102.7h1.7v1.7h-1.7zM378.5 91.0h1.7v1.7h-1.7zM410.6 65.9h1.7v1.7h-1.7zM341.0 117.2h1.7v1.7h-1.7zM332.6 116.4h1.7v1.7h-1.7zM326.6 127.2h1.7v1.7h-1.7zM372.7 85.5h1.7v1.7h-1.7zM368.7 93.1h1.7v1.7h-1.7zM331.1 111.4h1.7v1.7h-1.7zM325.9 119.5h1.7v1.7h-1.7zM313.3 128.1h1.7v1.7h-1.7zM317.2 122.7h1.7v1.7h-1.7zM378.7 89.5h1.7v1.7h-1.7zM381.4 87.8h1.7v1.7h-1.7zM350.9 101.2h1.7v1.7h-1.7zM379.5 88.2h1.7v1.7h-1.7zM356.8 99.6h1.7v1.7h-1.7zM362.4 99.0h1.7v1.7h-1.7zM394.9 76.6h1.7v1.7h-1.7zM352.1 104.1h1.7v1.7h-1.7zM355.7 100.5h1.7v1.7h-1.7zM440.5 51.9h1.7v1.7h-1.7zM434.4 54.6h1.7v1.7h-1.7zM364.5 113.0h1.7v1.7h-1.7zM353.7 97.7h1.7v1.7h-1.7zM299.7 132.9h1.7v1.7h-1.7zM349.5 108.4h1.7v1.7h-1.7zM332.9 118.1h1.7v1.7h-1.7zM348.7 109.4h1.7v1.7h-1.7zM326.8 127.1h1.7v1.7h-1.7zM431.4 54.8h1.7v1.7h-1.7zM326.6 107.1h1.7v1.7h-1.7zM370.4 99.0h1.7v1.7h-1.7zM303.0 129.4h1.7v1.7h-1.7zM346.8 110.0h1.7v1.7h-1.7zM440.5 50.0h1.7v1.7h-1.7zM341.2 120.2h1.7v1.7h-1.7zM311.9 124.6h1.7v1.7h-1.7zM370.7 100.8h1.7v1.7h-1.7zM391.4 82.1h1.7v1.7h-1.7zM304.3 131.5h1.7v1.7h-1.7zM363.6 100.7h1.7v1.7h-1.7zM310.8 125.0h1.7v1.7h-1.7zM380.6 87.8h1.7v1.7h-1.7zM364.2 100.5h1.7v1.7h-1.7zM385.7 83.1h1.7v1.7h-1.7zM415.9 62.5h1.7v1.7h-1.7zM378.7 86.9h1.7v1.7h-1.7zM383.1 85.2h1.7v1.7h-1.7zM348.2 108.1h1.7v1.7h-1.7zM337.4 108.7h1.7v1.7h-1.7zM411.0 69.4h1.7v1.7h-1.7zM335.9 123.2h1.7v1.7h-1.7zM398.0 75.3h1.7v1.7h-1.7zM350.8 113.0h1.7v1.7h-1.7zM300.8 133.3h1.7v1.7h-1.7zM362.1 99.2h1.7v1.7h-1.7zM377.6 85.9h1.7v1.7h-1.7zM302.4 128.7h1.7v1.7h-1.7zM436.2 50.2h1.7v1.7h-1.7zM337.7 113.2h1.7v1.7h-1.7zM349.4 104.0h1.7v1.7h-1.7zM377.0 88.9h1.7v1.7h-1.7zM360.8 114.9h1.7v1.7h-1.7zM350.9 92.3h1.7v1.7h-1.7zM421.3 63.6h1.7v1.7h-1.7zM316.5 125.4h1.7v1.7h-1.7zM374.6 93.1h1.7v1.7h-1.7zM298.7 134.6h1.7v1.7h-1.7zM379.1 88.5h1.7v1.7h-1.7zM376.1 89.3h1.7v1.7h-1.7zM345.0 109.5h1.7v1.7h-1.7zM346.2 102.7h1.7v1.7h-1.7zM360.6 99.1h1.7v1.7h-1.7zM401.3 74.8h1.7v1.7h-1.7zM320.7 122.7h1.7v1.7h-1.7zM344.0 111.5h1.7v1.7h-1.7zM349.8 105.2h1.7v1.7h-1.7zM340.3 108.1h1.7v1.7h-1.7zM331.8 124.4h1.7v1.7h-1.7zM351.4 109.1h1.7v1.7h-1.7zM337.9 117.3h1.7v1.7h-1.7zM362.6 101.5h1.7v1.7h-1.7zM347.3 112.1h1.7v1.7h-1.7zM387.0 90.3h1.7v1.7h-1.7zM388.1 87.5h1.7v1.7h-1.7zM357.5 103.4h1.7v1.7h-1.7zM395.6 79.8h1.7v1.7h-1.7zM354.5 108.8h1.7v1.7h-1.7zM341.5 100.3h1.7v1.7h-1.7zM360.9 101.7h1.7v1.7h-1.7zM390.8 82.4h1.7v1.7h-1.7zM358.5 99.6h1.7v1.7h-1.7zM384.2 83.4h1.7v1.7h-1.7zM338.7 117.9h1.7v1.7h-1.7zM368.6 98.2h1.7v1.7h-1.7zM358.5 102.9h1.7v1.7h-1.7zM368.4 92.6h1.7v1.7h-1.7zM349.3 109.0h1.7v1.7h-1.7zM300.2 133.3h1.7v1.7h-1.7zM311.6 124.9h1.7v1.7h-1.7zM309.7 123.9h1.7v1.7h-1.7zM346.4 113.9h1.7v1.7h-1.7zM342.2 113.8h1.7v1.7h-1.7zM367.5 93.9h1.7v1.7h-1.7zM416.5 73.8h1.7v1.7h-1.7zM346.2 114.8h1.7v1.7h-1.7zM337.2 108.5h1.7v1.7h-1.7zM365.9 93.2h1.7v1.7h-1.7zM354.5 107.1h1.7v1.7h-1.7zM305.9 130.2h1.7v1.7h-1.7zM383.6 87.5h1.7v1.7h-1.7zM341.0 116.7h1.7v1.7h-1.7zM359.0 100.6h1.7v1.7h-1.7zM367.5 98.5h1.7v1.7h-1.7zM410.7 65.3h1.7v1.7h-1.7zM336.6 117.0h1.7v1.7h-1.7zM349.4 116.5h1.7v1.7h-1.7zM395.0 69.5h1.7v1.7h-1.7zM414.8 63.4h1.7v1.7h-1.7zM374.4 93.2h1.7v1.7h-1.7zM386.5 78.5h1.7v1.7h-1.7zM302.9 131.8h1.7v1.7h-1.7zM361.4 103.6h1.7v1.7h-1.7zM336.0 115.3h1.7v1.7h-1.7zM363.9 102.6h1.7v1.7h-1.7zM367.2 97.3h1.7v1.7h-1.7zM343.4 115.4h1.7v1.7h-1.7zM393.3 78.6h1.7v1.7h-1.7zM386.2 82.5h1.7v1.7h-1.7zM308.6 123.8h1.7v1.7h-1.7zM398.0 70.9h1.7v1.7h-1.7zM373.8 92.0h1.7v1.7h-1.7zM391.2 81.0h1.7v1.7h-1.7zM334.4 114.8h1.7v1.7h-1.7zM345.7 102.5h1.7v1.7h-1.7zM375.6 89.4h1.7v1.7h-1.7zM394.7 81.9h1.7v1.7h-1.7zM333.7 116.6h1.7v1.7h-1.7zM369.3 100.5h1.7v1.7h-1.7zM343.0 113.1h1.7v1.7h-1.7zM350.6 106.0h1.7v1.7h-1.7zM353.3 114.7h1.7v1.7h-1.7zM343.7 107.6h1.7v1.7h-1.7zM400.0 70.0h1.7v1.7h-1.7zM389.4 80.0h1.7v1.7h-1.7zM305.0 131.4h1.7v1.7h-1.7zM308.4 131.4h1.7v1.7h-1.7zM311.4 128.6h1.7v1.7h-1.7zM318.7 120.1h1.7v1.7h-1.7zM324.7 129.9h1.7v1.7h-1.7zM322.5 122.8h1.7v1.7h-1.7zM333.9 116.5h1.7v1.7h-1.7zM343.4 109.5h1.7v1.7h-1.7zM376.8 96.3h1.7v1.7h-1.7zM362.2 105.8h1.7v1.7h-1.7zM317.7 121.7h1.7v1.7h-1.7zM370.0 100.0h1.7v1.7h-1.7zM361.7 102.4h1.7v1.7h-1.7zM292.2 137.7h1.7v1.7h-1.7zM395.8 81.9h1.7v1.7h-1.7zM326.1 117.2h1.7v1.7h-1.7zM353.2 106.8h1.7v1.7h-1.7zM355.2 110.0h1.7v1.7h-1.7zM307.8 130.2h1.7v1.7h-1.7zM319.0 119.3h1.7v1.7h-1.7zM321.9 117.6h1.7v1.7h-1.7zM406.3 72.5h1.7v1.7h-1.7zM400.4 72.9h1.7v1.7h-1.7zM397.3 77.2h1.7v1.7h-1.7zM327.8 121.1h1.7v1.7h-1.7zM346.2 107.8h1.7v1.7h-1.7zM358.2 98.7h1.7v1.7h-1.7zM304.4 132.0h1.7v1.7h-1.7zM316.7 135.6h1.7v1.7h-1.7zM351.1 107.0h1.7v1.7h-1.7zM312.6 128.7h1.7v1.7h-1.7zM350.4 110.0h1.7v1.7h-1.7zM357.4 105.3h1.7v1.7h-1.7zM303.2 128.4h1.7v1.7h-1.7zM381.1 89.2h1.7v1.7h-1.7zM342.8 113.9h1.7v1.7h-1.7zM352.1 104.1h1.7v1.7h-1.7zM369.0 98.1h1.7v1.7h-1.7zM394.9 73.7h1.7v1.7h-1.7zM320.5 119.3h1.7v1.7h-1.7zM320.9 119.8h1.7v1.7h-1.7zM364.8 103.8h1.7v1.7h-1.7zM400.0 78.3h1.7v1.7h-1.7zM327.6 119.4h1.7v1.7h-1.7zM349.7 114.6h1.7v1.7h-1.7zM303.3 129.7h1.7v1.7h-1.7zM294.2 138.8h1.7v1.7h-1.7zM409.8 68.5h1.7v1.7h-1.7zM379.2 81.4h1.7v1.7h-1.7zM374.0 95.4h1.7v1.7h-1.7zM308.6 130.1h1.7v1.7h-1.7zM374.5 86.8h1.7v1.7h-1.7zM375.1 90.2h1.7v1.7h-1.7zM337.9 117.9h1.7v1.7h-1.7zM384.0 84.4h1.7v1.7h-1.7zM444.5 48.5h1.7v1.7h-1.7zM328.2 113.0h1.7v1.7h-1.7zM304.8 136.8h1.7v1.7h-1.7zM333.2 115.7h1.7v1.7h-1.7zM371.5 91.6h1.7v1.7h-1.7zM400.8 73.2h1.7v1.7h-1.7zM412.2 66.5h1.7v1.7h-1.7zM385.8 79.0h1.7v1.7h-1.7zM360.9 97.4h1.7v1.7h-1.7zM326.9 119.6h1.7v1.7h-1.7zM336.9 117.6h1.7v1.7h-1.7zM325.1 115.8h1.7v1.7h-1.7zM361.5 102.9h1.7v1.7h-1.7zM312.7 124.9h1.7v1.7h-1.7zM383.2 101.6h1.7v1.7h-1.7zM367.3 100.1h1.7v1.7h-1.7zM383.3 88.7h1.7v1.7h-1.7zM372.4 94.9h1.7v1.7h-1.7zM368.4 98.6h1.7v1.7h-1.7zM338.1 112.4h1.7v1.7h-1.7zM403.2 68.6h1.7v1.7h-1.7zM378.7 94.9h1.7v1.7h-1.7zM315.4 130.2h1.7v1.7h-1.7zM327.5 122.7h1.7v1.7h-1.7zM313.6 123.8h1.7v1.7h-1.7zM369.0 96.3h1.7v1.7h-1.7zM349.2 111.2h1.7v1.7h-1.7zM328.1 118.9h1.7v1.7h-1.7zM371.1 88.1h1.7v1.7h-1.7zM315.0 126.0h1.7v1.7h-1.7zM435.5 51.1h1.7v1.7h-1.7zM417.0 59.3h1.7v1.7h-1.7zM313.3 128.7h1.7v1.7h-1.7zM370.6 83.2h1.7v1.7h-1.7zM363.3 109.1h1.7v1.7h-1.7zM333.3 112.3h1.7v1.7h-1.7zM338.0 112.1h1.7v1.7h-1.7zM417.7 64.7h1.7v1.7h-1.7zM310.6 127.1h1.7v1.7h-1.7zM403.0 72.7h1.7v1.7h-1.7zM352.8 103.6h1.7v1.7h-1.7zM357.5 104.3h1.7v1.7h-1.7zM353.5 102.0h1.7v1.7h-1.7zM383.0 85.9h1.7v1.7h-1.7zM324.6 120.3h1.7v1.7h-1.7zM326.3 118.3h1.7v1.7h-1.7zM315.6 133.1h1.7v1.7h-1.7zM348.3 108.2h1.7v1.7h-1.7zM304.3 129.6h1.7v1.7h-1.7zM424.4 66.8h1.7v1.7h-1.7zM348.6 114.3h1.7v1.7h-1.7zM338.6 115.9h1.7v1.7h-1.7zM408.9 69.4h1.7v1.7h-1.7zM393.2 89.8h1.7v1.7h-1.7zM326.6 120.3h1.7v1.7h-1.7zM311.2 127.6h1.7v1.7h-1.7zM373.6 92.2h1.7v1.7h-1.7zM341.6 115.9h1.7v1.7h-1.7zM388.6 84.7h1.7v1.7h-1.7zM341.5 110.0h1.7v1.7h-1.7zM333.4 108.1h1.7v1.7h-1.7zM349.3 111.3h1.7v1.7h-1.7zM306.3 130.5h1.7v1.7h-1.7zM322.3 124.5h1.7v1.7h-1.7zM319.3 124.2h1.7v1.7h-1.7zM373.4 96.5h1.7v1.7h-1.7zM333.3 118.1h1.7v1.7h-1.7zM385.3 84.7h1.7v1.7h-1.7zM415.1 66.3h1.7v1.7h-1.7zM352.4 99.6h1.7v1.7h-1.7zM324.2 115.2h1.7v1.7h-1.7zM297.8 139.3h1.7v1.7h-1.7zM419.7 61.6h1.7v1.7h-1.7zM316.8 122.8h1.7v1.7h-1.7zM377.5 97.1h1.7v1.7h-1.7zM300.1 133.7h1.7v1.7h-1.7zM405.4 66.1h1.7v1.7h-1.7zM359.5 92.8h1.7v1.7h-1.7zM368.8 90.0h1.7v1.7h-1.7zM363.5 98.5h1.7v1.7h-1.7zM329.2 120.9h1.7v1.7h-1.7zM317.8 125.7h1.7v1.7h-1.7zM388.8 80.7h1.7v1.7h-1.7zM358.4 106.4h1.7v1.7h-1.7zM361.2 90.5h1.7v1.7h-1.7zM315.8 124.4h1.7v1.7h-1.7zM413.8 70.7h1.7v1.7h-1.7zM372.1 104.1h1.7v1.7h-1.7zM345.8 107.5h1.7v1.7h-1.7zM307.3 126.8h1.7v1.7h-1.7zM349.4 109.1h1.7v1.7h-1.7zM429.6 58.5h1.7v1.7h-1.7zM377.9 92.2h1.7v1.7h-1.7zM301.1 134.0h1.7v1.7h-1.7zM376.8 102.1h1.7v1.7h-1.7zM395.4 84.6h1.7v1.7h-1.7zM331.6 122.0h1.7v1.7h-1.7zM390.2 78.4h1.7v1.7h-1.7zM423.5 61.1h1.7v1.7h-1.7zM345.6 111.0h1.7v1.7h-1.7zM314.2 125.9h1.7v1.7h-1.7zM343.3 116.1h1.7v1.7h-1.7zM402.2 78.4h1.7v1.7h-1.7zM349.8 109.3h1.7v1.7h-1.7zM333.9 116.1h1.7v1.7h-1.7zM348.1 112.8h1.7v1.7h-1.7zM388.7 80.2h1.7v1.7h-1.7zM362.7 96.2h1.7v1.7h-1.7zM316.9 123.6h1.7v1.7h-1.7zM337.7 110.3h1.7v1.7h-1.7zM334.2 113.9h1.7v1.7h-1.7zM379.8 79.6h1.7v1.7h-1.7zM357.2 103.8h1.7v1.7h-1.7zM309.2 127.0h1.7v1.7h-1.7zM299.1 135.5h1.7v1.7h-1.7zM343.0 115.4h1.7v1.7h-1.7zM358.7 105.4h1.7v1.7h-1.7zM361.0 95.7h1.7v1.7h-1.7zM342.6 112.6h1.7v1.7h-1.7zM344.3 112.1h1.7v1.7h-1.7zM334.0 111.7h1.7v1.7h-1.7zM320.1 124.6h1.7v1.7h-1.7zM337.7 107.9h1.7v1.7h-1.7zM368.8 90.7h1.7v1.7h-1.7zM334.8 117.1h1.7v1.7h-1.7zM403.1 71.9h1.7v1.7h-1.7zM359.3 110.9h1.7v1.7h-1.7zM321.3 123.0h1.7v1.7h-1.7zM349.5 106.3h1.7v1.7h-1.7zM320.9 123.6h1.7v1.7h-1.7zM318.2 124.2h1.7v1.7h-1.7zM312.7 126.9h1.7v1.7h-1.7zM322.2 118.7h1.7v1.7h-1.7zM324.8 117.4h1.7v1.7h-1.7zM422.5 66.5h1.7v1.7h-1.7zM304.3 129.0h1.7v1.7h-1.7zM348.2 115.3h1.7v1.7h-1.7zM367.9 94.2h1.7v1.7h-1.7zM309.0 133.8h1.7v1.7h-1.7zM338.4 113.9h1.7v1.7h-1.7zM345.2 115.9h1.7v1.7h-1.7zM350.1 108.5h1.7v1.7h-1.7zM371.2 94.8h1.7v1.7h-1.7zM353.2 104.4h1.7v1.7h-1.7zM355.2 106.2h1.7v1.7h-1.7zM333.2 118.5h1.7v1.7h-1.7zM308.6 131.8h1.7v1.7h-1.7zM369.5 95.2h1.7v1.7h-1.7zM357.6 103.7h1.7v1.7h-1.7zM353.5 105.7h1.7v1.7h-1.7zM364.3 91.9h1.7v1.7h-1.7zM410.0 70.3h1.7v1.7h-1.7zM378.5 80.6h1.7v1.7h-1.7zM354.2 105.9h1.7v1.7h-1.7zM325.8 117.6h1.7v1.7h-1.7zM322.2 120.0h1.7v1.7h-1.7zM359.7 102.0h1.7v1.7h-1.7zM379.7 83.9h1.7v1.7h-1.7zM369.5 96.0h1.7v1.7h-1.7zM378.1 100.8h1.7v1.7h-1.7zM311.0 132.8h1.7v1.7h-1.7zM311.3 138.7h1.7v1.7h-1.7zM358.5 107.8h1.7v1.7h-1.7zM380.0 89.8h1.7v1.7h-1.7zM323.4 127.8h1.7v1.7h-1.7zM434.4 54.8h1.7v1.7h-1.7zM351.1 111.1h1.7v1.7h-1.7zM307.3 131.5h1.7v1.7h-1.7zM363.1 101.4h1.7v1.7h-1.7zM446.7 44.4h1.7v1.7h-1.7zM434.2 56.6h1.7v1.7h-1.7zM427.4 64.2h1.7v1.7h-1.7zM349.1 110.0h1.7v1.7h-1.7zM397.2 76.3h1.7v1.7h-1.7zM337.0 115.5h1.7v1.7h-1.7zM394.4 78.0h1.7v1.7h-1.7zM354.6 105.5h1.7v1.7h-1.7zM341.9 109.2h1.7v1.7h-1.7zM305.2 132.9h1.7v1.7h-1.7zM342.3 110.8h1.7v1.7h-1.7zM369.0 95.9h1.7v1.7h-1.7zM324.3 120.4h1.7v1.7h-1.7zM348.3 102.9h1.7v1.7h-1.7zM327.6 124.1h1.7v1.7h-1.7zM320.8 128.4h1.7v1.7h-1.7zM338.6 109.1h1.7v1.7h-1.7zM320.6 131.3h1.7v1.7h-1.7zM364.3 100.2h1.7v1.7h-1.7zM370.0 94.1h1.7v1.7h-1.7zM339.7 114.6h1.7v1.7h-1.7zM311.7 129.2h1.7v1.7h-1.7zM336.1 113.0h1.7v1.7h-1.7zM317.6 125.9h1.7v1.7h-1.7zM365.9 94.0h1.7v1.7h-1.7zM395.2 81.0h1.7v1.7h-1.7zM308.3 127.7h1.7v1.7h-1.7zM346.5 104.3h1.7v1.7h-1.7zM353.5 106.2h1.7v1.7h-1.7zM307.9 126.0h1.7v1.7h-1.7zM435.6 56.2h1.7v1.7h-1.7zM313.6 131.6h1.7v1.7h-1.7zM315.9 122.0h1.7v1.7h-1.7zM308.5 127.9h1.7v1.7h-1.7zM341.3 108.0h1.7v1.7h-1.7zM368.6 92.2h1.7v1.7h-1.7zM357.3 97.1h1.7v1.7h-1.7zM347.1 109.2h1.7v1.7h-1.7zM328.3 113.2h1.7v1.7h-1.7zM388.9 85.2h1.7v1.7h-1.7zM329.8 125.9h1.7v1.7h-1.7zM350.7 100.1h1.7v1.7h-1.7zM368.5 96.8h1.7v1.7h-1.7zM300.8 131.3h1.7v1.7h-1.7zM318.9 115.4h1.7v1.7h-1.7zM349.8 100.6h1.7v1.7h-1.7zM329.8 124.2h1.7v1.7h-1.7zM322.6 121.3h1.7v1.7h-1.7zM422.8 66.4h1.7v1.7h-1.7zM297.5 135.0h1.7v1.7h-1.7zM334.6 118.9h1.7v1.7h-1.7zM321.4 126.0h1.7v1.7h-1.7zM325.5 118.0h1.7v1.7h-1.7zM410.0 73.9h1.7v1.7h-1.7zM340.3 118.1h1.7v1.7h-1.7zM361.7 99.5h1.7v1.7h-1.7zM365.5 99.4h1.7v1.7h-1.7zM402.3 66.9h1.7v1.7h-1.7zM407.5 76.0h1.7v1.7h-1.7zM340.1 106.0h1.7v1.7h-1.7zM367.1 98.2h1.7v1.7h-1.7zM314.0 125.0h1.7v1.7h-1.7zM368.2 95.4h1.7v1.7h-1.7zM329.9 121.2h1.7v1.7h-1.7zM298.2 134.8h1.7v1.7h-1.7zM379.8 92.5h1.7v1.7h-1.7zM441.0 50.4h1.7v1.7h-1.7zM370.7 99.3h1.7v1.7h-1.7zM380.6 84.1h1.7v1.7h-1.7zM409.2 68.0h1.7v1.7h-1.7zM339.3 100.3h1.7v1.7h-1.7zM398.3 80.4h1.7v1.7h-1.7zM354.7 113.7h1.7v1.7h-1.7zM355.3 95.0h1.7v1.7h-1.7zM310.3 125.7h1.7v1.7h-1.7zM332.5 116.2h1.7v1.7h-1.7zM344.3 107.0h1.7v1.7h-1.7zM357.9 108.7h1.7v1.7h-1.7zM329.2 124.4h1.7v1.7h-1.7zM426.4 60.7h1.7v1.7h-1.7zM395.1 79.6h1.7v1.7h-1.7zM318.1 123.5h1.7v1.7h-1.7zM315.7 121.5h1.7v1.7h-1.7zM308.5 124.9h1.7v1.7h-1.7zM324.9 117.6h1.7v1.7h-1.7zM380.2 87.7h1.7v1.7h-1.7zM328.4 122.7h1.7v1.7h-1.7zM363.1 97.8h1.7v1.7h-1.7zM359.0 104.6h1.7v1.7h-1.7zM421.4 68.3h1.7v1.7h-1.7zM349.0 115.9h1.7v1.7h-1.7zM326.6 122.9h1.7v1.7h-1.7zM355.9 108.5h1.7v1.7h-1.7zM341.5 103.1h1.7v1.7h-1.7zM317.4 123.2h1.7v1.7h-1.7zM395.7 79.1h1.7v1.7h-1.7zM338.7 113.8h1.7v1.7h-1.7zM297.8 136.4h1.7v1.7h-1.7zM390.7 88.3h1.7v1.7h-1.7zM389.6 84.0h1.7v1.7h-1.7zM341.7 108.3h1.7v1.7h-1.7zM383.2 84.6h1.7v1.7h-1.7zM354.6 102.0h1.7v1.7h-1.7zM364.0 104.3h1.7v1.7h-1.7zM349.0 110.1h1.7v1.7h-1.7zM316.8 129.1h1.7v1.7h-1.7zM415.3 67.2h1.7v1.7h-1.7zM299.6 128.2h1.7v1.7h-1.7zM303.9 131.0h1.7v1.7h-1.7zM349.2 100.9h1.7v1.7h-1.7zM325.0 115.0h1.7v1.7h-1.7zM390.1 76.4h1.7v1.7h-1.7zM396.7 80.5h1.7v1.7h-1.7zM334.2 114.6h1.7v1.7h-1.7zM313.0 124.0h1.7v1.7h-1.7zM356.8 101.8h1.7v1.7h-1.7zM341.4 112.3h1.7v1.7h-1.7zM436.9 52.8h1.7v1.7h-1.7zM341.4 111.2h1.7v1.7h-1.7zM364.7 97.3h1.7v1.7h-1.7zM420.8 65.4h1.7v1.7h-1.7zM402.8 72.4h1.7v1.7h-1.7zM316.5 130.8h1.7v1.7h-1.7zM347.0 106.1h1.7v1.7h-1.7zM355.7 94.2h1.7v1.7h-1.7zM377.0 83.6h1.7v1.7h-1.7zM394.5 82.5h1.7v1.7h-1.7zM401.0 75.7h1.7v1.7h-1.7zM361.9 103.8h1.7v1.7h-1.7zM385.7 87.2h1.7v1.7h-1.7zM395.0 90.1h1.7v1.7h-1.7zM313.4 125.4h1.7v1.7h-1.7zM429.6 60.7h1.7v1.7h-1.7zM338.5 114.6h1.7v1.7h-1.7zM299.4 133.0h1.7v1.7h-1.7zM333.3 122.1h1.7v1.7h-1.7zM368.4 102.5h1.7v1.7h-1.7zM342.8 105.7h1.7v1.7h-1.7zM362.3 104.8h1.7v1.7h-1.7zM381.9 93.2h1.7v1.7h-1.7zM338.4 109.2h1.7v1.7h-1.7zM323.8 118.3h1.7v1.7h-1.7zM378.3 88.5h1.7v1.7h-1.7zM312.4 126.5h1.7v1.7h-1.7zM407.7 74.1h1.7v1.7h-1.7zM388.2 87.0h1.7v1.7h-1.7zM339.5 108.3h1.7v1.7h-1.7zM352.2 96.6h1.7v1.7h-1.7zM376.3 87.6h1.7v1.7h-1.7zM402.4 75.2h1.7v1.7h-1.7zM429.4 58.9h1.7v1.7h-1.7zM354.1 116.8h1.7v1.7h-1.7zM347.2 114.6h1.7v1.7h-1.7zM308.7 132.6h1.7v1.7h-1.7zM439.9 49.0h1.7v1.7h-1.7zM330.1 122.8h1.7v1.7h-1.7zM325.1 117.0h1.7v1.7h-1.7zM399.9 86.4h1.7v1.7h-1.7zM377.4 93.6h1.7v1.7h-1.7zM352.3 111.8h1.7v1.7h-1.7zM366.5 101.4h1.7v1.7h-1.7zM409.7 71.8h1.7v1.7h-1.7zM352.7 106.4h1.7v1.7h-1.7zM308.8 121.8h1.7v1.7h-1.7zM449.9 43.7h1.7v1.7h-1.7zM423.7 63.3h1.7v1.7h-1.7zM402.8 75.8h1.7v1.7h-1.7zM325.3 119.1h1.7v1.7h-1.7zM333.7 119.8h1.7v1.7h-1.7zM305.7 129.0h1.7v1.7h-1.7zM359.7 97.7h1.7v1.7h-1.7zM409.6 73.4h1.7v1.7h-1.7zM357.8 102.9h1.7v1.7h-1.7zM314.4 124.6h1.7v1.7h-1.7zM318.2 122.9h1.7v1.7h-1.7zM378.2 95.1h1.7v1.7h-1.7zM328.2 119.9h1.7v1.7h-1.7zM379.2 85.9h1.7v1.7h-1.7zM361.5 97.8h1.7v1.7h-1.7zM344.1 104.9h1.7v1.7h-1.7zM348.4 108.5h1.7v1.7h-1.7zM384.8 80.2h1.7v1.7h-1.7zM420.7 62.6h1.7v1.7h-1.7zM321.4 121.3h1.7v1.7h-1.7zM378.4 84.9h1.7v1.7h-1.7zM365.4 97.7h1.7v1.7h-1.7zM328.7 111.9h1.7v1.7h-1.7zM323.6 121.3h1.7v1.7h-1.7zM326.5 124.8h1.7v1.7h-1.7zM416.8 71.0h1.7v1.7h-1.7zM373.5 89.0h1.7v1.7h-1.7zM292.3 137.9h1.7v1.7h-1.7zM346.4 112.1h1.7v1.7h-1.7zM374.8 89.3h1.7v1.7h-1.7zM324.7 115.1h1.7v1.7h-1.7zM347.9 103.8h1.7v1.7h-1.7zM335.2 108.3h1.7v1.7h-1.7zM355.0 96.8h1.7v1.7h-1.7zM312.8 127.9h1.7v1.7h-1.7zM369.2 95.9h1.7v1.7h-1.7zM315.0 123.4h1.7v1.7h-1.7zM353.5 112.3h1.7v1.7h-1.7zM321.6 120.6h1.7v1.7h-1.7zM363.5 106.8h1.7v1.7h-1.7zM310.4 127.4h1.7v1.7h-1.7zM329.4 119.6h1.7v1.7h-1.7zM381.0 86.2h1.7v1.7h-1.7zM314.9 125.3h1.7v1.7h-1.7zM327.4 115.1h1.7v1.7h-1.7zM365.9 93.7h1.7v1.7h-1.7zM360.8 94.3h1.7v1.7h-1.7zM308.9 131.1h1.7v1.7h-1.7zM358.1 106.5h1.7v1.7h-1.7zM409.4 72.5h1.7v1.7h-1.7zM315.0 122.0h1.7v1.7h-1.7zM342.0 117.6h1.7v1.7h-1.7zM304.8 132.0h1.7v1.7h-1.7zM368.7 92.8h1.7v1.7h-1.7zM313.4 126.2h1.7v1.7h-1.7zM342.3 111.4h1.7v1.7h-1.7zM324.2 121.2h1.7v1.7h-1.7zM378.0 74.8h1.7v1.7h-1.7zM324.0 115.3h1.7v1.7h-1.7zM332.9 118.5h1.7v1.7h-1.7zM369.7 97.7h1.7v1.7h-1.7zM312.1 124.7h1.7v1.7h-1.7zM357.0 103.7h1.7v1.7h-1.7zM320.8 125.5h1.7v1.7h-1.7zM323.3 121.2h1.7v1.7h-1.7zM442.7 48.3h1.7v1.7h-1.7zM311.0 123.0h1.7v1.7h-1.7zM330.0 113.4h1.7v1.7h-1.7zM338.0 115.6h1.7v1.7h-1.7zM374.5 92.0h1.7v1.7h-1.7zM325.0 121.4h1.7v1.7h-1.7zM319.0 120.1h1.7v1.7h-1.7zM332.1 107.6h1.7v1.7h-1.7zM364.3 94.7h1.7v1.7h-1.7zM423.2 60.6h1.7v1.7h-1.7zM361.5 98.8h1.7v1.7h-1.7zM297.8 137.7h1.7v1.7h-1.7zM342.5 116.8h1.7v1.7h-1.7zM357.5 106.1h1.7v1.7h-1.7zM384.5 85.4h1.7v1.7h-1.7zM429.8 58.5h1.7v1.7h-1.7zM317.8 123.7h1.7v1.7h-1.7zM385.0 88.6h1.7v1.7h-1.7zM373.9 86.4h1.7v1.7h-1.7zM366.7 101.1h1.7v1.7h-1.7zM357.9 104.8h1.7v1.7h-1.7zM368.8 95.2h1.7v1.7h-1.7zM336.4 108.7h1.7v1.7h-1.7zM309.5 129.6h1.7v1.7h-1.7zM332.0 112.5h1.7v1.7h-1.7zM299.4 130.5h1.7v1.7h-1.7zM381.3 86.7h1.7v1.7h-1.7zM332.0 115.7h1.7v1.7h-1.7zM405.2 72.1h1.7v1.7h-1.7zM358.5 97.1h1.7v1.7h-1.7zM370.6 94.6h1.7v1.7h-1.7zM353.8 112.4h1.7v1.7h-1.7zM393.5 79.3h1.7v1.7h-1.7zM379.6 84.9h1.7v1.7h-1.7zM316.8 122.2h1.7v1.7h-1.7zM372.5 91.0h1.7v1.7h-1.7zM387.3 88.3h1.7v1.7h-1.7zM373.0 94.8h1.7v1.7h-1.7zM387.3 88.2h1.7v1.7h-1.7zM370.8 96.3h1.7v1.7h-1.7zM349.8 114.4h1.7v1.7h-1.7zM311.2 117.2h1.7v1.7h-1.7zM328.0 112.7h1.7v1.7h-1.7zM375.6 91.7h1.7v1.7h-1.7zM334.0 117.5h1.7v1.7h-1.7zM380.4 83.6h1.7v1.7h-1.7zM383.8 84.2h1.7v1.7h-1.7zM439.7 50.3h1.7v1.7h-1.7zM401.1 76.6h1.7v1.7h-1.7zM428.2 56.6h1.7v1.7h-1.7zM328.7 114.1h1.7v1.7h-1.7zM313.6 124.9h1.7v1.7h-1.7zM389.7 79.0h1.7v1.7h-1.7zM336.9 114.7h1.7v1.7h-1.7zM399.4 75.3h1.7v1.7h-1.7zM373.7 95.4h1.7v1.7h-1.7zM431.4 55.3h1.7v1.7h-1.7zM326.7 115.9h1.7v1.7h-1.7zM332.4 113.1h1.7v1.7h-1.7zM370.3 102.9h1.7v1.7h-1.7zM297.0 133.2h1.7v1.7h-1.7zM369.7 100.0h1.7v1.7h-1.7zM357.4 107.7h1.7v1.7h-1.7zM352.1 102.9h1.7v1.7h-1.7zM310.3 130.5h1.7v1.7h-1.7zM377.9 90.9h1.7v1.7h-1.7zM307.1 127.6h1.7v1.7h-1.7zM371.6 88.4h1.7v1.7h-1.7zM382.7 84.9h1.7v1.7h-1.7zM330.0 115.5h1.7v1.7h-1.7zM393.6 76.0h1.7v1.7h-1.7zM329.2 114.5h1.7v1.7h-1.7zM340.5 114.4h1.7v1.7h-1.7zM382.4 80.8h1.7v1.7h-1.7zM396.4 74.1h1.7v1.7h-1.7zM407.3 71.4h1.7v1.7h-1.7zM380.4 92.5h1.7v1.7h-1.7zM301.9 129.3h1.7v1.7h-1.7zM389.0 78.3h1.7v1.7h-1.7zM393.8 83.6h1.7v1.7h-1.7zM403.3 66.7h1.7v1.7h-1.7zM340.0 110.2h1.7v1.7h-1.7zM318.4 128.0h1.7v1.7h-1.7zM386.4 82.9h1.7v1.7h-1.7zM332.4 114.0h1.7v1.7h-1.7zM346.2 109.8h1.7v1.7h-1.7zM400.7 76.8h1.7v1.7h-1.7zM322.2 119.1h1.7v1.7h-1.7zM333.7 115.6h1.7v1.7h-1.7zM337.6 112.1h1.7v1.7h-1.7zM382.4 88.0h1.7v1.7h-1.7zM415.7 67.1h1.7v1.7h-1.7zM320.2 118.1h1.7v1.7h-1.7zM333.6 114.8h1.7v1.7h-1.7zM381.3 87.8h1.7v1.7h-1.7zM326.5 123.4h1.7v1.7h-1.7zM363.4 99.7h1.7v1.7h-1.7zM348.3 105.6h1.7v1.7h-1.7zM388.4 83.0h1.7v1.7h-1.7zM330.6 124.5h1.7v1.7h-1.7zM357.6 108.5h1.7v1.7h-1.7zM361.4 106.7h1.7v1.7h-1.7zM305.2 126.9h1.7v1.7h-1.7zM307.4 135.1h1.7v1.7h-1.7zM324.8 121.8h1.7v1.7h-1.7zM305.3 131.5h1.7v1.7h-1.7zM342.7 111.9h1.7v1.7h-1.7zM359.3 104.7h1.7v1.7h-1.7zM352.8 98.9h1.7v1.7h-1.7zM367.1 101.5h1.7v1.7h-1.7zM359.9 97.0h1.7v1.7h-1.7zM372.7 99.5h1.7v1.7h-1.7zM392.0 81.5h1.7v1.7h-1.7zM301.6 130.6h1.7v1.7h-1.7zM308.0 126.6h1.7v1.7h-1.7zM303.2 130.9h1.7v1.7h-1.7zM357.6 109.6h1.7v1.7h-1.7zM319.9 123.0h1.7v1.7h-1.7zM353.9 106.3h1.7v1.7h-1.7zM331.0 114.1h1.7v1.7h-1.7zM346.1 115.9h1.7v1.7h-1.7zM347.5 108.1h1.7v1.7h-1.7zM361.4 98.8h1.7v1.7h-1.7zM302.0 133.0h1.7v1.7h-1.7zM352.8 104.1h1.7v1.7h-1.7zM334.3 113.7h1.7v1.7h-1.7zM357.7 97.1h1.7v1.7h-1.7zM344.6 98.1h1.7v1.7h-1.7zM300.5 134.1h1.7v1.7h-1.7zM349.7 104.9h1.7v1.7h-1.7zM358.1 105.3h1.7v1.7h-1.7zM393.1 81.1h1.7v1.7h-1.7zM352.8 109.1h1.7v1.7h-1.7zM332.2 118.9h1.7v1.7h-1.7zM302.1 134.8h1.7v1.7h-1.7zM322.3 120.4h1.7v1.7h-1.7zM415.4 65.5h1.7v1.7h-1.7zM356.0 108.6h1.7v1.7h-1.7zM403.1 69.8h1.7v1.7h-1.7zM314.1 123.6h1.7v1.7h-1.7zM321.4 117.9h1.7v1.7h-1.7zM396.0 75.2h1.7v1.7h-1.7zM306.4 133.4h1.7v1.7h-1.7zM351.6 117.3h1.7v1.7h-1.7zM368.3 95.0h1.7v1.7h-1.7zM356.4 98.7h1.7v1.7h-1.7zM368.1 93.9h1.7v1.7h-1.7zM307.7 130.0h1.7v1.7h-1.7zM358.4 109.2h1.7v1.7h-1.7zM358.2 102.4h1.7v1.7h-1.7zM379.6 91.6h1.7v1.7h-1.7zM350.3 110.8h1.7v1.7h-1.7zM338.5 108.1h1.7v1.7h-1.7zM348.2 113.3h1.7v1.7h-1.7zM321.4 126.4h1.7v1.7h-1.7zM380.2 90.0h1.7v1.7h-1.7zM357.0 103.7h1.7v1.7h-1.7zM331.1 121.4h1.7v1.7h-1.7zM370.8 96.9h1.7v1.7h-1.7zM334.8 116.0h1.7v1.7h-1.7zM354.5 107.3h1.7v1.7h-1.7zM434.5 58.0h1.7v1.7h-1.7zM411.8 65.7h1.7v1.7h-1.7zM348.7 107.9h1.7v1.7h-1.7zM332.4 114.7h1.7v1.7h-1.7zM376.2 91.5h1.7v1.7h-1.7zM424.8 61.7h1.7v1.7h-1.7zM392.7 77.5h1.7v1.7h-1.7zM361.6 102.3h1.7v1.7h-1.7zM377.7 89.1h1.7v1.7h-1.7zM443.8 50.0h1.7v1.7h-1.7zM336.8 118.7h1.7v1.7h-1.7zM311.5 127.6h1.7v1.7h-1.7zM376.9 90.5h1.7v1.7h-1.7zM407.7 69.9h1.7v1.7h-1.7zM360.8 98.6h1.7v1.7h-1.7zM335.2 116.9h1.7v1.7h-1.7zM343.8 114.9h1.7v1.7h-1.7zM294.2 133.0h1.7v1.7h-1.7zM376.3 86.9h1.7v1.7h-1.7zM428.3 61.5h1.7v1.7h-1.7zM318.5 132.9h1.7v1.7h-1.7zM362.1 97.5h1.7v1.7h-1.7zM347.6 104.9h1.7v1.7h-1.7zM367.3 92.1h1.7v1.7h-1.7zM423.4 64.5h1.7v1.7h-1.7zM386.7 84.3h1.7v1.7h-1.7zM364.6 99.0h1.7v1.7h-1.7zM302.3 129.8h1.7v1.7h-1.7zM338.7 116.4h1.7v1.7h-1.7zM336.9 112.7h1.7v1.7h-1.7zM375.3 96.3h1.7v1.7h-1.7zM317.4 123.9h1.7v1.7h-1.7zM327.0 121.8h1.7v1.7h-1.7zM314.6 127.8h1.7v1.7h-1.7zM371.2 95.0h1.7v1.7h-1.7zM291.6 138.0h1.7v1.7h-1.7zM341.7 118.8h1.7v1.7h-1.7zM340.0 117.9h1.7v1.7h-1.7zM399.7 72.4h1.7v1.7h-1.7zM307.8 134.2h1.7v1.7h-1.7zM375.9 86.1h1.7v1.7h-1.7zM348.0 113.3h1.7v1.7h-1.7zM335.9 117.5h1.7v1.7h-1.7zM301.1 132.6h1.7v1.7h-1.7zM344.0 107.2h1.7v1.7h-1.7zM424.0 59.0h1.7v1.7h-1.7zM376.0 94.0h1.7v1.7h-1.7zM319.3 121.0h1.7v1.7h-1.7zM316.0 125.4h1.7v1.7h-1.7zM357.6 104.5h1.7v1.7h-1.7zM367.1 92.8h1.7v1.7h-1.7zM408.5 67.2h1.7v1.7h-1.7zM414.4 59.7h1.7v1.7h-1.7zM392.8 78.6h1.7v1.7h-1.7zM316.8 128.2h1.7v1.7h-1.7zM348.1 108.0h1.7v1.7h-1.7zM327.1 117.8h1.7v1.7h-1.7zM363.5 113.3h1.7v1.7h-1.7zM329.5 122.8h1.7v1.7h-1.7zM347.4 112.6h1.7v1.7h-1.7zM402.5 75.2h1.7v1.7h-1.7zM330.6 119.4h1.7v1.7h-1.7zM398.4 79.5h1.7v1.7h-1.7zM363.0 101.6h1.7v1.7h-1.7zM331.2 120.5h1.7v1.7h-1.7zM369.8 96.6h1.7v1.7h-1.7zM369.6 99.6h1.7v1.7h-1.7zM343.4 106.1h1.7v1.7h-1.7zM389.7 78.4h1.7v1.7h-1.7zM379.5 93.7h1.7v1.7h-1.7zM363.8 110.1h1.7v1.7h-1.7zM369.5 92.8h1.7v1.7h-1.7zM386.5 80.4h1.7v1.7h-1.7zM360.1 106.3h1.7v1.7h-1.7zM376.5 89.5h1.7v1.7h-1.7zM350.5 108.1h1.7v1.7h-1.7zM350.7 112.9h1.7v1.7h-1.7zM340.7 117.0h1.7v1.7h-1.7zM339.6 113.6h1.7v1.7h-1.7zM387.3 87.9h1.7v1.7h-1.7zM339.8 106.8h1.7v1.7h-1.7zM359.6 100.2h1.7v1.7h-1.7zM342.3 123.5h1.7v1.7h-1.7zM363.3 103.2h1.7v1.7h-1.7zM314.8 131.0h1.7v1.7h-1.7zM303.1 129.5h1.7v1.7h-1.7zM341.5 119.9h1.7v1.7h-1.7zM329.9 113.0h1.7v1.7h-1.7zM393.1 81.7h1.7v1.7h-1.7zM381.3 88.5h1.7v1.7h-1.7zM392.2 77.4h1.7v1.7h-1.7zM350.2 110.1h1.7v1.7h-1.7zM368.0 85.5h1.7v1.7h-1.7zM377.9 92.3h1.7v1.7h-1.7zM338.3 113.8h1.7v1.7h-1.7zM314.0 124.6h1.7v1.7h-1.7zM423.8 57.7h1.7v1.7h-1.7zM410.4 65.4h1.7v1.7h-1.7zM309.7 125.4h1.7v1.7h-1.7zM320.8 119.0h1.7v1.7h-1.7zM387.5 83.2h1.7v1.7h-1.7zM368.7 90.8h1.7v1.7h-1.7zM382.1 84.1h1.7v1.7h-1.7zM352.0 100.0h1.7v1.7h-1.7zM327.9 125.7h1.7v1.7h-1.7zM322.7 123.0h1.7v1.7h-1.7zM404.3 64.6h1.7v1.7h-1.7zM357.6 106.1h1.7v1.7h-1.7zM356.5 114.5h1.7v1.7h-1.7zM363.4 101.3h1.7v1.7h-1.7zM369.4 97.7h1.7v1.7h-1.7zM333.1 118.1h1.7v1.7h-1.7zM312.2 133.2h1.7v1.7h-1.7zM407.5 77.6h1.7v1.7h-1.7zM321.8 122.9h1.7v1.7h-1.7zM377.4 82.5h1.7v1.7h-1.7zM348.3 108.4h1.7v1.7h-1.7zM337.6 107.7h1.7v1.7h-1.7zM406.6 67.1h1.7v1.7h-1.7zM374.6 95.5h1.7v1.7h-1.7zM379.7 87.6h1.7v1.7h-1.7zM334.3 114.1h1.7v1.7h-1.7zM373.3 94.7h1.7v1.7h-1.7zM340.6 115.8h1.7v1.7h-1.7zM377.4 83.5h1.7v1.7h-1.7zM393.4 84.4h1.7v1.7h-1.7zM312.1 125.0h1.7v1.7h-1.7zM384.3 87.7h1.7v1.7h-1.7zM339.7 111.0h1.7v1.7h-1.7zM301.4 132.0h1.7v1.7h-1.7zM373.4 91.6h1.7v1.7h-1.7zM384.9 88.5h1.7v1.7h-1.7zM327.6 121.7h1.7v1.7h-1.7zM372.3 93.7h1.7v1.7h-1.7zM367.6 101.9h1.7v1.7h-1.7zM359.7 97.2h1.7v1.7h-1.7zM399.6 77.0h1.7v1.7h-1.7zM373.8 87.4h1.7v1.7h-1.7zM359.2 92.1h1.7v1.7h-1.7zM424.5 56.8h1.7v1.7h-1.7zM303.3 133.7h1.7v1.7h-1.7zM367.0 97.4h1.7v1.7h-1.7zM369.1 96.6h1.7v1.7h-1.7zM367.7 93.9h1.7v1.7h-1.7zM380.5 85.1h1.7v1.7h-1.7zM352.3 102.2h1.7v1.7h-1.7zM318.2 123.6h1.7v1.7h-1.7zM365.5 99.6h1.7v1.7h-1.7zM312.0 127.5h1.7v1.7h-1.7zM390.3 81.0h1.7v1.7h-1.7zM373.5 91.9h1.7v1.7h-1.7zM317.1 125.0h1.7v1.7h-1.7zM374.1 94.7h1.7v1.7h-1.7zM325.5 116.7h1.7v1.7h-1.7zM382.5 88.3h1.7v1.7h-1.7zM303.5 134.3h1.7v1.7h-1.7zM299.9 129.7h1.7v1.7h-1.7zM342.4 105.8h1.7v1.7h-1.7zM345.8 108.7h1.7v1.7h-1.7zM343.5 103.0h1.7v1.7h-1.7zM295.3 135.1h1.7v1.7h-1.7zM289.5 138.9h1.7v1.7h-1.7zM349.6 114.4h1.7v1.7h-1.7zM370.2 96.4h1.7v1.7h-1.7zM419.2 68.5h1.7v1.7h-1.7zM382.8 85.1h1.7v1.7h-1.7zM337.6 114.1h1.7v1.7h-1.7zM349.0 107.9h1.7v1.7h-1.7zM377.2 89.1h1.7v1.7h-1.7zM339.3 133.8h1.7v1.7h-1.7zM362.8 105.4h1.7v1.7h-1.7zM343.1 112.7h1.7v1.7h-1.7zM375.6 83.4h1.7v1.7h-1.7zM340.5 111.1h1.7v1.7h-1.7zM315.4 128.7h1.7v1.7h-1.7zM349.0 109.7h1.7v1.7h-1.7zM349.7 107.0h1.7v1.7h-1.7zM357.7 106.9h1.7v1.7h-1.7zM333.9 116.9h1.7v1.7h-1.7zM337.6 111.3h1.7v1.7h-1.7zM381.5 87.9h1.7v1.7h-1.7zM379.0 91.4h1.7v1.7h-1.7zM303.3 133.5h1.7v1.7h-1.7zM355.0 104.6h1.7v1.7h-1.7zM379.6 86.3h1.7v1.7h-1.7zM308.8 128.9h1.7v1.7h-1.7zM348.8 113.2h1.7v1.7h-1.7zM323.2 122.2h1.7v1.7h-1.7zM357.5 108.2h1.7v1.7h-1.7zM346.0 108.6h1.7v1.7h-1.7zM367.4 97.2h1.7v1.7h-1.7zM368.0 96.4h1.7v1.7h-1.7zM310.0 129.7h1.7v1.7h-1.7zM343.3 107.2h1.7v1.7h-1.7zM307.7 136.8h1.7v1.7h-1.7zM416.8 64.9h1.7v1.7h-1.7zM307.5 133.6h1.7v1.7h-1.7zM323.4 126.0h1.7v1.7h-1.7zM316.6 120.8h1.7v1.7h-1.7zM316.6 125.9h1.7v1.7h-1.7zM357.4 106.1h1.7v1.7h-1.7zM329.2 117.8h1.7v1.7h-1.7zM373.7 94.7h1.7v1.7h-1.7zM426.7 57.6h1.7v1.7h-1.7zM388.1 86.2h1.7v1.7h-1.7zM335.0 116.3h1.7v1.7h-1.7zM330.9 116.4h1.7v1.7h-1.7zM319.0 115.5h1.7v1.7h-1.7zM374.5 94.9h1.7v1.7h-1.7zM312.2 123.3h1.7v1.7h-1.7zM437.2 56.1h1.7v1.7h-1.7zM383.1 89.8h1.7v1.7h-1.7zM375.0 81.8h1.7v1.7h-1.7zM415.5 62.2h1.7v1.7h-1.7zM293.5 138.2h1.7v1.7h-1.7zM316.7 129.1h1.7v1.7h-1.7zM351.9 108.0h1.7v1.7h-1.7zM368.9 97.5h1.7v1.7h-1.7zM314.1 127.0h1.7v1.7h-1.7zM356.5 110.9h1.7v1.7h-1.7zM309.1 130.5h1.7v1.7h-1.7zM345.2 105.7h1.7v1.7h-1.7zM317.3 129.1h1.7v1.7h-1.7zM381.9 90.6h1.7v1.7h-1.7zM378.8 88.9h1.7v1.7h-1.7zM387.3 83.0h1.7v1.7h-1.7zM342.3 117.6h1.7v1.7h-1.7zM318.9 127.8h1.7v1.7h-1.7zM376.8 89.5h1.7v1.7h-1.7zM345.7 115.0h1.7v1.7h-1.7zM316.9 122.8h1.7v1.7h-1.7zM299.2 133.1h1.7v1.7h-1.7zM332.1 103.9h1.7v1.7h-1.7zM363.6 97.4h1.7v1.7h-1.7zM351.0 118.0h1.7v1.7h-1.7zM343.5 105.1h1.7v1.7h-1.7zM297.3 131.8h1.7v1.7h-1.7zM356.5 108.2h1.7v1.7h-1.7zM448.0 43.6h1.7v1.7h-1.7zM325.0 123.3h1.7v1.7h-1.7zM381.2 93.4h1.7v1.7h-1.7zM310.1 127.6h1.7v1.7h-1.7zM379.5 84.4h1.7v1.7h-1.7zM348.5 117.3h1.7v1.7h-1.7zM374.7 94.0h1.7v1.7h-1.7zM367.3 103.5h1.7v1.7h-1.7zM339.6 112.6h1.7v1.7h-1.7zM389.3 83.8h1.7v1.7h-1.7zM350.9 105.2h1.7v1.7h-1.7zM433.2 53.0h1.7v1.7h-1.7zM379.4 84.9h1.7v1.7h-1.7zM299.1 131.3h1.7v1.7h-1.7zM378.1 95.3h1.7v1.7h-1.7zM360.7 105.5h1.7v1.7h-1.7zM404.0 73.4h1.7v1.7h-1.7zM363.0 99.8h1.7v1.7h-1.7zM364.2 99.2h1.7v1.7h-1.7zM364.6 109.3h1.7v1.7h-1.7zM327.1 118.9h1.7v1.7h-1.7zM353.0 99.9h1.7v1.7h-1.7zM397.4 76.6h1.7v1.7h-1.7zM320.6 116.6h1.7v1.7h-1.7zM342.4 110.0h1.7v1.7h-1.7zM379.6 85.4h1.7v1.7h-1.7zM398.5 70.6h1.7v1.7h-1.7zM322.6 115.6h1.7v1.7h-1.7zM330.8 117.1h1.7v1.7h-1.7zM376.8 92.0h1.7v1.7h-1.7zM376.9 91.8h1.7v1.7h-1.7zM333.9 112.5h1.7v1.7h-1.7zM317.2 121.7h1.7v1.7h-1.7zM311.2 128.4h1.7v1.7h-1.7zM405.0 75.3h1.7v1.7h-1.7zM420.6 66.1h1.7v1.7h-1.7zM298.6 134.1h1.7v1.7h-1.7zM340.6 109.0h1.7v1.7h-1.7zM332.7 118.8h1.7v1.7h-1.7zM346.7 112.0h1.7v1.7h-1.7zM357.3 101.7h1.7v1.7h-1.7zM350.6 103.5h1.7v1.7h-1.7zM361.0 99.6h1.7v1.7h-1.7zM356.8 108.6h1.7v1.7h-1.7zM357.1 114.0h1.7v1.7h-1.7zM401.3 73.4h1.7v1.7h-1.7zM330.9 117.8h1.7v1.7h-1.7zM323.5 131.8h1.7v1.7h-1.7zM392.0 71.2h1.7v1.7h-1.7zM351.5 105.2h1.7v1.7h-1.7zM312.9 126.5h1.7v1.7h-1.7zM376.0 92.0h1.7v1.7h-1.7zM359.1 96.4h1.7v1.7h-1.7zM373.5 94.2h1.7v1.7h-1.7zM331.2 111.5h1.7v1.7h-1.7zM399.7 78.3h1.7v1.7h-1.7zM323.9 119.9h1.7v1.7h-1.7zM382.5 84.7h1.7v1.7h-1.7zM334.3 121.9h1.7v1.7h-1.7zM395.9 78.0h1.7v1.7h-1.7zM387.1 80.3h1.7v1.7h-1.7zM384.3 88.5h1.7v1.7h-1.7zM373.3 91.7h1.7v1.7h-1.7zM382.2 87.7h1.7v1.7h-1.7zM382.4 91.2h1.7v1.7h-1.7zM375.0 80.8h1.7v1.7h-1.7zM313.6 129.0h1.7v1.7h-1.7zM341.8 115.4h1.7v1.7h-1.7zM395.8 92.2h1.7v1.7h-1.7zM302.1 127.2h1.7v1.7h-1.7zM322.0 124.5h1.7v1.7h-1.7zM388.4 90.2h1.7v1.7h-1.7zM395.1 79.7h1.7v1.7h-1.7zM380.0 88.3h1.7v1.7h-1.7zM370.8 93.5h1.7v1.7h-1.7zM359.9 95.7h1.7v1.7h-1.7zM331.6 121.7h1.7v1.7h-1.7zM341.0 107.6h1.7v1.7h-1.7zM330.7 110.4h1.7v1.7h-1.7zM347.1 112.4h1.7v1.7h-1.7zM361.4 105.4h1.7v1.7h-1.7zM351.9 110.3h1.7v1.7h-1.7zM448.9 44.5h1.7v1.7h-1.7zM389.1 79.0h1.7v1.7h-1.7zM360.7 101.5h1.7v1.7h-1.7zM318.8 122.5h1.7v1.7h-1.7zM330.8 113.9h1.7v1.7h-1.7zM316.1 126.4h1.7v1.7h-1.7zM323.4 117.2h1.7v1.7h-1.7zM342.3 111.1h1.7v1.7h-1.7zM317.8 128.9h1.7v1.7h-1.7zM324.0 120.2h1.7v1.7h-1.7zM434.7 54.2h1.7v1.7h-1.7zM350.9 110.5h1.7v1.7h-1.7zM316.8 120.9h1.7v1.7h-1.7zM395.0 79.5h1.7v1.7h-1.7zM350.7 112.1h1.7v1.7h-1.7zM413.1 69.6h1.7v1.7h-1.7zM367.2 94.7h1.7v1.7h-1.7zM366.8 104.4h1.7v1.7h-1.7zM384.3 83.8h1.7v1.7h-1.7zM309.2 131.1h1.7v1.7h-1.7zM357.2 100.0h1.7v1.7h-1.7zM384.9 81.0h1.7v1.7h-1.7zM301.1 136.4h1.7v1.7h-1.7zM371.4 93.5h1.7v1.7h-1.7zM354.3 104.8h1.7v1.7h-1.7zM324.8 115.5h1.7v1.7h-1.7zM324.7 118.3h1.7v1.7h-1.7zM433.2 58.9h1.7v1.7h-1.7zM401.7 77.2h1.7v1.7h-1.7zM402.3 73.7h1.7v1.7h-1.7zM312.3 121.7h1.7v1.7h-1.7zM371.7 97.0h1.7v1.7h-1.7zM355.8 106.3h1.7v1.7h-1.7zM311.2 131.3h1.7v1.7h-1.7zM380.9 85.9h1.7v1.7h-1.7zM316.4 128.3h1.7v1.7h-1.7zM381.8 84.7h1.7v1.7h-1.7zM320.3 117.8h1.7v1.7h-1.7zM409.8 63.7h1.7v1.7h-1.7zM373.2 95.4h1.7v1.7h-1.7zM352.0 103.8h1.7v1.7h-1.7zM344.9 110.0h1.7v1.7h-1.7zM361.0 95.2h1.7v1.7h-1.7zM308.1 134.0h1.7v1.7h-1.7zM396.7 75.4h1.7v1.7h-1.7zM380.9 80.9h1.7v1.7h-1.7zM387.7 78.4h1.7v1.7h-1.7zM403.7 71.0h1.7v1.7h-1.7zM367.8 100.6h1.7v1.7h-1.7zM364.7 100.9h1.7v1.7h-1.7zM380.1 91.1h1.7v1.7h-1.7zM341.1 109.5h1.7v1.7h-1.7zM398.0 81.5h1.7v1.7h-1.7zM328.4 117.9h1.7v1.7h-1.7zM363.9 103.7h1.7v1.7h-1.7zM359.4 99.3h1.7v1.7h-1.7zM386.1 81.8h1.7v1.7h-1.7zM404.2 69.9h1.7v1.7h-1.7zM337.2 111.6h1.7v1.7h-1.7zM352.1 103.3h1.7v1.7h-1.7zM342.3 113.6h1.7v1.7h-1.7zM333.9 113.8h1.7v1.7h-1.7zM410.2 64.5h1.7v1.7h-1.7zM366.8 95.9h1.7v1.7h-1.7zM379.7 85.5h1.7v1.7h-1.7zM320.0 111.2h1.7v1.7h-1.7zM392.4 80.4h1.7v1.7h-1.7zM383.7 86.0h1.7v1.7h-1.7zM328.4 117.9h1.7v1.7h-1.7zM328.4 128.3h1.7v1.7h-1.7zM358.4 96.9h1.7v1.7h-1.7zM365.0 101.4h1.7v1.7h-1.7zM340.8 113.3h1.7v1.7h-1.7zM402.3 70.5h1.7v1.7h-1.7zM386.0 92.6h1.7v1.7h-1.7zM346.2 105.0h1.7v1.7h-1.7zM311.6 128.1h1.7v1.7h-1.7zM328.4 120.1h1.7v1.7h-1.7zM331.0 115.5h1.7v1.7h-1.7zM365.4 96.1h1.7v1.7h-1.7zM359.3 105.9h1.7v1.7h-1.7zM428.6 61.3h1.7v1.7h-1.7zM358.4 101.0h1.7v1.7h-1.7zM343.9 115.8h1.7v1.7h-1.7zM356.1 106.5h1.7v1.7h-1.7zM379.4 84.0h1.7v1.7h-1.7zM374.0 94.9h1.7v1.7h-1.7zM392.3 79.7h1.7v1.7h-1.7zM343.0 109.6h1.7v1.7h-1.7zM361.1 104.2h1.7v1.7h-1.7zM381.6 89.3h1.7v1.7h-1.7zM313.3 124.5h1.7v1.7h-1.7zM349.9 105.7h1.7v1.7h-1.7zM369.1 98.4h1.7v1.7h-1.7zM386.8 86.2h1.7v1.7h-1.7zM425.6 64.8h1.7v1.7h-1.7zM310.9 127.6h1.7v1.7h-1.7zM421.7 63.1h1.7v1.7h-1.7zM305.6 128.3h1.7v1.7h-1.7zM378.9 95.8h1.7v1.7h-1.7zM309.5 129.4h1.7v1.7h-1.7zM312.7 128.6h1.7v1.7h-1.7zM341.9 121.8h1.7v1.7h-1.7zM388.2 85.3h1.7v1.7h-1.7zM337.5 111.2h1.7v1.7h-1.7zM294.7 135.8h1.7v1.7h-1.7zM354.0 110.2h1.7v1.7h-1.7zM342.2 114.3h1.7v1.7h-1.7zM314.3 124.8h1.7v1.7h-1.7zM294.1 136.4h1.7v1.7h-1.7zM376.8 94.0h1.7v1.7h-1.7zM338.1 109.2h1.7v1.7h-1.7zM336.0 114.2h1.7v1.7h-1.7zM351.4 111.6h1.7v1.7h-1.7zM313.2 130.2h1.7v1.7h-1.7zM376.3 86.6h1.7v1.7h-1.7zM361.6 100.3h1.7v1.7h-1.7zM327.8 119.8h1.7v1.7h-1.7zM364.2 100.7h1.7v1.7h-1.7zM349.0 107.5h1.7v1.7h-1.7zM342.9 106.9h1.7v1.7h-1.7zM350.4 106.7h1.7v1.7h-1.7zM392.8 80.8h1.7v1.7h-1.7zM301.8 132.2h1.7v1.7h-1.7zM303.0 136.0h1.7v1.7h-1.7zM337.6 115.5h1.7v1.7h-1.7zM330.0 120.2h1.7v1.7h-1.7zM348.3 111.2h1.7v1.7h-1.7zM375.7 89.8h1.7v1.7h-1.7zM352.0 110.2h1.7v1.7h-1.7zM338.6 111.5h1.7v1.7h-1.7zM365.4 103.1h1.7v1.7h-1.7zM374.6 96.6h1.7v1.7h-1.7zM414.6 65.5h1.7v1.7h-1.7zM367.3 100.7h1.7v1.7h-1.7zM407.0 69.9h1.7v1.7h-1.7zM304.3 133.2h1.7v1.7h-1.7zM381.0 83.8h1.7v1.7h-1.7zM318.8 124.4h1.7v1.7h-1.7zM328.8 122.9h1.7v1.7h-1.7zM431.9 55.1h1.7v1.7h-1.7zM415.5 60.8h1.7v1.7h-1.7zM339.2 110.3h1.7v1.7h-1.7zM386.9 85.4h1.7v1.7h-1.7zM352.1 106.5h1.7v1.7h-1.7zM321.3 111.5h1.7v1.7h-1.7zM314.0 124.9h1.7v1.7h-1.7zM342.6 109.8h1.7v1.7h-1.7zM334.5 107.9h1.7v1.7h-1.7zM362.2 99.1h1.7v1.7h-1.7zM366.2 97.0h1.7v1.7h-1.7zM426.7 58.5h1.7v1.7h-1.7zM349.0 106.5h1.7v1.7h-1.7zM377.7 94.1h1.7v1.7h-1.7zM377.4 84.5h1.7v1.7h-1.7zM339.9 108.4h1.7v1.7h-1.7zM308.3 132.3h1.7v1.7h-1.7zM365.7 99.7h1.7v1.7h-1.7zM392.9 75.2h1.7v1.7h-1.7zM346.1 111.4h1.7v1.7h-1.7zM322.5 113.0h1.7v1.7h-1.7zM316.6 123.3h1.7v1.7h-1.7zM332.9 119.9h1.7v1.7h-1.7zM439.9 48.3h1.7v1.7h-1.7zM395.5 80.3h1.7v1.7h-1.7zM413.7 67.6h1.7v1.7h-1.7zM327.3 118.2h1.7v1.7h-1.7zM341.2 122.2h1.7v1.7h-1.7zM371.6 97.0h1.7v1.7h-1.7zM321.2 122.6h1.7v1.7h-1.7zM312.5 122.2h1.7v1.7h-1.7zM315.2 121.0h1.7v1.7h-1.7zM351.7 105.4h1.7v1.7h-1.7zM363.1 100.5h1.7v1.7h-1.7zM334.7 119.7h1.7v1.7h-1.7zM380.3 84.3h1.7v1.7h-1.7zM357.0 102.1h1.7v1.7h-1.7zM341.8 113.9h1.7v1.7h-1.7zM329.1 112.3h1.7v1.7h-1.7zM373.7 92.0h1.7v1.7h-1.7zM341.3 115.9h1.7v1.7h-1.7zM392.7 78.6h1.7v1.7h-1.7zM421.3 63.8h1.7v1.7h-1.7zM369.6 96.0h1.7v1.7h-1.7zM377.7 91.1h1.7v1.7h-1.7zM347.5 110.8h1.7v1.7h-1.7zM385.0 84.2h1.7v1.7h-1.7zM334.9 113.7h1.7v1.7h-1.7zM319.0 122.5h1.7v1.7h-1.7zM371.3 96.5h1.7v1.7h-1.7zM369.5 92.4h1.7v1.7h-1.7zM337.6 119.1h1.7v1.7h-1.7zM370.8 85.1h1.7v1.7h-1.7zM405.5 73.7h1.7v1.7h-1.7zM335.8 121.2h1.7v1.7h-1.7zM374.5 92.2h1.7v1.7h-1.7zM352.4 109.1h1.7v1.7h-1.7zM339.6 114.6h1.7v1.7h-1.7zM423.3 76.3h1.7v1.7h-1.7zM368.1 100.5h1.7v1.7h-1.7zM305.0 138.8h1.7v1.7h-1.7zM376.2 86.4h1.7v1.7h-1.7zM389.1 82.6h1.7v1.7h-1.7zM351.6 103.6h1.7v1.7h-1.7zM312.5 126.3h1.7v1.7h-1.7zM378.0 84.6h1.7v1.7h-1.7zM345.0 111.0h1.7v1.7h-1.7zM385.9 78.2h1.7v1.7h-1.7zM342.7 114.8h1.7v1.7h-1.7zM348.3 109.3h1.7v1.7h-1.7zM374.5 94.4h1.7v1.7h-1.7zM330.4 114.9h1.7v1.7h-1.7zM396.6 78.9h1.7v1.7h-1.7zM330.1 126.5h1.7v1.7h-1.7zM394.1 82.2h1.7v1.7h-1.7zM380.2 92.5h1.7v1.7h-1.7zM332.9 119.6h1.7v1.7h-1.7zM372.6 98.3h1.7v1.7h-1.7zM363.7 105.5h1.7v1.7h-1.7zM342.7 109.8h1.7v1.7h-1.7zM358.5 101.8h1.7v1.7h-1.7zM320.7 123.7h1.7v1.7h-1.7zM298.0 138.0h1.7v1.7h-1.7zM425.1 63.2h1.7v1.7h-1.7zM373.0 91.6h1.7v1.7h-1.7zM378.8 93.4h1.7v1.7h-1.7zM339.3 115.6h1.7v1.7h-1.7zM298.7 133.1h1.7v1.7h-1.7zM303.1 130.1h1.7v1.7h-1.7zM335.3 108.5h1.7v1.7h-1.7zM330.1 112.4h1.7v1.7h-1.7zM352.7 103.0h1.7v1.7h-1.7zM332.2 129.1h1.7v1.7h-1.7zM404.5 73.3h1.7v1.7h-1.7zM341.4 116.4h1.7v1.7h-1.7zM337.9 115.1h1.7v1.7h-1.7zM341.5 111.2h1.7v1.7h-1.7zM329.9 123.4h1.7v1.7h-1.7zM314.2 126.2h1.7v1.7h-1.7zM366.2 101.8h1.7v1.7h-1.7zM338.7 116.0h1.7v1.7h-1.7zM344.7 108.3h1.7v1.7h-1.7zM403.8 70.2h1.7v1.7h-1.7zM377.4 92.1h1.7v1.7h-1.7zM408.6 68.3h1.7v1.7h-1.7zM367.4 102.4h1.7v1.7h-1.7zM380.7 85.3h1.7v1.7h-1.7zM377.1 92.4h1.7v1.7h-1.7zM348.5 109.1h1.7v1.7h-1.7zM396.2 77.5h1.7v1.7h-1.7zM339.3 115.3h1.7v1.7h-1.7zM336.7 112.4h1.7v1.7h-1.7zM356.7 101.8h1.7v1.7h-1.7zM361.9 98.8h1.7v1.7h-1.7zM367.0 98.7h1.7v1.7h-1.7zM361.8 102.0h1.7v1.7h-1.7zM310.0 132.0h1.7v1.7h-1.7zM387.9 84.3h1.7v1.7h-1.7zM377.8 92.6h1.7v1.7h-1.7zM412.9 70.8h1.7v1.7h-1.7zM335.5 114.6h1.7v1.7h-1.7zM328.9 122.0h1.7v1.7h-1.7zM377.5 87.8h1.7v1.7h-1.7zM317.9 118.5h1.7v1.7h-1.7zM340.1 101.6h1.7v1.7h-1.7zM425.9 59.8h1.7v1.7h-1.7zM340.7 116.9h1.7v1.7h-1.7zM356.2 102.9h1.7v1.7h-1.7zM347.2 74.9h1.7v1.7h-1.7zM379.0 93.7h1.7v1.7h-1.7zM372.0 99.0h1.7v1.7h-1.7zM341.6 109.1h1.7v1.7h-1.7zM376.4 91.9h1.7v1.7h-1.7zM359.3 108.0h1.7v1.7h-1.7zM342.3 109.2h1.7v1.7h-1.7zM344.7 108.0h1.7v1.7h-1.7zM348.1 110.1h1.7v1.7h-1.7zM348.1 112.1h1.7v1.7h-1.7zM295.3 136.0h1.7v1.7h-1.7zM298.3 135.2h1.7v1.7h-1.7zM324.6 121.5h1.7v1.7h-1.7zM370.7 96.6h1.7v1.7h-1.7zM426.0 61.3h1.7v1.7h-1.7zM294.8 134.6h1.7v1.7h-1.7zM292.9 134.0h1.7v1.7h-1.7zM356.5 102.5h1.7v1.7h-1.7zM388.5 80.1h1.7v1.7h-1.7zM393.2 72.9h1.7v1.7h-1.7zM319.1 132.4h1.7v1.7h-1.7zM336.2 112.1h1.7v1.7h-1.7zM369.5 102.7h1.7v1.7h-1.7zM386.9 81.0h1.7v1.7h-1.7zM393.9 80.1h1.7v1.7h-1.7zM338.8 114.8h1.7v1.7h-1.7zM369.5 97.1h1.7v1.7h-1.7zM361.5 100.7h1.7v1.7h-1.7zM326.8 117.1h1.7v1.7h-1.7zM376.3 90.0h1.7v1.7h-1.7zM319.3 132.4h1.7v1.7h-1.7zM372.2 98.7h1.7v1.7h-1.7zM344.2 108.0h1.7v1.7h-1.7zM383.1 85.6h1.7v1.7h-1.7zM383.5 81.8h1.7v1.7h-1.7zM317.3 129.9h1.7v1.7h-1.7zM358.7 106.2h1.7v1.7h-1.7zM399.6 74.3h1.7v1.7h-1.7zM368.3 92.6h1.7v1.7h-1.7zM347.5 101.6h1.7v1.7h-1.7zM324.6 118.8h1.7v1.7h-1.7zM318.9 120.6h1.7v1.7h-1.7zM356.6 103.0h1.7v1.7h-1.7zM382.2 85.9h1.7v1.7h-1.7zM385.0 76.7h1.7v1.7h-1.7zM387.3 84.1h1.7v1.7h-1.7zM365.4 98.8h1.7v1.7h-1.7zM419.3 67.7h1.7v1.7h-1.7zM359.4 97.4h1.7v1.7h-1.7zM357.1 106.8h1.7v1.7h-1.7zM412.7 74.2h1.7v1.7h-1.7zM384.0 86.8h1.7v1.7h-1.7zM384.5 82.4h1.7v1.7h-1.7zM342.9 108.3h1.7v1.7h-1.7zM359.0 101.9h1.7v1.7h-1.7zM314.9 127.0h1.7v1.7h-1.7zM386.9 85.3h1.7v1.7h-1.7zM331.3 117.1h1.7v1.7h-1.7zM368.4 90.4h1.7v1.7h-1.7zM303.2 130.8h1.7v1.7h-1.7zM339.2 113.2h1.7v1.7h-1.7zM318.2 122.3h1.7v1.7h-1.7zM341.9 113.5h1.7v1.7h-1.7zM366.0 102.8h1.7v1.7h-1.7zM356.6 95.1h1.7v1.7h-1.7zM306.5 131.4h1.7v1.7h-1.7zM355.7 101.6h1.7v1.7h-1.7zM300.1 130.6h1.7v1.7h-1.7zM347.0 108.3h1.7v1.7h-1.7zM382.3 99.5h1.7v1.7h-1.7zM361.0 105.9h1.7v1.7h-1.7zM340.5 111.9h1.7v1.7h-1.7zM367.5 106.1h1.7v1.7h-1.7zM359.9 102.6h1.7v1.7h-1.7zM343.6 112.9h1.7v1.7h-1.7zM343.3 107.3h1.7v1.7h-1.7zM370.5 91.2h1.7v1.7h-1.7zM366.6 92.4h1.7v1.7h-1.7zM365.4 102.5h1.7v1.7h-1.7zM317.5 119.9h1.7v1.7h-1.7zM412.2 72.4h1.7v1.7h-1.7zM395.6 73.6h1.7v1.7h-1.7zM321.8 121.8h1.7v1.7h-1.7zM379.4 89.7h1.7v1.7h-1.7zM342.1 107.3h1.7v1.7h-1.7zM386.0 77.3h1.7v1.7h-1.7zM353.6 101.6h1.7v1.7h-1.7zM365.8 104.8h1.7v1.7h-1.7zM365.2 104.5h1.7v1.7h-1.7zM367.7 87.0h1.7v1.7h-1.7zM363.5 100.2h1.7v1.7h-1.7zM366.5 97.2h1.7v1.7h-1.7zM352.9 110.7h1.7v1.7h-1.7zM355.3 106.3h1.7v1.7h-1.7zM316.9 122.0h1.7v1.7h-1.7zM365.8 107.3h1.7v1.7h-1.7zM343.6 114.2h1.7v1.7h-1.7zM308.2 127.0h1.7v1.7h-1.7zM380.4 92.0h1.7v1.7h-1.7zM369.1 99.3h1.7v1.7h-1.7zM341.0 117.2h1.7v1.7h-1.7zM368.7 92.0h1.7v1.7h-1.7zM440.2 51.3h1.7v1.7h-1.7zM321.4 119.8h1.7v1.7h-1.7zM379.2 87.3h1.7v1.7h-1.7zM444.4 47.0h1.7v1.7h-1.7zM313.6 129.2h1.7v1.7h-1.7zM327.3 111.4h1.7v1.7h-1.7zM336.9 118.3h1.7v1.7h-1.7zM420.9 60.8h1.7v1.7h-1.7zM294.0 137.8h1.7v1.7h-1.7zM356.9 103.7h1.7v1.7h-1.7zM329.0 119.0h1.7v1.7h-1.7zM319.5 125.7h1.7v1.7h-1.7zM294.9 135.6h1.7v1.7h-1.7zM344.3 117.6h1.7v1.7h-1.7zM334.6 113.9h1.7v1.7h-1.7zM339.7 114.7h1.7v1.7h-1.7zM382.3 86.2h1.7v1.7h-1.7zM346.1 107.3h1.7v1.7h-1.7zM342.1 103.2h1.7v1.7h-1.7zM356.4 97.9h1.7v1.7h-1.7zM352.1 104.3h1.7v1.7h-1.7zM373.4 90.9h1.7v1.7h-1.7zM363.3 105.1h1.7v1.7h-1.7zM346.4 105.9h1.7v1.7h-1.7zM442.3 50.2h1.7v1.7h-1.7zM421.6 69.9h1.7v1.7h-1.7zM367.6 93.8h1.7v1.7h-1.7zM384.5 86.7h1.7v1.7h-1.7zM322.8 123.8h1.7v1.7h-1.7zM412.1 68.5h1.7v1.7h-1.7zM396.7 78.0h1.7v1.7h-1.7zM356.8 106.8h1.7v1.7h-1.7zM327.2 127.5h1.7v1.7h-1.7zM357.7 101.0h1.7v1.7h-1.7zM376.8 92.0h1.7v1.7h-1.7zM357.7 104.4h1.7v1.7h-1.7zM359.4 110.8h1.7v1.7h-1.7zM343.9 117.0h1.7v1.7h-1.7zM366.0 106.2h1.7v1.7h-1.7zM383.2 88.1h1.7v1.7h-1.7zM387.0 85.0h1.7v1.7h-1.7zM325.2 120.1h1.7v1.7h-1.7zM389.4 81.0h1.7v1.7h-1.7zM366.8 92.1h1.7v1.7h-1.7zM338.9 115.0h1.7v1.7h-1.7zM394.3 81.5h1.7v1.7h-1.7zM326.6 120.3h1.7v1.7h-1.7zM317.9 119.3h1.7v1.7h-1.7zM379.4 90.4h1.7v1.7h-1.7zM430.3 64.1h1.7v1.7h-1.7zM336.8 114.3h1.7v1.7h-1.7zM354.3 97.6h1.7v1.7h-1.7zM338.5 118.8h1.7v1.7h-1.7zM365.2 95.3h1.7v1.7h-1.7zM393.3 80.1h1.7v1.7h-1.7zM398.1 77.5h1.7v1.7h-1.7zM369.1 94.2h1.7v1.7h-1.7zM372.4 90.2h1.7v1.7h-1.7zM338.2 115.0h1.7v1.7h-1.7zM344.9 106.2h1.7v1.7h-1.7zM305.5 131.6h1.7v1.7h-1.7zM319.8 124.8h1.7v1.7h-1.7zM325.2 116.0h1.7v1.7h-1.7zM365.0 102.1h1.7v1.7h-1.7zM368.0 92.3h1.7v1.7h-1.7zM302.2 132.7h1.7v1.7h-1.7zM330.7 111.9h1.7v1.7h-1.7zM372.5 89.1h1.7v1.7h-1.7zM391.2 79.4h1.7v1.7h-1.7zM370.9 95.9h1.7v1.7h-1.7zM356.2 107.3h1.7v1.7h-1.7zM303.9 132.9h1.7v1.7h-1.7zM352.7 103.4h1.7v1.7h-1.7zM444.7 47.0h1.7v1.7h-1.7zM320.6 114.0h1.7v1.7h-1.7zM328.1 124.3h1.7v1.7h-1.7zM383.1 86.1h1.7v1.7h-1.7zM382.0 86.3h1.7v1.7h-1.7zM385.4 83.7h1.7v1.7h-1.7zM347.4 102.0h1.7v1.7h-1.7zM301.9 133.8h1.7v1.7h-1.7zM383.1 86.7h1.7v1.7h-1.7zM405.4 71.9h1.7v1.7h-1.7zM359.1 106.8h1.7v1.7h-1.7zM345.5 109.7h1.7v1.7h-1.7zM315.7 123.9h1.7v1.7h-1.7zM332.7 120.5h1.7v1.7h-1.7zM357.2 103.0h1.7v1.7h-1.7zM380.0 85.1h1.7v1.7h-1.7zM313.5 113.7h1.7v1.7h-1.7zM352.6 104.9h1.7v1.7h-1.7zM300.8 130.5h1.7v1.7h-1.7zM356.6 100.1h1.7v1.7h-1.7zM354.2 107.4h1.7v1.7h-1.7zM351.9 100.7h1.7v1.7h-1.7zM330.1 117.1h1.7v1.7h-1.7zM316.9 125.0h1.7v1.7h-1.7zM397.7 80.0h1.7v1.7h-1.7zM413.7 67.5h1.7v1.7h-1.7zM357.3 102.8h1.7v1.7h-1.7zM416.4 71.7h1.7v1.7h-1.7zM345.4 120.9h1.7v1.7h-1.7zM343.9 112.0h1.7v1.7h-1.7zM339.5 110.0h1.7v1.7h-1.7zM312.2 129.0h1.7v1.7h-1.7zM338.1 109.5h1.7v1.7h-1.7zM345.8 115.0h1.7v1.7h-1.7zM373.2 93.9h1.7v1.7h-1.7zM336.8 111.1h1.7v1.7h-1.7zM343.6 118.3h1.7v1.7h-1.7zM377.2 84.8h1.7v1.7h-1.7zM353.2 110.3h1.7v1.7h-1.7zM364.5 98.3h1.7v1.7h-1.7zM347.2 107.4h1.7v1.7h-1.7zM323.9 115.4h1.7v1.7h-1.7zM344.6 103.3h1.7v1.7h-1.7zM358.9 103.8h1.7v1.7h-1.7zM393.9 76.0h1.7v1.7h-1.7zM339.9 121.0h1.7v1.7h-1.7zM318.3 123.9h1.7v1.7h-1.7zM302.4 132.8h1.7v1.7h-1.7zM429.0 62.9h1.7v1.7h-1.7zM364.1 93.4h1.7v1.7h-1.7zM387.5 84.1h1.7v1.7h-1.7zM386.7 82.3h1.7v1.7h-1.7zM358.6 105.7h1.7v1.7h-1.7zM323.9 120.1h1.7v1.7h-1.7zM352.6 104.6h1.7v1.7h-1.7zM312.4 122.6h1.7v1.7h-1.7zM358.7 102.2h1.7v1.7h-1.7zM407.1 66.8h1.7v1.7h-1.7zM346.5 112.1h1.7v1.7h-1.7zM352.9 85.0h1.7v1.7h-1.7zM327.6 122.2h1.7v1.7h-1.7zM387.2 85.2h1.7v1.7h-1.7zM400.4 75.3h1.7v1.7h-1.7zM359.1 101.5h1.7v1.7h-1.7zM345.2 117.4h1.7v1.7h-1.7zM318.7 126.2h1.7v1.7h-1.7zM366.5 101.2h1.7v1.7h-1.7zM323.1 119.7h1.7v1.7h-1.7zM335.2 116.8h1.7v1.7h-1.7zM338.8 113.2h1.7v1.7h-1.7zM330.3 115.6h1.7v1.7h-1.7zM370.8 98.8h1.7v1.7h-1.7zM365.4 93.8h1.7v1.7h-1.7zM391.6 79.8h1.7v1.7h-1.7zM379.2 84.0h1.7v1.7h-1.7zM383.9 79.2h1.7v1.7h-1.7zM329.7 122.1h1.7v1.7h-1.7zM361.5 103.9h1.7v1.7h-1.7zM390.6 82.3h1.7v1.7h-1.7zM361.7 96.7h1.7v1.7h-1.7zM332.6 116.3h1.7v1.7h-1.7zM374.9 94.1h1.7v1.7h-1.7zM340.1 105.4h1.7v1.7h-1.7zM365.4 104.2h1.7v1.7h-1.7zM388.4 84.0h1.7v1.7h-1.7zM355.8 111.6h1.7v1.7h-1.7zM351.0 103.9h1.7v1.7h-1.7zM351.8 114.1h1.7v1.7h-1.7zM366.8 98.3h1.7v1.7h-1.7zM405.9 73.0h1.7v1.7h-1.7zM352.9 109.8h1.7v1.7h-1.7zM366.2 107.2h1.7v1.7h-1.7zM371.9 97.7h1.7v1.7h-1.7zM381.8 93.5h1.7v1.7h-1.7zM312.5 127.6h1.7v1.7h-1.7zM360.6 104.6h1.7v1.7h-1.7zM315.4 128.5h1.7v1.7h-1.7zM302.7 128.3h1.7v1.7h-1.7zM321.4 123.0h1.7v1.7h-1.7zM429.8 58.3h1.7v1.7h-1.7zM362.8 105.1h1.7v1.7h-1.7zM382.1 92.5h1.7v1.7h-1.7zM361.0 104.3h1.7v1.7h-1.7zM365.3 100.3h1.7v1.7h-1.7zM339.4 113.8h1.7v1.7h-1.7zM368.7 96.8h1.7v1.7h-1.7zM332.1 111.6h1.7v1.7h-1.7zM358.4 102.4h1.7v1.7h-1.7zM355.6 101.6h1.7v1.7h-1.7zM358.5 98.0h1.7v1.7h-1.7zM316.9 128.1h1.7v1.7h-1.7zM356.5 100.8h1.7v1.7h-1.7zM332.6 112.6h1.7v1.7h-1.7zM302.0 123.6h1.7v1.7h-1.7zM378.2 93.4h1.7v1.7h-1.7zM317.8 128.8h1.7v1.7h-1.7zM415.7 67.5h1.7v1.7h-1.7zM355.9 103.5h1.7v1.7h-1.7zM340.2 116.9h1.7v1.7h-1.7zM302.8 133.1h1.7v1.7h-1.7zM298.5 134.3h1.7v1.7h-1.7zM369.8 96.7h1.7v1.7h-1.7zM373.5 86.6h1.7v1.7h-1.7zM339.8 114.2h1.7v1.7h-1.7zM392.5 78.8h1.7v1.7h-1.7zM335.2 114.4h1.7v1.7h-1.7zM356.5 103.9h1.7v1.7h-1.7zM318.0 119.8h1.7v1.7h-1.7zM338.6 114.7h1.7v1.7h-1.7zM373.3 95.2h1.7v1.7h-1.7zM346.6 101.4h1.7v1.7h-1.7zM331.2 111.4h1.7v1.7h-1.7zM353.2 111.8h1.7v1.7h-1.7zM389.7 77.0h1.7v1.7h-1.7zM360.2 104.9h1.7v1.7h-1.7zM330.0 120.7h1.7v1.7h-1.7zM399.7 81.4h1.7v1.7h-1.7zM316.7 123.0h1.7v1.7h-1.7zM376.8 87.4h1.7v1.7h-1.7zM348.4 106.0h1.7v1.7h-1.7zM356.2 98.7h1.7v1.7h-1.7zM331.7 104.6h1.7v1.7h-1.7zM331.8 112.6h1.7v1.7h-1.7zM319.5 121.5h1.7v1.7h-1.7zM358.8 101.2h1.7v1.7h-1.7zM374.8 94.3h1.7v1.7h-1.7zM296.9 136.7h1.7v1.7h-1.7zM334.9 115.5h1.7v1.7h-1.7zM350.3 93.8h1.7v1.7h-1.7zM422.2 63.9h1.7v1.7h-1.7zM352.6 105.5h1.7v1.7h-1.7zM357.0 89.5h1.7v1.7h-1.7zM357.1 101.8h1.7v1.7h-1.7zM321.5 119.4h1.7v1.7h-1.7zM357.9 103.4h1.7v1.7h-1.7zM322.0 122.8h1.7v1.7h-1.7zM383.1 91.7h1.7v1.7h-1.7zM380.7 85.2h1.7v1.7h-1.7zM380.0 88.9h1.7v1.7h-1.7zM327.4 114.9h1.7v1.7h-1.7zM346.8 104.9h1.7v1.7h-1.7zM313.2 123.0h1.7v1.7h-1.7zM360.7 101.5h1.7v1.7h-1.7zM324.8 123.6h1.7v1.7h-1.7zM386.2 82.9h1.7v1.7h-1.7zM357.0 109.3h1.7v1.7h-1.7zM326.3 118.9h1.7v1.7h-1.7zM360.7 108.2h1.7v1.7h-1.7zM344.5 109.5h1.7v1.7h-1.7zM367.9 96.9h1.7v1.7h-1.7zM400.5 80.3h1.7v1.7h-1.7zM302.3 127.0h1.7v1.7h-1.7zM333.0 118.6h1.7v1.7h-1.7zM396.0 72.6h1.7v1.7h-1.7zM316.4 124.3h1.7v1.7h-1.7zM359.0 109.5h1.7v1.7h-1.7zM417.0 71.7h1.7v1.7h-1.7zM324.9 122.9h1.7v1.7h-1.7zM401.5 75.0h1.7v1.7h-1.7zM329.6 116.7h1.7v1.7h-1.7zM360.5 99.2h1.7v1.7h-1.7zM369.7 95.9h1.7v1.7h-1.7zM310.6 128.5h1.7v1.7h-1.7zM391.3 89.1h1.7v1.7h-1.7zM387.3 80.5h1.7v1.7h-1.7zM302.1 129.8h1.7v1.7h-1.7zM351.6 111.2h1.7v1.7h-1.7zM409.5 71.8h1.7v1.7h-1.7zM338.9 111.9h1.7v1.7h-1.7zM347.5 108.5h1.7v1.7h-1.7zM336.3 116.7h1.7v1.7h-1.7zM309.6 127.1h1.7v1.7h-1.7zM313.6 124.7h1.7v1.7h-1.7zM370.0 96.4h1.7v1.7h-1.7zM331.5 119.4h1.7v1.7h-1.7zM418.3 62.2h1.7v1.7h-1.7zM399.9 74.0h1.7v1.7h-1.7zM375.4 93.2h1.7v1.7h-1.7zM353.5 92.5h1.7v1.7h-1.7zM377.5 88.7h1.7v1.7h-1.7zM296.3 139.4h1.7v1.7h-1.7zM414.9 64.3h1.7v1.7h-1.7zM427.8 60.6h1.7v1.7h-1.7zM362.7 109.6h1.7v1.7h-1.7zM359.8 104.9h1.7v1.7h-1.7zM376.6 86.8h1.7v1.7h-1.7zM291.3 142.9h1.7v1.7h-1.7zM371.8 97.0h1.7v1.7h-1.7zM342.6 115.7h1.7v1.7h-1.7zM294.8 137.2h1.7v1.7h-1.7zM348.0 106.0h1.7v1.7h-1.7zM407.1 70.5h1.7v1.7h-1.7zM362.5 99.9h1.7v1.7h-1.7zM332.1 123.2h1.7v1.7h-1.7zM351.9 111.7h1.7v1.7h-1.7zM387.2 82.5h1.7v1.7h-1.7zM318.5 124.7h1.7v1.7h-1.7zM419.6 65.7h1.7v1.7h-1.7zM318.8 127.8h1.7v1.7h-1.7zM316.3 128.0h1.7v1.7h-1.7zM301.9 129.3h1.7v1.7h-1.7zM398.1 80.3h1.7v1.7h-1.7zM364.1 95.3h1.7v1.7h-1.7zM366.7 96.3h1.7v1.7h-1.7zM344.7 104.9h1.7v1.7h-1.7zM315.3 124.7h1.7v1.7h-1.7zM340.4 118.4h1.7v1.7h-1.7zM321.4 122.3h1.7v1.7h-1.7zM360.0 106.3h1.7v1.7h-1.7zM368.8 100.2h1.7v1.7h-1.7zM357.9 102.7h1.7v1.7h-1.7zM342.5 109.7h1.7v1.7h-1.7zM330.8 121.9h1.7v1.7h-1.7zM369.6 98.4h1.7v1.7h-1.7zM323.8 124.2h1.7v1.7h-1.7zM410.9 72.8h1.7v1.7h-1.7zM351.8 106.0h1.7v1.7h-1.7zM357.4 101.2h1.7v1.7h-1.7zM391.3 81.6h1.7v1.7h-1.7zM314.6 124.7h1.7v1.7h-1.7zM407.7 68.9h1.7v1.7h-1.7zM400.7 72.1h1.7v1.7h-1.7zM343.9 110.6h1.7v1.7h-1.7zM320.8 121.5h1.7v1.7h-1.7zM382.4 89.6h1.7v1.7h-1.7zM304.1 132.7h1.7v1.7h-1.7zM377.6 94.1h1.7v1.7h-1.7zM373.4 94.0h1.7v1.7h-1.7zM317.4 125.3h1.7v1.7h-1.7zM292.4 139.0h1.7v1.7h-1.7zM316.0 126.0h1.7v1.7h-1.7zM374.2 93.5h1.7v1.7h-1.7zM347.4 107.1h1.7v1.7h-1.7zM424.8 61.6h1.7v1.7h-1.7zM317.3 120.5h1.7v1.7h-1.7zM418.6 67.6h1.7v1.7h-1.7zM422.1 63.0h1.7v1.7h-1.7zM335.5 116.9h1.7v1.7h-1.7zM307.7 121.9h1.7v1.7h-1.7zM387.0 80.4h1.7v1.7h-1.7zM368.8 94.1h1.7v1.7h-1.7zM372.2 78.7h1.7v1.7h-1.7zM322.0 125.2h1.7v1.7h-1.7zM307.5 133.0h1.7v1.7h-1.7zM333.1 116.2h1.7v1.7h-1.7zM395.3 81.7h1.7v1.7h-1.7zM296.7 131.2h1.7v1.7h-1.7zM385.9 80.8h1.7v1.7h-1.7zM323.9 124.3h1.7v1.7h-1.7zM333.7 121.2h1.7v1.7h-1.7zM360.9 101.3h1.7v1.7h-1.7zM399.3 77.1h1.7v1.7h-1.7zM356.6 104.7h1.7v1.7h-1.7zM356.6 102.5h1.7v1.7h-1.7zM378.6 87.1h1.7v1.7h-1.7zM372.0 86.5h1.7v1.7h-1.7zM391.0 80.6h1.7v1.7h-1.7zM336.0 113.1h1.7v1.7h-1.7zM416.1 68.6h1.7v1.7h-1.7zM423.8 57.2h1.7v1.7h-1.7zM374.9 91.4h1.7v1.7h-1.7zM306.4 127.6h1.7v1.7h-1.7zM343.6 108.4h1.7v1.7h-1.7zM382.5 85.3h1.7v1.7h-1.7zM326.7 129.4h1.7v1.7h-1.7zM352.4 113.4h1.7v1.7h-1.7zM336.4 106.6h1.7v1.7h-1.7zM320.0 126.2h1.7v1.7h-1.7zM359.8 96.1h1.7v1.7h-1.7zM339.7 108.7h1.7v1.7h-1.7zM387.5 80.1h1.7v1.7h-1.7zM312.4 123.4h1.7v1.7h-1.7zM401.4 77.8h1.7v1.7h-1.7zM343.8 117.1h1.7v1.7h-1.7zM376.8 83.7h1.7v1.7h-1.7zM328.6 120.2h1.7v1.7h-1.7zM310.7 130.3h1.7v1.7h-1.7zM308.1 128.0h1.7v1.7h-1.7zM330.8 115.6h1.7v1.7h-1.7zM326.3 118.2h1.7v1.7h-1.7zM366.2 97.0h1.7v1.7h-1.7zM364.7 95.6h1.7v1.7h-1.7zM402.0 73.4h1.7v1.7h-1.7zM364.8 99.6h1.7v1.7h-1.7zM360.6 102.6h1.7v1.7h-1.7zM329.1 113.8h1.7v1.7h-1.7zM302.0 133.8h1.7v1.7h-1.7zM363.4 89.5h1.7v1.7h-1.7zM321.6 119.6h1.7v1.7h-1.7zM443.0 46.4h1.7v1.7h-1.7zM371.0 87.5h1.7v1.7h-1.7zM305.3 130.9h1.7v1.7h-1.7zM347.6 105.8h1.7v1.7h-1.7zM311.6 131.3h1.7v1.7h-1.7zM290.2 138.9h1.7v1.7h-1.7zM345.5 113.3h1.7v1.7h-1.7zM410.2 66.7h1.7v1.7h-1.7z" fill="#000"/>
<path d="M287.1 36.9H284.1M287.1 36.199999999999996V149.70000000000002M284.1 145.9H459.3V149.70000000000002" stroke="#000" stroke-width="1.6" fill="none"/>
<path d="M284.1 73.2H287.1" stroke="#000" stroke-width="1.6"/>
<path d="M284.1 109.5H287.1" stroke="#000" stroke-width="1.6"/>
<path d="M344.5 145.9V149.70000000000002" stroke="#000" stroke-width="1.6"/>
<path d="M401.9 145.9V149.70000000000002" stroke="#000" stroke-width="1.6"/>
<text x="280.6" y="44.5" font-size="13" text-anchor="end">10<tspan font-size="9" dy="-4.6">9</tspan></text>
<text x="280.6" y="80.8" font-size="13" text-anchor="end">10<tspan font-size="9" dy="-4.6">7</tspan></text>
<text x="280.6" y="117.1" font-size="13" text-anchor="end">10<tspan font-size="9" dy="-4.6">5</tspan></text>
<text x="286.5" y="166.3" font-size="13" text-anchor="middle">10<tspan font-size="9" dy="-4.6">3</tspan></text>
<text x="343.9" y="166.3" font-size="13" text-anchor="middle">10<tspan font-size="9" dy="-4.6">5</tspan></text>
<text x="401.3" y="166.3" font-size="13" text-anchor="middle">10<tspan font-size="9" dy="-4.6">7</tspan></text>
<text x="458.7" y="166.3" font-size="13" text-anchor="middle">10<tspan font-size="9" dy="-4.6">9</tspan></text>
<text x="378.5" y="28.5" font-size="13" text-anchor="middle" font-weight="normal" >AD vs AD</text>
<text x="371.6" y="179.8" font-size="13" text-anchor="middle" font-weight="normal" >AD3 TMT reporter intensity</text>
<text transform="translate(256.6 101.75) rotate(-90)" font-size="13" text-anchor="middle">AD6 TMT reporter intensity</text>
<text x="450.6" y="131" font-size="13" text-anchor="end" font-weight="normal" >R = 0.91</text>
<path d="M574.1 117.7h1.7v1.7h-1.7zM575.5 123.3h1.7v1.7h-1.7zM564.7 125.3h1.7v1.7h-1.7zM649.4 68.0h1.7v1.7h-1.7zM591.1 106.7h1.7v1.7h-1.7zM608.5 74.2h1.7v1.7h-1.7zM560.5 116.3h1.7v1.7h-1.7zM602.8 103.7h1.7v1.7h-1.7zM579.4 119.1h1.7v1.7h-1.7zM631.6 76.6h1.7v1.7h-1.7zM591.9 110.7h1.7v1.7h-1.7zM607.9 95.0h1.7v1.7h-1.7zM554.9 130.7h1.7v1.7h-1.7zM623.3 103.3h1.7v1.7h-1.7zM560.7 131.0h1.7v1.7h-1.7zM609.8 95.4h1.7v1.7h-1.7zM619.8 79.9h1.7v1.7h-1.7zM599.2 94.2h1.7v1.7h-1.7zM590.1 112.6h1.7v1.7h-1.7zM619.7 81.5h1.7v1.7h-1.7zM590.1 120.9h1.7v1.7h-1.7zM589.7 117.6h1.7v1.7h-1.7zM599.5 118.1h1.7v1.7h-1.7zM623.2 86.0h1.7v1.7h-1.7zM584.2 116.6h1.7v1.7h-1.7zM614.3 97.7h1.7v1.7h-1.7zM602.0 116.6h1.7v1.7h-1.7zM594.5 111.8h1.7v1.7h-1.7zM605.8 113.8h1.7v1.7h-1.7zM564.8 120.8h1.7v1.7h-1.7zM605.8 71.4h1.7v1.7h-1.7zM555.3 130.3h1.7v1.7h-1.7zM586.5 109.9h1.7v1.7h-1.7zM621.7 81.4h1.7v1.7h-1.7zM616.6 91.1h1.7v1.7h-1.7zM630.2 76.8h1.7v1.7h-1.7zM685.3 48.4h1.7v1.7h-1.7zM595.3 111.8h1.7v1.7h-1.7zM558.1 120.4h1.7v1.7h-1.7zM566.7 115.4h1.7v1.7h-1.7zM596.8 114.5h1.7v1.7h-1.7zM556.9 120.6h1.7v1.7h-1.7zM570.5 124.9h1.7v1.7h-1.7zM543.9 132.1h1.7v1.7h-1.7zM563.8 117.0h1.7v1.7h-1.7zM622.8 92.9h1.7v1.7h-1.7zM576.9 115.0h1.7v1.7h-1.7zM630.0 65.9h1.7v1.7h-1.7zM568.4 120.4h1.7v1.7h-1.7zM658.7 52.5h1.7v1.7h-1.7zM550.2 125.3h1.7v1.7h-1.7zM598.7 87.6h1.7v1.7h-1.7zM592.4 118.4h1.7v1.7h-1.7zM549.1 131.0h1.7v1.7h-1.7zM670.6 51.0h1.7v1.7h-1.7zM594.7 112.0h1.7v1.7h-1.7zM598.6 106.8h1.7v1.7h-1.7zM605.9 100.0h1.7v1.7h-1.7zM625.0 81.7h1.7v1.7h-1.7zM592.1 108.4h1.7v1.7h-1.7zM591.4 112.4h1.7v1.7h-1.7zM583.9 124.8h1.7v1.7h-1.7zM586.8 109.9h1.7v1.7h-1.7zM678.3 50.2h1.7v1.7h-1.7zM564.2 126.1h1.7v1.7h-1.7zM591.6 115.9h1.7v1.7h-1.7zM577.0 120.0h1.7v1.7h-1.7zM618.7 90.1h1.7v1.7h-1.7zM633.5 79.0h1.7v1.7h-1.7zM563.1 123.1h1.7v1.7h-1.7zM552.7 135.2h1.7v1.7h-1.7zM566.6 116.1h1.7v1.7h-1.7zM617.8 97.2h1.7v1.7h-1.7zM614.9 97.3h1.7v1.7h-1.7zM550.1 129.4h1.7v1.7h-1.7zM619.8 93.9h1.7v1.7h-1.7zM550.5 127.5h1.7v1.7h-1.7zM612.1 89.7h1.7v1.7h-1.7zM567.8 131.6h1.7v1.7h-1.7zM598.7 114.2h1.7v1.7h-1.7zM580.9 114.3h1.7v1.7h-1.7zM591.8 120.5h1.7v1.7h-1.7zM603.0 116.1h1.7v1.7h-1.7zM605.4 97.5h1.7v1.7h-1.7zM554.6 130.9h1.7v1.7h-1.7zM607.9 100.9h1.7v1.7h-1.7zM600.9 101.9h1.7v1.7h-1.7zM553.7 125.6h1.7v1.7h-1.7zM579.1 117.9h1.7v1.7h-1.7zM609.2 103.7h1.7v1.7h-1.7zM569.5 122.1h1.7v1.7h-1.7zM566.9 119.5h1.7v1.7h-1.7zM600.1 97.5h1.7v1.7h-1.7zM596.7 103.4h1.7v1.7h-1.7zM616.2 98.4h1.7v1.7h-1.7zM596.9 106.4h1.7v1.7h-1.7zM594.9 106.6h1.7v1.7h-1.7zM598.4 103.6h1.7v1.7h-1.7zM580.2 115.7h1.7v1.7h-1.7zM654.2 56.4h1.7v1.7h-1.7zM564.3 119.8h1.7v1.7h-1.7zM585.3 103.2h1.7v1.7h-1.7zM553.9 137.4h1.7v1.7h-1.7zM638.4 74.7h1.7v1.7h-1.7zM619.8 87.9h1.7v1.7h-1.7zM606.3 102.4h1.7v1.7h-1.7zM578.6 121.3h1.7v1.7h-1.7zM586.3 126.4h1.7v1.7h-1.7zM617.2 99.8h1.7v1.7h-1.7zM592.8 95.3h1.7v1.7h-1.7zM540.5 134.6h1.7v1.7h-1.7zM586.1 120.3h1.7v1.7h-1.7zM632.4 80.2h1.7v1.7h-1.7zM616.9 84.5h1.7v1.7h-1.7zM610.0 91.0h1.7v1.7h-1.7zM563.6 136.5h1.7v1.7h-1.7zM620.2 94.3h1.7v1.7h-1.7zM617.7 87.6h1.7v1.7h-1.7zM606.5 94.1h1.7v1.7h-1.7zM557.1 116.6h1.7v1.7h-1.7zM583.3 110.0h1.7v1.7h-1.7zM593.9 104.0h1.7v1.7h-1.7zM587.9 106.1h1.7v1.7h-1.7zM668.8 57.8h1.7v1.7h-1.7zM627.5 94.8h1.7v1.7h-1.7zM592.3 104.8h1.7v1.7h-1.7zM621.3 76.5h1.7v1.7h-1.7zM568.0 111.3h1.7v1.7h-1.7zM570.2 122.5h1.7v1.7h-1.7zM603.2 112.3h1.7v1.7h-1.7zM568.8 112.9h1.7v1.7h-1.7zM631.9 76.9h1.7v1.7h-1.7zM608.9 99.0h1.7v1.7h-1.7zM558.2 131.2h1.7v1.7h-1.7zM581.7 116.7h1.7v1.7h-1.7zM622.9 87.8h1.7v1.7h-1.7zM601.7 97.5h1.7v1.7h-1.7zM579.8 120.8h1.7v1.7h-1.7zM600.7 107.0h1.7v1.7h-1.7zM559.5 118.8h1.7v1.7h-1.7zM678.0 42.4h1.7v1.7h-1.7zM575.7 131.4h1.7v1.7h-1.7zM588.9 98.6h1.7v1.7h-1.7zM594.2 110.9h1.7v1.7h-1.7zM593.9 103.7h1.7v1.7h-1.7zM627.2 79.9h1.7v1.7h-1.7zM567.5 120.1h1.7v1.7h-1.7zM558.7 134.4h1.7v1.7h-1.7zM561.0 126.6h1.7v1.7h-1.7zM572.0 115.7h1.7v1.7h-1.7zM545.3 128.6h1.7v1.7h-1.7zM575.0 123.7h1.7v1.7h-1.7zM621.8 103.2h1.7v1.7h-1.7zM566.3 120.9h1.7v1.7h-1.7zM572.2 120.0h1.7v1.7h-1.7zM548.8 133.3h1.7v1.7h-1.7zM642.5 76.8h1.7v1.7h-1.7zM616.3 101.4h1.7v1.7h-1.7zM605.2 99.2h1.7v1.7h-1.7zM565.2 119.8h1.7v1.7h-1.7zM589.1 106.6h1.7v1.7h-1.7zM592.2 101.4h1.7v1.7h-1.7zM562.8 119.6h1.7v1.7h-1.7zM591.9 103.4h1.7v1.7h-1.7zM627.4 78.2h1.7v1.7h-1.7zM591.3 116.8h1.7v1.7h-1.7zM554.6 130.8h1.7v1.7h-1.7zM601.0 106.9h1.7v1.7h-1.7zM635.8 78.1h1.7v1.7h-1.7zM567.5 124.7h1.7v1.7h-1.7zM641.1 71.0h1.7v1.7h-1.7zM588.2 119.0h1.7v1.7h-1.7zM622.1 80.5h1.7v1.7h-1.7zM619.0 92.7h1.7v1.7h-1.7zM572.4 117.1h1.7v1.7h-1.7zM574.6 124.2h1.7v1.7h-1.7zM609.5 99.3h1.7v1.7h-1.7zM624.0 81.0h1.7v1.7h-1.7zM600.3 113.3h1.7v1.7h-1.7zM587.1 109.4h1.7v1.7h-1.7zM578.2 120.9h1.7v1.7h-1.7zM618.8 97.0h1.7v1.7h-1.7zM566.1 129.2h1.7v1.7h-1.7zM572.3 129.7h1.7v1.7h-1.7zM664.6 52.6h1.7v1.7h-1.7zM564.1 114.9h1.7v1.7h-1.7zM562.5 122.3h1.7v1.7h-1.7zM571.6 106.9h1.7v1.7h-1.7zM597.6 113.7h1.7v1.7h-1.7zM622.8 92.5h1.7v1.7h-1.7zM577.2 114.7h1.7v1.7h-1.7zM577.5 104.0h1.7v1.7h-1.7zM612.3 78.3h1.7v1.7h-1.7zM592.3 119.1h1.7v1.7h-1.7zM606.8 104.8h1.7v1.7h-1.7zM563.0 117.7h1.7v1.7h-1.7zM572.5 107.9h1.7v1.7h-1.7zM562.3 131.2h1.7v1.7h-1.7zM618.4 94.7h1.7v1.7h-1.7zM564.5 120.7h1.7v1.7h-1.7zM614.5 100.2h1.7v1.7h-1.7zM545.3 132.3h1.7v1.7h-1.7zM585.3 104.9h1.7v1.7h-1.7zM664.5 59.2h1.7v1.7h-1.7zM601.6 110.8h1.7v1.7h-1.7zM581.4 115.8h1.7v1.7h-1.7zM603.1 92.0h1.7v1.7h-1.7zM581.1 119.5h1.7v1.7h-1.7zM548.3 129.0h1.7v1.7h-1.7zM600.4 111.6h1.7v1.7h-1.7zM561.0 126.8h1.7v1.7h-1.7zM590.4 101.4h1.7v1.7h-1.7zM618.4 97.9h1.7v1.7h-1.7zM590.6 108.4h1.7v1.7h-1.7zM607.2 90.6h1.7v1.7h-1.7zM601.7 108.6h1.7v1.7h-1.7zM593.4 107.7h1.7v1.7h-1.7zM560.1 131.7h1.7v1.7h-1.7zM595.3 111.2h1.7v1.7h-1.7zM572.7 110.9h1.7v1.7h-1.7zM540.9 134.4h1.7v1.7h-1.7zM579.0 109.5h1.7v1.7h-1.7zM595.9 110.2h1.7v1.7h-1.7zM581.3 114.7h1.7v1.7h-1.7zM611.5 111.9h1.7v1.7h-1.7zM592.5 108.0h1.7v1.7h-1.7zM612.7 89.8h1.7v1.7h-1.7zM605.6 96.5h1.7v1.7h-1.7zM553.3 124.3h1.7v1.7h-1.7zM565.0 108.5h1.7v1.7h-1.7zM564.0 117.2h1.7v1.7h-1.7zM606.9 108.9h1.7v1.7h-1.7zM570.6 110.1h1.7v1.7h-1.7zM578.4 119.0h1.7v1.7h-1.7zM596.7 102.6h1.7v1.7h-1.7zM615.6 98.4h1.7v1.7h-1.7zM553.9 129.3h1.7v1.7h-1.7zM574.2 113.6h1.7v1.7h-1.7zM632.4 70.0h1.7v1.7h-1.7zM591.2 102.2h1.7v1.7h-1.7zM576.4 107.6h1.7v1.7h-1.7zM580.7 127.7h1.7v1.7h-1.7zM653.8 65.5h1.7v1.7h-1.7zM610.0 89.8h1.7v1.7h-1.7zM576.8 117.1h1.7v1.7h-1.7zM553.0 120.6h1.7v1.7h-1.7zM590.3 105.5h1.7v1.7h-1.7zM576.7 126.9h1.7v1.7h-1.7zM619.1 98.2h1.7v1.7h-1.7zM558.7 127.3h1.7v1.7h-1.7zM583.6 101.4h1.7v1.7h-1.7zM595.6 102.1h1.7v1.7h-1.7zM608.2 87.1h1.7v1.7h-1.7zM555.5 138.9h1.7v1.7h-1.7zM559.1 124.6h1.7v1.7h-1.7zM575.9 125.3h1.7v1.7h-1.7zM598.9 110.3h1.7v1.7h-1.7zM602.4 103.0h1.7v1.7h-1.7zM592.7 101.5h1.7v1.7h-1.7zM671.7 56.2h1.7v1.7h-1.7zM549.1 129.8h1.7v1.7h-1.7zM605.7 104.8h1.7v1.7h-1.7zM629.1 82.8h1.7v1.7h-1.7zM578.0 110.9h1.7v1.7h-1.7zM573.9 122.4h1.7v1.7h-1.7zM594.3 102.7h1.7v1.7h-1.7zM561.6 124.7h1.7v1.7h-1.7zM602.8 97.5h1.7v1.7h-1.7zM572.8 106.0h1.7v1.7h-1.7zM605.3 109.0h1.7v1.7h-1.7zM557.6 130.8h1.7v1.7h-1.7zM685.9 47.7h1.7v1.7h-1.7zM573.4 107.3h1.7v1.7h-1.7zM611.9 83.4h1.7v1.7h-1.7zM612.3 99.3h1.7v1.7h-1.7zM588.7 92.8h1.7v1.7h-1.7zM611.7 115.9h1.7v1.7h-1.7zM556.6 115.6h1.7v1.7h-1.7zM606.5 98.4h1.7v1.7h-1.7zM636.2 81.2h1.7v1.7h-1.7zM573.7 124.2h1.7v1.7h-1.7zM601.4 108.5h1.7v1.7h-1.7zM577.5 121.9h1.7v1.7h-1.7zM570.6 125.8h1.7v1.7h-1.7zM584.0 114.6h1.7v1.7h-1.7zM602.9 99.0h1.7v1.7h-1.7zM564.1 121.8h1.7v1.7h-1.7zM602.1 106.1h1.7v1.7h-1.7zM580.7 117.9h1.7v1.7h-1.7zM560.4 130.8h1.7v1.7h-1.7zM555.2 133.7h1.7v1.7h-1.7zM626.7 90.7h1.7v1.7h-1.7zM601.1 100.6h1.7v1.7h-1.7zM570.5 111.9h1.7v1.7h-1.7zM587.3 107.8h1.7v1.7h-1.7zM583.7 112.5h1.7v1.7h-1.7zM580.4 105.7h1.7v1.7h-1.7zM562.9 119.3h1.7v1.7h-1.7zM567.8 125.9h1.7v1.7h-1.7zM595.8 104.4h1.7v1.7h-1.7zM607.3 93.9h1.7v1.7h-1.7zM568.7 112.3h1.7v1.7h-1.7zM562.0 118.2h1.7v1.7h-1.7zM615.8 89.1h1.7v1.7h-1.7zM602.4 114.0h1.7v1.7h-1.7zM615.2 104.2h1.7v1.7h-1.7zM568.4 131.6h1.7v1.7h-1.7zM592.7 107.2h1.7v1.7h-1.7zM574.2 111.5h1.7v1.7h-1.7zM613.9 92.0h1.7v1.7h-1.7zM642.5 63.7h1.7v1.7h-1.7zM578.6 116.9h1.7v1.7h-1.7zM588.4 106.3h1.7v1.7h-1.7zM588.6 117.1h1.7v1.7h-1.7zM606.3 95.8h1.7v1.7h-1.7zM609.8 100.2h1.7v1.7h-1.7zM632.0 64.0h1.7v1.7h-1.7zM558.9 121.6h1.7v1.7h-1.7zM559.3 123.9h1.7v1.7h-1.7zM586.3 112.6h1.7v1.7h-1.7zM591.0 106.7h1.7v1.7h-1.7zM572.1 118.8h1.7v1.7h-1.7zM590.2 110.9h1.7v1.7h-1.7zM586.5 112.8h1.7v1.7h-1.7zM638.8 79.1h1.7v1.7h-1.7zM612.8 95.1h1.7v1.7h-1.7zM600.9 110.3h1.7v1.7h-1.7zM611.6 114.4h1.7v1.7h-1.7zM560.1 130.6h1.7v1.7h-1.7zM590.4 114.3h1.7v1.7h-1.7zM591.3 113.6h1.7v1.7h-1.7zM550.4 135.7h1.7v1.7h-1.7zM564.5 130.4h1.7v1.7h-1.7zM561.6 121.0h1.7v1.7h-1.7zM546.0 131.6h1.7v1.7h-1.7zM600.3 124.2h1.7v1.7h-1.7zM579.5 121.8h1.7v1.7h-1.7zM628.2 76.9h1.7v1.7h-1.7zM575.8 118.6h1.7v1.7h-1.7zM608.2 105.4h1.7v1.7h-1.7zM616.7 97.8h1.7v1.7h-1.7zM579.7 116.3h1.7v1.7h-1.7zM558.1 125.2h1.7v1.7h-1.7zM651.3 61.1h1.7v1.7h-1.7zM596.9 93.7h1.7v1.7h-1.7zM601.7 107.9h1.7v1.7h-1.7zM593.5 114.1h1.7v1.7h-1.7zM558.9 118.2h1.7v1.7h-1.7zM599.9 96.8h1.7v1.7h-1.7zM609.3 95.5h1.7v1.7h-1.7zM574.6 115.8h1.7v1.7h-1.7zM633.5 87.1h1.7v1.7h-1.7zM614.1 97.3h1.7v1.7h-1.7zM606.5 105.2h1.7v1.7h-1.7zM561.5 125.1h1.7v1.7h-1.7zM634.5 77.6h1.7v1.7h-1.7zM617.9 92.9h1.7v1.7h-1.7zM561.3 114.6h1.7v1.7h-1.7zM641.4 79.6h1.7v1.7h-1.7zM651.9 63.9h1.7v1.7h-1.7zM622.1 93.8h1.7v1.7h-1.7zM563.5 126.3h1.7v1.7h-1.7zM578.4 123.7h1.7v1.7h-1.7zM579.7 113.0h1.7v1.7h-1.7zM575.9 122.5h1.7v1.7h-1.7zM584.4 131.0h1.7v1.7h-1.7zM607.5 110.8h1.7v1.7h-1.7zM601.1 107.3h1.7v1.7h-1.7zM621.0 81.8h1.7v1.7h-1.7zM577.8 99.8h1.7v1.7h-1.7zM612.0 95.2h1.7v1.7h-1.7zM579.6 120.1h1.7v1.7h-1.7zM605.3 100.4h1.7v1.7h-1.7zM605.8 105.0h1.7v1.7h-1.7zM593.9 113.0h1.7v1.7h-1.7zM613.0 103.3h1.7v1.7h-1.7zM640.5 77.3h1.7v1.7h-1.7zM561.5 126.8h1.7v1.7h-1.7zM600.4 103.6h1.7v1.7h-1.7zM648.1 63.7h1.7v1.7h-1.7zM640.3 68.2h1.7v1.7h-1.7zM568.3 139.0h1.7v1.7h-1.7zM563.7 129.1h1.7v1.7h-1.7zM619.5 97.8h1.7v1.7h-1.7zM605.8 94.4h1.7v1.7h-1.7zM578.6 108.4h1.7v1.7h-1.7zM587.3 114.4h1.7v1.7h-1.7zM585.9 117.8h1.7v1.7h-1.7zM560.0 129.3h1.7v1.7h-1.7zM593.6 129.1h1.7v1.7h-1.7zM591.1 115.0h1.7v1.7h-1.7zM605.4 101.9h1.7v1.7h-1.7zM684.6 47.6h1.7v1.7h-1.7zM560.3 129.9h1.7v1.7h-1.7zM551.8 136.0h1.7v1.7h-1.7zM618.3 111.0h1.7v1.7h-1.7zM580.1 120.8h1.7v1.7h-1.7zM591.1 125.3h1.7v1.7h-1.7zM592.4 105.3h1.7v1.7h-1.7zM577.4 123.2h1.7v1.7h-1.7zM561.3 120.5h1.7v1.7h-1.7zM580.3 114.5h1.7v1.7h-1.7zM572.0 131.3h1.7v1.7h-1.7zM576.0 109.9h1.7v1.7h-1.7zM575.5 117.5h1.7v1.7h-1.7zM598.7 105.8h1.7v1.7h-1.7zM544.9 133.9h1.7v1.7h-1.7zM577.6 121.6h1.7v1.7h-1.7zM619.5 87.9h1.7v1.7h-1.7zM638.0 71.4h1.7v1.7h-1.7zM569.5 116.5h1.7v1.7h-1.7zM634.4 71.8h1.7v1.7h-1.7zM603.1 103.5h1.7v1.7h-1.7zM647.1 63.0h1.7v1.7h-1.7zM559.1 122.8h1.7v1.7h-1.7zM625.1 80.9h1.7v1.7h-1.7zM631.2 73.1h1.7v1.7h-1.7zM608.8 92.9h1.7v1.7h-1.7zM619.6 85.0h1.7v1.7h-1.7zM620.1 86.0h1.7v1.7h-1.7zM605.0 94.0h1.7v1.7h-1.7zM604.6 96.2h1.7v1.7h-1.7zM549.5 137.6h1.7v1.7h-1.7zM567.3 107.1h1.7v1.7h-1.7zM553.7 131.4h1.7v1.7h-1.7zM594.6 127.3h1.7v1.7h-1.7zM557.2 133.5h1.7v1.7h-1.7zM588.2 116.1h1.7v1.7h-1.7zM541.2 133.6h1.7v1.7h-1.7zM573.6 132.7h1.7v1.7h-1.7zM629.7 81.7h1.7v1.7h-1.7zM595.5 109.2h1.7v1.7h-1.7zM554.9 119.1h1.7v1.7h-1.7zM573.9 120.2h1.7v1.7h-1.7zM570.5 123.3h1.7v1.7h-1.7zM580.8 103.7h1.7v1.7h-1.7zM560.0 126.6h1.7v1.7h-1.7zM629.9 84.4h1.7v1.7h-1.7zM586.4 115.2h1.7v1.7h-1.7zM559.6 118.3h1.7v1.7h-1.7zM660.8 54.9h1.7v1.7h-1.7zM571.5 127.9h1.7v1.7h-1.7zM623.7 92.6h1.7v1.7h-1.7zM615.3 87.7h1.7v1.7h-1.7zM556.9 128.3h1.7v1.7h-1.7zM569.4 108.9h1.7v1.7h-1.7zM574.8 121.8h1.7v1.7h-1.7zM609.5 107.7h1.7v1.7h-1.7zM621.6 87.7h1.7v1.7h-1.7zM565.1 122.1h1.7v1.7h-1.7zM615.3 94.8h1.7v1.7h-1.7zM630.5 76.3h1.7v1.7h-1.7zM617.0 88.7h1.7v1.7h-1.7zM570.5 126.4h1.7v1.7h-1.7zM610.9 95.1h1.7v1.7h-1.7zM547.9 130.7h1.7v1.7h-1.7zM557.6 123.4h1.7v1.7h-1.7zM629.6 78.7h1.7v1.7h-1.7zM555.6 121.8h1.7v1.7h-1.7zM663.7 52.9h1.7v1.7h-1.7zM558.6 131.1h1.7v1.7h-1.7zM587.3 121.2h1.7v1.7h-1.7zM592.3 122.8h1.7v1.7h-1.7zM569.4 110.2h1.7v1.7h-1.7zM577.3 108.4h1.7v1.7h-1.7zM668.1 56.0h1.7v1.7h-1.7zM590.9 114.5h1.7v1.7h-1.7zM556.3 120.0h1.7v1.7h-1.7zM580.1 124.5h1.7v1.7h-1.7zM603.9 104.4h1.7v1.7h-1.7zM569.8 110.6h1.7v1.7h-1.7zM659.3 57.9h1.7v1.7h-1.7zM611.1 101.6h1.7v1.7h-1.7zM598.5 106.7h1.7v1.7h-1.7zM591.7 112.2h1.7v1.7h-1.7zM589.6 100.2h1.7v1.7h-1.7zM624.6 92.7h1.7v1.7h-1.7zM582.5 114.8h1.7v1.7h-1.7zM545.1 135.9h1.7v1.7h-1.7zM567.3 122.9h1.7v1.7h-1.7zM565.0 124.1h1.7v1.7h-1.7zM581.7 109.9h1.7v1.7h-1.7zM581.3 106.7h1.7v1.7h-1.7zM601.3 107.1h1.7v1.7h-1.7zM553.9 123.3h1.7v1.7h-1.7zM640.0 73.4h1.7v1.7h-1.7zM577.4 115.8h1.7v1.7h-1.7zM558.2 114.2h1.7v1.7h-1.7zM570.9 122.0h1.7v1.7h-1.7zM555.9 131.9h1.7v1.7h-1.7zM603.3 98.5h1.7v1.7h-1.7zM620.2 85.5h1.7v1.7h-1.7zM579.9 117.1h1.7v1.7h-1.7zM582.0 111.1h1.7v1.7h-1.7zM563.8 122.3h1.7v1.7h-1.7zM564.6 108.1h1.7v1.7h-1.7zM564.2 119.2h1.7v1.7h-1.7zM550.8 127.9h1.7v1.7h-1.7zM571.3 116.5h1.7v1.7h-1.7zM587.6 120.6h1.7v1.7h-1.7zM614.0 91.5h1.7v1.7h-1.7zM617.9 83.3h1.7v1.7h-1.7zM576.1 109.2h1.7v1.7h-1.7zM567.5 110.2h1.7v1.7h-1.7zM617.8 96.1h1.7v1.7h-1.7zM574.8 126.7h1.7v1.7h-1.7zM603.4 103.7h1.7v1.7h-1.7zM581.1 128.8h1.7v1.7h-1.7zM596.8 102.1h1.7v1.7h-1.7zM606.7 106.9h1.7v1.7h-1.7zM577.4 116.0h1.7v1.7h-1.7zM602.8 103.4h1.7v1.7h-1.7zM586.7 108.8h1.7v1.7h-1.7zM606.3 100.6h1.7v1.7h-1.7zM604.1 109.6h1.7v1.7h-1.7zM553.8 126.0h1.7v1.7h-1.7zM613.5 99.2h1.7v1.7h-1.7zM623.9 86.4h1.7v1.7h-1.7zM574.0 115.2h1.7v1.7h-1.7zM671.7 52.7h1.7v1.7h-1.7zM581.5 100.8h1.7v1.7h-1.7zM578.0 117.8h1.7v1.7h-1.7zM561.4 125.8h1.7v1.7h-1.7zM593.7 100.6h1.7v1.7h-1.7zM568.1 119.3h1.7v1.7h-1.7zM568.6 121.1h1.7v1.7h-1.7zM593.1 101.9h1.7v1.7h-1.7zM575.6 117.6h1.7v1.7h-1.7zM575.0 122.5h1.7v1.7h-1.7zM610.0 107.6h1.7v1.7h-1.7zM558.5 126.5h1.7v1.7h-1.7zM604.6 113.1h1.7v1.7h-1.7zM614.5 101.6h1.7v1.7h-1.7zM549.3 127.8h1.7v1.7h-1.7zM659.5 57.0h1.7v1.7h-1.7zM633.6 85.9h1.7v1.7h-1.7zM603.3 107.3h1.7v1.7h-1.7zM607.3 100.2h1.7v1.7h-1.7zM557.7 130.8h1.7v1.7h-1.7zM555.5 128.2h1.7v1.7h-1.7zM608.2 96.6h1.7v1.7h-1.7zM570.2 116.0h1.7v1.7h-1.7zM563.2 121.0h1.7v1.7h-1.7zM608.5 88.3h1.7v1.7h-1.7zM575.0 115.1h1.7v1.7h-1.7zM583.7 107.6h1.7v1.7h-1.7zM544.0 131.8h1.7v1.7h-1.7zM629.9 79.3h1.7v1.7h-1.7zM588.4 113.8h1.7v1.7h-1.7zM564.1 121.8h1.7v1.7h-1.7zM576.5 115.0h1.7v1.7h-1.7zM595.5 108.4h1.7v1.7h-1.7zM610.5 100.3h1.7v1.7h-1.7zM604.0 99.5h1.7v1.7h-1.7zM578.5 112.2h1.7v1.7h-1.7zM596.7 106.6h1.7v1.7h-1.7zM566.7 122.9h1.7v1.7h-1.7zM588.7 113.8h1.7v1.7h-1.7zM589.9 100.0h1.7v1.7h-1.7zM588.9 106.5h1.7v1.7h-1.7zM655.8 57.4h1.7v1.7h-1.7zM580.0 104.1h1.7v1.7h-1.7zM603.3 102.3h1.7v1.7h-1.7zM563.3 131.9h1.7v1.7h-1.7zM592.4 103.2h1.7v1.7h-1.7zM585.4 104.2h1.7v1.7h-1.7zM575.6 124.1h1.7v1.7h-1.7zM614.8 92.2h1.7v1.7h-1.7zM560.7 122.3h1.7v1.7h-1.7zM584.7 113.6h1.7v1.7h-1.7zM561.7 122.8h1.7v1.7h-1.7zM591.2 113.2h1.7v1.7h-1.7zM603.1 105.5h1.7v1.7h-1.7zM630.0 74.2h1.7v1.7h-1.7zM600.8 108.9h1.7v1.7h-1.7zM622.3 90.5h1.7v1.7h-1.7zM579.4 124.9h1.7v1.7h-1.7zM636.5 77.4h1.7v1.7h-1.7zM582.1 110.5h1.7v1.7h-1.7zM647.3 68.7h1.7v1.7h-1.7zM576.7 114.7h1.7v1.7h-1.7zM605.7 99.0h1.7v1.7h-1.7zM576.7 116.5h1.7v1.7h-1.7zM578.2 115.5h1.7v1.7h-1.7zM599.7 102.6h1.7v1.7h-1.7zM619.4 92.4h1.7v1.7h-1.7zM561.3 119.9h1.7v1.7h-1.7zM554.6 123.7h1.7v1.7h-1.7zM584.2 125.1h1.7v1.7h-1.7zM603.6 94.4h1.7v1.7h-1.7zM605.5 108.9h1.7v1.7h-1.7zM632.6 79.6h1.7v1.7h-1.7zM665.7 51.0h1.7v1.7h-1.7zM586.3 107.4h1.7v1.7h-1.7zM640.5 62.7h1.7v1.7h-1.7zM648.1 61.4h1.7v1.7h-1.7zM588.6 118.6h1.7v1.7h-1.7zM586.6 94.5h1.7v1.7h-1.7zM576.6 120.3h1.7v1.7h-1.7zM617.4 93.3h1.7v1.7h-1.7zM599.2 97.8h1.7v1.7h-1.7zM582.4 109.9h1.7v1.7h-1.7zM572.6 126.2h1.7v1.7h-1.7zM602.9 99.6h1.7v1.7h-1.7zM561.2 124.2h1.7v1.7h-1.7zM631.1 74.8h1.7v1.7h-1.7zM652.9 59.3h1.7v1.7h-1.7zM592.3 110.9h1.7v1.7h-1.7zM608.5 103.9h1.7v1.7h-1.7zM579.0 106.5h1.7v1.7h-1.7zM627.3 88.1h1.7v1.7h-1.7zM598.4 112.4h1.7v1.7h-1.7zM549.1 128.1h1.7v1.7h-1.7zM562.6 126.6h1.7v1.7h-1.7zM612.9 91.9h1.7v1.7h-1.7zM607.0 104.6h1.7v1.7h-1.7zM597.1 108.1h1.7v1.7h-1.7zM608.6 99.1h1.7v1.7h-1.7zM586.9 122.6h1.7v1.7h-1.7zM632.5 87.5h1.7v1.7h-1.7zM623.1 90.9h1.7v1.7h-1.7zM569.9 118.7h1.7v1.7h-1.7zM583.2 119.6h1.7v1.7h-1.7zM553.0 128.2h1.7v1.7h-1.7zM647.0 81.3h1.7v1.7h-1.7zM561.0 110.1h1.7v1.7h-1.7zM597.8 112.9h1.7v1.7h-1.7zM605.7 110.4h1.7v1.7h-1.7zM599.9 105.5h1.7v1.7h-1.7zM566.9 110.2h1.7v1.7h-1.7zM595.6 111.8h1.7v1.7h-1.7zM565.3 121.9h1.7v1.7h-1.7zM547.9 135.3h1.7v1.7h-1.7zM577.3 125.6h1.7v1.7h-1.7zM569.0 119.9h1.7v1.7h-1.7zM593.2 106.0h1.7v1.7h-1.7zM577.6 121.0h1.7v1.7h-1.7zM623.5 85.3h1.7v1.7h-1.7zM581.9 110.9h1.7v1.7h-1.7zM583.5 114.9h1.7v1.7h-1.7zM616.4 95.7h1.7v1.7h-1.7zM600.3 110.9h1.7v1.7h-1.7zM589.4 119.2h1.7v1.7h-1.7zM571.0 120.5h1.7v1.7h-1.7zM677.3 47.2h1.7v1.7h-1.7zM581.3 128.6h1.7v1.7h-1.7zM579.9 122.2h1.7v1.7h-1.7zM588.9 101.7h1.7v1.7h-1.7zM600.3 95.2h1.7v1.7h-1.7zM555.2 128.4h1.7v1.7h-1.7zM581.3 105.0h1.7v1.7h-1.7zM553.2 132.3h1.7v1.7h-1.7zM572.6 120.9h1.7v1.7h-1.7zM576.8 126.1h1.7v1.7h-1.7zM603.2 104.4h1.7v1.7h-1.7zM565.3 120.4h1.7v1.7h-1.7zM577.8 108.6h1.7v1.7h-1.7zM546.3 126.0h1.7v1.7h-1.7zM577.7 127.2h1.7v1.7h-1.7zM670.7 55.1h1.7v1.7h-1.7zM618.0 81.9h1.7v1.7h-1.7zM600.6 106.7h1.7v1.7h-1.7zM581.6 111.9h1.7v1.7h-1.7zM552.2 132.2h1.7v1.7h-1.7zM603.1 106.7h1.7v1.7h-1.7zM609.4 121.1h1.7v1.7h-1.7zM589.3 95.6h1.7v1.7h-1.7zM571.0 115.7h1.7v1.7h-1.7zM649.8 67.9h1.7v1.7h-1.7zM614.0 93.6h1.7v1.7h-1.7zM565.0 127.8h1.7v1.7h-1.7zM563.4 129.7h1.7v1.7h-1.7zM602.0 102.8h1.7v1.7h-1.7zM572.0 117.7h1.7v1.7h-1.7zM658.9 61.5h1.7v1.7h-1.7zM621.1 83.7h1.7v1.7h-1.7zM579.1 102.3h1.7v1.7h-1.7zM612.7 99.2h1.7v1.7h-1.7zM557.1 119.7h1.7v1.7h-1.7zM557.2 124.5h1.7v1.7h-1.7zM570.9 125.7h1.7v1.7h-1.7zM631.2 85.7h1.7v1.7h-1.7zM621.3 102.2h1.7v1.7h-1.7zM657.7 59.0h1.7v1.7h-1.7zM581.8 116.5h1.7v1.7h-1.7zM599.0 100.6h1.7v1.7h-1.7zM638.7 69.2h1.7v1.7h-1.7zM635.8 47.6h1.7v1.7h-1.7zM609.4 108.8h1.7v1.7h-1.7zM596.0 104.0h1.7v1.7h-1.7zM599.8 100.9h1.7v1.7h-1.7zM541.7 131.5h1.7v1.7h-1.7zM594.9 104.6h1.7v1.7h-1.7zM639.3 70.4h1.7v1.7h-1.7zM649.6 59.5h1.7v1.7h-1.7zM587.2 113.5h1.7v1.7h-1.7zM593.9 106.3h1.7v1.7h-1.7zM606.7 99.0h1.7v1.7h-1.7zM590.7 97.1h1.7v1.7h-1.7zM623.8 81.7h1.7v1.7h-1.7zM577.9 122.3h1.7v1.7h-1.7zM679.0 48.3h1.7v1.7h-1.7zM624.0 76.0h1.7v1.7h-1.7zM601.4 87.9h1.7v1.7h-1.7zM600.6 113.1h1.7v1.7h-1.7zM600.6 109.7h1.7v1.7h-1.7zM551.7 128.5h1.7v1.7h-1.7zM581.7 119.4h1.7v1.7h-1.7zM561.8 119.6h1.7v1.7h-1.7zM580.5 118.2h1.7v1.7h-1.7zM583.7 114.9h1.7v1.7h-1.7zM587.6 107.5h1.7v1.7h-1.7zM628.1 79.7h1.7v1.7h-1.7zM611.1 99.0h1.7v1.7h-1.7zM541.3 129.9h1.7v1.7h-1.7zM562.0 129.2h1.7v1.7h-1.7zM565.3 123.8h1.7v1.7h-1.7zM558.9 115.7h1.7v1.7h-1.7zM573.2 108.7h1.7v1.7h-1.7zM588.4 97.5h1.7v1.7h-1.7zM660.1 52.6h1.7v1.7h-1.7zM563.3 123.1h1.7v1.7h-1.7zM546.3 120.7h1.7v1.7h-1.7zM550.9 124.2h1.7v1.7h-1.7zM573.7 115.4h1.7v1.7h-1.7zM556.5 124.4h1.7v1.7h-1.7zM550.2 128.3h1.7v1.7h-1.7zM550.0 126.7h1.7v1.7h-1.7zM591.3 119.7h1.7v1.7h-1.7zM564.1 117.8h1.7v1.7h-1.7zM551.0 132.5h1.7v1.7h-1.7zM573.7 109.6h1.7v1.7h-1.7zM611.6 102.0h1.7v1.7h-1.7zM594.6 118.8h1.7v1.7h-1.7zM604.1 105.8h1.7v1.7h-1.7zM612.8 83.2h1.7v1.7h-1.7zM590.7 115.2h1.7v1.7h-1.7zM648.3 65.7h1.7v1.7h-1.7zM581.7 109.7h1.7v1.7h-1.7zM579.1 121.0h1.7v1.7h-1.7zM568.6 125.3h1.7v1.7h-1.7zM608.9 96.3h1.7v1.7h-1.7zM587.0 115.5h1.7v1.7h-1.7zM585.4 113.8h1.7v1.7h-1.7zM609.9 102.4h1.7v1.7h-1.7zM560.3 125.0h1.7v1.7h-1.7zM598.4 83.3h1.7v1.7h-1.7zM639.1 73.1h1.7v1.7h-1.7zM690.3 45.6h1.7v1.7h-1.7zM588.0 103.3h1.7v1.7h-1.7zM590.5 118.8h1.7v1.7h-1.7zM663.5 54.8h1.7v1.7h-1.7zM594.0 104.8h1.7v1.7h-1.7zM626.1 68.6h1.7v1.7h-1.7zM583.6 109.9h1.7v1.7h-1.7zM599.9 108.4h1.7v1.7h-1.7zM560.4 120.9h1.7v1.7h-1.7zM554.3 123.4h1.7v1.7h-1.7zM584.6 114.0h1.7v1.7h-1.7zM603.5 95.4h1.7v1.7h-1.7zM609.7 92.8h1.7v1.7h-1.7zM580.9 105.0h1.7v1.7h-1.7zM626.1 72.4h1.7v1.7h-1.7zM584.0 113.1h1.7v1.7h-1.7zM575.3 125.1h1.7v1.7h-1.7zM580.2 112.0h1.7v1.7h-1.7zM550.1 125.2h1.7v1.7h-1.7zM552.0 128.0h1.7v1.7h-1.7zM565.4 112.8h1.7v1.7h-1.7zM648.7 61.0h1.7v1.7h-1.7zM661.0 53.9h1.7v1.7h-1.7zM546.8 132.1h1.7v1.7h-1.7zM565.3 122.5h1.7v1.7h-1.7zM629.1 83.6h1.7v1.7h-1.7zM589.7 106.0h1.7v1.7h-1.7zM547.7 135.8h1.7v1.7h-1.7zM559.9 124.5h1.7v1.7h-1.7zM551.9 125.5h1.7v1.7h-1.7zM578.2 116.6h1.7v1.7h-1.7zM604.1 98.7h1.7v1.7h-1.7zM623.9 91.0h1.7v1.7h-1.7zM594.9 103.4h1.7v1.7h-1.7zM584.5 113.2h1.7v1.7h-1.7zM605.1 112.6h1.7v1.7h-1.7zM588.7 118.2h1.7v1.7h-1.7zM597.8 114.8h1.7v1.7h-1.7zM619.0 90.4h1.7v1.7h-1.7zM550.2 126.8h1.7v1.7h-1.7zM578.0 113.4h1.7v1.7h-1.7zM615.8 99.1h1.7v1.7h-1.7zM562.5 128.4h1.7v1.7h-1.7zM580.8 116.6h1.7v1.7h-1.7zM585.1 124.5h1.7v1.7h-1.7zM555.6 121.4h1.7v1.7h-1.7zM623.8 94.0h1.7v1.7h-1.7zM549.6 120.9h1.7v1.7h-1.7zM613.3 90.0h1.7v1.7h-1.7zM556.7 119.3h1.7v1.7h-1.7zM564.0 118.9h1.7v1.7h-1.7zM619.6 91.8h1.7v1.7h-1.7zM545.3 140.3h1.7v1.7h-1.7zM586.4 109.6h1.7v1.7h-1.7zM651.6 67.6h1.7v1.7h-1.7zM683.3 46.2h1.7v1.7h-1.7zM616.4 102.0h1.7v1.7h-1.7zM566.7 116.9h1.7v1.7h-1.7zM551.8 133.3h1.7v1.7h-1.7zM582.1 117.1h1.7v1.7h-1.7zM549.2 133.2h1.7v1.7h-1.7zM573.5 118.0h1.7v1.7h-1.7zM595.4 89.4h1.7v1.7h-1.7zM554.6 122.8h1.7v1.7h-1.7zM601.1 104.8h1.7v1.7h-1.7zM602.6 108.6h1.7v1.7h-1.7zM574.5 114.3h1.7v1.7h-1.7zM557.9 124.0h1.7v1.7h-1.7zM578.6 120.6h1.7v1.7h-1.7zM582.2 108.2h1.7v1.7h-1.7zM598.5 106.9h1.7v1.7h-1.7zM612.7 96.9h1.7v1.7h-1.7zM577.2 121.3h1.7v1.7h-1.7zM567.2 110.1h1.7v1.7h-1.7zM621.2 88.3h1.7v1.7h-1.7zM597.0 116.6h1.7v1.7h-1.7zM549.3 123.1h1.7v1.7h-1.7zM549.7 128.8h1.7v1.7h-1.7zM581.9 112.2h1.7v1.7h-1.7zM641.2 66.8h1.7v1.7h-1.7zM555.2 119.3h1.7v1.7h-1.7zM571.7 107.1h1.7v1.7h-1.7zM638.5 81.2h1.7v1.7h-1.7zM614.3 96.5h1.7v1.7h-1.7zM590.6 113.9h1.7v1.7h-1.7zM619.3 88.2h1.7v1.7h-1.7zM641.4 63.4h1.7v1.7h-1.7zM598.2 112.0h1.7v1.7h-1.7zM582.9 119.0h1.7v1.7h-1.7zM593.9 102.7h1.7v1.7h-1.7zM614.5 88.7h1.7v1.7h-1.7zM592.6 119.1h1.7v1.7h-1.7zM617.9 96.9h1.7v1.7h-1.7zM595.9 105.9h1.7v1.7h-1.7zM598.0 110.7h1.7v1.7h-1.7zM662.3 65.0h1.7v1.7h-1.7zM677.2 52.5h1.7v1.7h-1.7zM570.5 126.5h1.7v1.7h-1.7zM565.1 126.7h1.7v1.7h-1.7zM612.5 96.6h1.7v1.7h-1.7zM678.4 48.3h1.7v1.7h-1.7zM561.8 134.3h1.7v1.7h-1.7zM591.3 95.0h1.7v1.7h-1.7zM624.5 83.4h1.7v1.7h-1.7zM608.6 101.7h1.7v1.7h-1.7zM604.8 98.6h1.7v1.7h-1.7zM606.9 100.6h1.7v1.7h-1.7zM588.7 111.3h1.7v1.7h-1.7zM624.9 88.1h1.7v1.7h-1.7zM611.8 101.6h1.7v1.7h-1.7zM627.1 92.4h1.7v1.7h-1.7zM609.2 111.8h1.7v1.7h-1.7zM590.1 118.0h1.7v1.7h-1.7zM614.9 98.1h1.7v1.7h-1.7zM662.4 56.3h1.7v1.7h-1.7zM585.3 109.4h1.7v1.7h-1.7zM605.2 99.6h1.7v1.7h-1.7zM598.7 106.7h1.7v1.7h-1.7zM666.9 56.0h1.7v1.7h-1.7zM597.7 113.5h1.7v1.7h-1.7zM582.0 110.6h1.7v1.7h-1.7zM605.6 105.3h1.7v1.7h-1.7zM567.8 122.9h1.7v1.7h-1.7zM587.9 124.8h1.7v1.7h-1.7zM547.7 134.9h1.7v1.7h-1.7zM578.1 123.8h1.7v1.7h-1.7zM635.8 70.0h1.7v1.7h-1.7zM680.9 44.3h1.7v1.7h-1.7zM591.3 110.3h1.7v1.7h-1.7zM567.7 124.6h1.7v1.7h-1.7zM588.4 102.2h1.7v1.7h-1.7zM658.3 59.4h1.7v1.7h-1.7zM614.3 101.3h1.7v1.7h-1.7zM588.1 115.2h1.7v1.7h-1.7zM608.8 109.4h1.7v1.7h-1.7zM570.8 110.5h1.7v1.7h-1.7zM585.0 106.2h1.7v1.7h-1.7zM607.6 104.1h1.7v1.7h-1.7zM548.1 129.1h1.7v1.7h-1.7zM598.7 109.2h1.7v1.7h-1.7zM590.4 115.4h1.7v1.7h-1.7zM566.4 110.7h1.7v1.7h-1.7zM591.6 122.0h1.7v1.7h-1.7zM564.7 132.1h1.7v1.7h-1.7zM567.9 111.7h1.7v1.7h-1.7zM567.7 117.6h1.7v1.7h-1.7zM608.6 105.7h1.7v1.7h-1.7zM612.9 92.4h1.7v1.7h-1.7zM590.6 113.6h1.7v1.7h-1.7zM582.8 108.2h1.7v1.7h-1.7zM580.9 123.7h1.7v1.7h-1.7zM575.5 108.9h1.7v1.7h-1.7zM577.5 115.5h1.7v1.7h-1.7zM608.1 101.9h1.7v1.7h-1.7zM575.6 108.2h1.7v1.7h-1.7zM601.6 106.2h1.7v1.7h-1.7zM554.3 129.1h1.7v1.7h-1.7zM591.8 114.4h1.7v1.7h-1.7zM553.5 120.6h1.7v1.7h-1.7zM560.2 139.2h1.7v1.7h-1.7zM641.5 66.5h1.7v1.7h-1.7zM600.6 100.2h1.7v1.7h-1.7zM550.2 127.6h1.7v1.7h-1.7zM591.8 114.1h1.7v1.7h-1.7zM573.3 116.5h1.7v1.7h-1.7zM628.9 81.2h1.7v1.7h-1.7zM574.5 121.1h1.7v1.7h-1.7zM582.6 112.6h1.7v1.7h-1.7zM634.1 71.4h1.7v1.7h-1.7zM580.7 110.4h1.7v1.7h-1.7zM575.5 115.2h1.7v1.7h-1.7zM600.7 106.1h1.7v1.7h-1.7zM609.9 106.5h1.7v1.7h-1.7zM589.7 111.8h1.7v1.7h-1.7zM580.4 122.3h1.7v1.7h-1.7zM662.6 59.6h1.7v1.7h-1.7zM589.0 120.9h1.7v1.7h-1.7zM588.9 112.9h1.7v1.7h-1.7zM571.8 116.8h1.7v1.7h-1.7zM610.4 86.0h1.7v1.7h-1.7zM601.1 103.5h1.7v1.7h-1.7zM594.2 111.6h1.7v1.7h-1.7zM585.7 116.9h1.7v1.7h-1.7zM625.6 76.9h1.7v1.7h-1.7zM610.3 89.9h1.7v1.7h-1.7zM586.4 106.8h1.7v1.7h-1.7zM651.3 60.3h1.7v1.7h-1.7zM605.7 106.9h1.7v1.7h-1.7zM602.6 107.5h1.7v1.7h-1.7zM599.1 113.5h1.7v1.7h-1.7zM548.2 125.3h1.7v1.7h-1.7zM594.6 98.0h1.7v1.7h-1.7zM623.0 88.7h1.7v1.7h-1.7zM618.5 88.4h1.7v1.7h-1.7zM613.6 96.4h1.7v1.7h-1.7zM604.7 102.8h1.7v1.7h-1.7zM602.4 109.1h1.7v1.7h-1.7zM613.3 103.2h1.7v1.7h-1.7zM554.9 124.6h1.7v1.7h-1.7zM585.0 115.4h1.7v1.7h-1.7zM582.4 117.7h1.7v1.7h-1.7zM611.9 106.4h1.7v1.7h-1.7zM581.2 116.9h1.7v1.7h-1.7zM619.2 82.1h1.7v1.7h-1.7zM588.5 113.9h1.7v1.7h-1.7zM553.6 126.6h1.7v1.7h-1.7zM656.7 53.7h1.7v1.7h-1.7zM663.1 58.2h1.7v1.7h-1.7zM641.9 67.2h1.7v1.7h-1.7zM548.7 130.8h1.7v1.7h-1.7zM620.0 88.3h1.7v1.7h-1.7zM655.0 59.6h1.7v1.7h-1.7zM547.7 132.2h1.7v1.7h-1.7zM587.6 115.0h1.7v1.7h-1.7zM597.1 119.9h1.7v1.7h-1.7zM569.9 131.6h1.7v1.7h-1.7zM579.6 111.9h1.7v1.7h-1.7zM597.4 113.1h1.7v1.7h-1.7zM609.6 107.7h1.7v1.7h-1.7zM583.8 119.6h1.7v1.7h-1.7zM680.7 50.5h1.7v1.7h-1.7zM600.0 106.4h1.7v1.7h-1.7zM570.5 117.9h1.7v1.7h-1.7zM634.5 72.9h1.7v1.7h-1.7zM561.7 120.1h1.7v1.7h-1.7zM571.1 123.2h1.7v1.7h-1.7zM550.0 127.8h1.7v1.7h-1.7zM576.5 123.4h1.7v1.7h-1.7zM574.8 111.7h1.7v1.7h-1.7zM564.8 128.1h1.7v1.7h-1.7zM552.6 124.6h1.7v1.7h-1.7zM590.3 104.4h1.7v1.7h-1.7zM570.6 116.8h1.7v1.7h-1.7zM653.8 65.9h1.7v1.7h-1.7zM625.8 98.6h1.7v1.7h-1.7zM584.7 103.9h1.7v1.7h-1.7zM559.1 133.7h1.7v1.7h-1.7zM580.3 113.4h1.7v1.7h-1.7zM551.5 120.9h1.7v1.7h-1.7zM661.0 61.5h1.7v1.7h-1.7zM569.4 118.4h1.7v1.7h-1.7zM609.2 94.6h1.7v1.7h-1.7zM604.1 109.8h1.7v1.7h-1.7zM621.2 98.6h1.7v1.7h-1.7zM597.5 88.9h1.7v1.7h-1.7zM603.7 108.5h1.7v1.7h-1.7zM601.3 93.9h1.7v1.7h-1.7zM599.3 90.8h1.7v1.7h-1.7zM594.7 107.2h1.7v1.7h-1.7zM605.1 103.3h1.7v1.7h-1.7zM556.5 124.1h1.7v1.7h-1.7zM600.3 98.8h1.7v1.7h-1.7zM586.4 112.0h1.7v1.7h-1.7zM579.8 124.2h1.7v1.7h-1.7zM581.9 112.1h1.7v1.7h-1.7zM620.4 99.4h1.7v1.7h-1.7zM635.2 73.3h1.7v1.7h-1.7zM603.0 105.1h1.7v1.7h-1.7zM579.7 116.7h1.7v1.7h-1.7zM577.4 104.5h1.7v1.7h-1.7zM614.7 105.8h1.7v1.7h-1.7zM587.4 118.0h1.7v1.7h-1.7zM635.4 77.1h1.7v1.7h-1.7zM582.8 114.9h1.7v1.7h-1.7zM572.4 120.7h1.7v1.7h-1.7zM629.3 87.0h1.7v1.7h-1.7zM578.4 125.7h1.7v1.7h-1.7zM657.0 59.0h1.7v1.7h-1.7zM583.2 116.1h1.7v1.7h-1.7zM577.1 114.9h1.7v1.7h-1.7zM613.4 90.5h1.7v1.7h-1.7zM580.5 118.9h1.7v1.7h-1.7zM564.6 114.2h1.7v1.7h-1.7zM598.5 118.7h1.7v1.7h-1.7zM593.6 109.8h1.7v1.7h-1.7zM625.7 74.4h1.7v1.7h-1.7zM595.1 109.3h1.7v1.7h-1.7zM608.0 91.8h1.7v1.7h-1.7zM579.5 110.3h1.7v1.7h-1.7zM603.4 91.1h1.7v1.7h-1.7zM601.7 123.6h1.7v1.7h-1.7zM564.3 119.2h1.7v1.7h-1.7zM576.0 108.9h1.7v1.7h-1.7zM559.1 130.7h1.7v1.7h-1.7zM645.7 62.9h1.7v1.7h-1.7zM585.1 108.0h1.7v1.7h-1.7zM612.4 98.1h1.7v1.7h-1.7zM548.7 134.8h1.7v1.7h-1.7zM622.7 95.3h1.7v1.7h-1.7zM597.2 108.3h1.7v1.7h-1.7zM549.0 127.9h1.7v1.7h-1.7zM552.5 126.5h1.7v1.7h-1.7zM607.6 97.4h1.7v1.7h-1.7zM573.2 120.9h1.7v1.7h-1.7zM558.2 123.3h1.7v1.7h-1.7zM586.8 105.6h1.7v1.7h-1.7zM584.5 117.3h1.7v1.7h-1.7zM570.3 115.4h1.7v1.7h-1.7zM686.6 44.6h1.7v1.7h-1.7zM657.6 61.4h1.7v1.7h-1.7zM606.9 107.6h1.7v1.7h-1.7zM549.1 123.9h1.7v1.7h-1.7zM621.0 89.7h1.7v1.7h-1.7zM597.3 101.2h1.7v1.7h-1.7zM552.6 134.7h1.7v1.7h-1.7zM556.3 125.4h1.7v1.7h-1.7zM583.8 116.7h1.7v1.7h-1.7zM598.0 97.9h1.7v1.7h-1.7zM571.8 123.4h1.7v1.7h-1.7zM574.0 135.1h1.7v1.7h-1.7zM581.5 124.8h1.7v1.7h-1.7zM547.4 135.5h1.7v1.7h-1.7zM645.7 71.8h1.7v1.7h-1.7zM567.7 119.3h1.7v1.7h-1.7zM582.8 118.0h1.7v1.7h-1.7zM568.3 122.5h1.7v1.7h-1.7zM589.3 108.6h1.7v1.7h-1.7zM623.5 88.4h1.7v1.7h-1.7zM626.6 94.2h1.7v1.7h-1.7zM560.7 130.5h1.7v1.7h-1.7zM569.6 119.4h1.7v1.7h-1.7zM572.6 125.2h1.7v1.7h-1.7zM623.1 102.6h1.7v1.7h-1.7zM619.2 85.2h1.7v1.7h-1.7zM626.9 83.7h1.7v1.7h-1.7zM581.8 110.9h1.7v1.7h-1.7zM667.5 58.7h1.7v1.7h-1.7zM563.7 119.7h1.7v1.7h-1.7zM593.2 106.4h1.7v1.7h-1.7zM573.8 109.5h1.7v1.7h-1.7zM589.9 107.9h1.7v1.7h-1.7zM629.3 87.0h1.7v1.7h-1.7zM662.6 51.7h1.7v1.7h-1.7zM578.3 111.0h1.7v1.7h-1.7zM587.9 106.8h1.7v1.7h-1.7zM573.8 136.1h1.7v1.7h-1.7zM618.8 111.7h1.7v1.7h-1.7zM591.9 100.9h1.7v1.7h-1.7zM614.5 100.8h1.7v1.7h-1.7zM582.3 94.8h1.7v1.7h-1.7zM565.5 119.3h1.7v1.7h-1.7zM588.2 104.0h1.7v1.7h-1.7zM608.7 97.8h1.7v1.7h-1.7zM587.2 100.6h1.7v1.7h-1.7zM683.2 52.5h1.7v1.7h-1.7zM609.9 105.8h1.7v1.7h-1.7zM555.2 127.3h1.7v1.7h-1.7zM604.4 101.9h1.7v1.7h-1.7zM615.9 91.7h1.7v1.7h-1.7zM649.4 68.9h1.7v1.7h-1.7zM618.4 95.3h1.7v1.7h-1.7zM616.9 91.2h1.7v1.7h-1.7zM556.2 134.5h1.7v1.7h-1.7zM565.8 129.0h1.7v1.7h-1.7zM589.0 119.8h1.7v1.7h-1.7zM587.9 110.2h1.7v1.7h-1.7zM556.7 128.3h1.7v1.7h-1.7zM599.4 105.5h1.7v1.7h-1.7zM597.1 119.1h1.7v1.7h-1.7zM565.2 131.7h1.7v1.7h-1.7zM592.5 122.2h1.7v1.7h-1.7zM606.2 105.4h1.7v1.7h-1.7zM566.3 124.4h1.7v1.7h-1.7zM609.3 109.4h1.7v1.7h-1.7zM569.1 111.3h1.7v1.7h-1.7zM634.0 82.6h1.7v1.7h-1.7zM622.2 88.5h1.7v1.7h-1.7zM548.9 132.5h1.7v1.7h-1.7zM600.3 99.4h1.7v1.7h-1.7zM605.0 105.1h1.7v1.7h-1.7zM554.2 136.6h1.7v1.7h-1.7zM581.4 118.5h1.7v1.7h-1.7zM571.7 110.6h1.7v1.7h-1.7zM654.2 58.9h1.7v1.7h-1.7zM546.4 132.7h1.7v1.7h-1.7zM583.3 117.7h1.7v1.7h-1.7zM579.6 114.0h1.7v1.7h-1.7zM571.8 116.4h1.7v1.7h-1.7zM622.9 93.9h1.7v1.7h-1.7zM556.1 127.1h1.7v1.7h-1.7zM573.5 117.7h1.7v1.7h-1.7zM574.1 122.0h1.7v1.7h-1.7zM630.1 82.0h1.7v1.7h-1.7zM573.9 114.8h1.7v1.7h-1.7zM622.2 83.2h1.7v1.7h-1.7zM620.8 96.8h1.7v1.7h-1.7zM628.1 79.0h1.7v1.7h-1.7zM601.6 110.7h1.7v1.7h-1.7zM634.2 72.8h1.7v1.7h-1.7zM587.6 115.2h1.7v1.7h-1.7zM553.2 128.5h1.7v1.7h-1.7zM556.9 121.3h1.7v1.7h-1.7zM584.9 90.5h1.7v1.7h-1.7zM597.1 110.6h1.7v1.7h-1.7zM546.9 129.3h1.7v1.7h-1.7zM618.7 97.0h1.7v1.7h-1.7zM590.3 117.2h1.7v1.7h-1.7zM605.5 111.0h1.7v1.7h-1.7zM603.6 102.2h1.7v1.7h-1.7zM591.3 113.4h1.7v1.7h-1.7zM553.2 123.0h1.7v1.7h-1.7zM579.1 120.5h1.7v1.7h-1.7zM561.0 127.7h1.7v1.7h-1.7zM557.9 133.6h1.7v1.7h-1.7zM562.2 119.6h1.7v1.7h-1.7zM610.4 104.0h1.7v1.7h-1.7zM621.7 75.4h1.7v1.7h-1.7zM578.2 121.4h1.7v1.7h-1.7zM560.2 131.5h1.7v1.7h-1.7zM633.1 85.0h1.7v1.7h-1.7zM594.4 104.2h1.7v1.7h-1.7zM593.9 118.5h1.7v1.7h-1.7zM574.4 107.4h1.7v1.7h-1.7zM598.0 113.2h1.7v1.7h-1.7zM583.0 120.0h1.7v1.7h-1.7zM606.8 103.1h1.7v1.7h-1.7zM635.0 92.9h1.7v1.7h-1.7zM562.6 127.4h1.7v1.7h-1.7zM601.8 91.9h1.7v1.7h-1.7zM604.2 108.7h1.7v1.7h-1.7zM620.9 102.3h1.7v1.7h-1.7zM576.1 119.1h1.7v1.7h-1.7zM590.5 111.3h1.7v1.7h-1.7zM588.9 108.3h1.7v1.7h-1.7zM614.9 100.6h1.7v1.7h-1.7zM596.5 109.4h1.7v1.7h-1.7zM609.5 94.7h1.7v1.7h-1.7zM602.6 106.6h1.7v1.7h-1.7zM618.0 94.8h1.7v1.7h-1.7zM610.7 90.9h1.7v1.7h-1.7zM593.2 107.8h1.7v1.7h-1.7zM595.9 104.7h1.7v1.7h-1.7zM591.1 108.2h1.7v1.7h-1.7zM570.8 122.3h1.7v1.7h-1.7zM634.7 56.3h1.7v1.7h-1.7zM568.1 129.4h1.7v1.7h-1.7zM588.5 111.6h1.7v1.7h-1.7zM575.6 119.4h1.7v1.7h-1.7zM557.3 118.3h1.7v1.7h-1.7zM616.5 93.7h1.7v1.7h-1.7zM581.6 106.8h1.7v1.7h-1.7zM593.4 120.8h1.7v1.7h-1.7zM617.5 97.2h1.7v1.7h-1.7zM547.3 130.2h1.7v1.7h-1.7zM574.7 112.7h1.7v1.7h-1.7zM610.9 101.2h1.7v1.7h-1.7zM577.1 111.2h1.7v1.7h-1.7zM589.1 105.6h1.7v1.7h-1.7zM654.5 64.4h1.7v1.7h-1.7zM585.8 115.0h1.7v1.7h-1.7zM627.4 92.6h1.7v1.7h-1.7zM552.3 131.0h1.7v1.7h-1.7zM669.8 54.1h1.7v1.7h-1.7zM606.2 103.1h1.7v1.7h-1.7zM600.9 104.3h1.7v1.7h-1.7zM602.6 101.9h1.7v1.7h-1.7zM587.2 122.7h1.7v1.7h-1.7zM551.9 126.3h1.7v1.7h-1.7zM575.8 117.2h1.7v1.7h-1.7zM602.6 109.8h1.7v1.7h-1.7zM587.3 123.2h1.7v1.7h-1.7zM596.6 118.8h1.7v1.7h-1.7zM594.8 104.4h1.7v1.7h-1.7zM578.8 119.3h1.7v1.7h-1.7zM586.1 113.7h1.7v1.7h-1.7zM567.5 114.6h1.7v1.7h-1.7zM595.7 109.8h1.7v1.7h-1.7zM584.8 104.2h1.7v1.7h-1.7zM545.4 129.1h1.7v1.7h-1.7zM593.8 105.0h1.7v1.7h-1.7zM584.7 133.7h1.7v1.7h-1.7zM590.3 101.0h1.7v1.7h-1.7zM552.1 135.8h1.7v1.7h-1.7zM581.1 75.2h1.7v1.7h-1.7zM560.8 126.9h1.7v1.7h-1.7zM558.2 124.0h1.7v1.7h-1.7zM552.8 130.1h1.7v1.7h-1.7zM547.1 131.2h1.7v1.7h-1.7zM628.3 78.8h1.7v1.7h-1.7zM598.1 104.2h1.7v1.7h-1.7zM618.8 89.8h1.7v1.7h-1.7zM577.7 111.6h1.7v1.7h-1.7zM592.1 103.1h1.7v1.7h-1.7zM556.5 134.7h1.7v1.7h-1.7zM578.4 115.0h1.7v1.7h-1.7zM569.1 130.6h1.7v1.7h-1.7zM607.1 98.8h1.7v1.7h-1.7zM609.5 98.2h1.7v1.7h-1.7zM624.4 82.1h1.7v1.7h-1.7zM553.3 125.7h1.7v1.7h-1.7zM595.3 104.1h1.7v1.7h-1.7zM605.9 102.5h1.7v1.7h-1.7zM548.1 130.8h1.7v1.7h-1.7zM624.2 86.3h1.7v1.7h-1.7zM580.7 102.0h1.7v1.7h-1.7zM668.6 59.1h1.7v1.7h-1.7zM570.9 118.6h1.7v1.7h-1.7zM602.7 104.4h1.7v1.7h-1.7zM604.4 107.6h1.7v1.7h-1.7zM573.7 120.7h1.7v1.7h-1.7zM577.8 97.6h1.7v1.7h-1.7zM610.0 90.6h1.7v1.7h-1.7zM594.7 108.1h1.7v1.7h-1.7zM627.2 80.4h1.7v1.7h-1.7zM621.2 98.9h1.7v1.7h-1.7zM557.8 129.9h1.7v1.7h-1.7zM612.6 89.2h1.7v1.7h-1.7zM619.0 94.3h1.7v1.7h-1.7zM624.1 95.7h1.7v1.7h-1.7zM601.4 104.1h1.7v1.7h-1.7zM570.4 109.0h1.7v1.7h-1.7zM553.2 131.2h1.7v1.7h-1.7zM624.7 81.9h1.7v1.7h-1.7zM613.6 85.8h1.7v1.7h-1.7zM582.5 109.3h1.7v1.7h-1.7zM621.4 89.0h1.7v1.7h-1.7zM553.1 127.3h1.7v1.7h-1.7zM630.3 85.0h1.7v1.7h-1.7zM595.9 112.5h1.7v1.7h-1.7zM597.7 98.7h1.7v1.7h-1.7zM648.8 63.5h1.7v1.7h-1.7zM625.0 91.1h1.7v1.7h-1.7zM561.9 120.0h1.7v1.7h-1.7zM615.1 89.5h1.7v1.7h-1.7zM564.4 120.8h1.7v1.7h-1.7zM598.2 99.7h1.7v1.7h-1.7zM584.9 104.5h1.7v1.7h-1.7zM588.2 115.7h1.7v1.7h-1.7zM601.8 106.1h1.7v1.7h-1.7zM618.0 96.6h1.7v1.7h-1.7zM584.8 111.6h1.7v1.7h-1.7zM632.2 75.2h1.7v1.7h-1.7zM556.1 131.1h1.7v1.7h-1.7zM561.3 125.3h1.7v1.7h-1.7zM619.6 90.4h1.7v1.7h-1.7zM601.9 111.8h1.7v1.7h-1.7zM637.8 77.7h1.7v1.7h-1.7zM599.7 95.7h1.7v1.7h-1.7zM564.8 119.3h1.7v1.7h-1.7zM586.9 109.6h1.7v1.7h-1.7zM543.6 135.9h1.7v1.7h-1.7zM646.1 61.7h1.7v1.7h-1.7zM635.8 73.5h1.7v1.7h-1.7zM548.6 130.7h1.7v1.7h-1.7zM587.1 125.2h1.7v1.7h-1.7zM572.2 108.9h1.7v1.7h-1.7zM587.5 103.2h1.7v1.7h-1.7zM581.2 106.5h1.7v1.7h-1.7zM623.3 77.8h1.7v1.7h-1.7zM575.4 98.3h1.7v1.7h-1.7zM567.6 115.9h1.7v1.7h-1.7zM654.7 56.6h1.7v1.7h-1.7zM576.5 115.6h1.7v1.7h-1.7zM605.1 98.1h1.7v1.7h-1.7zM590.5 89.8h1.7v1.7h-1.7zM609.8 101.9h1.7v1.7h-1.7zM596.2 114.4h1.7v1.7h-1.7zM618.5 85.7h1.7v1.7h-1.7zM561.8 131.5h1.7v1.7h-1.7zM641.2 66.2h1.7v1.7h-1.7zM571.5 120.7h1.7v1.7h-1.7zM632.4 72.4h1.7v1.7h-1.7zM544.5 130.6h1.7v1.7h-1.7zM592.9 113.9h1.7v1.7h-1.7zM580.2 115.7h1.7v1.7h-1.7zM558.3 131.3h1.7v1.7h-1.7zM609.3 101.6h1.7v1.7h-1.7zM606.3 98.3h1.7v1.7h-1.7zM606.4 110.9h1.7v1.7h-1.7zM588.9 106.0h1.7v1.7h-1.7zM594.6 102.4h1.7v1.7h-1.7zM592.0 115.2h1.7v1.7h-1.7zM576.1 115.4h1.7v1.7h-1.7zM592.9 101.7h1.7v1.7h-1.7zM620.8 91.2h1.7v1.7h-1.7zM618.4 84.5h1.7v1.7h-1.7zM553.0 135.9h1.7v1.7h-1.7zM613.3 94.2h1.7v1.7h-1.7zM588.5 108.5h1.7v1.7h-1.7zM606.2 104.6h1.7v1.7h-1.7zM586.8 100.4h1.7v1.7h-1.7zM568.3 124.2h1.7v1.7h-1.7zM656.8 58.8h1.7v1.7h-1.7zM650.4 64.0h1.7v1.7h-1.7zM606.9 107.9h1.7v1.7h-1.7zM562.7 121.4h1.7v1.7h-1.7zM551.4 130.3h1.7v1.7h-1.7zM603.1 112.9h1.7v1.7h-1.7zM607.4 106.0h1.7v1.7h-1.7zM558.4 122.8h1.7v1.7h-1.7zM584.8 97.2h1.7v1.7h-1.7zM607.4 99.2h1.7v1.7h-1.7zM648.4 67.4h1.7v1.7h-1.7zM624.0 88.8h1.7v1.7h-1.7zM617.7 97.6h1.7v1.7h-1.7zM558.4 130.1h1.7v1.7h-1.7zM631.9 76.0h1.7v1.7h-1.7zM589.5 97.5h1.7v1.7h-1.7zM585.3 96.4h1.7v1.7h-1.7zM596.4 115.4h1.7v1.7h-1.7zM600.5 99.0h1.7v1.7h-1.7zM619.1 97.2h1.7v1.7h-1.7zM545.9 135.3h1.7v1.7h-1.7zM550.6 126.9h1.7v1.7h-1.7zM587.5 102.5h1.7v1.7h-1.7zM620.1 106.8h1.7v1.7h-1.7zM557.9 125.1h1.7v1.7h-1.7zM602.3 111.7h1.7v1.7h-1.7zM583.1 112.1h1.7v1.7h-1.7zM646.0 61.5h1.7v1.7h-1.7zM613.1 95.7h1.7v1.7h-1.7zM565.6 122.0h1.7v1.7h-1.7zM682.4 48.3h1.7v1.7h-1.7zM634.1 82.9h1.7v1.7h-1.7zM562.6 125.1h1.7v1.7h-1.7zM611.4 94.4h1.7v1.7h-1.7zM591.8 98.8h1.7v1.7h-1.7zM591.1 103.4h1.7v1.7h-1.7zM583.3 121.8h1.7v1.7h-1.7zM586.3 112.0h1.7v1.7h-1.7zM597.9 120.4h1.7v1.7h-1.7zM671.3 55.2h1.7v1.7h-1.7zM633.9 81.6h1.7v1.7h-1.7zM579.1 121.4h1.7v1.7h-1.7zM582.8 103.3h1.7v1.7h-1.7zM621.5 76.8h1.7v1.7h-1.7zM575.2 112.2h1.7v1.7h-1.7zM581.4 108.4h1.7v1.7h-1.7zM606.3 99.9h1.7v1.7h-1.7zM553.9 123.8h1.7v1.7h-1.7zM615.1 90.8h1.7v1.7h-1.7zM566.1 132.2h1.7v1.7h-1.7zM591.7 107.0h1.7v1.7h-1.7zM574.2 121.8h1.7v1.7h-1.7zM593.8 100.7h1.7v1.7h-1.7zM574.0 110.2h1.7v1.7h-1.7zM584.8 129.0h1.7v1.7h-1.7zM598.2 114.0h1.7v1.7h-1.7zM630.8 82.2h1.7v1.7h-1.7zM574.8 114.2h1.7v1.7h-1.7zM634.0 71.7h1.7v1.7h-1.7zM664.2 53.4h1.7v1.7h-1.7zM623.0 101.6h1.7v1.7h-1.7zM575.8 111.7h1.7v1.7h-1.7zM598.2 99.8h1.7v1.7h-1.7zM598.2 103.3h1.7v1.7h-1.7zM609.1 98.6h1.7v1.7h-1.7zM601.8 103.0h1.7v1.7h-1.7zM568.0 118.3h1.7v1.7h-1.7zM575.6 111.9h1.7v1.7h-1.7zM565.7 116.3h1.7v1.7h-1.7zM586.0 129.4h1.7v1.7h-1.7zM617.4 98.2h1.7v1.7h-1.7zM608.0 90.3h1.7v1.7h-1.7zM555.7 135.1h1.7v1.7h-1.7zM573.1 135.0h1.7v1.7h-1.7zM606.8 105.7h1.7v1.7h-1.7zM591.9 112.1h1.7v1.7h-1.7zM596.2 120.5h1.7v1.7h-1.7zM602.7 94.3h1.7v1.7h-1.7zM606.0 101.1h1.7v1.7h-1.7zM569.0 110.0h1.7v1.7h-1.7zM607.7 109.2h1.7v1.7h-1.7zM569.2 108.6h1.7v1.7h-1.7zM580.5 125.4h1.7v1.7h-1.7zM572.3 109.5h1.7v1.7h-1.7zM565.0 130.3h1.7v1.7h-1.7zM572.8 116.2h1.7v1.7h-1.7zM552.6 123.5h1.7v1.7h-1.7zM638.6 68.0h1.7v1.7h-1.7zM580.3 110.7h1.7v1.7h-1.7zM646.6 64.1h1.7v1.7h-1.7zM569.0 120.6h1.7v1.7h-1.7zM580.5 106.8h1.7v1.7h-1.7zM639.5 78.8h1.7v1.7h-1.7zM570.6 124.8h1.7v1.7h-1.7zM583.3 108.7h1.7v1.7h-1.7zM593.1 114.3h1.7v1.7h-1.7zM564.3 129.5h1.7v1.7h-1.7zM607.0 103.7h1.7v1.7h-1.7zM591.9 100.2h1.7v1.7h-1.7zM589.4 110.8h1.7v1.7h-1.7zM616.1 92.3h1.7v1.7h-1.7zM556.3 111.3h1.7v1.7h-1.7zM643.2 68.6h1.7v1.7h-1.7zM579.4 108.9h1.7v1.7h-1.7zM617.9 88.8h1.7v1.7h-1.7zM604.3 105.7h1.7v1.7h-1.7zM613.5 84.5h1.7v1.7h-1.7zM602.3 107.9h1.7v1.7h-1.7zM612.5 90.5h1.7v1.7h-1.7zM610.7 106.4h1.7v1.7h-1.7zM567.3 117.6h1.7v1.7h-1.7zM624.0 79.5h1.7v1.7h-1.7zM562.0 138.1h1.7v1.7h-1.7zM562.3 138.6h1.7v1.7h-1.7zM566.4 94.9h1.7v1.7h-1.7zM587.9 118.8h1.7v1.7h-1.7zM637.4 61.6h1.7v1.7h-1.7zM557.8 127.7h1.7v1.7h-1.7zM664.8 53.3h1.7v1.7h-1.7zM556.9 126.2h1.7v1.7h-1.7zM589.3 109.9h1.7v1.7h-1.7zM577.6 112.5h1.7v1.7h-1.7zM607.7 92.6h1.7v1.7h-1.7zM598.0 107.5h1.7v1.7h-1.7zM570.1 127.3h1.7v1.7h-1.7zM592.0 106.9h1.7v1.7h-1.7zM587.1 120.9h1.7v1.7h-1.7zM569.9 114.7h1.7v1.7h-1.7zM569.6 124.7h1.7v1.7h-1.7zM567.1 128.3h1.7v1.7h-1.7zM551.5 123.0h1.7v1.7h-1.7zM558.7 128.3h1.7v1.7h-1.7zM557.3 122.3h1.7v1.7h-1.7zM573.9 111.1h1.7v1.7h-1.7zM603.4 107.5h1.7v1.7h-1.7zM610.0 99.0h1.7v1.7h-1.7zM667.0 47.8h1.7v1.7h-1.7zM626.1 87.5h1.7v1.7h-1.7zM608.4 97.5h1.7v1.7h-1.7zM648.9 63.1h1.7v1.7h-1.7zM625.0 84.4h1.7v1.7h-1.7zM627.5 97.7h1.7v1.7h-1.7zM547.6 133.6h1.7v1.7h-1.7zM616.5 96.0h1.7v1.7h-1.7zM578.3 119.7h1.7v1.7h-1.7zM576.5 109.9h1.7v1.7h-1.7zM626.5 92.9h1.7v1.7h-1.7zM607.2 101.4h1.7v1.7h-1.7zM608.2 88.6h1.7v1.7h-1.7zM635.5 80.0h1.7v1.7h-1.7zM585.0 82.3h1.7v1.7h-1.7zM612.5 95.9h1.7v1.7h-1.7zM554.4 124.5h1.7v1.7h-1.7zM552.5 122.5h1.7v1.7h-1.7zM570.0 116.0h1.7v1.7h-1.7zM573.5 116.9h1.7v1.7h-1.7zM544.0 134.3h1.7v1.7h-1.7zM627.9 89.1h1.7v1.7h-1.7zM596.2 111.3h1.7v1.7h-1.7zM590.2 119.6h1.7v1.7h-1.7zM562.5 110.4h1.7v1.7h-1.7zM617.4 74.9h1.7v1.7h-1.7zM607.3 102.3h1.7v1.7h-1.7zM582.0 106.6h1.7v1.7h-1.7zM561.5 123.3h1.7v1.7h-1.7zM658.9 58.5h1.7v1.7h-1.7zM628.9 91.5h1.7v1.7h-1.7zM558.1 129.6h1.7v1.7h-1.7zM584.2 117.0h1.7v1.7h-1.7zM587.8 114.2h1.7v1.7h-1.7zM601.7 94.6h1.7v1.7h-1.7zM605.7 96.4h1.7v1.7h-1.7zM608.9 91.8h1.7v1.7h-1.7zM578.8 115.6h1.7v1.7h-1.7zM585.8 115.3h1.7v1.7h-1.7zM557.9 120.0h1.7v1.7h-1.7zM592.3 117.8h1.7v1.7h-1.7zM616.9 89.0h1.7v1.7h-1.7zM563.9 132.1h1.7v1.7h-1.7zM587.0 112.2h1.7v1.7h-1.7zM560.0 120.3h1.7v1.7h-1.7zM565.4 126.4h1.7v1.7h-1.7zM602.5 113.2h1.7v1.7h-1.7zM555.9 128.1h1.7v1.7h-1.7zM598.8 105.8h1.7v1.7h-1.7zM575.3 110.6h1.7v1.7h-1.7zM572.8 111.9h1.7v1.7h-1.7zM613.0 88.0h1.7v1.7h-1.7zM590.2 107.1h1.7v1.7h-1.7zM595.1 119.8h1.7v1.7h-1.7zM621.1 89.1h1.7v1.7h-1.7zM612.1 87.9h1.7v1.7h-1.7zM547.5 132.0h1.7v1.7h-1.7zM588.4 111.4h1.7v1.7h-1.7zM579.2 122.7h1.7v1.7h-1.7zM593.5 115.9h1.7v1.7h-1.7zM563.1 112.9h1.7v1.7h-1.7zM582.5 115.3h1.7v1.7h-1.7zM559.9 125.4h1.7v1.7h-1.7zM623.9 82.3h1.7v1.7h-1.7zM584.4 121.7h1.7v1.7h-1.7zM605.6 102.4h1.7v1.7h-1.7zM589.1 107.4h1.7v1.7h-1.7zM611.9 96.5h1.7v1.7h-1.7zM574.4 122.4h1.7v1.7h-1.7zM616.9 101.5h1.7v1.7h-1.7zM571.3 125.2h1.7v1.7h-1.7zM588.6 111.5h1.7v1.7h-1.7zM591.4 113.6h1.7v1.7h-1.7zM566.5 109.6h1.7v1.7h-1.7zM590.2 109.5h1.7v1.7h-1.7zM549.6 128.0h1.7v1.7h-1.7zM605.2 96.8h1.7v1.7h-1.7zM604.3 116.0h1.7v1.7h-1.7zM548.0 133.6h1.7v1.7h-1.7zM578.5 116.0h1.7v1.7h-1.7zM577.4 103.4h1.7v1.7h-1.7zM552.4 133.8h1.7v1.7h-1.7zM611.3 98.7h1.7v1.7h-1.7zM557.4 119.8h1.7v1.7h-1.7zM591.8 106.1h1.7v1.7h-1.7zM646.9 66.1h1.7v1.7h-1.7zM596.4 94.4h1.7v1.7h-1.7zM603.7 96.0h1.7v1.7h-1.7zM587.8 115.3h1.7v1.7h-1.7zM617.8 89.7h1.7v1.7h-1.7zM608.3 96.0h1.7v1.7h-1.7zM572.7 112.4h1.7v1.7h-1.7zM587.1 130.6h1.7v1.7h-1.7zM601.0 100.2h1.7v1.7h-1.7zM558.9 126.1h1.7v1.7h-1.7zM578.4 121.0h1.7v1.7h-1.7zM628.0 80.6h1.7v1.7h-1.7zM627.0 79.9h1.7v1.7h-1.7zM574.6 132.1h1.7v1.7h-1.7zM633.4 80.9h1.7v1.7h-1.7zM602.0 109.7h1.7v1.7h-1.7zM619.3 88.7h1.7v1.7h-1.7zM586.3 130.9h1.7v1.7h-1.7zM643.8 70.6h1.7v1.7h-1.7zM592.2 97.0h1.7v1.7h-1.7zM575.0 106.9h1.7v1.7h-1.7zM583.4 128.7h1.7v1.7h-1.7zM580.2 107.6h1.7v1.7h-1.7zM590.0 127.1h1.7v1.7h-1.7zM647.8 58.0h1.7v1.7h-1.7zM561.1 121.0h1.7v1.7h-1.7zM588.8 121.2h1.7v1.7h-1.7zM640.9 67.1h1.7v1.7h-1.7zM640.0 74.5h1.7v1.7h-1.7zM544.9 132.1h1.7v1.7h-1.7zM617.6 100.5h1.7v1.7h-1.7zM558.4 126.1h1.7v1.7h-1.7zM566.2 121.4h1.7v1.7h-1.7zM545.9 135.0h1.7v1.7h-1.7zM571.3 117.5h1.7v1.7h-1.7zM607.6 103.5h1.7v1.7h-1.7zM610.8 114.5h1.7v1.7h-1.7zM605.0 102.0h1.7v1.7h-1.7zM598.3 114.2h1.7v1.7h-1.7zM594.0 105.3h1.7v1.7h-1.7zM549.4 126.8h1.7v1.7h-1.7zM556.1 126.0h1.7v1.7h-1.7zM560.6 130.3h1.7v1.7h-1.7zM652.3 65.3h1.7v1.7h-1.7zM582.2 118.4h1.7v1.7h-1.7zM606.0 99.5h1.7v1.7h-1.7zM626.5 88.5h1.7v1.7h-1.7zM590.0 110.5h1.7v1.7h-1.7zM590.6 122.8h1.7v1.7h-1.7zM576.4 121.7h1.7v1.7h-1.7zM617.2 95.4h1.7v1.7h-1.7zM594.1 108.8h1.7v1.7h-1.7zM557.5 123.9h1.7v1.7h-1.7zM554.6 128.2h1.7v1.7h-1.7zM590.5 123.1h1.7v1.7h-1.7zM603.0 95.3h1.7v1.7h-1.7zM588.6 114.8h1.7v1.7h-1.7zM624.8 94.1h1.7v1.7h-1.7zM614.2 88.6h1.7v1.7h-1.7zM616.1 99.9h1.7v1.7h-1.7zM547.0 133.8h1.7v1.7h-1.7zM640.6 64.3h1.7v1.7h-1.7zM655.9 62.2h1.7v1.7h-1.7zM609.4 97.8h1.7v1.7h-1.7zM626.3 82.5h1.7v1.7h-1.7zM590.4 104.9h1.7v1.7h-1.7zM608.6 100.5h1.7v1.7h-1.7zM587.6 119.9h1.7v1.7h-1.7zM553.8 124.8h1.7v1.7h-1.7zM596.0 125.0h1.7v1.7h-1.7zM614.7 109.0h1.7v1.7h-1.7zM581.0 123.1h1.7v1.7h-1.7zM562.5 114.5h1.7v1.7h-1.7zM623.4 91.5h1.7v1.7h-1.7zM654.5 58.2h1.7v1.7h-1.7zM630.6 72.8h1.7v1.7h-1.7zM616.1 96.3h1.7v1.7h-1.7zM572.9 105.2h1.7v1.7h-1.7zM554.6 128.2h1.7v1.7h-1.7zM578.2 108.3h1.7v1.7h-1.7zM569.3 110.1h1.7v1.7h-1.7zM568.0 118.3h1.7v1.7h-1.7zM627.0 80.7h1.7v1.7h-1.7zM556.9 133.2h1.7v1.7h-1.7zM559.3 131.9h1.7v1.7h-1.7zM580.0 130.0h1.7v1.7h-1.7zM556.9 127.6h1.7v1.7h-1.7zM581.4 112.3h1.7v1.7h-1.7zM655.3 59.3h1.7v1.7h-1.7zM553.9 139.3h1.7v1.7h-1.7zM568.9 120.0h1.7v1.7h-1.7zM631.2 87.1h1.7v1.7h-1.7zM561.5 122.2h1.7v1.7h-1.7zM625.4 83.2h1.7v1.7h-1.7zM583.9 122.5h1.7v1.7h-1.7zM614.4 100.6h1.7v1.7h-1.7zM557.8 132.7h1.7v1.7h-1.7zM609.1 99.2h1.7v1.7h-1.7zM575.5 115.7h1.7v1.7h-1.7zM611.7 99.3h1.7v1.7h-1.7zM546.6 128.4h1.7v1.7h-1.7zM583.1 112.1h1.7v1.7h-1.7zM586.1 106.1h1.7v1.7h-1.7zM579.7 119.9h1.7v1.7h-1.7zM673.4 49.6h1.7v1.7h-1.7zM613.7 86.3h1.7v1.7h-1.7zM571.1 113.3h1.7v1.7h-1.7zM603.5 97.5h1.7v1.7h-1.7zM575.1 113.4h1.7v1.7h-1.7zM623.0 80.4h1.7v1.7h-1.7zM584.3 131.0h1.7v1.7h-1.7zM583.0 113.4h1.7v1.7h-1.7zM555.7 136.4h1.7v1.7h-1.7zM578.5 119.2h1.7v1.7h-1.7zM568.1 120.1h1.7v1.7h-1.7zM608.3 93.0h1.7v1.7h-1.7zM616.1 100.4h1.7v1.7h-1.7zM583.3 116.8h1.7v1.7h-1.7zM617.5 94.8h1.7v1.7h-1.7zM627.2 84.6h1.7v1.7h-1.7zM562.1 117.9h1.7v1.7h-1.7zM611.8 91.0h1.7v1.7h-1.7zM554.1 128.6h1.7v1.7h-1.7zM572.9 121.9h1.7v1.7h-1.7zM558.5 135.2h1.7v1.7h-1.7zM579.9 89.6h1.7v1.7h-1.7zM551.4 131.7h1.7v1.7h-1.7zM571.5 118.3h1.7v1.7h-1.7zM604.7 97.7h1.7v1.7h-1.7zM629.3 80.6h1.7v1.7h-1.7zM578.9 120.4h1.7v1.7h-1.7zM652.4 58.6h1.7v1.7h-1.7zM609.9 98.1h1.7v1.7h-1.7zM623.3 86.6h1.7v1.7h-1.7zM574.5 116.9h1.7v1.7h-1.7zM663.2 62.9h1.7v1.7h-1.7zM556.7 139.3h1.7v1.7h-1.7zM609.7 106.6h1.7v1.7h-1.7zM592.7 87.8h1.7v1.7h-1.7zM585.0 137.7h1.7v1.7h-1.7zM637.2 71.4h1.7v1.7h-1.7zM571.4 123.3h1.7v1.7h-1.7zM620.8 88.0h1.7v1.7h-1.7zM606.7 104.6h1.7v1.7h-1.7zM620.5 84.6h1.7v1.7h-1.7zM668.9 56.4h1.7v1.7h-1.7zM598.8 109.9h1.7v1.7h-1.7zM616.1 91.6h1.7v1.7h-1.7zM606.8 99.9h1.7v1.7h-1.7zM594.0 102.8h1.7v1.7h-1.7zM609.3 99.7h1.7v1.7h-1.7zM596.1 106.5h1.7v1.7h-1.7zM592.6 106.2h1.7v1.7h-1.7zM577.3 110.6h1.7v1.7h-1.7zM615.9 94.5h1.7v1.7h-1.7zM644.6 65.8h1.7v1.7h-1.7zM600.8 104.4h1.7v1.7h-1.7zM567.4 112.7h1.7v1.7h-1.7zM598.8 115.6h1.7v1.7h-1.7zM573.9 114.8h1.7v1.7h-1.7zM665.1 61.3h1.7v1.7h-1.7zM633.4 78.3h1.7v1.7h-1.7zM579.2 121.3h1.7v1.7h-1.7zM575.2 103.7h1.7v1.7h-1.7zM601.9 116.4h1.7v1.7h-1.7zM565.7 110.9h1.7v1.7h-1.7zM613.0 94.1h1.7v1.7h-1.7zM577.2 111.8h1.7v1.7h-1.7zM601.1 111.3h1.7v1.7h-1.7zM595.7 113.1h1.7v1.7h-1.7zM579.1 108.8h1.7v1.7h-1.7zM566.6 125.4h1.7v1.7h-1.7zM600.6 110.8h1.7v1.7h-1.7zM588.6 107.6h1.7v1.7h-1.7zM618.6 91.1h1.7v1.7h-1.7zM613.5 94.4h1.7v1.7h-1.7zM592.2 109.5h1.7v1.7h-1.7zM623.9 91.6h1.7v1.7h-1.7zM575.4 122.2h1.7v1.7h-1.7zM611.6 94.3h1.7v1.7h-1.7zM604.1 103.5h1.7v1.7h-1.7zM572.7 120.4h1.7v1.7h-1.7zM554.3 128.0h1.7v1.7h-1.7zM551.4 121.8h1.7v1.7h-1.7zM562.7 116.4h1.7v1.7h-1.7zM552.4 121.6h1.7v1.7h-1.7zM563.0 118.2h1.7v1.7h-1.7zM598.2 110.8h1.7v1.7h-1.7zM581.8 108.2h1.7v1.7h-1.7zM579.1 131.9h1.7v1.7h-1.7zM640.4 65.7h1.7v1.7h-1.7zM585.9 112.6h1.7v1.7h-1.7zM614.2 95.9h1.7v1.7h-1.7zM614.4 89.0h1.7v1.7h-1.7zM592.4 121.1h1.7v1.7h-1.7zM611.7 99.9h1.7v1.7h-1.7zM577.1 109.5h1.7v1.7h-1.7zM606.4 99.4h1.7v1.7h-1.7zM565.5 114.6h1.7v1.7h-1.7zM607.8 112.6h1.7v1.7h-1.7zM579.5 116.1h1.7v1.7h-1.7zM601.7 99.5h1.7v1.7h-1.7zM639.7 79.1h1.7v1.7h-1.7zM558.8 114.6h1.7v1.7h-1.7zM551.2 133.1h1.7v1.7h-1.7zM575.8 124.2h1.7v1.7h-1.7zM571.8 118.8h1.7v1.7h-1.7zM597.4 112.0h1.7v1.7h-1.7zM576.5 123.4h1.7v1.7h-1.7zM590.8 123.3h1.7v1.7h-1.7zM641.0 67.4h1.7v1.7h-1.7zM563.5 133.2h1.7v1.7h-1.7zM548.8 128.7h1.7v1.7h-1.7zM605.9 98.7h1.7v1.7h-1.7zM586.3 115.3h1.7v1.7h-1.7zM645.8 64.0h1.7v1.7h-1.7zM560.3 128.7h1.7v1.7h-1.7zM604.2 107.0h1.7v1.7h-1.7zM583.5 118.4h1.7v1.7h-1.7zM671.7 50.5h1.7v1.7h-1.7zM550.9 130.8h1.7v1.7h-1.7zM565.0 127.3h1.7v1.7h-1.7zM569.4 126.5h1.7v1.7h-1.7zM606.7 113.3h1.7v1.7h-1.7zM617.8 100.4h1.7v1.7h-1.7zM595.3 99.6h1.7v1.7h-1.7zM571.4 118.5h1.7v1.7h-1.7zM547.5 131.7h1.7v1.7h-1.7zM570.1 104.1h1.7v1.7h-1.7zM643.8 65.8h1.7v1.7h-1.7zM607.4 93.2h1.7v1.7h-1.7zM553.2 124.0h1.7v1.7h-1.7zM645.7 71.8h1.7v1.7h-1.7zM598.6 106.3h1.7v1.7h-1.7zM570.8 112.8h1.7v1.7h-1.7zM611.6 88.4h1.7v1.7h-1.7zM571.9 115.1h1.7v1.7h-1.7zM553.7 139.8h1.7v1.7h-1.7zM607.4 95.1h1.7v1.7h-1.7zM637.3 72.5h1.7v1.7h-1.7zM609.2 117.2h1.7v1.7h-1.7zM550.3 134.1h1.7v1.7h-1.7zM615.9 91.9h1.7v1.7h-1.7zM578.2 115.5h1.7v1.7h-1.7zM630.0 69.3h1.7v1.7h-1.7zM575.2 123.9h1.7v1.7h-1.7zM588.8 110.9h1.7v1.7h-1.7zM638.3 61.2h1.7v1.7h-1.7zM588.6 102.7h1.7v1.7h-1.7zM573.6 113.3h1.7v1.7h-1.7zM566.2 114.7h1.7v1.7h-1.7zM582.8 115.7h1.7v1.7h-1.7zM558.3 114.0h1.7v1.7h-1.7zM605.0 110.8h1.7v1.7h-1.7zM622.9 95.1h1.7v1.7h-1.7zM562.5 110.7h1.7v1.7h-1.7zM584.1 105.4h1.7v1.7h-1.7zM566.4 121.9h1.7v1.7h-1.7zM620.9 95.1h1.7v1.7h-1.7zM571.7 125.3h1.7v1.7h-1.7zM662.2 55.5h1.7v1.7h-1.7zM585.7 113.6h1.7v1.7h-1.7zM565.9 115.0h1.7v1.7h-1.7zM605.4 105.4h1.7v1.7h-1.7zM568.5 115.2h1.7v1.7h-1.7zM622.2 87.7h1.7v1.7h-1.7zM601.6 96.0h1.7v1.7h-1.7zM569.7 121.0h1.7v1.7h-1.7zM617.9 103.1h1.7v1.7h-1.7zM561.2 127.3h1.7v1.7h-1.7zM615.7 88.6h1.7v1.7h-1.7zM571.7 133.4h1.7v1.7h-1.7zM561.9 135.5h1.7v1.7h-1.7zM549.8 124.6h1.7v1.7h-1.7zM658.0 55.4h1.7v1.7h-1.7zM585.1 119.7h1.7v1.7h-1.7zM568.8 116.7h1.7v1.7h-1.7zM568.9 118.3h1.7v1.7h-1.7zM635.1 82.1h1.7v1.7h-1.7zM588.7 117.3h1.7v1.7h-1.7zM618.7 101.1h1.7v1.7h-1.7zM628.4 78.3h1.7v1.7h-1.7zM557.8 136.2h1.7v1.7h-1.7zM590.7 95.4h1.7v1.7h-1.7zM575.2 122.3h1.7v1.7h-1.7zM582.3 116.4h1.7v1.7h-1.7zM604.6 98.1h1.7v1.7h-1.7zM568.6 111.3h1.7v1.7h-1.7zM617.8 92.9h1.7v1.7h-1.7zM613.6 100.7h1.7v1.7h-1.7zM573.4 107.6h1.7v1.7h-1.7zM580.9 117.6h1.7v1.7h-1.7zM578.4 118.4h1.7v1.7h-1.7zM584.9 108.1h1.7v1.7h-1.7zM616.4 90.1h1.7v1.7h-1.7zM585.2 122.0h1.7v1.7h-1.7zM600.9 98.9h1.7v1.7h-1.7zM586.0 119.3h1.7v1.7h-1.7zM542.3 132.0h1.7v1.7h-1.7zM602.5 102.8h1.7v1.7h-1.7zM595.6 108.4h1.7v1.7h-1.7zM569.5 128.3h1.7v1.7h-1.7zM604.2 100.2h1.7v1.7h-1.7zM601.0 115.1h1.7v1.7h-1.7zM602.3 100.5h1.7v1.7h-1.7zM600.1 114.5h1.7v1.7h-1.7zM597.4 101.2h1.7v1.7h-1.7zM644.5 71.7h1.7v1.7h-1.7zM633.4 83.8h1.7v1.7h-1.7zM602.5 96.8h1.7v1.7h-1.7zM623.5 95.8h1.7v1.7h-1.7zM586.9 106.7h1.7v1.7h-1.7zM572.6 114.0h1.7v1.7h-1.7zM605.8 95.5h1.7v1.7h-1.7zM544.9 130.0h1.7v1.7h-1.7zM602.5 102.6h1.7v1.7h-1.7zM621.9 94.9h1.7v1.7h-1.7zM551.1 139.4h1.7v1.7h-1.7zM598.5 107.5h1.7v1.7h-1.7zM587.0 103.7h1.7v1.7h-1.7zM592.3 114.9h1.7v1.7h-1.7zM545.9 127.3h1.7v1.7h-1.7zM589.2 114.6h1.7v1.7h-1.7zM582.4 109.2h1.7v1.7h-1.7zM556.2 123.1h1.7v1.7h-1.7zM548.6 125.3h1.7v1.7h-1.7zM562.4 133.8h1.7v1.7h-1.7zM597.2 108.3h1.7v1.7h-1.7zM589.4 110.4h1.7v1.7h-1.7zM601.5 93.0h1.7v1.7h-1.7zM546.2 129.5h1.7v1.7h-1.7zM575.5 112.1h1.7v1.7h-1.7zM560.5 130.9h1.7v1.7h-1.7zM611.7 115.3h1.7v1.7h-1.7zM548.6 134.3h1.7v1.7h-1.7zM624.2 96.9h1.7v1.7h-1.7zM616.7 108.6h1.7v1.7h-1.7zM549.9 128.3h1.7v1.7h-1.7zM600.4 106.1h1.7v1.7h-1.7zM632.6 69.6h1.7v1.7h-1.7zM565.1 125.8h1.7v1.7h-1.7zM678.9 51.4h1.7v1.7h-1.7zM617.8 78.0h1.7v1.7h-1.7zM660.4 58.7h1.7v1.7h-1.7zM584.5 111.6h1.7v1.7h-1.7zM590.8 97.5h1.7v1.7h-1.7zM616.0 93.9h1.7v1.7h-1.7zM571.8 124.0h1.7v1.7h-1.7zM554.6 124.7h1.7v1.7h-1.7zM557.6 126.3h1.7v1.7h-1.7zM575.5 122.9h1.7v1.7h-1.7zM579.1 112.5h1.7v1.7h-1.7zM606.8 97.7h1.7v1.7h-1.7zM571.4 108.8h1.7v1.7h-1.7zM567.5 122.7h1.7v1.7h-1.7zM569.5 120.5h1.7v1.7h-1.7zM583.3 136.0h1.7v1.7h-1.7zM587.8 115.1h1.7v1.7h-1.7zM589.1 110.1h1.7v1.7h-1.7zM603.4 94.9h1.7v1.7h-1.7zM576.5 103.1h1.7v1.7h-1.7zM677.0 49.4h1.7v1.7h-1.7zM604.1 100.1h1.7v1.7h-1.7zM594.9 111.3h1.7v1.7h-1.7zM619.0 92.5h1.7v1.7h-1.7zM592.5 109.6h1.7v1.7h-1.7zM640.4 76.2h1.7v1.7h-1.7zM585.4 115.0h1.7v1.7h-1.7zM620.1 94.4h1.7v1.7h-1.7zM558.9 126.5h1.7v1.7h-1.7zM642.0 71.4h1.7v1.7h-1.7zM665.0 54.4h1.7v1.7h-1.7zM573.8 128.6h1.7v1.7h-1.7zM589.1 112.8h1.7v1.7h-1.7zM613.6 100.4h1.7v1.7h-1.7zM567.2 129.2h1.7v1.7h-1.7zM620.6 89.6h1.7v1.7h-1.7zM588.4 107.4h1.7v1.7h-1.7zM610.8 102.4h1.7v1.7h-1.7zM567.1 129.2h1.7v1.7h-1.7zM564.6 132.8h1.7v1.7h-1.7zM551.3 129.5h1.7v1.7h-1.7zM600.2 116.2h1.7v1.7h-1.7zM592.6 108.3h1.7v1.7h-1.7zM603.0 103.2h1.7v1.7h-1.7zM565.9 125.6h1.7v1.7h-1.7zM568.9 119.6h1.7v1.7h-1.7zM588.3 105.5h1.7v1.7h-1.7zM577.8 113.4h1.7v1.7h-1.7zM620.0 95.3h1.7v1.7h-1.7zM640.7 76.6h1.7v1.7h-1.7zM656.7 54.8h1.7v1.7h-1.7zM630.0 79.4h1.7v1.7h-1.7zM572.4 117.7h1.7v1.7h-1.7zM608.9 100.8h1.7v1.7h-1.7zM604.5 111.1h1.7v1.7h-1.7zM597.0 98.1h1.7v1.7h-1.7zM570.3 121.3h1.7v1.7h-1.7zM592.7 116.6h1.7v1.7h-1.7zM549.6 135.2h1.7v1.7h-1.7zM608.0 82.7h1.7v1.7h-1.7zM544.3 137.7h1.7v1.7h-1.7zM602.0 101.4h1.7v1.7h-1.7zM638.1 69.7h1.7v1.7h-1.7zM570.9 128.5h1.7v1.7h-1.7zM570.1 129.9h1.7v1.7h-1.7zM589.4 108.2h1.7v1.7h-1.7zM634.7 76.4h1.7v1.7h-1.7zM558.4 121.8h1.7v1.7h-1.7zM573.0 112.1h1.7v1.7h-1.7zM565.8 119.1h1.7v1.7h-1.7zM553.6 118.6h1.7v1.7h-1.7zM567.8 117.7h1.7v1.7h-1.7zM616.4 103.4h1.7v1.7h-1.7zM581.1 109.2h1.7v1.7h-1.7zM585.4 109.4h1.7v1.7h-1.7zM623.4 87.0h1.7v1.7h-1.7zM580.5 113.2h1.7v1.7h-1.7zM629.0 81.4h1.7v1.7h-1.7zM587.6 114.3h1.7v1.7h-1.7zM561.8 126.8h1.7v1.7h-1.7zM615.8 97.6h1.7v1.7h-1.7zM560.3 127.2h1.7v1.7h-1.7zM648.7 66.4h1.7v1.7h-1.7zM610.4 113.7h1.7v1.7h-1.7zM563.8 120.7h1.7v1.7h-1.7zM577.0 108.4h1.7v1.7h-1.7zM564.8 135.3h1.7v1.7h-1.7zM616.6 87.9h1.7v1.7h-1.7zM578.1 110.2h1.7v1.7h-1.7zM597.5 109.6h1.7v1.7h-1.7zM595.8 101.4h1.7v1.7h-1.7zM609.3 96.1h1.7v1.7h-1.7zM628.7 86.4h1.7v1.7h-1.7zM567.4 122.2h1.7v1.7h-1.7zM609.5 107.0h1.7v1.7h-1.7zM653.0 62.3h1.7v1.7h-1.7zM564.9 114.2h1.7v1.7h-1.7zM599.3 121.1h1.7v1.7h-1.7zM602.5 108.8h1.7v1.7h-1.7zM564.3 112.0h1.7v1.7h-1.7zM641.9 66.9h1.7v1.7h-1.7zM666.6 53.6h1.7v1.7h-1.7zM609.1 110.7h1.7v1.7h-1.7zM602.8 103.5h1.7v1.7h-1.7zM619.1 93.0h1.7v1.7h-1.7zM601.8 115.9h1.7v1.7h-1.7zM595.9 109.2h1.7v1.7h-1.7zM608.8 97.8h1.7v1.7h-1.7zM593.4 111.0h1.7v1.7h-1.7zM555.4 128.7h1.7v1.7h-1.7zM570.0 127.7h1.7v1.7h-1.7zM624.2 85.4h1.7v1.7h-1.7zM562.3 124.4h1.7v1.7h-1.7zM565.7 129.8h1.7v1.7h-1.7zM615.9 88.1h1.7v1.7h-1.7zM608.8 91.6h1.7v1.7h-1.7zM551.5 137.2h1.7v1.7h-1.7zM588.7 93.4h1.7v1.7h-1.7zM610.4 103.5h1.7v1.7h-1.7zM558.7 118.9h1.7v1.7h-1.7zM639.5 74.2h1.7v1.7h-1.7zM559.8 131.1h1.7v1.7h-1.7zM580.4 102.2h1.7v1.7h-1.7zM570.9 117.7h1.7v1.7h-1.7zM592.3 107.3h1.7v1.7h-1.7zM546.3 131.0h1.7v1.7h-1.7zM596.9 109.1h1.7v1.7h-1.7zM609.3 104.8h1.7v1.7h-1.7zM613.4 98.8h1.7v1.7h-1.7zM581.4 114.4h1.7v1.7h-1.7zM649.4 65.1h1.7v1.7h-1.7zM610.9 106.8h1.7v1.7h-1.7zM562.9 119.1h1.7v1.7h-1.7zM565.9 133.5h1.7v1.7h-1.7zM627.6 88.8h1.7v1.7h-1.7zM554.7 127.8h1.7v1.7h-1.7zM581.7 117.9h1.7v1.7h-1.7zM576.0 118.0h1.7v1.7h-1.7zM579.9 99.1h1.7v1.7h-1.7zM555.9 122.7h1.7v1.7h-1.7zM564.8 114.9h1.7v1.7h-1.7zM566.0 126.3h1.7v1.7h-1.7zM598.2 111.4h1.7v1.7h-1.7zM569.2 132.1h1.7v1.7h-1.7zM586.7 121.1h1.7v1.7h-1.7zM573.7 130.0h1.7v1.7h-1.7zM551.2 134.7h1.7v1.7h-1.7zM575.7 116.6h1.7v1.7h-1.7zM605.5 103.8h1.7v1.7h-1.7zM588.1 118.8h1.7v1.7h-1.7zM606.5 112.1h1.7v1.7h-1.7zM561.7 124.8h1.7v1.7h-1.7zM623.2 86.9h1.7v1.7h-1.7zM611.2 102.6h1.7v1.7h-1.7zM554.6 133.0h1.7v1.7h-1.7zM582.9 110.5h1.7v1.7h-1.7zM602.1 85.7h1.7v1.7h-1.7zM630.2 78.2h1.7v1.7h-1.7zM602.4 109.7h1.7v1.7h-1.7zM644.3 69.7h1.7v1.7h-1.7zM563.6 124.4h1.7v1.7h-1.7zM590.5 132.9h1.7v1.7h-1.7zM555.0 117.8h1.7v1.7h-1.7zM591.7 104.6h1.7v1.7h-1.7zM539.8 135.2h1.7v1.7h-1.7zM545.7 139.5h1.7v1.7h-1.7zM562.2 113.4h1.7v1.7h-1.7zM579.0 131.2h1.7v1.7h-1.7zM576.5 115.7h1.7v1.7h-1.7zM680.5 47.7h1.7v1.7h-1.7zM558.1 121.2h1.7v1.7h-1.7zM563.2 128.2h1.7v1.7h-1.7zM622.2 106.6h1.7v1.7h-1.7zM611.2 96.9h1.7v1.7h-1.7zM605.7 123.0h1.7v1.7h-1.7zM545.5 131.0h1.7v1.7h-1.7zM561.3 128.6h1.7v1.7h-1.7zM617.2 104.7h1.7v1.7h-1.7zM553.6 128.5h1.7v1.7h-1.7zM598.5 99.0h1.7v1.7h-1.7zM577.1 115.1h1.7v1.7h-1.7zM579.6 104.0h1.7v1.7h-1.7zM591.4 104.9h1.7v1.7h-1.7zM614.8 106.5h1.7v1.7h-1.7zM686.6 48.3h1.7v1.7h-1.7zM617.4 90.3h1.7v1.7h-1.7zM601.5 98.9h1.7v1.7h-1.7zM619.3 88.5h1.7v1.7h-1.7zM558.3 114.2h1.7v1.7h-1.7zM585.2 112.8h1.7v1.7h-1.7zM664.8 53.0h1.7v1.7h-1.7zM580.9 114.6h1.7v1.7h-1.7zM558.4 127.2h1.7v1.7h-1.7zM604.5 97.0h1.7v1.7h-1.7zM569.6 138.1h1.7v1.7h-1.7zM635.4 74.6h1.7v1.7h-1.7zM572.2 106.0h1.7v1.7h-1.7zM607.4 106.9h1.7v1.7h-1.7zM622.2 88.1h1.7v1.7h-1.7zM553.8 120.2h1.7v1.7h-1.7zM655.6 60.9h1.7v1.7h-1.7zM586.6 111.5h1.7v1.7h-1.7zM593.3 111.2h1.7v1.7h-1.7zM582.5 103.7h1.7v1.7h-1.7zM545.1 130.4h1.7v1.7h-1.7zM635.6 74.0h1.7v1.7h-1.7zM561.3 118.7h1.7v1.7h-1.7zM587.1 112.4h1.7v1.7h-1.7zM581.4 117.6h1.7v1.7h-1.7zM588.8 114.8h1.7v1.7h-1.7zM593.1 115.1h1.7v1.7h-1.7zM679.7 49.4h1.7v1.7h-1.7zM562.5 120.2h1.7v1.7h-1.7zM582.6 109.7h1.7v1.7h-1.7zM623.1 84.0h1.7v1.7h-1.7zM611.4 95.9h1.7v1.7h-1.7zM620.0 99.0h1.7v1.7h-1.7zM587.0 107.8h1.7v1.7h-1.7zM584.3 124.4h1.7v1.7h-1.7zM577.9 113.0h1.7v1.7h-1.7zM578.4 106.3h1.7v1.7h-1.7zM558.3 123.7h1.7v1.7h-1.7zM614.3 89.5h1.7v1.7h-1.7zM575.1 107.4h1.7v1.7h-1.7zM579.4 107.4h1.7v1.7h-1.7zM571.0 125.5h1.7v1.7h-1.7zM607.4 107.5h1.7v1.7h-1.7zM574.5 103.6h1.7v1.7h-1.7zM588.7 117.0h1.7v1.7h-1.7zM572.6 117.7h1.7v1.7h-1.7zM616.2 94.3h1.7v1.7h-1.7zM576.1 122.4h1.7v1.7h-1.7zM594.3 114.2h1.7v1.7h-1.7zM592.1 116.0h1.7v1.7h-1.7zM548.9 131.2h1.7v1.7h-1.7zM651.4 57.5h1.7v1.7h-1.7zM624.7 92.8h1.7v1.7h-1.7zM611.2 87.0h1.7v1.7h-1.7zM562.7 126.3h1.7v1.7h-1.7zM622.5 79.5h1.7v1.7h-1.7zM654.0 54.6h1.7v1.7h-1.7zM625.0 88.8h1.7v1.7h-1.7zM602.3 102.8h1.7v1.7h-1.7zM618.3 86.1h1.7v1.7h-1.7zM570.9 121.4h1.7v1.7h-1.7zM611.8 89.6h1.7v1.7h-1.7zM576.8 119.1h1.7v1.7h-1.7zM578.8 107.7h1.7v1.7h-1.7zM617.8 95.6h1.7v1.7h-1.7zM557.5 128.8h1.7v1.7h-1.7zM548.0 126.4h1.7v1.7h-1.7zM604.6 111.1h1.7v1.7h-1.7zM626.3 68.4h1.7v1.7h-1.7zM596.0 110.6h1.7v1.7h-1.7zM600.4 100.0h1.7v1.7h-1.7zM554.9 124.0h1.7v1.7h-1.7zM592.9 101.8h1.7v1.7h-1.7zM643.2 67.6h1.7v1.7h-1.7zM586.7 108.7h1.7v1.7h-1.7zM595.3 102.6h1.7v1.7h-1.7zM569.0 122.5h1.7v1.7h-1.7zM561.8 126.7h1.7v1.7h-1.7zM630.1 79.8h1.7v1.7h-1.7zM565.3 124.4h1.7v1.7h-1.7zM646.8 60.1h1.7v1.7h-1.7zM631.0 81.4h1.7v1.7h-1.7zM557.3 126.7h1.7v1.7h-1.7zM617.3 110.1h1.7v1.7h-1.7zM549.7 126.1h1.7v1.7h-1.7zM635.1 78.0h1.7v1.7h-1.7zM618.4 89.6h1.7v1.7h-1.7zM541.9 135.3h1.7v1.7h-1.7zM609.1 102.2h1.7v1.7h-1.7zM585.2 117.8h1.7v1.7h-1.7zM564.3 127.1h1.7v1.7h-1.7zM584.1 102.1h1.7v1.7h-1.7zM584.4 109.2h1.7v1.7h-1.7zM633.3 76.7h1.7v1.7h-1.7zM594.8 104.1h1.7v1.7h-1.7zM630.0 77.9h1.7v1.7h-1.7zM597.6 122.8h1.7v1.7h-1.7zM583.6 103.5h1.7v1.7h-1.7zM565.0 132.2h1.7v1.7h-1.7zM611.5 98.3h1.7v1.7h-1.7zM598.1 105.6h1.7v1.7h-1.7zM548.8 136.5h1.7v1.7h-1.7zM568.3 120.6h1.7v1.7h-1.7zM583.9 105.3h1.7v1.7h-1.7zM569.0 121.2h1.7v1.7h-1.7zM546.0 129.7h1.7v1.7h-1.7zM674.6 55.5h1.7v1.7h-1.7zM611.8 101.1h1.7v1.7h-1.7zM606.4 100.6h1.7v1.7h-1.7zM596.4 110.2h1.7v1.7h-1.7zM601.2 111.0h1.7v1.7h-1.7zM565.0 116.8h1.7v1.7h-1.7zM578.0 116.0h1.7v1.7h-1.7zM589.1 108.6h1.7v1.7h-1.7zM623.6 90.0h1.7v1.7h-1.7zM576.4 115.8h1.7v1.7h-1.7zM609.8 107.4h1.7v1.7h-1.7zM554.2 123.2h1.7v1.7h-1.7zM605.6 114.1h1.7v1.7h-1.7zM552.1 127.0h1.7v1.7h-1.7zM586.6 105.9h1.7v1.7h-1.7zM556.7 126.5h1.7v1.7h-1.7zM577.6 118.8h1.7v1.7h-1.7zM628.7 80.1h1.7v1.7h-1.7zM612.4 90.1h1.7v1.7h-1.7zM640.6 68.0h1.7v1.7h-1.7zM610.1 106.2h1.7v1.7h-1.7zM586.9 115.4h1.7v1.7h-1.7zM569.8 101.1h1.7v1.7h-1.7zM620.4 86.0h1.7v1.7h-1.7zM563.8 122.3h1.7v1.7h-1.7zM572.2 117.2h1.7v1.7h-1.7zM595.2 112.7h1.7v1.7h-1.7zM567.6 121.7h1.7v1.7h-1.7zM609.9 94.7h1.7v1.7h-1.7zM555.1 126.2h1.7v1.7h-1.7zM556.1 122.4h1.7v1.7h-1.7zM571.7 127.4h1.7v1.7h-1.7zM582.6 115.4h1.7v1.7h-1.7zM568.1 113.1h1.7v1.7h-1.7zM556.1 116.7h1.7v1.7h-1.7zM587.4 109.6h1.7v1.7h-1.7zM661.0 56.8h1.7v1.7h-1.7zM627.6 86.2h1.7v1.7h-1.7zM622.3 89.4h1.7v1.7h-1.7zM608.1 110.5h1.7v1.7h-1.7zM577.3 114.0h1.7v1.7h-1.7zM583.4 122.9h1.7v1.7h-1.7zM614.6 118.3h1.7v1.7h-1.7zM599.3 111.1h1.7v1.7h-1.7zM562.8 116.9h1.7v1.7h-1.7zM572.8 127.1h1.7v1.7h-1.7zM609.5 92.5h1.7v1.7h-1.7zM609.4 98.8h1.7v1.7h-1.7zM575.9 113.1h1.7v1.7h-1.7zM606.4 101.0h1.7v1.7h-1.7zM555.5 133.8h1.7v1.7h-1.7zM582.2 111.9h1.7v1.7h-1.7zM550.7 139.3h1.7v1.7h-1.7zM552.0 129.1h1.7v1.7h-1.7zM672.9 49.8h1.7v1.7h-1.7zM571.9 120.6h1.7v1.7h-1.7zM600.3 98.9h1.7v1.7h-1.7zM613.8 96.7h1.7v1.7h-1.7zM563.7 135.0h1.7v1.7h-1.7zM594.6 119.8h1.7v1.7h-1.7zM629.1 75.8h1.7v1.7h-1.7zM593.4 97.0h1.7v1.7h-1.7zM622.5 82.3h1.7v1.7h-1.7zM611.1 97.4h1.7v1.7h-1.7zM577.3 114.3h1.7v1.7h-1.7zM577.1 118.7h1.7v1.7h-1.7zM642.5 57.6h1.7v1.7h-1.7zM586.3 111.4h1.7v1.7h-1.7zM641.1 66.3h1.7v1.7h-1.7zM560.2 117.9h1.7v1.7h-1.7zM571.0 125.0h1.7v1.7h-1.7zM566.5 117.4h1.7v1.7h-1.7zM611.0 109.5h1.7v1.7h-1.7zM576.8 108.4h1.7v1.7h-1.7zM557.7 129.9h1.7v1.7h-1.7zM644.5 68.4h1.7v1.7h-1.7zM611.0 108.1h1.7v1.7h-1.7zM593.8 124.7h1.7v1.7h-1.7zM574.9 125.1h1.7v1.7h-1.7zM587.3 118.7h1.7v1.7h-1.7zM592.6 116.3h1.7v1.7h-1.7zM582.9 120.5h1.7v1.7h-1.7zM618.2 87.1h1.7v1.7h-1.7zM553.9 118.2h1.7v1.7h-1.7zM580.6 108.7h1.7v1.7h-1.7zM604.3 95.8h1.7v1.7h-1.7zM575.2 121.5h1.7v1.7h-1.7zM554.4 132.1h1.7v1.7h-1.7zM592.9 107.6h1.7v1.7h-1.7zM613.3 92.5h1.7v1.7h-1.7zM605.4 107.0h1.7v1.7h-1.7zM611.4 104.7h1.7v1.7h-1.7zM549.1 132.0h1.7v1.7h-1.7zM614.2 101.8h1.7v1.7h-1.7zM603.7 97.6h1.7v1.7h-1.7zM596.3 102.4h1.7v1.7h-1.7zM617.0 102.4h1.7v1.7h-1.7zM556.6 123.2h1.7v1.7h-1.7zM583.4 132.6h1.7v1.7h-1.7zM608.1 116.1h1.7v1.7h-1.7zM622.9 90.2h1.7v1.7h-1.7zM582.8 121.4h1.7v1.7h-1.7zM547.9 132.4h1.7v1.7h-1.7zM593.6 110.8h1.7v1.7h-1.7zM602.1 103.1h1.7v1.7h-1.7zM572.1 125.7h1.7v1.7h-1.7zM658.2 58.1h1.7v1.7h-1.7zM588.2 113.4h1.7v1.7h-1.7zM590.2 98.7h1.7v1.7h-1.7zM625.8 84.4h1.7v1.7h-1.7zM569.9 118.3h1.7v1.7h-1.7zM556.2 124.4h1.7v1.7h-1.7zM576.0 109.6h1.7v1.7h-1.7zM618.1 91.4h1.7v1.7h-1.7zM606.1 111.5h1.7v1.7h-1.7zM612.2 97.7h1.7v1.7h-1.7zM583.8 103.5h1.7v1.7h-1.7zM561.2 115.7h1.7v1.7h-1.7zM580.8 116.2h1.7v1.7h-1.7zM585.0 117.2h1.7v1.7h-1.7zM558.3 127.5h1.7v1.7h-1.7zM591.6 114.1h1.7v1.7h-1.7zM599.2 104.1h1.7v1.7h-1.7zM573.3 123.4h1.7v1.7h-1.7zM605.7 104.8h1.7v1.7h-1.7zM560.7 114.7h1.7v1.7h-1.7zM602.0 113.1h1.7v1.7h-1.7zM549.5 135.7h1.7v1.7h-1.7zM597.0 98.8h1.7v1.7h-1.7zM565.9 122.4h1.7v1.7h-1.7zM609.6 100.6h1.7v1.7h-1.7zM633.1 73.4h1.7v1.7h-1.7zM578.0 110.7h1.7v1.7h-1.7zM562.9 129.3h1.7v1.7h-1.7zM594.8 105.3h1.7v1.7h-1.7zM550.3 130.1h1.7v1.7h-1.7zM603.9 101.8h1.7v1.7h-1.7zM556.1 123.9h1.7v1.7h-1.7zM605.2 101.3h1.7v1.7h-1.7zM616.4 97.9h1.7v1.7h-1.7zM587.7 114.1h1.7v1.7h-1.7zM598.7 101.2h1.7v1.7h-1.7zM613.9 102.0h1.7v1.7h-1.7zM613.8 94.8h1.7v1.7h-1.7zM553.9 115.0h1.7v1.7h-1.7zM572.0 121.9h1.7v1.7h-1.7zM608.9 107.6h1.7v1.7h-1.7zM588.0 112.0h1.7v1.7h-1.7zM608.8 107.1h1.7v1.7h-1.7zM594.6 114.5h1.7v1.7h-1.7zM594.5 108.0h1.7v1.7h-1.7zM598.3 111.9h1.7v1.7h-1.7zM571.9 116.0h1.7v1.7h-1.7zM607.4 103.4h1.7v1.7h-1.7zM605.7 95.1h1.7v1.7h-1.7zM614.5 96.2h1.7v1.7h-1.7zM604.2 104.7h1.7v1.7h-1.7zM571.2 126.4h1.7v1.7h-1.7zM598.6 105.6h1.7v1.7h-1.7zM573.8 117.6h1.7v1.7h-1.7zM584.3 130.1h1.7v1.7h-1.7zM610.8 97.8h1.7v1.7h-1.7zM574.4 120.4h1.7v1.7h-1.7zM646.2 66.3h1.7v1.7h-1.7zM615.3 85.4h1.7v1.7h-1.7zM610.8 97.1h1.7v1.7h-1.7zM565.6 127.0h1.7v1.7h-1.7zM602.7 112.6h1.7v1.7h-1.7zM567.6 120.9h1.7v1.7h-1.7zM550.3 134.2h1.7v1.7h-1.7zM584.8 105.6h1.7v1.7h-1.7zM564.1 121.1h1.7v1.7h-1.7zM611.4 101.6h1.7v1.7h-1.7zM608.1 98.1h1.7v1.7h-1.7zM609.6 97.8h1.7v1.7h-1.7zM648.4 61.3h1.7v1.7h-1.7zM596.1 108.6h1.7v1.7h-1.7zM583.1 115.5h1.7v1.7h-1.7zM549.4 133.8h1.7v1.7h-1.7zM560.0 120.6h1.7v1.7h-1.7zM666.5 56.7h1.7v1.7h-1.7zM652.1 56.7h1.7v1.7h-1.7zM554.7 125.4h1.7v1.7h-1.7zM570.8 125.2h1.7v1.7h-1.7zM560.3 113.3h1.7v1.7h-1.7zM549.9 117.0h1.7v1.7h-1.7zM555.1 126.2h1.7v1.7h-1.7zM541.5 135.1h1.7v1.7h-1.7zM550.9 133.0h1.7v1.7h-1.7zM617.9 97.6h1.7v1.7h-1.7zM589.5 105.9h1.7v1.7h-1.7zM611.5 96.3h1.7v1.7h-1.7zM548.5 130.4h1.7v1.7h-1.7zM576.8 121.7h1.7v1.7h-1.7zM561.2 125.2h1.7v1.7h-1.7zM564.8 119.6h1.7v1.7h-1.7zM618.0 88.3h1.7v1.7h-1.7zM616.5 97.1h1.7v1.7h-1.7zM600.6 105.9h1.7v1.7h-1.7zM613.9 91.5h1.7v1.7h-1.7zM603.1 105.3h1.7v1.7h-1.7zM565.1 120.0h1.7v1.7h-1.7zM555.6 136.2h1.7v1.7h-1.7zM637.7 68.9h1.7v1.7h-1.7zM614.0 89.4h1.7v1.7h-1.7zM601.6 104.5h1.7v1.7h-1.7zM596.3 91.4h1.7v1.7h-1.7zM593.7 96.0h1.7v1.7h-1.7zM647.9 59.5h1.7v1.7h-1.7zM579.2 110.3h1.7v1.7h-1.7zM638.8 70.7h1.7v1.7h-1.7zM592.9 123.1h1.7v1.7h-1.7zM592.8 126.5h1.7v1.7h-1.7zM619.9 83.1h1.7v1.7h-1.7zM578.5 109.8h1.7v1.7h-1.7zM598.2 113.8h1.7v1.7h-1.7zM614.4 93.0h1.7v1.7h-1.7zM580.4 117.9h1.7v1.7h-1.7zM605.8 102.6h1.7v1.7h-1.7zM563.7 131.6h1.7v1.7h-1.7zM572.9 129.3h1.7v1.7h-1.7zM598.9 112.9h1.7v1.7h-1.7zM565.0 123.7h1.7v1.7h-1.7zM603.8 105.0h1.7v1.7h-1.7zM606.7 103.2h1.7v1.7h-1.7zM598.1 107.0h1.7v1.7h-1.7zM550.9 114.7h1.7v1.7h-1.7zM565.9 118.0h1.7v1.7h-1.7zM590.4 100.9h1.7v1.7h-1.7zM584.8 113.6h1.7v1.7h-1.7zM559.7 128.1h1.7v1.7h-1.7zM611.5 101.8h1.7v1.7h-1.7zM563.2 117.2h1.7v1.7h-1.7zM605.7 107.8h1.7v1.7h-1.7zM571.4 110.9h1.7v1.7h-1.7zM560.3 128.2h1.7v1.7h-1.7zM689.6 47.3h1.7v1.7h-1.7zM577.2 115.7h1.7v1.7h-1.7zM594.0 114.0h1.7v1.7h-1.7zM602.3 116.4h1.7v1.7h-1.7zM598.8 101.5h1.7v1.7h-1.7zM671.9 52.5h1.7v1.7h-1.7zM583.0 113.9h1.7v1.7h-1.7zM572.1 122.6h1.7v1.7h-1.7zM605.4 91.6h1.7v1.7h-1.7zM583.1 104.8h1.7v1.7h-1.7zM575.6 132.7h1.7v1.7h-1.7zM593.0 114.1h1.7v1.7h-1.7zM603.4 104.0h1.7v1.7h-1.7zM595.5 107.2h1.7v1.7h-1.7zM602.4 103.9h1.7v1.7h-1.7zM593.3 102.3h1.7v1.7h-1.7zM556.9 124.6h1.7v1.7h-1.7zM582.3 113.0h1.7v1.7h-1.7zM550.0 127.6h1.7v1.7h-1.7zM653.5 58.3h1.7v1.7h-1.7zM615.3 91.6h1.7v1.7h-1.7zM589.4 116.4h1.7v1.7h-1.7zM584.6 105.6h1.7v1.7h-1.7zM589.9 108.0h1.7v1.7h-1.7zM621.7 91.7h1.7v1.7h-1.7zM592.9 105.5h1.7v1.7h-1.7zM624.2 91.1h1.7v1.7h-1.7zM570.3 132.4h1.7v1.7h-1.7zM570.3 105.3h1.7v1.7h-1.7zM591.1 123.9h1.7v1.7h-1.7zM577.3 116.9h1.7v1.7h-1.7zM566.0 113.5h1.7v1.7h-1.7zM610.0 94.6h1.7v1.7h-1.7zM547.3 122.6h1.7v1.7h-1.7zM581.0 106.2h1.7v1.7h-1.7zM584.2 124.4h1.7v1.7h-1.7zM628.7 76.5h1.7v1.7h-1.7zM587.2 98.1h1.7v1.7h-1.7zM586.6 114.6h1.7v1.7h-1.7zM597.3 115.5h1.7v1.7h-1.7zM568.5 129.8h1.7v1.7h-1.7zM631.1 72.2h1.7v1.7h-1.7zM569.6 115.2h1.7v1.7h-1.7zM655.5 58.3h1.7v1.7h-1.7zM601.9 107.6h1.7v1.7h-1.7zM562.2 118.0h1.7v1.7h-1.7zM604.0 107.3h1.7v1.7h-1.7zM612.1 104.4h1.7v1.7h-1.7zM585.2 111.8h1.7v1.7h-1.7zM601.9 110.3h1.7v1.7h-1.7zM613.2 106.0h1.7v1.7h-1.7zM670.1 52.5h1.7v1.7h-1.7zM561.2 136.3h1.7v1.7h-1.7zM593.9 105.9h1.7v1.7h-1.7zM568.0 121.0h1.7v1.7h-1.7zM612.0 97.5h1.7v1.7h-1.7zM599.1 104.2h1.7v1.7h-1.7zM603.2 106.3h1.7v1.7h-1.7zM614.5 97.7h1.7v1.7h-1.7zM543.2 133.1h1.7v1.7h-1.7zM576.9 118.1h1.7v1.7h-1.7zM643.6 70.5h1.7v1.7h-1.7zM620.7 78.1h1.7v1.7h-1.7zM558.7 115.1h1.7v1.7h-1.7zM565.4 121.5h1.7v1.7h-1.7zM567.8 124.7h1.7v1.7h-1.7zM547.0 128.3h1.7v1.7h-1.7zM553.7 131.2h1.7v1.7h-1.7zM584.3 110.3h1.7v1.7h-1.7zM575.8 115.5h1.7v1.7h-1.7zM625.4 89.6h1.7v1.7h-1.7zM596.1 107.7h1.7v1.7h-1.7zM591.7 107.0h1.7v1.7h-1.7zM603.6 106.7h1.7v1.7h-1.7zM597.7 107.6h1.7v1.7h-1.7zM605.4 97.6h1.7v1.7h-1.7zM614.8 80.5h1.7v1.7h-1.7zM662.1 59.4h1.7v1.7h-1.7zM563.8 119.0h1.7v1.7h-1.7zM561.1 124.3h1.7v1.7h-1.7zM678.6 50.7h1.7v1.7h-1.7zM548.9 124.2h1.7v1.7h-1.7zM559.5 129.0h1.7v1.7h-1.7zM654.9 65.2h1.7v1.7h-1.7zM590.5 106.7h1.7v1.7h-1.7zM570.0 119.8h1.7v1.7h-1.7zM587.1 104.4h1.7v1.7h-1.7zM584.0 105.9h1.7v1.7h-1.7zM579.6 114.5h1.7v1.7h-1.7zM552.4 127.6h1.7v1.7h-1.7zM579.0 108.9h1.7v1.7h-1.7zM586.2 112.6h1.7v1.7h-1.7zM627.7 77.4h1.7v1.7h-1.7zM607.5 108.0h1.7v1.7h-1.7zM668.1 56.7h1.7v1.7h-1.7zM601.3 115.3h1.7v1.7h-1.7zM620.0 103.9h1.7v1.7h-1.7zM618.2 91.9h1.7v1.7h-1.7zM575.4 112.4h1.7v1.7h-1.7zM599.3 115.6h1.7v1.7h-1.7zM619.1 99.0h1.7v1.7h-1.7zM607.3 106.8h1.7v1.7h-1.7zM554.3 122.2h1.7v1.7h-1.7zM583.2 121.6h1.7v1.7h-1.7zM551.9 136.3h1.7v1.7h-1.7zM608.7 95.6h1.7v1.7h-1.7zM645.8 68.3h1.7v1.7h-1.7zM671.7 51.8h1.7v1.7h-1.7zM621.6 92.1h1.7v1.7h-1.7zM616.0 97.1h1.7v1.7h-1.7zM622.4 86.3h1.7v1.7h-1.7zM589.2 111.9h1.7v1.7h-1.7zM597.8 100.1h1.7v1.7h-1.7zM596.3 111.1h1.7v1.7h-1.7zM582.5 114.5h1.7v1.7h-1.7zM581.4 130.6h1.7v1.7h-1.7zM658.3 55.6h1.7v1.7h-1.7zM619.6 90.7h1.7v1.7h-1.7zM552.8 121.1h1.7v1.7h-1.7zM562.6 115.6h1.7v1.7h-1.7zM638.1 69.3h1.7v1.7h-1.7zM578.6 119.0h1.7v1.7h-1.7zM613.1 86.0h1.7v1.7h-1.7zM587.1 105.0h1.7v1.7h-1.7zM583.0 122.5h1.7v1.7h-1.7zM575.0 128.3h1.7v1.7h-1.7zM553.0 127.1h1.7v1.7h-1.7zM618.2 98.2h1.7v1.7h-1.7zM572.3 105.2h1.7v1.7h-1.7zM566.0 133.0h1.7v1.7h-1.7zM656.8 58.6h1.7v1.7h-1.7zM591.1 118.1h1.7v1.7h-1.7zM636.8 74.9h1.7v1.7h-1.7zM585.4 109.8h1.7v1.7h-1.7zM565.0 112.0h1.7v1.7h-1.7zM615.7 92.8h1.7v1.7h-1.7zM573.8 137.5h1.7v1.7h-1.7zM624.0 96.2h1.7v1.7h-1.7zM579.3 121.8h1.7v1.7h-1.7zM575.6 118.5h1.7v1.7h-1.7zM581.3 116.8h1.7v1.7h-1.7zM592.6 124.5h1.7v1.7h-1.7zM590.6 106.4h1.7v1.7h-1.7zM584.3 109.4h1.7v1.7h-1.7zM599.1 109.6h1.7v1.7h-1.7zM562.6 126.6h1.7v1.7h-1.7zM655.2 58.7h1.7v1.7h-1.7zM579.1 122.9h1.7v1.7h-1.7zM600.8 109.1h1.7v1.7h-1.7zM635.3 75.8h1.7v1.7h-1.7zM578.7 117.5h1.7v1.7h-1.7zM558.9 129.4h1.7v1.7h-1.7zM547.4 131.0h1.7v1.7h-1.7zM659.4 56.4h1.7v1.7h-1.7zM571.7 124.4h1.7v1.7h-1.7zM608.4 91.2h1.7v1.7h-1.7zM613.1 95.6h1.7v1.7h-1.7zM555.4 128.5h1.7v1.7h-1.7zM554.8 129.7h1.7v1.7h-1.7zM607.3 108.8h1.7v1.7h-1.7zM585.8 109.2h1.7v1.7h-1.7zM577.0 122.9h1.7v1.7h-1.7zM554.8 132.6h1.7v1.7h-1.7zM622.7 89.6h1.7v1.7h-1.7zM591.5 104.0h1.7v1.7h-1.7zM586.2 110.3h1.7v1.7h-1.7zM630.6 79.6h1.7v1.7h-1.7zM617.0 100.8h1.7v1.7h-1.7zM584.7 111.0h1.7v1.7h-1.7zM578.5 119.5h1.7v1.7h-1.7zM575.8 112.7h1.7v1.7h-1.7zM593.5 118.4h1.7v1.7h-1.7zM574.8 114.2h1.7v1.7h-1.7zM572.7 116.7h1.7v1.7h-1.7zM556.9 130.8h1.7v1.7h-1.7zM578.1 117.9h1.7v1.7h-1.7zM620.2 78.7h1.7v1.7h-1.7zM558.4 125.2h1.7v1.7h-1.7zM612.7 105.4h1.7v1.7h-1.7zM605.9 88.1h1.7v1.7h-1.7zM637.9 74.8h1.7v1.7h-1.7zM558.9 115.8h1.7v1.7h-1.7zM611.2 92.2h1.7v1.7h-1.7zM569.6 107.2h1.7v1.7h-1.7zM601.1 110.1h1.7v1.7h-1.7zM610.2 104.4h1.7v1.7h-1.7zM551.9 132.7h1.7v1.7h-1.7zM568.1 139.0h1.7v1.7h-1.7zM560.2 119.8h1.7v1.7h-1.7zM559.3 124.5h1.7v1.7h-1.7zM600.7 110.5h1.7v1.7h-1.7zM569.4 111.0h1.7v1.7h-1.7zM602.2 104.5h1.7v1.7h-1.7zM555.8 119.7h1.7v1.7h-1.7zM558.1 135.2h1.7v1.7h-1.7zM566.7 126.8h1.7v1.7h-1.7zM671.1 53.5h1.7v1.7h-1.7zM626.7 79.5h1.7v1.7h-1.7zM564.3 110.4h1.7v1.7h-1.7zM580.6 109.3h1.7v1.7h-1.7zM597.8 111.6h1.7v1.7h-1.7zM572.3 111.1h1.7v1.7h-1.7zM578.1 115.7h1.7v1.7h-1.7zM592.2 106.1h1.7v1.7h-1.7zM601.0 113.3h1.7v1.7h-1.7zM587.9 104.6h1.7v1.7h-1.7zM562.5 129.9h1.7v1.7h-1.7zM590.7 96.9h1.7v1.7h-1.7zM625.3 83.9h1.7v1.7h-1.7zM574.8 122.6h1.7v1.7h-1.7zM571.6 117.4h1.7v1.7h-1.7zM560.8 116.0h1.7v1.7h-1.7zM596.1 104.0h1.7v1.7h-1.7zM564.8 121.7h1.7v1.7h-1.7zM632.7 75.9h1.7v1.7h-1.7zM614.9 99.4h1.7v1.7h-1.7zM608.2 102.4h1.7v1.7h-1.7zM563.5 122.8h1.7v1.7h-1.7zM565.5 128.0h1.7v1.7h-1.7zM635.9 70.0h1.7v1.7h-1.7zM550.9 127.2h1.7v1.7h-1.7zM574.3 93.2h1.7v1.7h-1.7zM614.7 83.9h1.7v1.7h-1.7zM582.4 109.9h1.7v1.7h-1.7zM614.0 76.1h1.7v1.7h-1.7zM576.0 117.0h1.7v1.7h-1.7zM633.5 89.2h1.7v1.7h-1.7zM570.1 130.1h1.7v1.7h-1.7zM572.1 119.0h1.7v1.7h-1.7zM558.1 130.1h1.7v1.7h-1.7zM547.8 124.9h1.7v1.7h-1.7zM576.2 124.5h1.7v1.7h-1.7zM550.5 126.2h1.7v1.7h-1.7zM614.7 98.5h1.7v1.7h-1.7zM691.6 46.6h1.7v1.7h-1.7zM581.6 121.0h1.7v1.7h-1.7zM613.7 102.7h1.7v1.7h-1.7zM602.2 112.7h1.7v1.7h-1.7zM555.0 125.5h1.7v1.7h-1.7zM552.4 125.3h1.7v1.7h-1.7zM596.6 114.0h1.7v1.7h-1.7zM553.9 129.8h1.7v1.7h-1.7zM609.9 104.2h1.7v1.7h-1.7zM624.0 97.4h1.7v1.7h-1.7zM653.3 57.6h1.7v1.7h-1.7zM560.0 127.1h1.7v1.7h-1.7zM601.3 103.5h1.7v1.7h-1.7zM621.4 89.6h1.7v1.7h-1.7zM602.5 107.0h1.7v1.7h-1.7zM561.4 128.2h1.7v1.7h-1.7zM571.9 129.0h1.7v1.7h-1.7zM568.0 127.9h1.7v1.7h-1.7zM613.3 108.9h1.7v1.7h-1.7zM611.3 100.9h1.7v1.7h-1.7zM578.2 103.4h1.7v1.7h-1.7zM576.5 118.4h1.7v1.7h-1.7zM640.8 65.8h1.7v1.7h-1.7zM648.5 64.2h1.7v1.7h-1.7zM620.0 95.3h1.7v1.7h-1.7zM580.9 114.9h1.7v1.7h-1.7zM602.0 116.4h1.7v1.7h-1.7zM552.8 124.9h1.7v1.7h-1.7zM612.3 93.0h1.7v1.7h-1.7zM575.8 123.9h1.7v1.7h-1.7zM556.2 129.8h1.7v1.7h-1.7zM593.9 120.5h1.7v1.7h-1.7zM583.3 114.4h1.7v1.7h-1.7zM555.9 128.9h1.7v1.7h-1.7zM559.2 129.9h1.7v1.7h-1.7zM626.2 87.5h1.7v1.7h-1.7zM591.0 113.4h1.7v1.7h-1.7zM569.7 116.8h1.7v1.7h-1.7zM567.8 107.5h1.7v1.7h-1.7zM603.3 102.1h1.7v1.7h-1.7zM610.2 103.0h1.7v1.7h-1.7zM552.3 123.8h1.7v1.7h-1.7zM552.1 125.9h1.7v1.7h-1.7zM579.6 124.7h1.7v1.7h-1.7zM585.0 118.3h1.7v1.7h-1.7zM576.3 120.3h1.7v1.7h-1.7zM621.9 89.2h1.7v1.7h-1.7zM554.2 125.4h1.7v1.7h-1.7zM588.5 112.7h1.7v1.7h-1.7zM609.3 89.1h1.7v1.7h-1.7zM541.3 133.2h1.7v1.7h-1.7zM598.1 117.9h1.7v1.7h-1.7zM593.9 113.8h1.7v1.7h-1.7zM563.6 116.9h1.7v1.7h-1.7zM599.0 109.0h1.7v1.7h-1.7zM568.1 125.6h1.7v1.7h-1.7zM623.2 85.8h1.7v1.7h-1.7zM609.8 102.2h1.7v1.7h-1.7zM572.3 102.5h1.7v1.7h-1.7zM613.3 93.9h1.7v1.7h-1.7zM624.6 83.7h1.7v1.7h-1.7zM557.6 133.8h1.7v1.7h-1.7zM606.1 100.6h1.7v1.7h-1.7zM585.7 109.2h1.7v1.7h-1.7zM629.4 78.5h1.7v1.7h-1.7zM614.6 95.8h1.7v1.7h-1.7zM623.4 99.1h1.7v1.7h-1.7zM561.8 127.5h1.7v1.7h-1.7zM578.2 115.5h1.7v1.7h-1.7zM614.5 95.9h1.7v1.7h-1.7zM605.9 109.7h1.7v1.7h-1.7zM565.4 110.6h1.7v1.7h-1.7zM575.5 97.4h1.7v1.7h-1.7zM557.4 122.2h1.7v1.7h-1.7zM569.7 109.8h1.7v1.7h-1.7zM584.7 111.5h1.7v1.7h-1.7zM578.8 120.2h1.7v1.7h-1.7zM556.3 117.7h1.7v1.7h-1.7zM572.6 124.6h1.7v1.7h-1.7zM601.1 104.1h1.7v1.7h-1.7zM567.6 112.1h1.7v1.7h-1.7zM602.2 105.4h1.7v1.7h-1.7zM637.1 72.1h1.7v1.7h-1.7zM604.4 107.4h1.7v1.7h-1.7zM608.0 89.2h1.7v1.7h-1.7zM655.9 54.4h1.7v1.7h-1.7zM622.9 102.9h1.7v1.7h-1.7zM584.1 108.3h1.7v1.7h-1.7zM564.7 124.1h1.7v1.7h-1.7zM626.8 91.9h1.7v1.7h-1.7zM572.6 129.7h1.7v1.7h-1.7zM581.8 122.2h1.7v1.7h-1.7zM575.2 112.8h1.7v1.7h-1.7zM586.3 115.8h1.7v1.7h-1.7zM617.0 97.8h1.7v1.7h-1.7zM588.4 120.4h1.7v1.7h-1.7zM630.7 85.9h1.7v1.7h-1.7zM595.4 103.4h1.7v1.7h-1.7zM588.3 104.9h1.7v1.7h-1.7zM607.2 110.5h1.7v1.7h-1.7zM558.9 112.2h1.7v1.7h-1.7zM628.8 86.2h1.7v1.7h-1.7zM607.6 105.3h1.7v1.7h-1.7zM650.0 58.5h1.7v1.7h-1.7zM566.5 117.9h1.7v1.7h-1.7zM553.1 119.2h1.7v1.7h-1.7zM577.9 126.4h1.7v1.7h-1.7zM549.9 125.9h1.7v1.7h-1.7zM592.9 113.0h1.7v1.7h-1.7zM559.1 124.0h1.7v1.7h-1.7zM588.7 119.6h1.7v1.7h-1.7zM547.8 133.1h1.7v1.7h-1.7zM598.4 115.8h1.7v1.7h-1.7zM592.8 110.7h1.7v1.7h-1.7zM603.1 113.4h1.7v1.7h-1.7zM607.0 97.8h1.7v1.7h-1.7zM625.3 97.8h1.7v1.7h-1.7zM619.1 95.2h1.7v1.7h-1.7zM633.5 78.8h1.7v1.7h-1.7zM583.1 114.6h1.7v1.7h-1.7zM606.7 89.2h1.7v1.7h-1.7zM581.1 121.5h1.7v1.7h-1.7zM613.4 100.2h1.7v1.7h-1.7zM548.5 137.4h1.7v1.7h-1.7zM592.4 112.5h1.7v1.7h-1.7zM575.4 112.7h1.7v1.7h-1.7zM568.7 125.9h1.7v1.7h-1.7zM617.1 87.4h1.7v1.7h-1.7zM589.0 106.3h1.7v1.7h-1.7zM559.7 127.0h1.7v1.7h-1.7zM567.9 113.0h1.7v1.7h-1.7zM615.6 103.5h1.7v1.7h-1.7zM678.4 51.1h1.7v1.7h-1.7zM594.5 106.2h1.7v1.7h-1.7zM622.2 76.8h1.7v1.7h-1.7zM622.3 97.6h1.7v1.7h-1.7zM635.4 76.0h1.7v1.7h-1.7zM682.8 53.8h1.7v1.7h-1.7zM595.1 100.3h1.7v1.7h-1.7zM569.2 119.3h1.7v1.7h-1.7zM577.4 112.6h1.7v1.7h-1.7zM623.3 82.2h1.7v1.7h-1.7zM593.7 108.9h1.7v1.7h-1.7zM587.9 111.2h1.7v1.7h-1.7zM591.1 125.3h1.7v1.7h-1.7zM617.7 91.9h1.7v1.7h-1.7zM562.6 127.0h1.7v1.7h-1.7zM601.7 105.6h1.7v1.7h-1.7zM560.3 118.2h1.7v1.7h-1.7zM588.7 108.5h1.7v1.7h-1.7zM621.5 102.5h1.7v1.7h-1.7zM607.9 105.8h1.7v1.7h-1.7zM603.8 109.5h1.7v1.7h-1.7zM565.3 116.5h1.7v1.7h-1.7zM596.6 126.5h1.7v1.7h-1.7zM606.5 101.7h1.7v1.7h-1.7zM627.2 79.3h1.7v1.7h-1.7zM546.6 129.5h1.7v1.7h-1.7zM563.7 122.3h1.7v1.7h-1.7zM554.7 129.4h1.7v1.7h-1.7zM571.8 121.4h1.7v1.7h-1.7zM577.0 126.1h1.7v1.7h-1.7zM586.3 117.6h1.7v1.7h-1.7zM594.0 100.4h1.7v1.7h-1.7zM575.4 122.5h1.7v1.7h-1.7zM560.0 97.9h1.7v1.7h-1.7zM591.4 112.6h1.7v1.7h-1.7zM656.5 58.3h1.7v1.7h-1.7zM576.4 111.7h1.7v1.7h-1.7zM603.3 104.2h1.7v1.7h-1.7zM552.9 129.8h1.7v1.7h-1.7zM579.8 110.1h1.7v1.7h-1.7zM577.6 124.9h1.7v1.7h-1.7zM672.1 51.0h1.7v1.7h-1.7zM580.8 106.8h1.7v1.7h-1.7zM551.0 128.2h1.7v1.7h-1.7zM570.6 124.9h1.7v1.7h-1.7zM585.5 109.7h1.7v1.7h-1.7zM686.5 51.6h1.7v1.7h-1.7zM641.6 69.0h1.7v1.7h-1.7zM617.4 100.5h1.7v1.7h-1.7zM607.3 105.2h1.7v1.7h-1.7zM597.9 115.2h1.7v1.7h-1.7zM571.3 116.5h1.7v1.7h-1.7zM632.4 83.5h1.7v1.7h-1.7zM573.7 126.7h1.7v1.7h-1.7zM571.2 107.6h1.7v1.7h-1.7zM609.5 95.5h1.7v1.7h-1.7zM589.5 99.7h1.7v1.7h-1.7zM553.6 126.6h1.7v1.7h-1.7zM584.4 107.2h1.7v1.7h-1.7zM608.1 107.6h1.7v1.7h-1.7zM544.2 128.7h1.7v1.7h-1.7zM598.9 99.2h1.7v1.7h-1.7zM613.8 75.4h1.7v1.7h-1.7zM550.3 123.4h1.7v1.7h-1.7zM635.9 79.0h1.7v1.7h-1.7zM587.2 106.2h1.7v1.7h-1.7zM564.7 119.3h1.7v1.7h-1.7zM548.8 133.9h1.7v1.7h-1.7zM666.5 55.3h1.7v1.7h-1.7zM579.8 118.5h1.7v1.7h-1.7zM612.5 98.7h1.7v1.7h-1.7zM635.5 87.3h1.7v1.7h-1.7zM573.4 124.9h1.7v1.7h-1.7zM579.5 120.1h1.7v1.7h-1.7zM579.8 122.9h1.7v1.7h-1.7zM580.3 124.5h1.7v1.7h-1.7zM653.7 61.8h1.7v1.7h-1.7zM605.5 103.3h1.7v1.7h-1.7zM601.0 100.6h1.7v1.7h-1.7zM613.3 100.7h1.7v1.7h-1.7zM609.2 96.5h1.7v1.7h-1.7zM591.6 121.8h1.7v1.7h-1.7zM574.7 117.0h1.7v1.7h-1.7zM566.4 122.1h1.7v1.7h-1.7zM577.1 117.1h1.7v1.7h-1.7zM590.6 100.1h1.7v1.7h-1.7zM581.8 105.1h1.7v1.7h-1.7zM568.8 126.9h1.7v1.7h-1.7zM685.2 48.7h1.7v1.7h-1.7zM665.2 58.2h1.7v1.7h-1.7zM549.1 124.4h1.7v1.7h-1.7zM567.3 123.3h1.7v1.7h-1.7zM585.5 105.7h1.7v1.7h-1.7zM597.8 112.7h1.7v1.7h-1.7zM628.2 82.5h1.7v1.7h-1.7zM553.1 126.8h1.7v1.7h-1.7zM568.4 118.7h1.7v1.7h-1.7zM578.7 119.8h1.7v1.7h-1.7zM595.6 118.0h1.7v1.7h-1.7zM616.0 85.2h1.7v1.7h-1.7zM576.3 114.0h1.7v1.7h-1.7zM568.4 114.0h1.7v1.7h-1.7zM556.1 121.7h1.7v1.7h-1.7zM611.0 102.0h1.7v1.7h-1.7zM639.4 70.5h1.7v1.7h-1.7zM600.8 87.9h1.7v1.7h-1.7zM582.7 115.0h1.7v1.7h-1.7zM549.0 134.8h1.7v1.7h-1.7zM615.2 127.3h1.7v1.7h-1.7zM609.6 98.8h1.7v1.7h-1.7zM561.6 124.2h1.7v1.7h-1.7zM591.5 128.9h1.7v1.7h-1.7zM583.3 119.5h1.7v1.7h-1.7zM592.7 107.6h1.7v1.7h-1.7zM614.3 102.1h1.7v1.7h-1.7zM641.4 69.9h1.7v1.7h-1.7zM615.3 93.5h1.7v1.7h-1.7zM608.7 93.0h1.7v1.7h-1.7zM601.0 118.0h1.7v1.7h-1.7zM583.4 118.4h1.7v1.7h-1.7zM570.6 118.4h1.7v1.7h-1.7zM612.4 89.6h1.7v1.7h-1.7zM625.6 79.4h1.7v1.7h-1.7zM594.2 87.6h1.7v1.7h-1.7zM591.6 133.2h1.7v1.7h-1.7zM652.9 57.4h1.7v1.7h-1.7zM589.2 112.6h1.7v1.7h-1.7zM585.2 116.6h1.7v1.7h-1.7zM581.0 120.6h1.7v1.7h-1.7zM552.7 128.5h1.7v1.7h-1.7zM603.9 99.7h1.7v1.7h-1.7zM568.0 128.5h1.7v1.7h-1.7zM585.2 124.7h1.7v1.7h-1.7zM619.6 86.4h1.7v1.7h-1.7zM555.3 130.3h1.7v1.7h-1.7zM590.8 114.4h1.7v1.7h-1.7zM573.0 115.3h1.7v1.7h-1.7zM621.4 94.2h1.7v1.7h-1.7zM569.7 123.1h1.7v1.7h-1.7zM625.1 81.9h1.7v1.7h-1.7zM552.5 129.0h1.7v1.7h-1.7zM595.0 107.3h1.7v1.7h-1.7zM633.6 76.2h1.7v1.7h-1.7zM608.3 104.0h1.7v1.7h-1.7zM658.6 59.2h1.7v1.7h-1.7zM565.0 132.6h1.7v1.7h-1.7zM564.6 110.1h1.7v1.7h-1.7zM581.9 108.2h1.7v1.7h-1.7zM604.6 100.8h1.7v1.7h-1.7zM641.0 71.8h1.7v1.7h-1.7zM606.2 108.4h1.7v1.7h-1.7zM616.7 82.3h1.7v1.7h-1.7zM598.8 107.0h1.7v1.7h-1.7zM644.2 52.2h1.7v1.7h-1.7zM564.3 138.8h1.7v1.7h-1.7zM574.5 119.0h1.7v1.7h-1.7zM567.7 118.0h1.7v1.7h-1.7zM575.5 111.4h1.7v1.7h-1.7zM591.2 103.0h1.7v1.7h-1.7zM592.7 109.4h1.7v1.7h-1.7zM682.7 48.2h1.7v1.7h-1.7zM589.0 105.5h1.7v1.7h-1.7zM555.1 125.6h1.7v1.7h-1.7zM589.1 119.2h1.7v1.7h-1.7zM613.6 103.5h1.7v1.7h-1.7zM611.0 95.4h1.7v1.7h-1.7zM554.2 122.9h1.7v1.7h-1.7zM551.9 125.6h1.7v1.7h-1.7zM554.5 136.6h1.7v1.7h-1.7zM616.2 104.1h1.7v1.7h-1.7zM564.2 117.0h1.7v1.7h-1.7zM545.4 131.9h1.7v1.7h-1.7zM568.5 126.7h1.7v1.7h-1.7zM635.8 75.3h1.7v1.7h-1.7zM567.5 120.5h1.7v1.7h-1.7zM601.5 94.2h1.7v1.7h-1.7zM648.5 64.8h1.7v1.7h-1.7zM592.9 116.3h1.7v1.7h-1.7zM576.2 115.3h1.7v1.7h-1.7zM621.6 83.6h1.7v1.7h-1.7zM579.2 119.4h1.7v1.7h-1.7zM597.6 112.1h1.7v1.7h-1.7zM597.3 103.0h1.7v1.7h-1.7zM648.8 58.1h1.7v1.7h-1.7zM640.4 72.2h1.7v1.7h-1.7zM573.2 111.1h1.7v1.7h-1.7zM562.3 128.6h1.7v1.7h-1.7zM620.0 95.1h1.7v1.7h-1.7zM557.5 124.7h1.7v1.7h-1.7zM559.6 126.0h1.7v1.7h-1.7zM552.1 122.9h1.7v1.7h-1.7zM651.2 60.6h1.7v1.7h-1.7zM628.9 73.1h1.7v1.7h-1.7zM553.3 134.4h1.7v1.7h-1.7zM570.9 105.9h1.7v1.7h-1.7zM585.4 107.1h1.7v1.7h-1.7zM618.9 84.2h1.7v1.7h-1.7zM620.5 91.3h1.7v1.7h-1.7zM574.2 126.6h1.7v1.7h-1.7zM584.2 116.0h1.7v1.7h-1.7zM587.3 111.1h1.7v1.7h-1.7zM556.0 128.4h1.7v1.7h-1.7zM632.1 88.6h1.7v1.7h-1.7zM567.4 116.4h1.7v1.7h-1.7zM577.3 111.9h1.7v1.7h-1.7zM571.9 117.2h1.7v1.7h-1.7zM618.8 96.5h1.7v1.7h-1.7zM590.0 108.0h1.7v1.7h-1.7zM634.8 75.8h1.7v1.7h-1.7zM568.0 122.2h1.7v1.7h-1.7zM554.8 132.3h1.7v1.7h-1.7zM604.9 110.4h1.7v1.7h-1.7zM670.3 51.3h1.7v1.7h-1.7zM590.4 106.5h1.7v1.7h-1.7zM619.3 88.9h1.7v1.7h-1.7zM601.8 106.9h1.7v1.7h-1.7zM540.8 133.9h1.7v1.7h-1.7zM596.9 110.4h1.7v1.7h-1.7zM586.9 117.3h1.7v1.7h-1.7zM589.1 102.3h1.7v1.7h-1.7zM559.8 127.9h1.7v1.7h-1.7zM551.3 125.6h1.7v1.7h-1.7zM579.8 118.2h1.7v1.7h-1.7zM552.7 128.4h1.7v1.7h-1.7zM549.4 128.8h1.7v1.7h-1.7zM586.7 115.8h1.7v1.7h-1.7zM569.9 126.6h1.7v1.7h-1.7zM560.4 121.8h1.7v1.7h-1.7zM629.3 84.4h1.7v1.7h-1.7zM552.8 134.9h1.7v1.7h-1.7zM591.9 106.3h1.7v1.7h-1.7zM601.1 109.8h1.7v1.7h-1.7zM558.1 129.5h1.7v1.7h-1.7zM584.0 96.9h1.7v1.7h-1.7zM602.5 96.9h1.7v1.7h-1.7zM592.7 105.7h1.7v1.7h-1.7zM570.0 116.3h1.7v1.7h-1.7zM559.4 132.8h1.7v1.7h-1.7zM617.9 86.6h1.7v1.7h-1.7zM622.9 97.1h1.7v1.7h-1.7zM573.3 106.2h1.7v1.7h-1.7zM547.5 126.0h1.7v1.7h-1.7zM573.8 114.6h1.7v1.7h-1.7zM579.4 109.1h1.7v1.7h-1.7zM653.6 59.5h1.7v1.7h-1.7zM562.2 124.8h1.7v1.7h-1.7zM587.4 103.7h1.7v1.7h-1.7zM551.8 127.1h1.7v1.7h-1.7zM571.3 125.6h1.7v1.7h-1.7zM590.3 105.9h1.7v1.7h-1.7zM618.1 105.3h1.7v1.7h-1.7zM620.6 90.2h1.7v1.7h-1.7zM680.3 44.8h1.7v1.7h-1.7zM558.9 135.2h1.7v1.7h-1.7zM571.0 112.8h1.7v1.7h-1.7zM624.0 92.1h1.7v1.7h-1.7zM558.1 132.0h1.7v1.7h-1.7zM579.1 124.3h1.7v1.7h-1.7zM643.3 67.5h1.7v1.7h-1.7zM657.7 53.0h1.7v1.7h-1.7zM550.6 133.5h1.7v1.7h-1.7zM612.0 97.7h1.7v1.7h-1.7zM605.9 92.9h1.7v1.7h-1.7zM624.6 88.8h1.7v1.7h-1.7zM568.3 114.8h1.7v1.7h-1.7zM552.1 131.7h1.7v1.7h-1.7zM614.9 94.3h1.7v1.7h-1.7zM637.0 78.3h1.7v1.7h-1.7zM552.0 130.9h1.7v1.7h-1.7zM612.8 86.4h1.7v1.7h-1.7zM617.5 99.5h1.7v1.7h-1.7zM645.1 70.1h1.7v1.7h-1.7zM596.3 122.4h1.7v1.7h-1.7zM546.9 135.2h1.7v1.7h-1.7zM581.4 115.9h1.7v1.7h-1.7zM642.8 73.3h1.7v1.7h-1.7zM610.9 96.7h1.7v1.7h-1.7zM563.3 126.9h1.7v1.7h-1.7zM604.3 102.2h1.7v1.7h-1.7zM680.8 52.3h1.7v1.7h-1.7zM556.5 125.7h1.7v1.7h-1.7zM553.2 117.7h1.7v1.7h-1.7zM600.4 101.6h1.7v1.7h-1.7zM597.7 131.5h1.7v1.7h-1.7zM590.0 118.7h1.7v1.7h-1.7zM584.3 106.1h1.7v1.7h-1.7zM546.1 131.8h1.7v1.7h-1.7zM588.7 110.6h1.7v1.7h-1.7zM605.4 117.0h1.7v1.7h-1.7zM613.6 98.3h1.7v1.7h-1.7zM553.1 129.3h1.7v1.7h-1.7zM587.9 114.2h1.7v1.7h-1.7zM583.0 103.2h1.7v1.7h-1.7zM561.4 123.3h1.7v1.7h-1.7zM589.6 106.8h1.7v1.7h-1.7zM635.0 74.6h1.7v1.7h-1.7zM587.9 102.2h1.7v1.7h-1.7zM567.0 128.5h1.7v1.7h-1.7zM603.8 107.5h1.7v1.7h-1.7zM544.6 131.8h1.7v1.7h-1.7zM608.0 104.0h1.7v1.7h-1.7zM585.0 119.1h1.7v1.7h-1.7zM565.7 130.6h1.7v1.7h-1.7zM595.6 107.3h1.7v1.7h-1.7zM623.2 76.7h1.7v1.7h-1.7zM606.5 89.3h1.7v1.7h-1.7zM619.3 92.1h1.7v1.7h-1.7zM573.8 111.7h1.7v1.7h-1.7zM615.1 98.5h1.7v1.7h-1.7zM560.5 117.7h1.7v1.7h-1.7zM562.2 123.8h1.7v1.7h-1.7zM563.3 129.8h1.7v1.7h-1.7zM567.5 120.7h1.7v1.7h-1.7zM594.5 97.1h1.7v1.7h-1.7zM569.0 114.6h1.7v1.7h-1.7zM643.9 71.0h1.7v1.7h-1.7zM590.9 109.4h1.7v1.7h-1.7zM564.0 110.3h1.7v1.7h-1.7zM597.4 109.6h1.7v1.7h-1.7zM567.8 114.9h1.7v1.7h-1.7zM605.0 109.8h1.7v1.7h-1.7zM603.4 108.6h1.7v1.7h-1.7zM614.5 103.7h1.7v1.7h-1.7zM564.7 122.8h1.7v1.7h-1.7zM582.4 113.3h1.7v1.7h-1.7zM596.3 99.4h1.7v1.7h-1.7zM553.4 122.1h1.7v1.7h-1.7zM598.7 108.9h1.7v1.7h-1.7zM563.3 121.2h1.7v1.7h-1.7zM590.2 110.5h1.7v1.7h-1.7zM592.4 112.4h1.7v1.7h-1.7zM558.1 114.6h1.7v1.7h-1.7zM557.5 124.3h1.7v1.7h-1.7zM563.7 133.5h1.7v1.7h-1.7zM582.5 130.4h1.7v1.7h-1.7zM589.1 122.3h1.7v1.7h-1.7zM610.7 115.1h1.7v1.7h-1.7zM570.1 117.8h1.7v1.7h-1.7zM598.6 104.9h1.7v1.7h-1.7zM591.3 105.9h1.7v1.7h-1.7zM589.8 109.9h1.7v1.7h-1.7zM566.1 119.6h1.7v1.7h-1.7zM604.6 97.3h1.7v1.7h-1.7zM583.1 108.2h1.7v1.7h-1.7zM603.4 103.5h1.7v1.7h-1.7zM620.4 86.7h1.7v1.7h-1.7zM577.2 115.6h1.7v1.7h-1.7zM595.0 109.9h1.7v1.7h-1.7zM615.9 94.3h1.7v1.7h-1.7zM612.2 97.7h1.7v1.7h-1.7zM613.9 101.7h1.7v1.7h-1.7zM567.9 102.7h1.7v1.7h-1.7zM644.4 66.1h1.7v1.7h-1.7zM601.3 101.6h1.7v1.7h-1.7zM584.2 125.2h1.7v1.7h-1.7zM614.9 99.3h1.7v1.7h-1.7zM602.7 108.4h1.7v1.7h-1.7zM587.7 112.9h1.7v1.7h-1.7zM567.1 119.6h1.7v1.7h-1.7zM593.5 111.9h1.7v1.7h-1.7zM583.2 101.4h1.7v1.7h-1.7zM611.8 104.9h1.7v1.7h-1.7zM608.5 90.1h1.7v1.7h-1.7zM596.1 103.4h1.7v1.7h-1.7zM567.6 127.0h1.7v1.7h-1.7zM553.5 123.3h1.7v1.7h-1.7zM611.9 100.4h1.7v1.7h-1.7zM565.7 124.3h1.7v1.7h-1.7zM613.8 90.0h1.7v1.7h-1.7zM567.7 127.2h1.7v1.7h-1.7zM578.5 91.9h1.7v1.7h-1.7zM582.2 114.9h1.7v1.7h-1.7zM547.7 128.2h1.7v1.7h-1.7zM563.7 121.1h1.7v1.7h-1.7zM606.4 103.2h1.7v1.7h-1.7zM565.3 116.5h1.7v1.7h-1.7zM573.6 133.2h1.7v1.7h-1.7zM568.3 128.4h1.7v1.7h-1.7zM555.4 137.6h1.7v1.7h-1.7zM580.3 121.7h1.7v1.7h-1.7zM607.3 101.0h1.7v1.7h-1.7zM613.4 95.6h1.7v1.7h-1.7zM556.0 131.6h1.7v1.7h-1.7zM662.4 51.3h1.7v1.7h-1.7zM574.1 111.1h1.7v1.7h-1.7zM619.5 83.8h1.7v1.7h-1.7zM565.3 126.3h1.7v1.7h-1.7zM598.1 100.7h1.7v1.7h-1.7zM605.5 104.5h1.7v1.7h-1.7zM588.3 111.2h1.7v1.7h-1.7zM584.2 109.5h1.7v1.7h-1.7zM595.5 106.8h1.7v1.7h-1.7zM575.9 119.1h1.7v1.7h-1.7zM589.2 120.8h1.7v1.7h-1.7zM562.3 127.2h1.7v1.7h-1.7zM601.2 94.1h1.7v1.7h-1.7zM632.0 77.9h1.7v1.7h-1.7zM626.1 94.4h1.7v1.7h-1.7zM550.2 139.0h1.7v1.7h-1.7zM640.9 73.6h1.7v1.7h-1.7zM566.6 128.2h1.7v1.7h-1.7zM576.8 122.9h1.7v1.7h-1.7zM604.8 87.8h1.7v1.7h-1.7zM605.0 96.6h1.7v1.7h-1.7zM572.5 117.2h1.7v1.7h-1.7zM617.7 90.6h1.7v1.7h-1.7zM657.8 58.6h1.7v1.7h-1.7zM683.1 46.9h1.7v1.7h-1.7zM602.0 92.1h1.7v1.7h-1.7zM652.1 57.9h1.7v1.7h-1.7zM614.2 88.4h1.7v1.7h-1.7zM558.2 139.6h1.7v1.7h-1.7zM580.3 122.2h1.7v1.7h-1.7zM586.9 111.3h1.7v1.7h-1.7zM587.2 107.6h1.7v1.7h-1.7zM562.9 135.2h1.7v1.7h-1.7zM582.8 111.8h1.7v1.7h-1.7zM592.8 96.0h1.7v1.7h-1.7zM607.9 93.2h1.7v1.7h-1.7zM595.5 106.7h1.7v1.7h-1.7zM549.0 128.9h1.7v1.7h-1.7zM594.8 104.6h1.7v1.7h-1.7zM611.3 89.5h1.7v1.7h-1.7zM662.2 52.5h1.7v1.7h-1.7zM566.3 125.7h1.7v1.7h-1.7zM581.0 116.0h1.7v1.7h-1.7zM561.2 128.8h1.7v1.7h-1.7zM645.5 58.2h1.7v1.7h-1.7zM602.1 100.8h1.7v1.7h-1.7zM597.8 102.8h1.7v1.7h-1.7zM577.6 117.9h1.7v1.7h-1.7zM577.5 132.6h1.7v1.7h-1.7zM614.2 93.0h1.7v1.7h-1.7zM579.4 116.0h1.7v1.7h-1.7zM654.0 54.6h1.7v1.7h-1.7zM619.9 95.1h1.7v1.7h-1.7zM614.6 95.2h1.7v1.7h-1.7zM606.2 104.8h1.7v1.7h-1.7zM563.3 124.1h1.7v1.7h-1.7zM595.0 113.2h1.7v1.7h-1.7zM594.8 112.2h1.7v1.7h-1.7zM568.0 113.8h1.7v1.7h-1.7zM621.5 90.9h1.7v1.7h-1.7zM576.0 118.9h1.7v1.7h-1.7zM664.7 61.3h1.7v1.7h-1.7zM600.1 98.8h1.7v1.7h-1.7zM587.0 112.3h1.7v1.7h-1.7zM611.6 98.8h1.7v1.7h-1.7zM584.9 110.7h1.7v1.7h-1.7zM655.9 55.6h1.7v1.7h-1.7zM575.8 109.3h1.7v1.7h-1.7zM598.2 112.6h1.7v1.7h-1.7zM559.1 122.6h1.7v1.7h-1.7zM593.5 93.1h1.7v1.7h-1.7zM567.0 117.8h1.7v1.7h-1.7zM591.3 99.6h1.7v1.7h-1.7zM586.3 107.5h1.7v1.7h-1.7zM546.8 128.4h1.7v1.7h-1.7zM607.1 98.0h1.7v1.7h-1.7zM568.0 114.1h1.7v1.7h-1.7zM550.2 129.7h1.7v1.7h-1.7zM586.9 108.3h1.7v1.7h-1.7zM571.9 115.4h1.7v1.7h-1.7zM642.9 64.9h1.7v1.7h-1.7zM608.7 96.0h1.7v1.7h-1.7zM636.4 76.3h1.7v1.7h-1.7zM597.4 109.3h1.7v1.7h-1.7zM579.5 115.4h1.7v1.7h-1.7zM565.5 114.5h1.7v1.7h-1.7zM628.6 86.7h1.7v1.7h-1.7zM576.4 104.1h1.7v1.7h-1.7zM541.8 135.8h1.7v1.7h-1.7zM625.3 88.4h1.7v1.7h-1.7zM596.3 114.8h1.7v1.7h-1.7zM585.5 121.4h1.7v1.7h-1.7zM622.0 74.4h1.7v1.7h-1.7zM634.6 73.0h1.7v1.7h-1.7zM571.1 124.6h1.7v1.7h-1.7zM605.4 109.7h1.7v1.7h-1.7zM571.4 100.3h1.7v1.7h-1.7zM590.2 105.8h1.7v1.7h-1.7zM580.8 127.7h1.7v1.7h-1.7zM607.3 97.8h1.7v1.7h-1.7zM659.8 56.6h1.7v1.7h-1.7zM622.4 89.4h1.7v1.7h-1.7zM576.0 123.2h1.7v1.7h-1.7zM595.3 111.9h1.7v1.7h-1.7zM577.4 120.7h1.7v1.7h-1.7zM617.2 97.3h1.7v1.7h-1.7zM569.9 118.5h1.7v1.7h-1.7zM570.0 129.9h1.7v1.7h-1.7zM586.6 107.8h1.7v1.7h-1.7zM595.4 98.1h1.7v1.7h-1.7zM602.2 95.6h1.7v1.7h-1.7zM553.5 134.8h1.7v1.7h-1.7zM582.7 105.1h1.7v1.7h-1.7zM583.7 124.2h1.7v1.7h-1.7zM583.7 93.8h1.7v1.7h-1.7zM610.6 99.8h1.7v1.7h-1.7zM545.1 132.3h1.7v1.7h-1.7zM669.0 51.8h1.7v1.7h-1.7zM578.9 116.1h1.7v1.7h-1.7zM561.7 134.3h1.7v1.7h-1.7zM571.9 124.9h1.7v1.7h-1.7zM551.9 137.8h1.7v1.7h-1.7zM571.0 125.2h1.7v1.7h-1.7zM593.5 117.1h1.7v1.7h-1.7zM542.4 135.1h1.7v1.7h-1.7zM646.4 63.9h1.7v1.7h-1.7zM596.9 110.7h1.7v1.7h-1.7zM578.5 126.3h1.7v1.7h-1.7zM590.9 111.5h1.7v1.7h-1.7zM558.6 127.3h1.7v1.7h-1.7zM591.7 113.1h1.7v1.7h-1.7zM568.3 129.6h1.7v1.7h-1.7zM551.0 124.0h1.7v1.7h-1.7zM554.3 136.7h1.7v1.7h-1.7zM621.1 86.1h1.7v1.7h-1.7zM566.4 120.0h1.7v1.7h-1.7zM611.4 102.9h1.7v1.7h-1.7zM576.9 111.4h1.7v1.7h-1.7zM583.6 120.8h1.7v1.7h-1.7zM601.9 106.6h1.7v1.7h-1.7zM559.6 129.3h1.7v1.7h-1.7zM574.4 114.5h1.7v1.7h-1.7zM581.5 109.0h1.7v1.7h-1.7zM566.3 122.3h1.7v1.7h-1.7zM598.2 101.9h1.7v1.7h-1.7zM623.4 89.2h1.7v1.7h-1.7zM601.9 118.8h1.7v1.7h-1.7zM615.3 100.0h1.7v1.7h-1.7zM568.5 120.5h1.7v1.7h-1.7zM593.6 110.3h1.7v1.7h-1.7zM562.8 130.4h1.7v1.7h-1.7zM618.2 86.6h1.7v1.7h-1.7zM571.8 102.7h1.7v1.7h-1.7zM609.1 97.0h1.7v1.7h-1.7zM565.5 122.2h1.7v1.7h-1.7zM571.1 120.7h1.7v1.7h-1.7zM555.4 126.7h1.7v1.7h-1.7zM594.7 93.4h1.7v1.7h-1.7zM589.2 111.3h1.7v1.7h-1.7zM558.9 137.3h1.7v1.7h-1.7zM573.6 116.1h1.7v1.7h-1.7zM639.1 74.8h1.7v1.7h-1.7zM596.7 93.7h1.7v1.7h-1.7zM645.0 65.0h1.7v1.7h-1.7zM565.7 120.7h1.7v1.7h-1.7zM600.0 110.2h1.7v1.7h-1.7zM563.6 124.0h1.7v1.7h-1.7zM618.7 91.5h1.7v1.7h-1.7zM561.6 126.2h1.7v1.7h-1.7zM587.4 107.9h1.7v1.7h-1.7zM570.9 130.3h1.7v1.7h-1.7zM565.5 122.9h1.7v1.7h-1.7zM610.3 99.5h1.7v1.7h-1.7zM609.2 96.0h1.7v1.7h-1.7zM581.5 118.1h1.7v1.7h-1.7zM610.9 99.7h1.7v1.7h-1.7zM545.4 130.1h1.7v1.7h-1.7zM567.3 118.9h1.7v1.7h-1.7zM614.0 61.3h1.7v1.7h-1.7zM623.7 86.8h1.7v1.7h-1.7zM548.4 130.2h1.7v1.7h-1.7zM632.8 68.9h1.7v1.7h-1.7zM554.2 124.5h1.7v1.7h-1.7zM597.5 114.9h1.7v1.7h-1.7zM580.6 110.8h1.7v1.7h-1.7zM585.5 121.0h1.7v1.7h-1.7zM581.0 101.9h1.7v1.7h-1.7zM592.3 111.3h1.7v1.7h-1.7zM602.4 97.8h1.7v1.7h-1.7zM587.1 98.4h1.7v1.7h-1.7zM561.5 126.2h1.7v1.7h-1.7zM571.5 122.4h1.7v1.7h-1.7zM574.4 96.1h1.7v1.7h-1.7zM594.0 98.8h1.7v1.7h-1.7zM582.6 121.6h1.7v1.7h-1.7zM569.9 117.2h1.7v1.7h-1.7zM596.5 112.8h1.7v1.7h-1.7zM584.5 114.4h1.7v1.7h-1.7zM541.3 135.5h1.7v1.7h-1.7zM580.7 122.6h1.7v1.7h-1.7zM623.5 82.0h1.7v1.7h-1.7zM617.4 97.8h1.7v1.7h-1.7zM574.6 118.3h1.7v1.7h-1.7zM592.7 109.9h1.7v1.7h-1.7zM642.0 71.3h1.7v1.7h-1.7zM583.3 118.2h1.7v1.7h-1.7zM569.0 105.5h1.7v1.7h-1.7zM625.8 88.5h1.7v1.7h-1.7zM604.2 100.8h1.7v1.7h-1.7zM603.8 110.8h1.7v1.7h-1.7zM589.4 124.2h1.7v1.7h-1.7zM593.1 109.0h1.7v1.7h-1.7zM595.5 105.6h1.7v1.7h-1.7zM575.2 119.9h1.7v1.7h-1.7zM645.5 64.1h1.7v1.7h-1.7zM610.3 106.5h1.7v1.7h-1.7zM566.7 128.2h1.7v1.7h-1.7zM557.7 124.7h1.7v1.7h-1.7zM600.3 97.6h1.7v1.7h-1.7zM657.1 61.5h1.7v1.7h-1.7zM647.2 66.1h1.7v1.7h-1.7zM587.7 120.2h1.7v1.7h-1.7zM581.3 102.7h1.7v1.7h-1.7zM555.4 131.1h1.7v1.7h-1.7zM553.4 127.1h1.7v1.7h-1.7zM550.2 127.6h1.7v1.7h-1.7zM576.8 120.0h1.7v1.7h-1.7zM615.5 105.6h1.7v1.7h-1.7zM600.0 102.9h1.7v1.7h-1.7zM566.4 121.0h1.7v1.7h-1.7zM567.2 105.6h1.7v1.7h-1.7zM621.5 92.7h1.7v1.7h-1.7zM638.2 69.7h1.7v1.7h-1.7zM552.7 130.2h1.7v1.7h-1.7zM628.0 94.2h1.7v1.7h-1.7zM594.0 113.8h1.7v1.7h-1.7zM562.6 127.6h1.7v1.7h-1.7zM594.1 140.1h1.7v1.7h-1.7zM579.7 111.4h1.7v1.7h-1.7zM606.4 95.6h1.7v1.7h-1.7zM570.8 125.2h1.7v1.7h-1.7zM554.9 128.5h1.7v1.7h-1.7zM600.9 95.3h1.7v1.7h-1.7zM625.0 93.7h1.7v1.7h-1.7zM610.8 110.2h1.7v1.7h-1.7zM587.3 101.2h1.7v1.7h-1.7zM582.9 115.3h1.7v1.7h-1.7zM593.9 102.2h1.7v1.7h-1.7zM549.0 136.0h1.7v1.7h-1.7zM613.0 102.2h1.7v1.7h-1.7zM566.3 123.2h1.7v1.7h-1.7zM600.7 111.2h1.7v1.7h-1.7zM562.3 117.6h1.7v1.7h-1.7zM553.2 129.5h1.7v1.7h-1.7zM609.6 96.8h1.7v1.7h-1.7zM591.6 102.5h1.7v1.7h-1.7zM629.5 92.2h1.7v1.7h-1.7zM555.8 123.8h1.7v1.7h-1.7zM605.2 98.8h1.7v1.7h-1.7zM589.1 105.8h1.7v1.7h-1.7zM589.8 115.5h1.7v1.7h-1.7zM653.5 58.9h1.7v1.7h-1.7zM585.3 117.1h1.7v1.7h-1.7zM567.3 119.7h1.7v1.7h-1.7zM616.0 85.3h1.7v1.7h-1.7zM597.3 97.9h1.7v1.7h-1.7zM602.7 95.9h1.7v1.7h-1.7zM594.6 72.3h1.7v1.7h-1.7zM598.9 101.6h1.7v1.7h-1.7zM595.2 111.9h1.7v1.7h-1.7zM602.1 108.9h1.7v1.7h-1.7zM566.8 126.6h1.7v1.7h-1.7zM584.9 106.8h1.7v1.7h-1.7zM617.8 83.5h1.7v1.7h-1.7zM624.0 88.8h1.7v1.7h-1.7zM617.4 89.4h1.7v1.7h-1.7zM548.4 134.6h1.7v1.7h-1.7zM573.2 117.8h1.7v1.7h-1.7zM571.7 121.0h1.7v1.7h-1.7zM561.7 118.6h1.7v1.7h-1.7zM548.0 132.4h1.7v1.7h-1.7zM595.4 100.9h1.7v1.7h-1.7zM555.3 137.2h1.7v1.7h-1.7zM568.0 119.0h1.7v1.7h-1.7zM608.3 98.5h1.7v1.7h-1.7zM648.8 60.2h1.7v1.7h-1.7zM541.0 132.8h1.7v1.7h-1.7zM561.5 125.4h1.7v1.7h-1.7zM614.5 104.6h1.7v1.7h-1.7zM593.3 109.9h1.7v1.7h-1.7zM589.6 108.4h1.7v1.7h-1.7zM590.9 100.4h1.7v1.7h-1.7zM599.2 104.0h1.7v1.7h-1.7zM591.0 122.1h1.7v1.7h-1.7zM548.8 127.2h1.7v1.7h-1.7zM591.4 110.7h1.7v1.7h-1.7zM662.7 55.0h1.7v1.7h-1.7zM557.4 128.8h1.7v1.7h-1.7zM631.5 76.4h1.7v1.7h-1.7zM563.5 113.1h1.7v1.7h-1.7zM562.3 119.8h1.7v1.7h-1.7zM572.4 113.7h1.7v1.7h-1.7zM594.3 105.2h1.7v1.7h-1.7zM662.1 50.4h1.7v1.7h-1.7zM621.5 91.9h1.7v1.7h-1.7zM578.3 105.3h1.7v1.7h-1.7zM584.3 123.6h1.7v1.7h-1.7zM594.5 120.8h1.7v1.7h-1.7zM589.1 115.9h1.7v1.7h-1.7zM603.5 105.7h1.7v1.7h-1.7zM542.2 132.8h1.7v1.7h-1.7zM582.9 124.1h1.7v1.7h-1.7zM555.2 128.7h1.7v1.7h-1.7zM558.1 127.3h1.7v1.7h-1.7zM600.2 103.5h1.7v1.7h-1.7zM601.9 99.2h1.7v1.7h-1.7zM588.5 111.3h1.7v1.7h-1.7zM578.0 94.3h1.7v1.7h-1.7zM613.5 72.6h1.7v1.7h-1.7zM589.5 108.8h1.7v1.7h-1.7zM608.4 92.3h1.7v1.7h-1.7zM548.3 129.5h1.7v1.7h-1.7zM597.2 100.9h1.7v1.7h-1.7zM602.2 114.0h1.7v1.7h-1.7zM620.9 83.9h1.7v1.7h-1.7zM581.1 116.2h1.7v1.7h-1.7zM592.3 115.3h1.7v1.7h-1.7zM571.9 104.4h1.7v1.7h-1.7zM609.3 106.0h1.7v1.7h-1.7zM588.7 110.4h1.7v1.7h-1.7zM562.5 127.2h1.7v1.7h-1.7zM589.4 117.5h1.7v1.7h-1.7zM610.2 93.0h1.7v1.7h-1.7zM607.2 96.6h1.7v1.7h-1.7zM590.8 118.6h1.7v1.7h-1.7zM614.4 96.5h1.7v1.7h-1.7zM608.2 95.7h1.7v1.7h-1.7zM618.7 100.8h1.7v1.7h-1.7zM593.7 105.4h1.7v1.7h-1.7zM574.6 126.3h1.7v1.7h-1.7zM565.8 130.3h1.7v1.7h-1.7zM580.5 121.1h1.7v1.7h-1.7zM567.5 130.2h1.7v1.7h-1.7zM604.1 104.6h1.7v1.7h-1.7zM546.2 129.0h1.7v1.7h-1.7zM562.2 121.4h1.7v1.7h-1.7zM562.3 123.3h1.7v1.7h-1.7zM649.4 64.7h1.7v1.7h-1.7zM621.3 90.7h1.7v1.7h-1.7zM544.1 137.2h1.7v1.7h-1.7zM567.1 117.7h1.7v1.7h-1.7zM604.6 100.7h1.7v1.7h-1.7zM583.0 119.7h1.7v1.7h-1.7zM605.3 96.7h1.7v1.7h-1.7zM602.6 110.0h1.7v1.7h-1.7zM616.6 101.3h1.7v1.7h-1.7zM552.4 124.3h1.7v1.7h-1.7zM584.4 108.1h1.7v1.7h-1.7zM587.3 111.3h1.7v1.7h-1.7zM586.1 116.0h1.7v1.7h-1.7zM621.1 87.3h1.7v1.7h-1.7zM602.7 98.5h1.7v1.7h-1.7zM562.4 103.8h1.7v1.7h-1.7zM581.0 113.2h1.7v1.7h-1.7zM622.4 94.1h1.7v1.7h-1.7zM613.4 99.0h1.7v1.7h-1.7zM546.9 130.2h1.7v1.7h-1.7zM548.3 137.0h1.7v1.7h-1.7zM597.1 103.1h1.7v1.7h-1.7zM629.2 86.1h1.7v1.7h-1.7zM577.7 119.0h1.7v1.7h-1.7zM559.6 123.5h1.7v1.7h-1.7zM588.8 129.2h1.7v1.7h-1.7zM597.9 111.0h1.7v1.7h-1.7zM616.8 95.3h1.7v1.7h-1.7zM556.8 126.8h1.7v1.7h-1.7zM554.3 133.3h1.7v1.7h-1.7zM633.4 82.3h1.7v1.7h-1.7zM658.0 59.5h1.7v1.7h-1.7zM607.9 102.4h1.7v1.7h-1.7zM561.0 134.1h1.7v1.7h-1.7zM573.8 122.9h1.7v1.7h-1.7zM595.2 103.5h1.7v1.7h-1.7zM546.4 129.3h1.7v1.7h-1.7zM560.2 130.2h1.7v1.7h-1.7zM582.9 113.1h1.7v1.7h-1.7zM620.7 96.4h1.7v1.7h-1.7zM601.2 108.9h1.7v1.7h-1.7zM597.9 91.7h1.7v1.7h-1.7zM634.3 82.7h1.7v1.7h-1.7zM569.8 125.9h1.7v1.7h-1.7zM605.3 102.4h1.7v1.7h-1.7zM612.4 101.9h1.7v1.7h-1.7zM612.8 96.2h1.7v1.7h-1.7zM564.6 129.8h1.7v1.7h-1.7zM575.8 109.8h1.7v1.7h-1.7zM631.7 80.5h1.7v1.7h-1.7zM583.5 110.5h1.7v1.7h-1.7zM581.8 112.0h1.7v1.7h-1.7zM648.5 70.1h1.7v1.7h-1.7zM593.5 117.0h1.7v1.7h-1.7zM628.2 83.3h1.7v1.7h-1.7zM586.7 109.1h1.7v1.7h-1.7zM606.1 107.4h1.7v1.7h-1.7zM578.7 109.7h1.7v1.7h-1.7zM581.5 109.7h1.7v1.7h-1.7zM597.2 101.3h1.7v1.7h-1.7zM659.0 57.4h1.7v1.7h-1.7zM608.7 100.5h1.7v1.7h-1.7zM601.7 96.9h1.7v1.7h-1.7zM575.8 113.2h1.7v1.7h-1.7zM624.7 88.5h1.7v1.7h-1.7zM570.1 120.6h1.7v1.7h-1.7zM601.7 109.7h1.7v1.7h-1.7zM619.9 91.7h1.7v1.7h-1.7zM563.6 124.0h1.7v1.7h-1.7zM620.4 88.9h1.7v1.7h-1.7zM600.2 104.4h1.7v1.7h-1.7zM584.7 122.5h1.7v1.7h-1.7zM560.1 127.5h1.7v1.7h-1.7zM566.7 125.5h1.7v1.7h-1.7zM657.7 55.9h1.7v1.7h-1.7zM550.2 115.5h1.7v1.7h-1.7zM611.8 88.0h1.7v1.7h-1.7zM609.2 98.1h1.7v1.7h-1.7zM568.9 127.0h1.7v1.7h-1.7zM581.4 116.3h1.7v1.7h-1.7zM577.2 114.4h1.7v1.7h-1.7zM597.7 107.6h1.7v1.7h-1.7zM624.6 89.7h1.7v1.7h-1.7zM608.9 102.3h1.7v1.7h-1.7zM591.8 116.4h1.7v1.7h-1.7zM577.4 121.1h1.7v1.7h-1.7zM620.8 82.0h1.7v1.7h-1.7zM612.5 89.2h1.7v1.7h-1.7zM596.5 96.1h1.7v1.7h-1.7zM583.9 119.8h1.7v1.7h-1.7zM564.3 131.4h1.7v1.7h-1.7zM552.8 126.0h1.7v1.7h-1.7zM607.4 121.7h1.7v1.7h-1.7zM586.5 114.5h1.7v1.7h-1.7zM650.2 62.9h1.7v1.7h-1.7zM565.1 123.4h1.7v1.7h-1.7zM543.2 134.1h1.7v1.7h-1.7zM613.7 93.5h1.7v1.7h-1.7zM611.7 98.5h1.7v1.7h-1.7zM572.9 118.0h1.7v1.7h-1.7zM621.8 74.9h1.7v1.7h-1.7zM558.2 124.2h1.7v1.7h-1.7zM617.8 102.8h1.7v1.7h-1.7zM563.7 127.3h1.7v1.7h-1.7zM553.7 125.5h1.7v1.7h-1.7zM591.3 111.3h1.7v1.7h-1.7zM624.4 94.8h1.7v1.7h-1.7zM607.5 98.3h1.7v1.7h-1.7zM589.7 115.2h1.7v1.7h-1.7zM646.2 64.8h1.7v1.7h-1.7zM575.8 109.1h1.7v1.7h-1.7zM566.0 121.0h1.7v1.7h-1.7zM588.9 87.2h1.7v1.7h-1.7zM670.6 52.2h1.7v1.7h-1.7zM664.8 48.3h1.7v1.7h-1.7zM586.3 119.6h1.7v1.7h-1.7zM592.3 98.3h1.7v1.7h-1.7zM603.2 104.6h1.7v1.7h-1.7zM575.0 122.5h1.7v1.7h-1.7zM576.3 121.0h1.7v1.7h-1.7zM638.1 67.6h1.7v1.7h-1.7zM551.2 122.1h1.7v1.7h-1.7zM613.5 102.5h1.7v1.7h-1.7zM580.1 110.7h1.7v1.7h-1.7zM580.2 112.2h1.7v1.7h-1.7zM597.8 108.0h1.7v1.7h-1.7zM583.2 112.0h1.7v1.7h-1.7zM620.3 90.5h1.7v1.7h-1.7zM594.2 105.5h1.7v1.7h-1.7zM612.7 95.3h1.7v1.7h-1.7zM551.2 118.0h1.7v1.7h-1.7zM678.4 48.6h1.7v1.7h-1.7zM568.3 122.3h1.7v1.7h-1.7zM649.5 60.6h1.7v1.7h-1.7zM592.3 106.9h1.7v1.7h-1.7zM608.1 105.6h1.7v1.7h-1.7zM574.4 112.6h1.7v1.7h-1.7zM560.5 132.4h1.7v1.7h-1.7zM603.4 108.7h1.7v1.7h-1.7zM615.7 99.8h1.7v1.7h-1.7zM554.9 130.9h1.7v1.7h-1.7zM684.3 43.6h1.7v1.7h-1.7zM546.3 128.3h1.7v1.7h-1.7zM614.4 101.6h1.7v1.7h-1.7zM622.5 90.4h1.7v1.7h-1.7zM677.2 55.5h1.7v1.7h-1.7zM574.5 125.7h1.7v1.7h-1.7zM543.7 135.4h1.7v1.7h-1.7zM561.1 125.5h1.7v1.7h-1.7zM556.9 126.0h1.7v1.7h-1.7zM602.9 106.0h1.7v1.7h-1.7zM595.3 106.4h1.7v1.7h-1.7zM552.2 128.9h1.7v1.7h-1.7zM597.6 110.5h1.7v1.7h-1.7zM606.9 103.9h1.7v1.7h-1.7zM553.5 129.9h1.7v1.7h-1.7zM606.3 85.8h1.7v1.7h-1.7zM591.9 101.1h1.7v1.7h-1.7zM597.7 101.2h1.7v1.7h-1.7zM639.7 63.5h1.7v1.7h-1.7zM663.9 51.9h1.7v1.7h-1.7zM578.9 107.1h1.7v1.7h-1.7zM562.0 115.5h1.7v1.7h-1.7zM578.7 112.2h1.7v1.7h-1.7zM554.5 124.3h1.7v1.7h-1.7zM573.3 108.2h1.7v1.7h-1.7zM545.1 131.9h1.7v1.7h-1.7zM620.7 83.5h1.7v1.7h-1.7zM571.7 119.7h1.7v1.7h-1.7zM559.1 117.9h1.7v1.7h-1.7zM599.5 98.2h1.7v1.7h-1.7zM587.2 116.2h1.7v1.7h-1.7zM606.2 90.3h1.7v1.7h-1.7zM592.6 113.1h1.7v1.7h-1.7zM584.7 124.2h1.7v1.7h-1.7zM610.2 104.9h1.7v1.7h-1.7zM604.4 95.0h1.7v1.7h-1.7zM581.6 122.6h1.7v1.7h-1.7zM639.2 79.6h1.7v1.7h-1.7zM551.5 131.0h1.7v1.7h-1.7zM620.2 101.9h1.7v1.7h-1.7zM565.2 131.4h1.7v1.7h-1.7zM592.2 99.5h1.7v1.7h-1.7zM616.2 98.2h1.7v1.7h-1.7zM595.2 111.2h1.7v1.7h-1.7zM595.5 106.4h1.7v1.7h-1.7zM571.2 117.6h1.7v1.7h-1.7zM574.5 121.9h1.7v1.7h-1.7zM642.5 89.7h1.7v1.7h-1.7zM555.0 126.8h1.7v1.7h-1.7zM625.8 92.5h1.7v1.7h-1.7zM637.7 70.3h1.7v1.7h-1.7zM562.7 130.9h1.7v1.7h-1.7zM651.2 65.0h1.7v1.7h-1.7zM546.0 125.0h1.7v1.7h-1.7zM549.3 125.6h1.7v1.7h-1.7zM589.5 117.9h1.7v1.7h-1.7zM577.0 121.3h1.7v1.7h-1.7zM611.2 108.5h1.7v1.7h-1.7zM639.7 79.6h1.7v1.7h-1.7zM550.4 129.6h1.7v1.7h-1.7zM605.2 110.5h1.7v1.7h-1.7zM573.1 120.2h1.7v1.7h-1.7zM611.9 94.6h1.7v1.7h-1.7zM598.7 104.7h1.7v1.7h-1.7zM568.6 125.1h1.7v1.7h-1.7zM614.0 92.8h1.7v1.7h-1.7zM563.1 121.5h1.7v1.7h-1.7zM568.8 131.6h1.7v1.7h-1.7zM632.5 77.8h1.7v1.7h-1.7zM561.7 128.2h1.7v1.7h-1.7zM583.6 120.6h1.7v1.7h-1.7zM551.6 128.5h1.7v1.7h-1.7zM621.3 90.7h1.7v1.7h-1.7zM587.0 105.0h1.7v1.7h-1.7zM578.3 109.6h1.7v1.7h-1.7zM547.9 136.9h1.7v1.7h-1.7zM575.7 124.4h1.7v1.7h-1.7zM569.6 117.3h1.7v1.7h-1.7zM607.6 110.0h1.7v1.7h-1.7zM571.0 120.9h1.7v1.7h-1.7zM577.0 108.3h1.7v1.7h-1.7zM552.5 125.1h1.7v1.7h-1.7zM562.2 128.0h1.7v1.7h-1.7zM570.4 107.6h1.7v1.7h-1.7zM566.5 125.2h1.7v1.7h-1.7zM608.1 107.6h1.7v1.7h-1.7zM541.5 135.6h1.7v1.7h-1.7zM595.6 91.1h1.7v1.7h-1.7zM569.7 127.0h1.7v1.7h-1.7zM605.3 116.4h1.7v1.7h-1.7zM622.2 80.1h1.7v1.7h-1.7zM593.4 112.9h1.7v1.7h-1.7zM591.8 111.2h1.7v1.7h-1.7zM632.0 72.5h1.7v1.7h-1.7zM542.9 134.3h1.7v1.7h-1.7zM557.9 125.7h1.7v1.7h-1.7zM552.6 121.9h1.7v1.7h-1.7zM589.2 113.7h1.7v1.7h-1.7zM616.0 94.5h1.7v1.7h-1.7zM578.4 120.5h1.7v1.7h-1.7zM586.6 115.4h1.7v1.7h-1.7zM628.9 78.1h1.7v1.7h-1.7zM608.5 93.9h1.7v1.7h-1.7zM606.2 115.8h1.7v1.7h-1.7zM576.5 125.9h1.7v1.7h-1.7zM637.6 70.2h1.7v1.7h-1.7zM554.3 135.8h1.7v1.7h-1.7zM552.6 130.7h1.7v1.7h-1.7zM615.5 95.6h1.7v1.7h-1.7zM628.8 87.0h1.7v1.7h-1.7zM585.2 112.7h1.7v1.7h-1.7zM644.0 77.8h1.7v1.7h-1.7zM612.1 94.4h1.7v1.7h-1.7zM632.0 81.2h1.7v1.7h-1.7zM614.1 85.9h1.7v1.7h-1.7zM609.9 101.7h1.7v1.7h-1.7zM558.8 121.0h1.7v1.7h-1.7zM571.2 102.7h1.7v1.7h-1.7zM571.6 117.8h1.7v1.7h-1.7zM588.3 115.4h1.7v1.7h-1.7zM590.8 106.3h1.7v1.7h-1.7zM636.2 75.7h1.7v1.7h-1.7zM557.1 124.4h1.7v1.7h-1.7zM657.6 57.9h1.7v1.7h-1.7zM590.0 96.9h1.7v1.7h-1.7zM652.5 64.0h1.7v1.7h-1.7zM571.1 112.2h1.7v1.7h-1.7zM600.9 104.9h1.7v1.7h-1.7zM601.8 104.2h1.7v1.7h-1.7zM587.7 110.2h1.7v1.7h-1.7zM609.7 107.9h1.7v1.7h-1.7zM601.6 98.7h1.7v1.7h-1.7zM580.3 112.5h1.7v1.7h-1.7zM571.6 127.9h1.7v1.7h-1.7zM611.9 104.6h1.7v1.7h-1.7zM551.5 131.4h1.7v1.7h-1.7zM583.7 127.5h1.7v1.7h-1.7zM581.0 112.1h1.7v1.7h-1.7zM586.6 104.8h1.7v1.7h-1.7zM591.7 108.9h1.7v1.7h-1.7zM588.3 106.4h1.7v1.7h-1.7zM589.0 114.2h1.7v1.7h-1.7zM599.1 98.2h1.7v1.7h-1.7zM652.4 61.0h1.7v1.7h-1.7zM620.8 91.0h1.7v1.7h-1.7zM542.2 135.3h1.7v1.7h-1.7zM555.6 129.6h1.7v1.7h-1.7zM630.1 80.6h1.7v1.7h-1.7zM602.7 99.0h1.7v1.7h-1.7zM552.8 138.3h1.7v1.7h-1.7zM564.2 123.5h1.7v1.7h-1.7zM579.6 120.2h1.7v1.7h-1.7zM564.3 122.5h1.7v1.7h-1.7zM582.7 116.7h1.7v1.7h-1.7zM574.2 114.8h1.7v1.7h-1.7zM631.2 87.2h1.7v1.7h-1.7zM568.8 129.7h1.7v1.7h-1.7zM563.0 122.9h1.7v1.7h-1.7zM565.2 128.5h1.7v1.7h-1.7zM608.0 100.8h1.7v1.7h-1.7zM597.5 98.5h1.7v1.7h-1.7zM654.7 60.7h1.7v1.7h-1.7zM587.8 123.0h1.7v1.7h-1.7zM553.6 132.0h1.7v1.7h-1.7zM611.5 91.3h1.7v1.7h-1.7zM568.8 127.5h1.7v1.7h-1.7zM611.1 103.1h1.7v1.7h-1.7zM619.8 94.1h1.7v1.7h-1.7zM551.3 134.1h1.7v1.7h-1.7zM549.6 127.5h1.7v1.7h-1.7zM668.9 54.4h1.7v1.7h-1.7zM621.8 98.5h1.7v1.7h-1.7zM615.9 92.5h1.7v1.7h-1.7zM591.9 100.6h1.7v1.7h-1.7zM597.4 111.0h1.7v1.7h-1.7zM620.1 105.5h1.7v1.7h-1.7zM562.5 113.5h1.7v1.7h-1.7zM614.4 93.2h1.7v1.7h-1.7zM611.6 88.0h1.7v1.7h-1.7zM574.6 116.3h1.7v1.7h-1.7zM550.4 123.9h1.7v1.7h-1.7zM612.2 97.1h1.7v1.7h-1.7zM563.7 116.5h1.7v1.7h-1.7zM649.0 61.8h1.7v1.7h-1.7zM572.9 111.6h1.7v1.7h-1.7zM592.7 118.3h1.7v1.7h-1.7zM661.0 55.6h1.7v1.7h-1.7zM553.4 129.1h1.7v1.7h-1.7zM628.7 80.7h1.7v1.7h-1.7zM632.2 79.3h1.7v1.7h-1.7zM552.7 125.7h1.7v1.7h-1.7zM597.5 107.5h1.7v1.7h-1.7zM611.1 90.4h1.7v1.7h-1.7zM602.3 110.8h1.7v1.7h-1.7zM552.9 127.7h1.7v1.7h-1.7zM567.0 116.6h1.7v1.7h-1.7zM576.9 120.4h1.7v1.7h-1.7zM637.0 75.9h1.7v1.7h-1.7zM555.0 133.2h1.7v1.7h-1.7zM654.7 56.8h1.7v1.7h-1.7zM558.2 119.2h1.7v1.7h-1.7zM548.3 126.7h1.7v1.7h-1.7zM566.3 108.5h1.7v1.7h-1.7zM562.0 120.8h1.7v1.7h-1.7zM596.8 98.1h1.7v1.7h-1.7zM623.7 89.3h1.7v1.7h-1.7zM571.7 104.7h1.7v1.7h-1.7zM611.2 100.3h1.7v1.7h-1.7zM547.9 133.2h1.7v1.7h-1.7zM545.2 128.4h1.7v1.7h-1.7zM589.5 115.5h1.7v1.7h-1.7zM552.8 127.1h1.7v1.7h-1.7zM577.0 118.7h1.7v1.7h-1.7zM568.8 115.1h1.7v1.7h-1.7zM569.3 102.0h1.7v1.7h-1.7zM563.1 116.1h1.7v1.7h-1.7zM644.5 77.9h1.7v1.7h-1.7zM573.3 120.6h1.7v1.7h-1.7zM570.5 116.2h1.7v1.7h-1.7zM591.8 108.9h1.7v1.7h-1.7zM598.0 106.4h1.7v1.7h-1.7zM587.8 114.5h1.7v1.7h-1.7zM565.8 123.0h1.7v1.7h-1.7zM561.3 121.9h1.7v1.7h-1.7zM557.9 131.4h1.7v1.7h-1.7zM549.2 133.1h1.7v1.7h-1.7zM620.3 87.2h1.7v1.7h-1.7zM554.1 126.1h1.7v1.7h-1.7zM644.7 63.3h1.7v1.7h-1.7zM617.1 94.1h1.7v1.7h-1.7zM615.7 85.4h1.7v1.7h-1.7zM581.3 119.1h1.7v1.7h-1.7zM556.5 140.8h1.7v1.7h-1.7zM610.4 101.8h1.7v1.7h-1.7zM577.8 114.6h1.7v1.7h-1.7zM620.3 78.7h1.7v1.7h-1.7zM577.2 103.8h1.7v1.7h-1.7zM571.1 107.0h1.7v1.7h-1.7zM569.1 113.9h1.7v1.7h-1.7zM555.5 122.4h1.7v1.7h-1.7zM647.5 66.8h1.7v1.7h-1.7zM558.6 118.8h1.7v1.7h-1.7zM554.5 124.0h1.7v1.7h-1.7zM578.5 110.9h1.7v1.7h-1.7zM606.2 109.4h1.7v1.7h-1.7zM636.4 73.8h1.7v1.7h-1.7zM645.7 67.1h1.7v1.7h-1.7zM573.9 121.9h1.7v1.7h-1.7zM590.8 119.0h1.7v1.7h-1.7zM597.4 108.0h1.7v1.7h-1.7zM619.1 87.5h1.7v1.7h-1.7zM602.3 105.0h1.7v1.7h-1.7zM601.0 115.9h1.7v1.7h-1.7zM623.9 86.9h1.7v1.7h-1.7zM596.0 117.6h1.7v1.7h-1.7zM576.9 122.5h1.7v1.7h-1.7zM635.2 73.6h1.7v1.7h-1.7zM604.6 105.8h1.7v1.7h-1.7zM664.3 53.5h1.7v1.7h-1.7zM663.7 55.8h1.7v1.7h-1.7zM583.3 118.6h1.7v1.7h-1.7zM631.8 78.4h1.7v1.7h-1.7zM545.8 134.4h1.7v1.7h-1.7zM601.9 87.9h1.7v1.7h-1.7zM676.6 50.4h1.7v1.7h-1.7zM601.1 104.4h1.7v1.7h-1.7zM571.1 106.7h1.7v1.7h-1.7zM569.8 117.6h1.7v1.7h-1.7zM592.1 102.3h1.7v1.7h-1.7zM554.2 124.6h1.7v1.7h-1.7zM548.1 129.5h1.7v1.7h-1.7zM584.6 123.9h1.7v1.7h-1.7zM579.2 109.7h1.7v1.7h-1.7zM595.0 100.1h1.7v1.7h-1.7zM582.1 120.3h1.7v1.7h-1.7zM569.5 126.1h1.7v1.7h-1.7zM636.5 82.6h1.7v1.7h-1.7zM552.9 120.0h1.7v1.7h-1.7zM565.6 122.5h1.7v1.7h-1.7zM553.8 128.5h1.7v1.7h-1.7zM654.0 63.7h1.7v1.7h-1.7zM591.8 106.2h1.7v1.7h-1.7zM600.3 108.0h1.7v1.7h-1.7zM571.7 98.9h1.7v1.7h-1.7zM579.1 109.1h1.7v1.7h-1.7zM613.5 95.1h1.7v1.7h-1.7zM604.9 96.9h1.7v1.7h-1.7zM563.9 126.0h1.7v1.7h-1.7zM610.1 93.7h1.7v1.7h-1.7zM557.0 124.8h1.7v1.7h-1.7zM552.4 131.3h1.7v1.7h-1.7zM545.1 131.8h1.7v1.7h-1.7zM581.4 97.5h1.7v1.7h-1.7zM625.7 84.1h1.7v1.7h-1.7zM628.1 82.8h1.7v1.7h-1.7zM557.8 125.7h1.7v1.7h-1.7zM587.1 129.4h1.7v1.7h-1.7zM634.9 75.4h1.7v1.7h-1.7zM563.8 127.8h1.7v1.7h-1.7zM561.0 124.9h1.7v1.7h-1.7zM630.3 80.2h1.7v1.7h-1.7zM582.6 127.8h1.7v1.7h-1.7zM603.0 100.3h1.7v1.7h-1.7zM624.1 92.9h1.7v1.7h-1.7zM558.4 121.9h1.7v1.7h-1.7zM584.1 114.6h1.7v1.7h-1.7zM556.1 125.4h1.7v1.7h-1.7zM570.9 124.6h1.7v1.7h-1.7zM590.9 110.2h1.7v1.7h-1.7zM560.7 132.3h1.7v1.7h-1.7zM576.3 117.6h1.7v1.7h-1.7zM581.6 111.7h1.7v1.7h-1.7zM563.4 123.0h1.7v1.7h-1.7zM565.3 129.8h1.7v1.7h-1.7zM624.6 91.9h1.7v1.7h-1.7zM620.4 84.0h1.7v1.7h-1.7zM593.9 116.1h1.7v1.7h-1.7zM635.7 63.1h1.7v1.7h-1.7zM560.9 127.1h1.7v1.7h-1.7zM640.5 73.7h1.7v1.7h-1.7zM566.1 122.5h1.7v1.7h-1.7zM591.0 113.9h1.7v1.7h-1.7zM636.8 74.2h1.7v1.7h-1.7zM555.4 122.0h1.7v1.7h-1.7zM544.5 129.0h1.7v1.7h-1.7zM598.0 101.7h1.7v1.7h-1.7zM654.7 58.0h1.7v1.7h-1.7zM619.4 88.8h1.7v1.7h-1.7zM568.7 108.7h1.7v1.7h-1.7zM593.9 125.8h1.7v1.7h-1.7zM649.4 67.5h1.7v1.7h-1.7zM614.8 107.8h1.7v1.7h-1.7zM583.4 116.4h1.7v1.7h-1.7zM615.4 102.9h1.7v1.7h-1.7zM585.6 109.7h1.7v1.7h-1.7zM617.7 96.1h1.7v1.7h-1.7zM584.9 114.0h1.7v1.7h-1.7zM557.4 120.3h1.7v1.7h-1.7zM556.0 125.6h1.7v1.7h-1.7zM545.3 131.9h1.7v1.7h-1.7zM573.3 111.8h1.7v1.7h-1.7zM607.0 103.9h1.7v1.7h-1.7zM570.3 121.1h1.7v1.7h-1.7zM595.5 102.9h1.7v1.7h-1.7zM560.6 117.5h1.7v1.7h-1.7zM564.0 128.8h1.7v1.7h-1.7zM606.8 106.2h1.7v1.7h-1.7zM679.6 48.3h1.7v1.7h-1.7zM617.6 97.2h1.7v1.7h-1.7zM608.1 102.7h1.7v1.7h-1.7zM560.4 118.7h1.7v1.7h-1.7zM568.6 121.3h1.7v1.7h-1.7zM648.6 63.0h1.7v1.7h-1.7zM575.1 120.6h1.7v1.7h-1.7zM651.6 56.9h1.7v1.7h-1.7zM558.2 118.7h1.7v1.7h-1.7zM572.4 112.5h1.7v1.7h-1.7zM600.0 91.1h1.7v1.7h-1.7zM567.8 122.3h1.7v1.7h-1.7zM554.6 119.7h1.7v1.7h-1.7zM601.6 108.8h1.7v1.7h-1.7zM567.0 121.0h1.7v1.7h-1.7zM571.9 134.8h1.7v1.7h-1.7zM555.7 132.7h1.7v1.7h-1.7zM608.2 96.3h1.7v1.7h-1.7zM550.5 133.7h1.7v1.7h-1.7zM561.9 130.9h1.7v1.7h-1.7zM577.6 121.4h1.7v1.7h-1.7zM606.9 104.7h1.7v1.7h-1.7zM580.5 113.2h1.7v1.7h-1.7zM611.0 99.2h1.7v1.7h-1.7zM602.8 116.1h1.7v1.7h-1.7zM562.9 118.1h1.7v1.7h-1.7zM579.2 126.6h1.7v1.7h-1.7zM618.4 91.6h1.7v1.7h-1.7zM599.2 97.5h1.7v1.7h-1.7zM589.9 115.8h1.7v1.7h-1.7zM548.6 138.2h1.7v1.7h-1.7zM633.9 84.0h1.7v1.7h-1.7zM605.9 116.7h1.7v1.7h-1.7zM566.2 129.4h1.7v1.7h-1.7zM654.3 65.2h1.7v1.7h-1.7zM581.7 115.4h1.7v1.7h-1.7zM553.7 127.5h1.7v1.7h-1.7zM585.6 113.7h1.7v1.7h-1.7zM580.2 116.4h1.7v1.7h-1.7zM604.5 102.4h1.7v1.7h-1.7zM567.1 120.7h1.7v1.7h-1.7zM563.4 124.0h1.7v1.7h-1.7zM612.7 96.6h1.7v1.7h-1.7zM553.4 116.9h1.7v1.7h-1.7zM589.6 102.4h1.7v1.7h-1.7zM571.1 118.3h1.7v1.7h-1.7zM575.8 131.2h1.7v1.7h-1.7zM548.6 135.7h1.7v1.7h-1.7zM626.5 85.9h1.7v1.7h-1.7zM569.7 120.6h1.7v1.7h-1.7zM623.2 94.9h1.7v1.7h-1.7zM570.9 107.5h1.7v1.7h-1.7zM684.0 52.0h1.7v1.7h-1.7zM621.7 77.3h1.7v1.7h-1.7zM577.6 119.2h1.7v1.7h-1.7zM602.4 97.1h1.7v1.7h-1.7zM605.7 114.0h1.7v1.7h-1.7zM602.2 107.8h1.7v1.7h-1.7zM618.3 101.1h1.7v1.7h-1.7zM554.5 118.0h1.7v1.7h-1.7zM617.0 92.5h1.7v1.7h-1.7zM618.3 108.1h1.7v1.7h-1.7zM630.3 65.8h1.7v1.7h-1.7zM567.1 130.8h1.7v1.7h-1.7zM619.4 94.4h1.7v1.7h-1.7zM556.7 126.4h1.7v1.7h-1.7zM602.6 117.8h1.7v1.7h-1.7zM548.5 127.8h1.7v1.7h-1.7zM599.7 107.4h1.7v1.7h-1.7zM648.8 62.9h1.7v1.7h-1.7zM604.5 97.4h1.7v1.7h-1.7zM574.2 131.1h1.7v1.7h-1.7zM559.9 113.6h1.7v1.7h-1.7zM620.4 92.2h1.7v1.7h-1.7zM572.0 124.5h1.7v1.7h-1.7zM594.1 98.2h1.7v1.7h-1.7zM621.3 91.1h1.7v1.7h-1.7zM571.6 117.8h1.7v1.7h-1.7zM627.0 82.5h1.7v1.7h-1.7zM593.9 103.0h1.7v1.7h-1.7zM571.0 134.6h1.7v1.7h-1.7zM577.3 117.9h1.7v1.7h-1.7zM566.4 124.2h1.7v1.7h-1.7zM546.4 122.2h1.7v1.7h-1.7zM610.6 91.9h1.7v1.7h-1.7zM580.9 99.3h1.7v1.7h-1.7zM581.9 105.7h1.7v1.7h-1.7zM591.4 107.9h1.7v1.7h-1.7zM575.9 127.4h1.7v1.7h-1.7zM604.2 100.7h1.7v1.7h-1.7zM594.6 109.7h1.7v1.7h-1.7zM637.0 79.7h1.7v1.7h-1.7zM574.2 114.7h1.7v1.7h-1.7zM582.0 110.8h1.7v1.7h-1.7zM575.7 132.1h1.7v1.7h-1.7zM552.2 136.5h1.7v1.7h-1.7zM610.9 95.0h1.7v1.7h-1.7zM578.2 118.6h1.7v1.7h-1.7zM616.3 91.4h1.7v1.7h-1.7zM566.9 126.5h1.7v1.7h-1.7zM553.7 121.3h1.7v1.7h-1.7zM593.4 105.1h1.7v1.7h-1.7zM588.6 98.7h1.7v1.7h-1.7zM592.3 117.7h1.7v1.7h-1.7zM606.6 119.6h1.7v1.7h-1.7zM598.7 116.9h1.7v1.7h-1.7zM586.3 108.5h1.7v1.7h-1.7zM647.8 58.5h1.7v1.7h-1.7zM588.5 113.7h1.7v1.7h-1.7zM559.8 123.7h1.7v1.7h-1.7zM626.1 93.7h1.7v1.7h-1.7zM608.0 109.0h1.7v1.7h-1.7zM582.1 98.1h1.7v1.7h-1.7zM596.6 108.6h1.7v1.7h-1.7zM567.2 119.6h1.7v1.7h-1.7zM549.0 122.7h1.7v1.7h-1.7zM560.6 120.2h1.7v1.7h-1.7zM598.1 108.2h1.7v1.7h-1.7zM579.2 117.6h1.7v1.7h-1.7zM549.1 127.3h1.7v1.7h-1.7zM557.7 111.2h1.7v1.7h-1.7zM577.2 107.3h1.7v1.7h-1.7zM548.8 125.2h1.7v1.7h-1.7zM587.9 120.4h1.7v1.7h-1.7zM606.2 112.7h1.7v1.7h-1.7zM564.4 120.6h1.7v1.7h-1.7zM629.4 78.2h1.7v1.7h-1.7zM589.1 112.3h1.7v1.7h-1.7zM592.4 119.1h1.7v1.7h-1.7zM615.1 94.8h1.7v1.7h-1.7zM610.5 84.6h1.7v1.7h-1.7zM582.1 119.8h1.7v1.7h-1.7zM583.0 100.2h1.7v1.7h-1.7zM603.7 92.5h1.7v1.7h-1.7zM561.0 123.5h1.7v1.7h-1.7zM628.7 79.2h1.7v1.7h-1.7zM584.3 109.4h1.7v1.7h-1.7zM576.8 121.7h1.7v1.7h-1.7zM589.6 136.5h1.7v1.7h-1.7zM598.0 113.5h1.7v1.7h-1.7zM625.5 90.3h1.7v1.7h-1.7zM572.4 132.9h1.7v1.7h-1.7zM630.7 83.7h1.7v1.7h-1.7zM595.1 131.1h1.7v1.7h-1.7zM628.4 83.8h1.7v1.7h-1.7zM602.0 110.6h1.7v1.7h-1.7zM616.1 103.3h1.7v1.7h-1.7zM550.9 131.5h1.7v1.7h-1.7zM584.1 119.3h1.7v1.7h-1.7zM562.6 122.7h1.7v1.7h-1.7zM562.9 125.0h1.7v1.7h-1.7zM595.9 97.1h1.7v1.7h-1.7zM542.9 133.1h1.7v1.7h-1.7zM541.4 133.8h1.7v1.7h-1.7zM602.0 101.0h1.7v1.7h-1.7zM562.8 113.5h1.7v1.7h-1.7zM604.8 93.9h1.7v1.7h-1.7zM583.8 103.3h1.7v1.7h-1.7zM629.6 82.1h1.7v1.7h-1.7zM604.9 89.3h1.7v1.7h-1.7zM589.5 100.9h1.7v1.7h-1.7zM562.6 128.1h1.7v1.7h-1.7zM630.4 86.4h1.7v1.7h-1.7zM582.7 115.0h1.7v1.7h-1.7zM668.7 49.4h1.7v1.7h-1.7zM571.6 112.0h1.7v1.7h-1.7zM579.3 108.8h1.7v1.7h-1.7zM605.6 96.3h1.7v1.7h-1.7zM562.6 124.7h1.7v1.7h-1.7zM548.1 134.0h1.7v1.7h-1.7zM592.2 110.5h1.7v1.7h-1.7zM567.3 127.1h1.7v1.7h-1.7zM620.0 93.0h1.7v1.7h-1.7zM599.5 103.5h1.7v1.7h-1.7zM568.0 116.3h1.7v1.7h-1.7zM589.2 117.6h1.7v1.7h-1.7zM631.7 79.9h1.7v1.7h-1.7zM594.2 116.3h1.7v1.7h-1.7zM591.9 111.6h1.7v1.7h-1.7zM546.6 128.9h1.7v1.7h-1.7zM602.0 125.0h1.7v1.7h-1.7zM590.9 117.0h1.7v1.7h-1.7zM602.7 107.9h1.7v1.7h-1.7zM572.0 115.4h1.7v1.7h-1.7zM645.6 53.4h1.7v1.7h-1.7zM636.0 81.1h1.7v1.7h-1.7zM572.0 128.2h1.7v1.7h-1.7zM582.1 116.9h1.7v1.7h-1.7zM595.7 111.6h1.7v1.7h-1.7zM601.2 105.9h1.7v1.7h-1.7zM562.9 115.6h1.7v1.7h-1.7zM618.9 99.5h1.7v1.7h-1.7zM651.3 62.1h1.7v1.7h-1.7zM571.7 124.4h1.7v1.7h-1.7zM561.1 134.5h1.7v1.7h-1.7zM587.0 122.8h1.7v1.7h-1.7zM603.8 101.0h1.7v1.7h-1.7zM663.3 59.5h1.7v1.7h-1.7zM586.4 107.4h1.7v1.7h-1.7zM645.4 62.8h1.7v1.7h-1.7zM559.4 116.9h1.7v1.7h-1.7zM564.0 123.0h1.7v1.7h-1.7zM641.9 75.3h1.7v1.7h-1.7zM647.2 67.9h1.7v1.7h-1.7zM542.8 129.0h1.7v1.7h-1.7zM593.3 115.4h1.7v1.7h-1.7zM608.0 103.0h1.7v1.7h-1.7zM609.7 101.0h1.7v1.7h-1.7zM598.9 120.9h1.7v1.7h-1.7zM580.5 119.6h1.7v1.7h-1.7zM581.1 119.3h1.7v1.7h-1.7zM568.0 126.6h1.7v1.7h-1.7zM584.6 116.8h1.7v1.7h-1.7zM583.5 110.0h1.7v1.7h-1.7zM559.9 114.7h1.7v1.7h-1.7zM683.4 47.4h1.7v1.7h-1.7zM581.9 113.8h1.7v1.7h-1.7zM559.0 114.2h1.7v1.7h-1.7zM605.1 96.8h1.7v1.7h-1.7zM608.5 102.9h1.7v1.7h-1.7zM626.3 82.0h1.7v1.7h-1.7zM579.1 110.0h1.7v1.7h-1.7zM637.0 73.5h1.7v1.7h-1.7zM631.1 76.7h1.7v1.7h-1.7zM623.4 87.6h1.7v1.7h-1.7zM586.0 121.4h1.7v1.7h-1.7zM642.6 70.9h1.7v1.7h-1.7zM622.7 91.2h1.7v1.7h-1.7zM614.3 100.8h1.7v1.7h-1.7zM562.3 128.7h1.7v1.7h-1.7zM591.4 107.1h1.7v1.7h-1.7zM575.5 121.5h1.7v1.7h-1.7zM640.0 78.7h1.7v1.7h-1.7zM545.8 133.8h1.7v1.7h-1.7zM611.5 108.7h1.7v1.7h-1.7zM581.5 119.2h1.7v1.7h-1.7zM626.4 84.3h1.7v1.7h-1.7zM607.7 112.0h1.7v1.7h-1.7zM544.0 135.0h1.7v1.7h-1.7zM557.4 124.9h1.7v1.7h-1.7zM554.3 119.8h1.7v1.7h-1.7zM590.5 108.6h1.7v1.7h-1.7zM579.1 120.3h1.7v1.7h-1.7zM621.0 86.7h1.7v1.7h-1.7zM614.2 94.0h1.7v1.7h-1.7zM579.1 118.7h1.7v1.7h-1.7zM616.5 87.4h1.7v1.7h-1.7zM616.2 103.5h1.7v1.7h-1.7zM613.6 95.6h1.7v1.7h-1.7zM561.0 135.7h1.7v1.7h-1.7zM611.8 103.7h1.7v1.7h-1.7zM607.4 99.1h1.7v1.7h-1.7zM600.1 104.4h1.7v1.7h-1.7zM580.3 125.8h1.7v1.7h-1.7zM620.1 97.1h1.7v1.7h-1.7zM597.8 98.8h1.7v1.7h-1.7zM574.3 116.2h1.7v1.7h-1.7zM610.9 98.7h1.7v1.7h-1.7zM558.6 121.9h1.7v1.7h-1.7zM591.1 120.6h1.7v1.7h-1.7zM576.3 123.3h1.7v1.7h-1.7zM593.9 119.1h1.7v1.7h-1.7zM621.4 96.2h1.7v1.7h-1.7zM563.0 128.8h1.7v1.7h-1.7zM633.9 83.3h1.7v1.7h-1.7zM617.7 112.4h1.7v1.7h-1.7zM550.5 132.5h1.7v1.7h-1.7zM556.5 125.2h1.7v1.7h-1.7zM557.3 122.8h1.7v1.7h-1.7zM613.1 91.3h1.7v1.7h-1.7zM606.1 99.3h1.7v1.7h-1.7zM631.4 79.9h1.7v1.7h-1.7zM609.2 85.7h1.7v1.7h-1.7zM627.7 75.6h1.7v1.7h-1.7zM588.3 107.3h1.7v1.7h-1.7zM586.9 104.6h1.7v1.7h-1.7zM591.8 112.7h1.7v1.7h-1.7zM569.0 129.2h1.7v1.7h-1.7zM565.7 127.3h1.7v1.7h-1.7zM589.4 102.2h1.7v1.7h-1.7zM677.2 50.2h1.7v1.7h-1.7zM578.7 119.8h1.7v1.7h-1.7zM612.8 90.0h1.7v1.7h-1.7zM596.3 108.4h1.7v1.7h-1.7zM645.2 62.3h1.7v1.7h-1.7zM598.4 104.5h1.7v1.7h-1.7zM559.9 140.2h1.7v1.7h-1.7zM624.0 90.1h1.7v1.7h-1.7zM572.8 108.7h1.7v1.7h-1.7zM605.4 99.0h1.7v1.7h-1.7zM556.3 129.6h1.7v1.7h-1.7zM582.6 117.6h1.7v1.7h-1.7zM601.9 100.0h1.7v1.7h-1.7zM586.5 114.9h1.7v1.7h-1.7zM581.0 119.8h1.7v1.7h-1.7zM590.4 111.2h1.7v1.7h-1.7zM580.0 104.0h1.7v1.7h-1.7zM646.9 59.4h1.7v1.7h-1.7zM607.0 98.5h1.7v1.7h-1.7zM630.4 83.4h1.7v1.7h-1.7zM620.5 89.3h1.7v1.7h-1.7zM651.7 70.7h1.7v1.7h-1.7zM638.7 82.2h1.7v1.7h-1.7zM610.0 94.8h1.7v1.7h-1.7zM559.0 123.4h1.7v1.7h-1.7zM619.3 86.3h1.7v1.7h-1.7zM608.3 101.7h1.7v1.7h-1.7zM622.1 87.9h1.7v1.7h-1.7zM638.0 76.3h1.7v1.7h-1.7zM546.7 132.5h1.7v1.7h-1.7zM600.7 102.1h1.7v1.7h-1.7zM558.7 131.0h1.7v1.7h-1.7zM556.1 126.8h1.7v1.7h-1.7zM590.8 105.2h1.7v1.7h-1.7zM548.0 123.6h1.7v1.7h-1.7zM565.1 117.4h1.7v1.7h-1.7zM593.2 115.6h1.7v1.7h-1.7zM611.0 96.6h1.7v1.7h-1.7zM565.6 128.0h1.7v1.7h-1.7zM600.0 98.2h1.7v1.7h-1.7zM598.1 102.4h1.7v1.7h-1.7zM548.2 124.7h1.7v1.7h-1.7zM582.3 113.3h1.7v1.7h-1.7zM553.8 117.7h1.7v1.7h-1.7zM564.8 117.8h1.7v1.7h-1.7zM563.1 132.8h1.7v1.7h-1.7zM554.7 135.6h1.7v1.7h-1.7zM569.6 130.7h1.7v1.7h-1.7zM574.2 111.6h1.7v1.7h-1.7zM604.5 106.3h1.7v1.7h-1.7zM586.7 110.6h1.7v1.7h-1.7zM597.4 105.5h1.7v1.7h-1.7zM613.6 101.5h1.7v1.7h-1.7zM558.2 121.4h1.7v1.7h-1.7zM567.2 106.1h1.7v1.7h-1.7zM562.8 130.7h1.7v1.7h-1.7zM550.4 136.1h1.7v1.7h-1.7zM590.5 92.9h1.7v1.7h-1.7zM646.6 65.5h1.7v1.7h-1.7zM614.9 99.2h1.7v1.7h-1.7zM634.2 83.5h1.7v1.7h-1.7zM554.9 128.7h1.7v1.7h-1.7zM613.0 95.7h1.7v1.7h-1.7zM551.4 133.5h1.7v1.7h-1.7zM614.6 104.2h1.7v1.7h-1.7zM559.8 126.2h1.7v1.7h-1.7zM571.4 123.8h1.7v1.7h-1.7zM603.3 110.5h1.7v1.7h-1.7zM570.5 124.8h1.7v1.7h-1.7zM549.9 134.1h1.7v1.7h-1.7zM624.9 75.2h1.7v1.7h-1.7zM555.6 128.1h1.7v1.7h-1.7zM599.9 112.4h1.7v1.7h-1.7zM599.1 107.0h1.7v1.7h-1.7zM606.4 100.6h1.7v1.7h-1.7zM558.5 123.3h1.7v1.7h-1.7zM606.9 97.3h1.7v1.7h-1.7zM602.6 105.3h1.7v1.7h-1.7zM589.1 109.8h1.7v1.7h-1.7zM577.1 115.5h1.7v1.7h-1.7zM668.9 51.9h1.7v1.7h-1.7zM572.2 117.9h1.7v1.7h-1.7zM578.0 117.1h1.7v1.7h-1.7zM554.9 132.2h1.7v1.7h-1.7zM564.3 120.0h1.7v1.7h-1.7zM577.9 106.7h1.7v1.7h-1.7zM573.7 119.7h1.7v1.7h-1.7zM580.3 112.0h1.7v1.7h-1.7zM558.5 127.4h1.7v1.7h-1.7zM601.0 96.8h1.7v1.7h-1.7zM607.4 91.5h1.7v1.7h-1.7zM550.2 121.8h1.7v1.7h-1.7zM589.8 99.2h1.7v1.7h-1.7zM624.6 84.3h1.7v1.7h-1.7zM551.1 118.8h1.7v1.7h-1.7zM565.7 114.6h1.7v1.7h-1.7zM593.6 107.4h1.7v1.7h-1.7zM561.5 119.1h1.7v1.7h-1.7zM571.0 112.6h1.7v1.7h-1.7zM577.6 127.2h1.7v1.7h-1.7zM604.1 110.8h1.7v1.7h-1.7zM606.4 98.8h1.7v1.7h-1.7zM566.2 122.8h1.7v1.7h-1.7zM614.9 99.1h1.7v1.7h-1.7zM591.5 104.9h1.7v1.7h-1.7zM580.7 88.8h1.7v1.7h-1.7zM628.0 97.1h1.7v1.7h-1.7zM561.1 123.0h1.7v1.7h-1.7zM563.0 120.5h1.7v1.7h-1.7zM607.0 113.2h1.7v1.7h-1.7zM562.7 129.6h1.7v1.7h-1.7zM562.2 120.7h1.7v1.7h-1.7zM584.2 118.6h1.7v1.7h-1.7zM557.0 125.4h1.7v1.7h-1.7zM599.9 96.8h1.7v1.7h-1.7zM599.9 123.3h1.7v1.7h-1.7zM556.0 120.7h1.7v1.7h-1.7zM554.8 124.7h1.7v1.7h-1.7zM569.8 119.5h1.7v1.7h-1.7zM554.9 138.2h1.7v1.7h-1.7zM674.7 55.6h1.7v1.7h-1.7zM604.0 104.5h1.7v1.7h-1.7zM602.2 106.6h1.7v1.7h-1.7zM624.4 104.0h1.7v1.7h-1.7zM610.3 111.2h1.7v1.7h-1.7zM602.6 101.0h1.7v1.7h-1.7zM563.5 124.1h1.7v1.7h-1.7zM604.3 100.1h1.7v1.7h-1.7zM612.7 94.0h1.7v1.7h-1.7zM560.7 125.9h1.7v1.7h-1.7zM554.6 136.4h1.7v1.7h-1.7zM565.0 117.4h1.7v1.7h-1.7zM605.6 73.1h1.7v1.7h-1.7zM586.3 100.5h1.7v1.7h-1.7zM594.0 84.5h1.7v1.7h-1.7zM613.2 93.4h1.7v1.7h-1.7zM636.1 75.2h1.7v1.7h-1.7zM605.0 89.5h1.7v1.7h-1.7zM590.0 93.9h1.7v1.7h-1.7zM595.2 109.7h1.7v1.7h-1.7zM568.0 121.5h1.7v1.7h-1.7zM595.6 101.4h1.7v1.7h-1.7zM609.7 95.8h1.7v1.7h-1.7zM618.4 90.7h1.7v1.7h-1.7zM600.0 109.6h1.7v1.7h-1.7zM646.5 68.9h1.7v1.7h-1.7zM596.9 90.4h1.7v1.7h-1.7zM625.2 79.8h1.7v1.7h-1.7zM560.0 129.3h1.7v1.7h-1.7zM607.6 103.6h1.7v1.7h-1.7zM591.5 105.3h1.7v1.7h-1.7zM568.3 118.7h1.7v1.7h-1.7zM567.9 118.1h1.7v1.7h-1.7zM612.1 92.2h1.7v1.7h-1.7zM589.5 99.7h1.7v1.7h-1.7zM561.7 116.4h1.7v1.7h-1.7zM645.6 60.4h1.7v1.7h-1.7zM574.5 115.2h1.7v1.7h-1.7zM582.4 105.7h1.7v1.7h-1.7zM569.4 127.2h1.7v1.7h-1.7zM587.7 106.5h1.7v1.7h-1.7zM572.5 104.0h1.7v1.7h-1.7zM629.1 83.6h1.7v1.7h-1.7zM639.2 67.3h1.7v1.7h-1.7zM615.3 95.4h1.7v1.7h-1.7zM586.0 111.0h1.7v1.7h-1.7zM593.5 100.6h1.7v1.7h-1.7zM605.1 93.2h1.7v1.7h-1.7zM608.7 104.0h1.7v1.7h-1.7zM587.1 102.3h1.7v1.7h-1.7zM594.0 110.2h1.7v1.7h-1.7zM597.6 110.9h1.7v1.7h-1.7zM601.1 99.4h1.7v1.7h-1.7zM564.4 112.6h1.7v1.7h-1.7zM628.6 80.6h1.7v1.7h-1.7zM582.8 111.2h1.7v1.7h-1.7zM599.2 104.9h1.7v1.7h-1.7zM609.2 91.0h1.7v1.7h-1.7zM585.1 109.3h1.7v1.7h-1.7zM572.0 115.1h1.7v1.7h-1.7zM595.9 109.6h1.7v1.7h-1.7zM554.8 128.4h1.7v1.7h-1.7zM572.6 108.9h1.7v1.7h-1.7zM589.7 111.4h1.7v1.7h-1.7zM625.0 78.7h1.7v1.7h-1.7zM583.7 96.9h1.7v1.7h-1.7zM615.7 95.1h1.7v1.7h-1.7zM574.8 98.3h1.7v1.7h-1.7zM598.5 102.2h1.7v1.7h-1.7zM620.4 91.0h1.7v1.7h-1.7zM626.1 85.7h1.7v1.7h-1.7zM625.4 90.8h1.7v1.7h-1.7zM622.8 90.6h1.7v1.7h-1.7zM568.3 118.9h1.7v1.7h-1.7zM594.7 109.2h1.7v1.7h-1.7zM561.2 122.2h1.7v1.7h-1.7zM629.6 78.7h1.7v1.7h-1.7zM588.6 111.0h1.7v1.7h-1.7zM561.5 126.6h1.7v1.7h-1.7zM622.5 99.7h1.7v1.7h-1.7zM586.6 116.0h1.7v1.7h-1.7zM617.3 96.7h1.7v1.7h-1.7zM563.9 120.6h1.7v1.7h-1.7zM601.2 100.2h1.7v1.7h-1.7zM591.9 102.4h1.7v1.7h-1.7zM600.1 100.5h1.7v1.7h-1.7zM591.3 119.9h1.7v1.7h-1.7zM586.2 118.3h1.7v1.7h-1.7zM572.1 118.4h1.7v1.7h-1.7zM569.4 105.8h1.7v1.7h-1.7zM618.1 94.7h1.7v1.7h-1.7zM608.6 101.5h1.7v1.7h-1.7zM567.8 119.8h1.7v1.7h-1.7zM583.6 119.7h1.7v1.7h-1.7zM600.0 120.2h1.7v1.7h-1.7zM566.6 129.4h1.7v1.7h-1.7zM606.9 104.8h1.7v1.7h-1.7zM606.2 114.9h1.7v1.7h-1.7zM605.0 102.3h1.7v1.7h-1.7zM570.8 118.8h1.7v1.7h-1.7zM605.6 102.1h1.7v1.7h-1.7zM562.7 116.5h1.7v1.7h-1.7zM557.4 127.7h1.7v1.7h-1.7zM594.8 112.3h1.7v1.7h-1.7zM570.1 117.0h1.7v1.7h-1.7zM574.7 114.3h1.7v1.7h-1.7zM549.9 120.0h1.7v1.7h-1.7zM568.8 140.9h1.7v1.7h-1.7zM609.2 95.2h1.7v1.7h-1.7zM593.2 110.2h1.7v1.7h-1.7zM642.1 73.8h1.7v1.7h-1.7zM589.4 109.4h1.7v1.7h-1.7zM623.5 93.0h1.7v1.7h-1.7zM577.4 121.0h1.7v1.7h-1.7zM574.1 115.4h1.7v1.7h-1.7zM548.8 134.1h1.7v1.7h-1.7zM588.0 120.1h1.7v1.7h-1.7zM605.1 103.7h1.7v1.7h-1.7zM563.1 127.8h1.7v1.7h-1.7zM556.9 131.2h1.7v1.7h-1.7zM560.6 130.5h1.7v1.7h-1.7zM610.8 99.2h1.7v1.7h-1.7zM613.4 94.3h1.7v1.7h-1.7zM596.4 101.0h1.7v1.7h-1.7zM574.6 115.9h1.7v1.7h-1.7zM562.2 130.5h1.7v1.7h-1.7zM585.6 119.2h1.7v1.7h-1.7zM598.5 102.7h1.7v1.7h-1.7zM616.3 95.3h1.7v1.7h-1.7zM574.8 103.9h1.7v1.7h-1.7zM599.4 101.7h1.7v1.7h-1.7zM609.7 93.1h1.7v1.7h-1.7zM601.5 92.9h1.7v1.7h-1.7zM597.7 98.3h1.7v1.7h-1.7zM656.1 51.7h1.7v1.7h-1.7zM547.6 127.8h1.7v1.7h-1.7zM595.5 115.8h1.7v1.7h-1.7zM552.7 125.9h1.7v1.7h-1.7zM557.6 121.4h1.7v1.7h-1.7zM582.5 118.2h1.7v1.7h-1.7zM567.6 120.4h1.7v1.7h-1.7zM618.6 82.5h1.7v1.7h-1.7zM634.7 83.9h1.7v1.7h-1.7zM640.5 68.6h1.7v1.7h-1.7zM570.8 118.9h1.7v1.7h-1.7zM583.9 111.8h1.7v1.7h-1.7zM659.4 54.5h1.7v1.7h-1.7zM621.0 92.2h1.7v1.7h-1.7zM568.5 119.6h1.7v1.7h-1.7zM554.7 119.2h1.7v1.7h-1.7zM609.6 107.8h1.7v1.7h-1.7zM594.5 110.8h1.7v1.7h-1.7zM617.6 83.6h1.7v1.7h-1.7zM585.4 112.8h1.7v1.7h-1.7zM582.5 106.5h1.7v1.7h-1.7zM562.2 127.5h1.7v1.7h-1.7zM621.2 81.5h1.7v1.7h-1.7zM615.2 102.1h1.7v1.7h-1.7zM635.7 69.9h1.7v1.7h-1.7zM607.8 103.9h1.7v1.7h-1.7zM587.5 123.6h1.7v1.7h-1.7zM647.0 78.5h1.7v1.7h-1.7zM569.1 121.7h1.7v1.7h-1.7zM670.6 53.4h1.7v1.7h-1.7zM548.4 132.6h1.7v1.7h-1.7zM574.9 125.8h1.7v1.7h-1.7zM598.3 108.0h1.7v1.7h-1.7zM570.0 123.7h1.7v1.7h-1.7zM582.7 131.5h1.7v1.7h-1.7zM649.8 67.2h1.7v1.7h-1.7zM569.7 120.6h1.7v1.7h-1.7zM560.5 132.1h1.7v1.7h-1.7zM607.7 103.9h1.7v1.7h-1.7zM605.4 104.7h1.7v1.7h-1.7zM566.0 125.7h1.7v1.7h-1.7zM580.6 105.3h1.7v1.7h-1.7zM574.1 119.3h1.7v1.7h-1.7zM622.1 90.6h1.7v1.7h-1.7zM613.9 104.1h1.7v1.7h-1.7zM553.1 135.7h1.7v1.7h-1.7zM564.7 113.4h1.7v1.7h-1.7zM661.3 54.4h1.7v1.7h-1.7zM568.0 117.5h1.7v1.7h-1.7zM629.5 83.4h1.7v1.7h-1.7zM579.5 113.6h1.7v1.7h-1.7zM573.2 123.7h1.7v1.7h-1.7zM640.1 62.3h1.7v1.7h-1.7zM565.7 124.8h1.7v1.7h-1.7zM613.3 99.3h1.7v1.7h-1.7zM592.3 112.0h1.7v1.7h-1.7zM591.1 117.9h1.7v1.7h-1.7zM561.5 116.7h1.7v1.7h-1.7zM570.1 112.6h1.7v1.7h-1.7zM559.9 123.1h1.7v1.7h-1.7zM591.6 114.0h1.7v1.7h-1.7zM610.1 103.4h1.7v1.7h-1.7zM599.7 100.7h1.7v1.7h-1.7zM616.5 94.2h1.7v1.7h-1.7zM577.3 115.4h1.7v1.7h-1.7zM638.3 59.7h1.7v1.7h-1.7zM572.3 134.9h1.7v1.7h-1.7zM571.9 129.9h1.7v1.7h-1.7zM606.2 107.4h1.7v1.7h-1.7zM604.5 95.0h1.7v1.7h-1.7zM574.4 116.8h1.7v1.7h-1.7zM561.6 118.9h1.7v1.7h-1.7zM633.3 81.0h1.7v1.7h-1.7zM631.0 71.1h1.7v1.7h-1.7zM611.8 101.4h1.7v1.7h-1.7zM607.5 100.8h1.7v1.7h-1.7zM615.3 102.2h1.7v1.7h-1.7zM638.2 70.6h1.7v1.7h-1.7zM637.9 74.7h1.7v1.7h-1.7zM589.2 107.8h1.7v1.7h-1.7zM590.2 98.4h1.7v1.7h-1.7zM623.2 85.1h1.7v1.7h-1.7zM649.4 65.5h1.7v1.7h-1.7zM548.6 137.5h1.7v1.7h-1.7zM549.1 128.6h1.7v1.7h-1.7zM653.3 59.1h1.7v1.7h-1.7zM586.2 110.8h1.7v1.7h-1.7zM637.2 74.5h1.7v1.7h-1.7zM611.5 97.1h1.7v1.7h-1.7zM641.2 68.3h1.7v1.7h-1.7zM563.7 124.5h1.7v1.7h-1.7zM602.7 118.8h1.7v1.7h-1.7zM559.1 126.6h1.7v1.7h-1.7zM616.9 100.9h1.7v1.7h-1.7zM566.0 110.1h1.7v1.7h-1.7zM553.1 130.3h1.7v1.7h-1.7zM613.5 91.8h1.7v1.7h-1.7zM608.1 110.7h1.7v1.7h-1.7zM615.6 99.8h1.7v1.7h-1.7zM572.4 133.3h1.7v1.7h-1.7zM597.5 105.8h1.7v1.7h-1.7zM567.3 123.5h1.7v1.7h-1.7zM566.4 110.4h1.7v1.7h-1.7zM589.6 110.8h1.7v1.7h-1.7zM591.7 101.8h1.7v1.7h-1.7zM579.1 120.6h1.7v1.7h-1.7zM583.8 111.7h1.7v1.7h-1.7zM633.6 66.0h1.7v1.7h-1.7zM563.6 107.1h1.7v1.7h-1.7zM600.8 97.3h1.7v1.7h-1.7zM690.9 48.1h1.7v1.7h-1.7zM594.6 110.9h1.7v1.7h-1.7zM562.4 113.7h1.7v1.7h-1.7zM565.5 116.8h1.7v1.7h-1.7zM574.7 125.6h1.7v1.7h-1.7zM588.4 113.0h1.7v1.7h-1.7zM589.1 114.1h1.7v1.7h-1.7zM603.4 106.6h1.7v1.7h-1.7zM547.4 134.7h1.7v1.7h-1.7zM593.3 120.5h1.7v1.7h-1.7zM541.9 137.9h1.7v1.7h-1.7zM676.1 48.9h1.7v1.7h-1.7zM585.8 110.7h1.7v1.7h-1.7zM602.9 104.4h1.7v1.7h-1.7zM584.8 105.4h1.7v1.7h-1.7zM666.8 55.0h1.7v1.7h-1.7zM613.6 93.0h1.7v1.7h-1.7zM578.3 130.2h1.7v1.7h-1.7zM568.2 123.1h1.7v1.7h-1.7zM560.8 122.9h1.7v1.7h-1.7zM584.5 120.9h1.7v1.7h-1.7zM621.1 82.0h1.7v1.7h-1.7zM552.9 131.3h1.7v1.7h-1.7zM579.6 120.4h1.7v1.7h-1.7zM608.3 99.5h1.7v1.7h-1.7zM581.4 100.1h1.7v1.7h-1.7zM600.5 105.9h1.7v1.7h-1.7zM610.6 94.9h1.7v1.7h-1.7zM589.3 110.1h1.7v1.7h-1.7zM596.9 112.9h1.7v1.7h-1.7zM553.7 127.3h1.7v1.7h-1.7zM563.2 139.0h1.7v1.7h-1.7zM560.8 128.0h1.7v1.7h-1.7zM552.0 136.5h1.7v1.7h-1.7zM669.6 54.7h1.7v1.7h-1.7zM587.2 138.3h1.7v1.7h-1.7zM590.8 108.4h1.7v1.7h-1.7zM598.6 99.5h1.7v1.7h-1.7zM618.0 95.9h1.7v1.7h-1.7zM634.6 78.5h1.7v1.7h-1.7zM584.5 96.8h1.7v1.7h-1.7zM557.3 135.2h1.7v1.7h-1.7zM610.0 102.1h1.7v1.7h-1.7zM640.3 75.1h1.7v1.7h-1.7zM555.6 122.1h1.7v1.7h-1.7zM580.9 106.0h1.7v1.7h-1.7zM604.8 100.5h1.7v1.7h-1.7zM573.1 124.0h1.7v1.7h-1.7zM607.8 93.7h1.7v1.7h-1.7zM607.8 97.5h1.7v1.7h-1.7zM608.8 112.5h1.7v1.7h-1.7zM574.8 114.1h1.7v1.7h-1.7zM598.8 108.2h1.7v1.7h-1.7zM540.1 132.6h1.7v1.7h-1.7zM593.5 116.2h1.7v1.7h-1.7zM572.9 123.3h1.7v1.7h-1.7zM600.5 103.1h1.7v1.7h-1.7zM560.4 118.4h1.7v1.7h-1.7zM600.0 107.0h1.7v1.7h-1.7zM687.5 47.2h1.7v1.7h-1.7zM563.9 122.9h1.7v1.7h-1.7zM590.8 115.8h1.7v1.7h-1.7zM562.6 125.8h1.7v1.7h-1.7zM599.2 104.2h1.7v1.7h-1.7zM616.9 90.1h1.7v1.7h-1.7zM572.0 125.4h1.7v1.7h-1.7zM570.7 129.8h1.7v1.7h-1.7zM623.1 83.5h1.7v1.7h-1.7zM595.7 120.7h1.7v1.7h-1.7zM579.5 127.1h1.7v1.7h-1.7zM599.2 100.9h1.7v1.7h-1.7zM582.7 107.0h1.7v1.7h-1.7zM598.4 101.6h1.7v1.7h-1.7zM584.7 120.7h1.7v1.7h-1.7zM639.2 61.1h1.7v1.7h-1.7zM559.2 127.7h1.7v1.7h-1.7zM573.8 111.4h1.7v1.7h-1.7zM573.0 125.4h1.7v1.7h-1.7zM605.5 95.2h1.7v1.7h-1.7zM576.9 129.0h1.7v1.7h-1.7zM573.0 121.2h1.7v1.7h-1.7zM612.5 99.3h1.7v1.7h-1.7zM585.6 114.1h1.7v1.7h-1.7zM586.4 126.4h1.7v1.7h-1.7zM547.0 126.5h1.7v1.7h-1.7zM601.6 111.3h1.7v1.7h-1.7zM663.8 59.2h1.7v1.7h-1.7zM591.8 103.0h1.7v1.7h-1.7zM654.1 59.0h1.7v1.7h-1.7zM626.0 83.5h1.7v1.7h-1.7zM633.8 75.4h1.7v1.7h-1.7zM568.3 121.6h1.7v1.7h-1.7zM589.1 127.6h1.7v1.7h-1.7zM658.3 55.8h1.7v1.7h-1.7zM582.1 108.1h1.7v1.7h-1.7zM543.2 137.1h1.7v1.7h-1.7zM579.2 115.7h1.7v1.7h-1.7zM583.3 106.6h1.7v1.7h-1.7zM557.0 133.1h1.7v1.7h-1.7zM586.1 117.3h1.7v1.7h-1.7zM574.2 117.7h1.7v1.7h-1.7zM608.1 99.5h1.7v1.7h-1.7zM572.6 121.9h1.7v1.7h-1.7zM631.0 82.2h1.7v1.7h-1.7zM578.6 115.4h1.7v1.7h-1.7zM619.5 103.9h1.7v1.7h-1.7zM580.3 102.6h1.7v1.7h-1.7zM589.7 108.4h1.7v1.7h-1.7zM555.9 123.5h1.7v1.7h-1.7zM595.0 109.4h1.7v1.7h-1.7zM557.9 122.2h1.7v1.7h-1.7zM640.2 79.7h1.7v1.7h-1.7zM568.4 127.6h1.7v1.7h-1.7zM597.4 114.7h1.7v1.7h-1.7zM615.0 92.5h1.7v1.7h-1.7zM583.0 117.1h1.7v1.7h-1.7zM608.1 98.6h1.7v1.7h-1.7zM651.9 66.0h1.7v1.7h-1.7zM564.6 119.6h1.7v1.7h-1.7zM589.3 104.4h1.7v1.7h-1.7zM590.9 102.7h1.7v1.7h-1.7zM574.4 118.5h1.7v1.7h-1.7zM606.8 104.6h1.7v1.7h-1.7zM592.2 106.9h1.7v1.7h-1.7zM596.9 101.6h1.7v1.7h-1.7zM608.7 98.8h1.7v1.7h-1.7zM584.5 120.0h1.7v1.7h-1.7zM568.3 115.9h1.7v1.7h-1.7zM586.7 105.2h1.7v1.7h-1.7zM589.8 117.7h1.7v1.7h-1.7zM607.6 99.7h1.7v1.7h-1.7zM616.7 87.9h1.7v1.7h-1.7zM578.8 110.1h1.7v1.7h-1.7zM570.8 117.3h1.7v1.7h-1.7zM649.7 61.5h1.7v1.7h-1.7zM616.2 102.7h1.7v1.7h-1.7zM604.3 104.6h1.7v1.7h-1.7zM610.8 102.3h1.7v1.7h-1.7zM560.2 122.5h1.7v1.7h-1.7zM566.9 94.8h1.7v1.7h-1.7zM598.4 109.1h1.7v1.7h-1.7zM556.4 131.6h1.7v1.7h-1.7zM643.1 65.9h1.7v1.7h-1.7zM580.6 118.8h1.7v1.7h-1.7zM550.2 125.4h1.7v1.7h-1.7zM596.0 117.8h1.7v1.7h-1.7zM575.4 120.2h1.7v1.7h-1.7zM588.1 130.0h1.7v1.7h-1.7zM592.8 116.3h1.7v1.7h-1.7zM605.9 94.0h1.7v1.7h-1.7zM663.6 52.8h1.7v1.7h-1.7zM558.4 116.1h1.7v1.7h-1.7zM589.0 127.3h1.7v1.7h-1.7zM555.0 121.1h1.7v1.7h-1.7zM591.9 110.7h1.7v1.7h-1.7zM551.3 128.0h1.7v1.7h-1.7zM552.1 121.5h1.7v1.7h-1.7zM608.6 101.0h1.7v1.7h-1.7zM609.5 98.2h1.7v1.7h-1.7zM583.3 132.0h1.7v1.7h-1.7zM560.1 129.9h1.7v1.7h-1.7zM570.5 131.2h1.7v1.7h-1.7zM627.6 89.6h1.7v1.7h-1.7zM592.9 106.2h1.7v1.7h-1.7zM586.0 111.7h1.7v1.7h-1.7zM625.0 78.4h1.7v1.7h-1.7zM597.3 105.1h1.7v1.7h-1.7zM653.1 54.6h1.7v1.7h-1.7zM546.7 128.9h1.7v1.7h-1.7zM613.4 97.4h1.7v1.7h-1.7zM589.4 112.6h1.7v1.7h-1.7zM602.8 109.4h1.7v1.7h-1.7zM555.4 125.7h1.7v1.7h-1.7zM551.2 128.0h1.7v1.7h-1.7zM581.2 117.9h1.7v1.7h-1.7zM606.0 108.1h1.7v1.7h-1.7zM562.2 125.1h1.7v1.7h-1.7zM571.4 130.7h1.7v1.7h-1.7zM633.7 74.7h1.7v1.7h-1.7zM547.9 135.5h1.7v1.7h-1.7zM620.2 94.4h1.7v1.7h-1.7zM577.4 122.5h1.7v1.7h-1.7zM637.7 82.4h1.7v1.7h-1.7zM558.6 126.6h1.7v1.7h-1.7zM584.1 111.6h1.7v1.7h-1.7zM575.6 117.8h1.7v1.7h-1.7zM647.6 61.4h1.7v1.7h-1.7zM583.4 101.2h1.7v1.7h-1.7zM558.7 117.6h1.7v1.7h-1.7zM566.1 122.3h1.7v1.7h-1.7zM615.4 88.9h1.7v1.7h-1.7zM593.7 117.3h1.7v1.7h-1.7zM565.4 121.6h1.7v1.7h-1.7zM592.5 110.1h1.7v1.7h-1.7zM611.4 110.6h1.7v1.7h-1.7zM605.6 100.1h1.7v1.7h-1.7zM569.3 127.1h1.7v1.7h-1.7zM658.3 59.3h1.7v1.7h-1.7zM565.0 126.7h1.7v1.7h-1.7zM573.9 111.2h1.7v1.7h-1.7zM612.3 93.1h1.7v1.7h-1.7zM573.6 115.2h1.7v1.7h-1.7zM603.2 96.8h1.7v1.7h-1.7zM564.2 109.6h1.7v1.7h-1.7zM551.8 129.4h1.7v1.7h-1.7zM594.9 112.1h1.7v1.7h-1.7zM546.2 133.6h1.7v1.7h-1.7zM636.9 71.6h1.7v1.7h-1.7zM599.9 105.0h1.7v1.7h-1.7zM593.8 101.2h1.7v1.7h-1.7zM604.4 109.8h1.7v1.7h-1.7zM596.0 109.5h1.7v1.7h-1.7zM606.7 103.6h1.7v1.7h-1.7zM581.0 122.1h1.7v1.7h-1.7zM623.9 82.9h1.7v1.7h-1.7zM560.3 114.7h1.7v1.7h-1.7zM601.5 119.4h1.7v1.7h-1.7zM547.0 127.8h1.7v1.7h-1.7zM580.9 111.1h1.7v1.7h-1.7zM552.3 122.3h1.7v1.7h-1.7zM577.5 112.3h1.7v1.7h-1.7zM583.9 102.3h1.7v1.7h-1.7zM570.3 119.9h1.7v1.7h-1.7zM611.8 96.2h1.7v1.7h-1.7zM604.2 96.6h1.7v1.7h-1.7zM597.4 101.3h1.7v1.7h-1.7zM545.7 136.4h1.7v1.7h-1.7zM564.4 121.8h1.7v1.7h-1.7zM579.2 124.7h1.7v1.7h-1.7zM566.5 130.1h1.7v1.7h-1.7zM608.1 109.6h1.7v1.7h-1.7zM565.3 130.6h1.7v1.7h-1.7zM596.9 101.4h1.7v1.7h-1.7zM576.8 110.1h1.7v1.7h-1.7zM604.1 103.2h1.7v1.7h-1.7zM623.8 88.9h1.7v1.7h-1.7zM585.9 99.8h1.7v1.7h-1.7zM582.1 108.2h1.7v1.7h-1.7zM588.8 106.3h1.7v1.7h-1.7zM578.1 113.3h1.7v1.7h-1.7zM616.3 107.0h1.7v1.7h-1.7zM562.1 131.6h1.7v1.7h-1.7zM574.7 113.0h1.7v1.7h-1.7zM570.3 113.0h1.7v1.7h-1.7zM609.6 98.5h1.7v1.7h-1.7zM563.4 122.7h1.7v1.7h-1.7zM612.5 84.6h1.7v1.7h-1.7zM625.4 81.4h1.7v1.7h-1.7zM575.6 112.4h1.7v1.7h-1.7zM652.5 54.1h1.7v1.7h-1.7zM569.6 129.1h1.7v1.7h-1.7zM599.4 107.7h1.7v1.7h-1.7zM573.9 119.3h1.7v1.7h-1.7zM567.3 132.8h1.7v1.7h-1.7zM605.7 116.4h1.7v1.7h-1.7zM605.2 96.4h1.7v1.7h-1.7zM617.6 99.7h1.7v1.7h-1.7zM631.9 78.5h1.7v1.7h-1.7zM563.8 121.5h1.7v1.7h-1.7zM552.7 120.9h1.7v1.7h-1.7zM551.5 122.1h1.7v1.7h-1.7zM565.2 132.9h1.7v1.7h-1.7zM572.4 115.0h1.7v1.7h-1.7zM601.0 102.1h1.7v1.7h-1.7zM568.6 124.3h1.7v1.7h-1.7zM600.5 107.8h1.7v1.7h-1.7zM601.0 108.1h1.7v1.7h-1.7zM566.1 122.1h1.7v1.7h-1.7zM597.0 114.1h1.7v1.7h-1.7zM590.9 110.6h1.7v1.7h-1.7zM609.6 105.0h1.7v1.7h-1.7zM551.7 126.1h1.7v1.7h-1.7zM576.7 134.8h1.7v1.7h-1.7zM629.7 86.1h1.7v1.7h-1.7zM556.0 123.8h1.7v1.7h-1.7zM571.0 116.2h1.7v1.7h-1.7zM602.8 104.7h1.7v1.7h-1.7zM544.7 139.9h1.7v1.7h-1.7zM548.7 125.9h1.7v1.7h-1.7zM575.7 120.7h1.7v1.7h-1.7zM610.3 89.6h1.7v1.7h-1.7zM609.2 100.2h1.7v1.7h-1.7zM619.3 98.3h1.7v1.7h-1.7zM566.3 108.4h1.7v1.7h-1.7zM600.2 95.8h1.7v1.7h-1.7zM546.7 133.2h1.7v1.7h-1.7zM553.3 123.7h1.7v1.7h-1.7zM552.5 127.2h1.7v1.7h-1.7zM568.8 121.6h1.7v1.7h-1.7zM621.5 109.3h1.7v1.7h-1.7zM572.4 115.9h1.7v1.7h-1.7zM563.8 120.1h1.7v1.7h-1.7zM566.7 116.9h1.7v1.7h-1.7zM552.2 134.2h1.7v1.7h-1.7zM633.3 74.8h1.7v1.7h-1.7zM557.3 124.2h1.7v1.7h-1.7zM580.5 114.3h1.7v1.7h-1.7zM611.5 95.1h1.7v1.7h-1.7zM587.9 113.9h1.7v1.7h-1.7zM597.3 112.4h1.7v1.7h-1.7zM603.1 110.6h1.7v1.7h-1.7zM542.7 131.3h1.7v1.7h-1.7zM593.1 109.2h1.7v1.7h-1.7zM555.7 126.6h1.7v1.7h-1.7zM588.8 103.7h1.7v1.7h-1.7zM579.2 104.3h1.7v1.7h-1.7zM629.7 74.5h1.7v1.7h-1.7zM618.7 106.2h1.7v1.7h-1.7zM606.7 108.0h1.7v1.7h-1.7zM678.7 49.4h1.7v1.7h-1.7zM645.9 64.6h1.7v1.7h-1.7zM607.8 87.2h1.7v1.7h-1.7zM640.1 71.3h1.7v1.7h-1.7zM634.5 75.8h1.7v1.7h-1.7zM596.5 105.4h1.7v1.7h-1.7zM585.3 106.0h1.7v1.7h-1.7zM557.4 129.5h1.7v1.7h-1.7zM619.9 72.7h1.7v1.7h-1.7zM610.6 90.9h1.7v1.7h-1.7zM599.2 108.5h1.7v1.7h-1.7zM675.4 48.5h1.7v1.7h-1.7zM578.3 125.3h1.7v1.7h-1.7zM621.4 92.7h1.7v1.7h-1.7zM604.2 101.7h1.7v1.7h-1.7zM592.0 133.1h1.7v1.7h-1.7zM612.0 103.3h1.7v1.7h-1.7zM553.5 135.5h1.7v1.7h-1.7zM658.0 56.8h1.7v1.7h-1.7zM622.7 83.4h1.7v1.7h-1.7zM568.9 113.4h1.7v1.7h-1.7zM611.4 95.6h1.7v1.7h-1.7zM569.1 125.7h1.7v1.7h-1.7zM614.0 102.5h1.7v1.7h-1.7zM559.6 121.4h1.7v1.7h-1.7zM594.0 123.4h1.7v1.7h-1.7zM558.4 124.4h1.7v1.7h-1.7zM619.1 100.3h1.7v1.7h-1.7zM550.4 127.1h1.7v1.7h-1.7zM639.4 71.8h1.7v1.7h-1.7zM605.7 86.7h1.7v1.7h-1.7zM575.5 134.3h1.7v1.7h-1.7zM610.9 93.5h1.7v1.7h-1.7zM572.1 120.3h1.7v1.7h-1.7zM586.7 108.9h1.7v1.7h-1.7zM582.3 114.7h1.7v1.7h-1.7zM581.3 114.1h1.7v1.7h-1.7zM615.1 99.5h1.7v1.7h-1.7zM594.7 104.7h1.7v1.7h-1.7zM584.3 120.0h1.7v1.7h-1.7zM620.7 98.7h1.7v1.7h-1.7zM629.3 78.0h1.7v1.7h-1.7zM561.2 129.1h1.7v1.7h-1.7zM619.8 94.2h1.7v1.7h-1.7zM598.2 95.4h1.7v1.7h-1.7zM573.5 123.6h1.7v1.7h-1.7zM629.0 80.8h1.7v1.7h-1.7zM647.1 67.1h1.7v1.7h-1.7zM597.7 105.6h1.7v1.7h-1.7zM576.4 118.4h1.7v1.7h-1.7zM563.3 127.7h1.7v1.7h-1.7zM596.1 112.4h1.7v1.7h-1.7zM622.9 86.0h1.7v1.7h-1.7zM588.2 92.4h1.7v1.7h-1.7zM558.9 123.3h1.7v1.7h-1.7zM568.7 122.1h1.7v1.7h-1.7zM628.4 83.0h1.7v1.7h-1.7zM575.1 112.0h1.7v1.7h-1.7zM549.1 131.9h1.7v1.7h-1.7zM592.3 123.0h1.7v1.7h-1.7zM590.0 96.6h1.7v1.7h-1.7zM582.6 107.6h1.7v1.7h-1.7zM555.5 126.9h1.7v1.7h-1.7zM570.1 125.1h1.7v1.7h-1.7zM582.6 120.0h1.7v1.7h-1.7zM604.7 114.2h1.7v1.7h-1.7zM610.1 107.6h1.7v1.7h-1.7zM544.5 136.4h1.7v1.7h-1.7zM578.5 116.7h1.7v1.7h-1.7zM567.4 119.3h1.7v1.7h-1.7zM596.2 95.8h1.7v1.7h-1.7zM608.8 109.5h1.7v1.7h-1.7zM608.0 108.2h1.7v1.7h-1.7zM598.5 106.1h1.7v1.7h-1.7zM579.4 122.3h1.7v1.7h-1.7zM561.9 121.9h1.7v1.7h-1.7zM572.6 120.2h1.7v1.7h-1.7zM577.6 110.9h1.7v1.7h-1.7zM573.2 131.6h1.7v1.7h-1.7zM610.0 109.4h1.7v1.7h-1.7zM590.1 101.1h1.7v1.7h-1.7zM607.9 104.3h1.7v1.7h-1.7zM556.3 127.2h1.7v1.7h-1.7zM627.8 84.6h1.7v1.7h-1.7zM549.5 134.5h1.7v1.7h-1.7zM600.6 102.7h1.7v1.7h-1.7zM649.3 65.7h1.7v1.7h-1.7zM575.8 115.4h1.7v1.7h-1.7zM574.2 133.6h1.7v1.7h-1.7zM572.1 115.9h1.7v1.7h-1.7zM622.2 83.2h1.7v1.7h-1.7zM600.6 107.9h1.7v1.7h-1.7zM635.1 70.6h1.7v1.7h-1.7zM568.5 116.5h1.7v1.7h-1.7zM602.5 102.3h1.7v1.7h-1.7zM602.8 103.7h1.7v1.7h-1.7zM632.2 81.2h1.7v1.7h-1.7zM614.5 96.8h1.7v1.7h-1.7zM618.1 93.0h1.7v1.7h-1.7zM569.5 125.9h1.7v1.7h-1.7zM612.4 97.2h1.7v1.7h-1.7zM552.7 136.8h1.7v1.7h-1.7zM594.3 111.4h1.7v1.7h-1.7zM539.2 135.3h1.7v1.7h-1.7zM615.2 87.4h1.7v1.7h-1.7zM556.7 123.7h1.7v1.7h-1.7zM619.5 97.0h1.7v1.7h-1.7zM572.4 118.7h1.7v1.7h-1.7zM600.1 92.5h1.7v1.7h-1.7zM559.9 129.5h1.7v1.7h-1.7zM590.5 114.9h1.7v1.7h-1.7zM630.5 82.6h1.7v1.7h-1.7zM590.5 108.0h1.7v1.7h-1.7zM623.3 93.4h1.7v1.7h-1.7zM616.1 94.0h1.7v1.7h-1.7zM552.7 127.0h1.7v1.7h-1.7zM596.4 110.8h1.7v1.7h-1.7zM589.1 107.5h1.7v1.7h-1.7zM560.1 128.8h1.7v1.7h-1.7zM595.5 106.9h1.7v1.7h-1.7zM615.0 102.1h1.7v1.7h-1.7zM591.8 101.2h1.7v1.7h-1.7zM584.2 110.4h1.7v1.7h-1.7zM606.3 92.2h1.7v1.7h-1.7zM624.0 79.7h1.7v1.7h-1.7zM588.5 120.2h1.7v1.7h-1.7zM619.6 89.5h1.7v1.7h-1.7zM597.2 113.3h1.7v1.7h-1.7zM563.8 116.1h1.7v1.7h-1.7zM559.8 122.2h1.7v1.7h-1.7zM624.9 97.9h1.7v1.7h-1.7zM583.2 137.8h1.7v1.7h-1.7zM563.2 124.4h1.7v1.7h-1.7zM548.4 132.9h1.7v1.7h-1.7zM604.1 93.4h1.7v1.7h-1.7zM603.7 108.1h1.7v1.7h-1.7zM577.0 122.0h1.7v1.7h-1.7zM577.9 122.4h1.7v1.7h-1.7zM599.5 109.3h1.7v1.7h-1.7zM624.9 83.6h1.7v1.7h-1.7zM552.6 123.5h1.7v1.7h-1.7zM565.1 112.3h1.7v1.7h-1.7zM550.6 125.8h1.7v1.7h-1.7zM607.8 105.8h1.7v1.7h-1.7zM632.7 85.9h1.7v1.7h-1.7zM582.7 104.2h1.7v1.7h-1.7zM549.7 127.7h1.7v1.7h-1.7zM606.0 99.0h1.7v1.7h-1.7zM548.4 128.4h1.7v1.7h-1.7zM622.6 93.3h1.7v1.7h-1.7zM597.5 118.3h1.7v1.7h-1.7zM587.8 113.9h1.7v1.7h-1.7zM651.8 59.4h1.7v1.7h-1.7zM593.4 110.0h1.7v1.7h-1.7zM609.5 93.0h1.7v1.7h-1.7zM593.8 101.3h1.7v1.7h-1.7zM666.3 54.6h1.7v1.7h-1.7zM608.8 102.8h1.7v1.7h-1.7zM587.7 108.1h1.7v1.7h-1.7zM556.6 127.6h1.7v1.7h-1.7zM566.3 124.8h1.7v1.7h-1.7zM639.8 76.6h1.7v1.7h-1.7zM617.6 92.0h1.7v1.7h-1.7zM617.2 90.4h1.7v1.7h-1.7zM619.0 92.0h1.7v1.7h-1.7zM598.6 108.7h1.7v1.7h-1.7zM609.2 94.6h1.7v1.7h-1.7zM610.8 97.7h1.7v1.7h-1.7zM566.0 122.1h1.7v1.7h-1.7zM611.9 89.9h1.7v1.7h-1.7zM564.9 124.1h1.7v1.7h-1.7zM637.9 68.1h1.7v1.7h-1.7zM554.3 130.5h1.7v1.7h-1.7zM552.8 122.0h1.7v1.7h-1.7zM586.7 104.4h1.7v1.7h-1.7zM582.4 122.1h1.7v1.7h-1.7zM572.8 112.7h1.7v1.7h-1.7zM571.5 106.2h1.7v1.7h-1.7zM628.8 86.4h1.7v1.7h-1.7zM578.4 108.0h1.7v1.7h-1.7zM613.9 97.0h1.7v1.7h-1.7zM564.4 127.7h1.7v1.7h-1.7zM623.4 84.9h1.7v1.7h-1.7zM577.2 114.6h1.7v1.7h-1.7zM631.2 80.6h1.7v1.7h-1.7zM573.4 125.3h1.7v1.7h-1.7zM637.0 71.5h1.7v1.7h-1.7zM547.9 127.4h1.7v1.7h-1.7zM595.3 107.1h1.7v1.7h-1.7zM588.5 112.2h1.7v1.7h-1.7zM591.4 116.5h1.7v1.7h-1.7zM630.2 77.0h1.7v1.7h-1.7zM597.0 106.6h1.7v1.7h-1.7zM610.4 91.7h1.7v1.7h-1.7zM567.1 124.4h1.7v1.7h-1.7zM636.0 71.7h1.7v1.7h-1.7zM595.2 112.8h1.7v1.7h-1.7zM616.3 98.7h1.7v1.7h-1.7zM665.4 54.1h1.7v1.7h-1.7zM610.0 88.9h1.7v1.7h-1.7zM566.5 123.1h1.7v1.7h-1.7zM563.2 127.9h1.7v1.7h-1.7zM567.4 112.2h1.7v1.7h-1.7zM590.1 108.3h1.7v1.7h-1.7zM649.3 60.3h1.7v1.7h-1.7zM592.2 98.1h1.7v1.7h-1.7zM559.8 109.9h1.7v1.7h-1.7zM572.4 122.0h1.7v1.7h-1.7zM614.8 81.4h1.7v1.7h-1.7zM564.7 123.7h1.7v1.7h-1.7zM555.6 120.3h1.7v1.7h-1.7zM617.3 92.7h1.7v1.7h-1.7zM570.8 121.2h1.7v1.7h-1.7zM640.3 68.9h1.7v1.7h-1.7zM617.6 84.6h1.7v1.7h-1.7zM626.6 71.8h1.7v1.7h-1.7zM588.5 118.7h1.7v1.7h-1.7zM573.0 111.1h1.7v1.7h-1.7zM585.4 106.7h1.7v1.7h-1.7zM601.0 91.6h1.7v1.7h-1.7zM568.0 139.9h1.7v1.7h-1.7zM572.6 123.3h1.7v1.7h-1.7zM564.7 116.5h1.7v1.7h-1.7zM567.8 113.8h1.7v1.7h-1.7zM613.0 96.4h1.7v1.7h-1.7zM570.2 117.6h1.7v1.7h-1.7zM565.5 125.6h1.7v1.7h-1.7zM571.4 114.6h1.7v1.7h-1.7zM610.4 101.4h1.7v1.7h-1.7zM568.5 119.5h1.7v1.7h-1.7zM613.2 79.6h1.7v1.7h-1.7zM561.5 124.3h1.7v1.7h-1.7zM580.2 122.6h1.7v1.7h-1.7zM563.8 123.2h1.7v1.7h-1.7zM609.2 96.0h1.7v1.7h-1.7zM552.3 140.3h1.7v1.7h-1.7zM639.8 68.3h1.7v1.7h-1.7zM588.5 102.8h1.7v1.7h-1.7zM563.2 123.3h1.7v1.7h-1.7zM602.8 100.2h1.7v1.7h-1.7zM563.1 124.4h1.7v1.7h-1.7zM563.3 118.7h1.7v1.7h-1.7zM577.4 126.5h1.7v1.7h-1.7zM593.6 108.2h1.7v1.7h-1.7zM584.3 116.6h1.7v1.7h-1.7zM556.2 121.7h1.7v1.7h-1.7zM556.7 125.7h1.7v1.7h-1.7zM562.7 119.3h1.7v1.7h-1.7zM573.8 114.8h1.7v1.7h-1.7zM581.8 126.1h1.7v1.7h-1.7zM581.7 121.2h1.7v1.7h-1.7zM596.7 97.8h1.7v1.7h-1.7zM563.1 118.3h1.7v1.7h-1.7zM566.0 127.9h1.7v1.7h-1.7zM565.7 111.7h1.7v1.7h-1.7zM568.2 121.6h1.7v1.7h-1.7zM548.1 130.0h1.7v1.7h-1.7zM606.6 103.1h1.7v1.7h-1.7zM560.3 119.3h1.7v1.7h-1.7zM599.9 108.2h1.7v1.7h-1.7zM632.9 79.7h1.7v1.7h-1.7zM558.4 123.7h1.7v1.7h-1.7zM580.6 114.5h1.7v1.7h-1.7zM617.3 99.5h1.7v1.7h-1.7zM578.6 119.8h1.7v1.7h-1.7zM631.3 86.7h1.7v1.7h-1.7zM560.8 138.7h1.7v1.7h-1.7zM560.1 121.8h1.7v1.7h-1.7zM564.0 119.2h1.7v1.7h-1.7zM670.6 51.0h1.7v1.7h-1.7zM592.8 110.6h1.7v1.7h-1.7zM571.5 120.3h1.7v1.7h-1.7zM609.5 88.5h1.7v1.7h-1.7zM611.4 104.4h1.7v1.7h-1.7zM624.2 87.8h1.7v1.7h-1.7zM577.0 111.1h1.7v1.7h-1.7zM635.2 76.7h1.7v1.7h-1.7zM573.5 105.0h1.7v1.7h-1.7zM589.4 107.0h1.7v1.7h-1.7zM637.5 73.8h1.7v1.7h-1.7zM572.8 122.4h1.7v1.7h-1.7zM559.2 125.8h1.7v1.7h-1.7zM571.9 108.6h1.7v1.7h-1.7zM576.7 111.5h1.7v1.7h-1.7zM634.0 78.4h1.7v1.7h-1.7zM603.7 112.3h1.7v1.7h-1.7zM608.2 98.8h1.7v1.7h-1.7zM625.8 79.7h1.7v1.7h-1.7zM566.8 114.2h1.7v1.7h-1.7zM568.5 120.2h1.7v1.7h-1.7zM555.9 104.2h1.7v1.7h-1.7zM606.6 88.4h1.7v1.7h-1.7zM658.2 54.9h1.7v1.7h-1.7zM591.5 114.9h1.7v1.7h-1.7zM602.8 103.4h1.7v1.7h-1.7zM559.7 129.0h1.7v1.7h-1.7zM633.0 83.4h1.7v1.7h-1.7zM576.7 109.3h1.7v1.7h-1.7zM588.4 114.1h1.7v1.7h-1.7zM595.1 101.6h1.7v1.7h-1.7zM557.5 138.8h1.7v1.7h-1.7zM584.1 119.4h1.7v1.7h-1.7zM572.6 117.6h1.7v1.7h-1.7zM622.8 90.0h1.7v1.7h-1.7zM611.6 103.9h1.7v1.7h-1.7zM598.0 97.5h1.7v1.7h-1.7zM561.4 119.8h1.7v1.7h-1.7zM609.8 93.4h1.7v1.7h-1.7zM624.3 90.1h1.7v1.7h-1.7zM584.7 116.9h1.7v1.7h-1.7zM551.9 128.2h1.7v1.7h-1.7zM604.2 108.9h1.7v1.7h-1.7zM588.0 103.1h1.7v1.7h-1.7zM548.7 134.9h1.7v1.7h-1.7zM577.9 123.4h1.7v1.7h-1.7zM610.4 107.1h1.7v1.7h-1.7zM587.6 100.6h1.7v1.7h-1.7zM635.6 73.3h1.7v1.7h-1.7zM609.3 114.7h1.7v1.7h-1.7zM604.4 102.4h1.7v1.7h-1.7zM614.4 85.1h1.7v1.7h-1.7zM601.8 104.7h1.7v1.7h-1.7zM589.0 108.5h1.7v1.7h-1.7zM588.7 104.6h1.7v1.7h-1.7zM575.7 117.0h1.7v1.7h-1.7zM530.5 130.0h1.7v1.7h-1.7z" fill="#000"/>
<path d="M526.0 36.9H523.0M526.0 36.199999999999996V149.70000000000002M523.0 145.9H698.2V149.70000000000002" stroke="#000" stroke-width="1.6" fill="none"/>
<path d="M523.0 73.2H526.0" stroke="#000" stroke-width="1.6"/>
<path d="M523.0 109.5H526.0" stroke="#000" stroke-width="1.6"/>
<path d="M583.4 145.9V149.70000000000002" stroke="#000" stroke-width="1.6"/>
<path d="M640.8 145.9V149.70000000000002" stroke="#000" stroke-width="1.6"/>
<text x="518.7" y="44.5" font-size="13" text-anchor="end">10<tspan font-size="9" dy="-4.6">9</tspan></text>
<text x="518.7" y="80.8" font-size="13" text-anchor="end">10<tspan font-size="9" dy="-4.6">7</tspan></text>
<text x="518.7" y="117.1" font-size="13" text-anchor="end">10<tspan font-size="9" dy="-4.6">5</tspan></text>
<text x="526.6" y="166.3" font-size="13" text-anchor="middle">10<tspan font-size="9" dy="-4.6">3</tspan></text>
<text x="584.0" y="166.3" font-size="13" text-anchor="middle">10<tspan font-size="9" dy="-4.6">5</tspan></text>
<text x="641.4" y="166.3" font-size="13" text-anchor="middle">10<tspan font-size="9" dy="-4.6">7</tspan></text>
<text x="698.8" y="166.3" font-size="13" text-anchor="middle">10<tspan font-size="9" dy="-4.6">9</tspan></text>
<text x="617" y="28.5" font-size="13" text-anchor="middle" font-weight="normal" >Ctl vs AD</text>
<text x="611.6" y="179.8" font-size="13" text-anchor="middle" font-weight="normal" >Ctl3 TMT reporter intensity</text>
<text transform="translate(494.5 101.8) rotate(-90)" font-size="13" text-anchor="middle">AD5 TMT reporter intensity</text>
<text x="684" y="131" font-size="13" text-anchor="end" font-weight="normal" >R = 0.76</text>
<path d="M52.4 340.6H216" stroke="#cfcfcf" stroke-width="1"/>
<path d="M52.0 340.8C57.8 340.6 79.0 340.0 86.7 339.4C94.4 338.8 94.8 338.2 98.3 337.0C101.8 335.8 104.9 334.5 107.6 332.2C110.3 329.9 112.6 326.9 114.5 323.0C116.4 319.1 117.8 314.0 119.2 309.0C120.6 304.0 121.6 299.4 122.7 292.9C123.8 286.3 124.9 277.0 126.1 269.7C127.2 262.4 128.4 254.5 129.6 248.8C130.8 243.1 132.1 235.5 133.3 235.5C134.5 235.5 135.7 243.1 136.9 248.8C138.1 254.5 139.2 262.4 140.4 269.7C141.6 277.0 142.9 285.9 144.2 292.9C145.5 299.8 146.5 306.0 148.1 311.4C149.7 316.8 151.5 321.4 154.0 325.3C156.5 329.2 159.0 332.4 163.2 334.6C167.4 336.8 170.6 337.7 179.4 338.7C188.2 339.7 209.9 340.4 216.0 340.8" stroke="#000" stroke-width="2.6" fill="none" stroke-linejoin="round"/>
<path d="M134.1 232.1V344.1" stroke="#c4c4c4" stroke-width="2.8" stroke-dasharray="8.5 9.7" stroke-dashoffset="4"/>
<rect x="52.4" y="232.1" width="163.6" height="112.00000000000003" fill="none" stroke="#000" stroke-width="2.8"/>
<path d="M47.9 340.6H52.4M47.9 323.5H52.4M47.9 306.3H52.4M47.9 289.2H52.4M47.9 272.0H52.4M47.9 254.9H52.4M47.9 237.7H52.4M73.9 344.1V348.6M104.0 344.1V348.6M134.1 344.1V348.6M164.2 344.1V348.6M194.3 344.1V348.6" stroke="#000" stroke-width="2.6"/>
<text x="40.7" y="345.1" font-size="13" text-anchor="end" font-weight="normal" >0</text>
<text x="40.7" y="310.8" font-size="13" text-anchor="end" font-weight="normal" >200</text>
<text x="40.7" y="276.5" font-size="13" text-anchor="end" font-weight="normal" >400</text>
<text x="40.7" y="242.2" font-size="13" text-anchor="end" font-weight="normal" >600</text>
<text x="71.5" y="363.6" font-size="13" text-anchor="middle" font-weight="normal" >-4</text>
<text x="99.4" y="363.6" font-size="13" text-anchor="middle" font-weight="normal" >-2</text>
<text x="134.5" y="363.6" font-size="13" text-anchor="middle" font-weight="normal" >0</text>
<text x="164.4" y="363.6" font-size="13" text-anchor="middle" font-weight="normal" >2</text>
<text x="194.6" y="363.6" font-size="13" text-anchor="middle" font-weight="normal" >4</text>
<text x="134.5" y="223.7" font-size="13" text-anchor="middle" font-weight="normal" >Ctl vs Ctl</text>
<text x="85.5" y="379" font-size="13">Log<tspan font-size="9.5" dy="2.8">2</tspan><tspan dy="-2.8" dx="2.2" letter-spacing="0.2">(Ctl4/Ctl1)</tspan></text>
<text transform="translate(9.65 276) rotate(-90)" font-size="13" text-anchor="middle">Protein #</text>
<text x="209.5" y="251.8" font-size="13" text-anchor="end" font-weight="normal" >SD = 0.60</text>
<path d="M298.3 343.1H461.5" stroke="#cfcfcf" stroke-width="1"/>
<path d="M298.0 343.1C301.9 343.0 314.6 343.0 321.2 342.7C327.8 342.4 333.2 342.0 337.4 341.5C341.6 341.0 343.7 341.0 346.6 339.9C349.5 338.8 352.5 337.0 354.8 334.6C357.1 332.2 358.8 329.6 360.5 325.3C362.2 321.1 363.8 314.9 365.2 309.1C366.6 303.3 367.6 297.4 368.7 290.5C369.8 283.6 370.8 274.7 371.7 267.4C372.6 260.1 373.4 251.6 374.4 246.5C375.4 241.4 376.4 236.6 377.5 236.6C378.6 236.6 379.7 241.0 380.7 246.5C381.7 252.0 382.6 261.6 383.7 269.7C384.8 277.8 386.0 287.5 387.2 295.2C388.4 302.9 389.3 309.8 390.7 316.0C392.1 322.2 393.4 328.2 395.3 332.2C397.2 336.1 399.1 338.1 402.2 339.7C405.3 341.3 403.8 341.4 413.8 342.0C423.8 342.6 454.0 342.9 462.0 343.1" stroke="#000" stroke-width="2.6" fill="none" stroke-linejoin="round"/>
<path d="M379.8 232.6V347.2" stroke="#c4c4c4" stroke-width="2.8" stroke-dasharray="8.5 9.7" stroke-dashoffset="4"/>
<rect x="298.3" y="232.6" width="163.2" height="114.6" fill="none" stroke="#000" stroke-width="2.8"/>
<path d="M293.8 343.1H298.3M293.8 328.1H298.3M293.8 313.1H298.3M293.8 298.1H298.3M293.8 283.1H298.3M293.8 268.1H298.3M293.8 253.1H298.3M293.8 238.1H298.3M319.3 347.2V351.7M349.6 347.2V351.7M379.8 347.2V351.7M410.1 347.2V351.7M440.3 347.2V351.7" stroke="#000" stroke-width="2.6"/>
<text x="286.2" y="347.6" font-size="13" text-anchor="end" font-weight="normal" >0</text>
<text x="286.2" y="317.6" font-size="13" text-anchor="end" font-weight="normal" >200</text>
<text x="286.2" y="287.6" font-size="13" text-anchor="end" font-weight="normal" >400</text>
<text x="286.2" y="257.6" font-size="13" text-anchor="end" font-weight="normal" >600</text>
<text x="316.9" y="366.7" font-size="13" text-anchor="middle" font-weight="normal" >-4</text>
<text x="344.9" y="366.7" font-size="13" text-anchor="middle" font-weight="normal" >-2</text>
<text x="380.2" y="366.7" font-size="13" text-anchor="middle" font-weight="normal" >0</text>
<text x="410.2" y="366.7" font-size="13" text-anchor="middle" font-weight="normal" >2</text>
<text x="440.6" y="366.7" font-size="13" text-anchor="middle" font-weight="normal" >4</text>
<text x="378.2" y="223.7" font-size="13" text-anchor="middle" font-weight="normal" >AD vs AD</text>
<text x="329.6" y="379" font-size="13">Log<tspan font-size="9.5" dy="2.8">2</tspan><tspan dy="-2.8" dx="2.2" letter-spacing="0.2">(AD6/AD3)</tspan></text>
<text transform="translate(256.5 272.7) rotate(-90)" font-size="13" text-anchor="middle">Protein #</text>
<text x="455.0" y="251.8" font-size="13" text-anchor="end" font-weight="normal" >SD = 0.50</text>
<path d="M533.4 340.6H699.3" stroke="#cfcfcf" stroke-width="1"/>
<path d="M533.0 338.9C534.6 338.7 538.5 339.3 542.4 337.7C546.3 336.1 552.7 332.3 556.6 329.4C560.5 326.4 562.9 324.3 566.0 320.0C569.1 315.7 572.8 308.6 575.5 303.5C578.2 298.4 579.8 294.8 582.5 289.3C585.2 283.8 588.9 276.4 592.0 270.5C595.1 264.6 599.2 258.3 601.4 254.0C603.6 249.7 603.6 247.6 605.0 244.5C606.4 241.4 608.1 236.3 609.7 235.5C611.3 234.7 613.0 237.1 614.4 239.8C615.8 242.5 616.5 245.7 617.9 251.6C619.3 257.5 621.0 267.3 622.6 275.2C624.2 283.1 625.5 291.7 627.3 298.8C629.1 305.9 630.8 312.5 633.2 317.6C635.6 322.7 637.8 326.3 641.5 329.4C645.2 332.5 650.1 334.4 655.6 336.0C661.1 337.6 667.1 338.1 674.5 338.9C681.9 339.6 695.8 340.2 700.0 340.5" stroke="#000" stroke-width="2.6" fill="none" stroke-linejoin="round"/>
<path d="M616.1 232.1V344.2" stroke="#c4c4c4" stroke-width="2.8" stroke-dasharray="8.5 9.7" stroke-dashoffset="4"/>
<rect x="533.4" y="232.1" width="165.89999999999998" height="112.1" fill="none" stroke="#000" stroke-width="2.8"/>
<path d="M528.9 340.6H533.4M528.9 325.1H533.4M528.9 309.6H533.4M528.9 294.1H533.4M528.9 278.6H533.4M528.9 263.1H533.4M528.9 247.6H533.4M528.9 232.1H533.4M554.5 344.2V348.7M585.3 344.2V348.7M616.1 344.2V348.7M646.9 344.2V348.7M677.7 344.2V348.7" stroke="#000" stroke-width="2.6"/>
<text x="523.4" y="345.1" font-size="13" text-anchor="end" font-weight="normal" >0</text>
<text x="523.4" y="314.1" font-size="13" text-anchor="end" font-weight="normal" >100</text>
<text x="523.4" y="283.1" font-size="13" text-anchor="end" font-weight="normal" >200</text>
<text x="523.4" y="252.1" font-size="13" text-anchor="end" font-weight="normal" >300</text>
<text x="552.1" y="363.7" font-size="13" text-anchor="middle" font-weight="normal" >-4</text>
<text x="580.7" y="363.7" font-size="13" text-anchor="middle" font-weight="normal" >-2</text>
<text x="616.5" y="363.7" font-size="13" text-anchor="middle" font-weight="normal" >0</text>
<text x="647.1" y="363.7" font-size="13" text-anchor="middle" font-weight="normal" >2</text>
<text x="678.0" y="363.7" font-size="13" text-anchor="middle" font-weight="normal" >4</text>
<text x="617" y="223.7" font-size="13" text-anchor="middle" font-weight="normal" >Ctl vs AD</text>
<text x="565.5" y="379" font-size="13">Log<tspan font-size="9.5" dy="2.8">2</tspan><tspan dy="-2.8" dx="2.2" letter-spacing="0.2">(AD5/Ctl3)</tspan></text>
<text transform="translate(493.5 274.8) rotate(-90)" font-size="13" text-anchor="middle">Protein #</text>
<text x="692.8" y="251.8" font-size="13" text-anchor="end" font-weight="normal" >SD = 1.03</text>
<path d="M105.5 421V535" stroke="#e9e9e9" stroke-width="0.9"/>
<path d="M132.5 421V535" stroke="#e9e9e9" stroke-width="0.9"/>
<path d="M160 421V535" stroke="#e9e9e9" stroke-width="0.9"/>
<path d="M188.5 421V535" stroke="#e9e9e9" stroke-width="0.9"/>
<path d="M82 425H206" stroke="#e9e9e9" stroke-width="0.9"/>
<path d="M82 457H206" stroke="#e9e9e9" stroke-width="0.9"/>
<path d="M82 488H206" stroke="#e9e9e9" stroke-width="0.9"/>
<path d="M82 520H206" stroke="#e9e9e9" stroke-width="0.9"/>
<path d="M36.8 417.1V543.6" stroke="#e9e9e9" stroke-width="0.9"/>
<path d="M48.3 419.1V539.6" stroke="#e9e9e9" stroke-width="0.9"/>
<path d="M58.5 420.9V536.1" stroke="#e9e9e9" stroke-width="0.9"/>
<path d="M68.2 422.6V532.8" stroke="#e9e9e9" stroke-width="0.9"/>
<path d="M82 425L25 415.0" stroke="#e9e9e9" stroke-width="0.9"/>
<path d="M82 457L25 457.0" stroke="#e9e9e9" stroke-width="0.9"/>
<path d="M82 488L25 497.7" stroke="#e9e9e9" stroke-width="0.9"/>
<path d="M82 520L25 539.7" stroke="#e9e9e9" stroke-width="0.9"/>
<path d="M105.5 535L45.5 579" stroke="#e9e9e9" stroke-width="0.9"/>
<path d="M132.5 535L72.5 579" stroke="#e9e9e9" stroke-width="0.9"/>
<path d="M160 535L100 579" stroke="#e9e9e9" stroke-width="0.9"/>
<path d="M188.5 535L128.5 579" stroke="#e9e9e9" stroke-width="0.9"/>
<path d="M90.0 528L210 534" stroke="#e9e9e9" stroke-width="0.9"/>
<path d="M79.2 537L210 543" stroke="#e9e9e9" stroke-width="0.9"/>
<path d="M68.4 546L210 552" stroke="#e9e9e9" stroke-width="0.9"/>
<path d="M56.4 556L210 562" stroke="#e9e9e9" stroke-width="0.9"/>
<path d="M43.2 567L210 573" stroke="#e9e9e9" stroke-width="0.9"/>
<ellipse cx="126" cy="456.3" rx="88.8" ry="28" transform="rotate(32.15 126 456.3)" fill="none" stroke="#333" stroke-width="1.1" stroke-dasharray="3.2 2.4"/>
<ellipse cx="106.85" cy="525.2" rx="72.9" ry="50.7" transform="rotate(1 106.85 525.2)" fill="none" stroke="#d04040" stroke-width="1.1" stroke-dasharray="3.2 2.4"/>
<path d="M81.8 425.8V517.8H79.5M79.5 425.8H81.8M79.5 456.7H81.8M79.5 488H81.8" stroke="#000" stroke-width="2" fill="none"/>
<path d="M34 556.5L77.2 536.3" stroke="#000" stroke-width="2.2"/>
<path d="M105.3 537.5V535L186.2 539V541.5M131.8 536.3V539M159.5 537.6V540.2" stroke="#000" stroke-width="2.2" fill="none"/>
<ellipse cx="72.3" cy="419.2" rx="5.1" ry="4.45" fill="url(#gk)"/>
<ellipse cx="98.35" cy="461" rx="4.1" ry="3.9" fill="url(#gk)"/>
<ellipse cx="133" cy="449.7" rx="4.05" ry="3.6" fill="url(#gk)"/>
<ellipse cx="138" cy="455.1" rx="3.9" ry="3.6" fill="url(#gk)"/>
<ellipse cx="184" cy="497" rx="5.2" ry="4.2" fill="url(#gk)"/>
<ellipse cx="214.9" cy="431.8" rx="5.2" ry="4.6" fill="url(#gk)"/>
<ellipse cx="108.2" cy="481" rx="4" ry="3.6" fill="url(#gr)"/>
<ellipse cx="117.9" cy="512.9" rx="4" ry="3.5" fill="url(#gr)"/>
<ellipse cx="144.3" cy="534.7" rx="4.15" ry="3.8" fill="url(#gr)"/>
<ellipse cx="169" cy="540.2" rx="4" ry="3.8" fill="url(#gr)"/>
<ellipse cx="55.4" cy="532" rx="4.4" ry="3.8" fill="url(#gr)"/>
<ellipse cx="50.55" cy="546.1" rx="4.55" ry="4.1" fill="url(#gr)"/>
<ellipse cx="214.6" cy="453.5" rx="5.2" ry="4.7" fill="url(#gr)"/>
<text x="226" y="437.8" font-size="13">Ctl</text>
<text x="226" y="458.5" font-size="13">AD</text>
<text x="43.5" y="472.8" font-size="13">PC3</text>
<text x="192" y="539.6" font-size="13">PC2</text>
<text x="8.5" y="572" font-size="13">PC1</text>
<text x="77.5" y="433.5" font-size="10" text-anchor="end">40</text>
<text x="77.5" y="462.5" font-size="10" text-anchor="end">20</text>
<text x="76" y="491.6" font-size="10" text-anchor="end">0</text>
<text x="78.5" y="523" font-size="10" text-anchor="end">-20</text>
<text x="105.7" y="548.7" font-size="10" text-anchor="end">-20</text>
<text x="134.5" y="551" font-size="10" text-anchor="end">0</text>
<text x="164" y="554" font-size="10" text-anchor="end">20</text>
<text x="194" y="555.5" font-size="10" text-anchor="end">40</text>
<text x="79.2" y="550.8" font-size="10" text-anchor="end">-40</text>
<text x="67.3" y="556.8" font-size="10" text-anchor="end">-20</text>
<text x="52.6" y="563.2" font-size="10" text-anchor="end">0</text>
<text x="45.3" y="567.8" font-size="10" text-anchor="end">20</text>
</svg></body></html>
